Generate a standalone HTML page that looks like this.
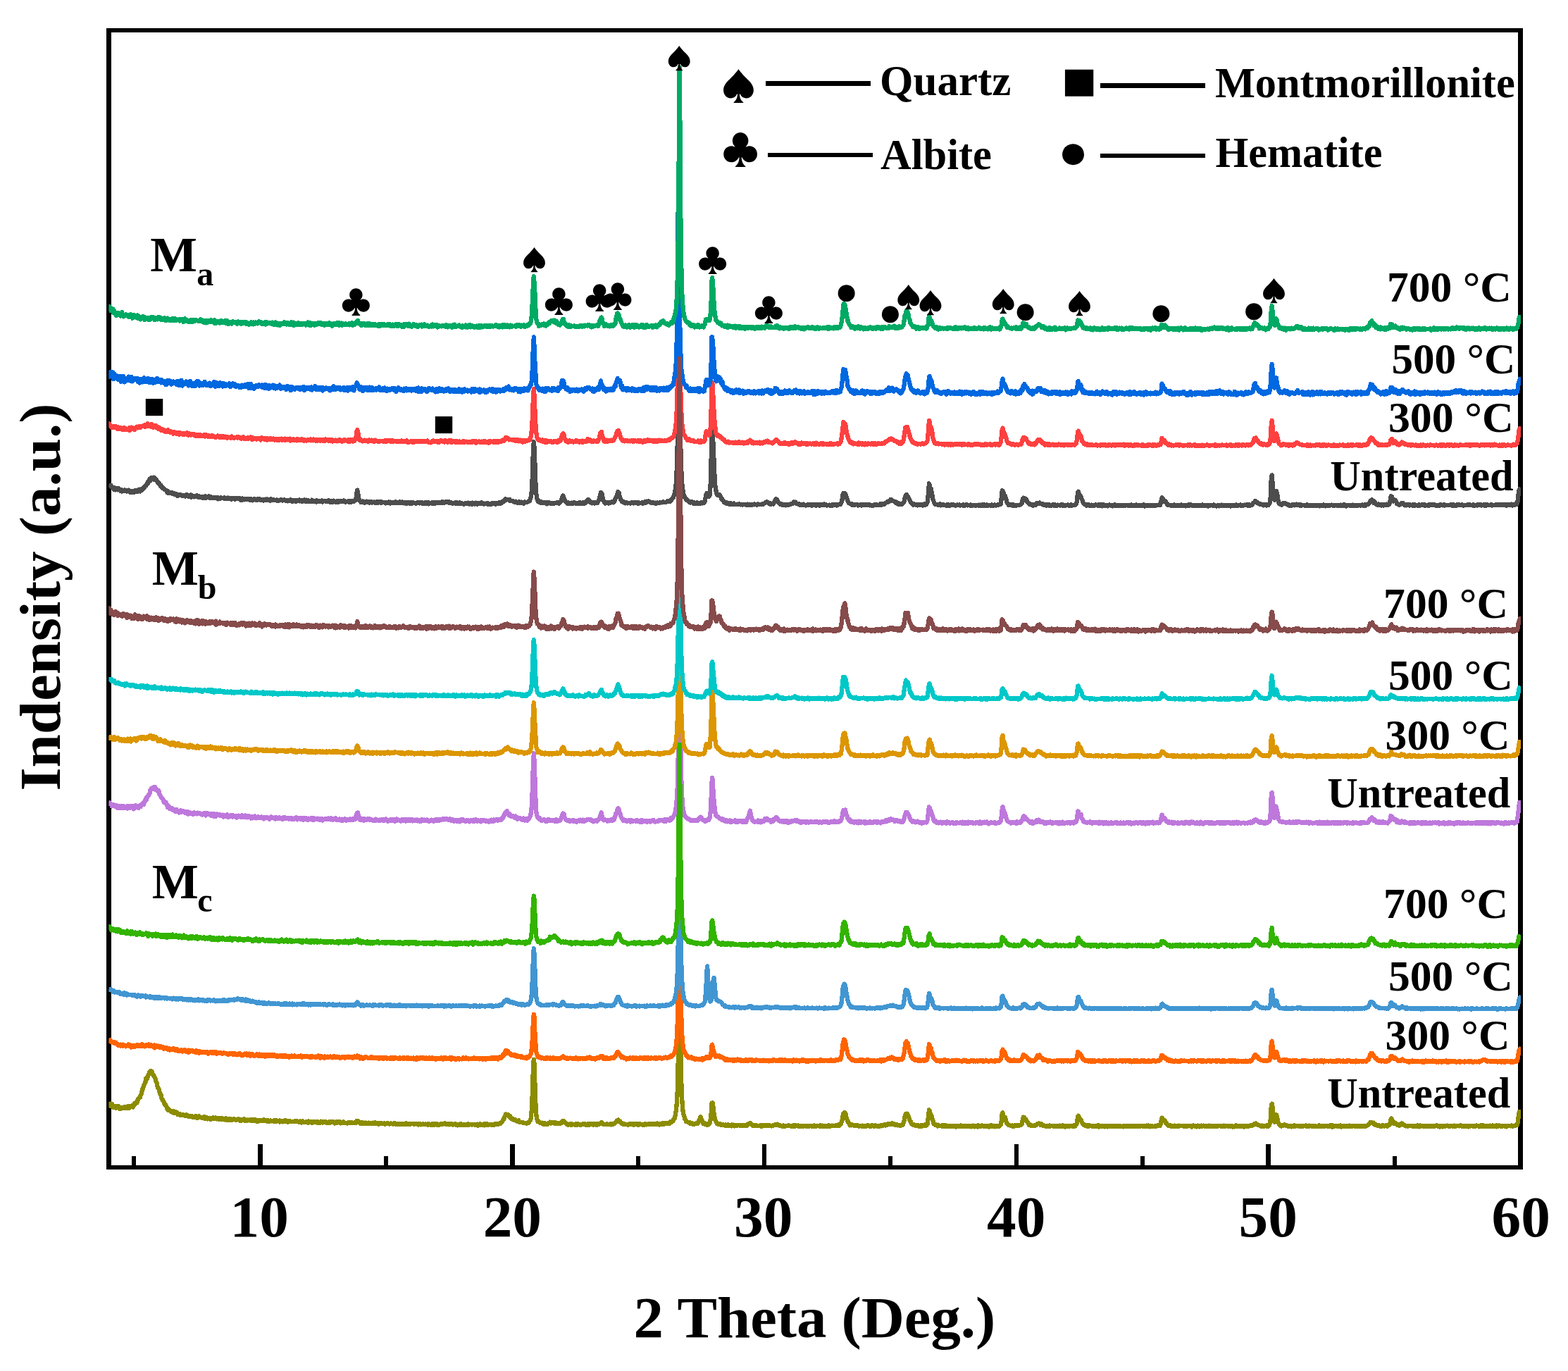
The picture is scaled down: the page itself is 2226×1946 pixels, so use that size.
<!DOCTYPE html>
<html lang="en"><head><meta charset="utf-8"><title>XRD patterns</title>
<style>html,body{margin:0;padding:0;background:#fff}body{width:2226px;height:1946px;overflow:hidden}svg{display:block}text{font-family:"Liberation Serif","Times New Roman",serif;font-weight:bold;fill:#000}.sym{font-family:"Noto Sans CJK SC","DejaVu Sans",sans-serif;font-weight:normal}.c path{fill:none;stroke-width:6.3;stroke-linejoin:round;stroke-linecap:butt}</style></head><body>
<svg width="2226" height="1946" viewBox="0 0 2226 1946">
<rect width="2226" height="1946" fill="#fff"/>
<g id="frame" fill="#000" shape-rendering="crispEdges">
<rect x="151.2" y="40" width="6.8" height="1620.3"/>
<rect x="2155.1" y="40" width="6.8" height="1620.3"/>
<rect x="151.2" y="40" width="2010.7" height="6"/>
<rect x="151.2" y="1654" width="2010.7" height="6.3"/>
<rect x="366.0" y="1624" width="6.7" height="31"/>
<rect x="723.9" y="1624" width="6.7" height="31"/>
<rect x="1081.7" y="1624" width="6.7" height="31"/>
<rect x="1439.6" y="1624" width="6.7" height="31"/>
<rect x="1797.4" y="1624" width="6.7" height="31"/>
<rect x="187.4" y="1641" width="6" height="14"/>
<rect x="545.2" y="1641" width="6" height="14"/>
<rect x="903.1" y="1641" width="6" height="14"/>
<rect x="1261.0" y="1641" width="6" height="14"/>
<rect x="1618.8" y="1641" width="6" height="14"/>
<rect x="1976.7" y="1641" width="6" height="14"/>
</g>
<clipPath id="pc"><rect x="154.4" y="0" width="2004.6" height="1660"/></clipPath>
<g class="c" shape-rendering="crispEdges" clip-path="url(#pc)">
<path id="cv_a0" stroke="#4d4d4d" d="M154.5 686.6l.7 1.9l.7 1l.7 .2l.8-1l.7 2.5l.7 .2l.7 .4l.7 .6l.7 .8l.8 1.4l.7-2.2l.7 1l.7 1.9l.7-2.6l.7 1.8l.8-.7l.7 .8l.7 .7l.7-2.1l.7 1.1l.7-.2l.7 1.2l.8-.2l.7 2.1l.7-1.8l.7 2.3l.7-1.8l.7 .7l.8-.1l.7 .1l.7-1l.7 1.4l.7 .2l.7-.1l.8 .4l.7-1.2l.7 .5l.7-.3l.7-.8l.7 1.8l.7-.8l.8 .5l.7 2.1l.7-1.7l.7-.1l.7 .8l.7 .2l.8 .5l.7-2.1l.7 2.1l.7-1.7l.7-1l.7 .2l.7 1.7l.8-.4l.7 .4l.7-2.1l.7 .4l.7-.9l.7-.9l.8 1.5l.7 1.2l.7-.8l.7-2.1l.7 1.4l.7-2l.8 .3l.7-.1l.7-1.8l.7-1.2l.7 .8l.7-1.6l.7-1.2l.8 .3l.7-1.8l.7-.3l.7-2.4l.7 .8l.7-2.8l.8-.3l.7-2.5l.7 2.5l.7-1.9l.7-.2l.7-2.8l.8 1.7l.7-.7l.7 1.7l.7-2.8l.7 2.4l.7 1.1l.7-1.9l.8 1.9l.7-.6l.7 1.9l.7 1.1l.7 1.8l.7-.4l.8 0l.7 2.2l.7 .2l.7 2l.7-.9l.7 2.8l.7-.4l.8 .9l.7 1.5l.7-.7l.7 .7l.7 1.6l.7 .1l.8 .7l.7 .1l.7 .7l.7 1.5l.7 1.4l.7-2.5l.8 2.9l.7-.3l.7 .7l.7-.5l.7-.5l.7 .7l.7-.4l.8-.4l.7 1.6l.7 .4l.7-.2l.7 .5l.7-1.2l.8 2.2l.7-.8l.7 .3l.7 .6l.7-.9l.7 2.4l.8-.7l.7 .1l.7-.8l.7-.6l.7 1.1l.7-.9l.7 .8l.8 .1l.7 .9l.7-.6l.7-.2l.7 1.1l.7-1.1l.8-.3l.7 .1l.7 1.6l.7-1l.7-.4l.7-1.1l.8 .8l.7 1.1l.7 .3l.7 .9l.7-1.7l.7 .9l.7 .7l.8-2.6l.7 3.4l.7-2.5l.7 .1l.7 1.6l.7-.3l.8 .7l.7-.4l.7-.2l.7-.3l.7-.4l.7 1.1l.8-1.9l.7 1.4l.7 .8l.7-1.4l.7 1.5l.7 .2l.7-.6l.8-.2l.7 .6l.7 .1l.7-.6l.7 1.8l.7-.3l.8-.4l.7 .4l.7-.1l.7-1.9l.7 2.7l.7-2.6l.7 1.2l.8-.9l.7 1.3l.7 0l.7-.1l.7-1.8l.7 2.3l.8-.4l.7-1.6l.7 2.6l.7-1.2l.7-.3l.7 .9l.8-.7l.7 .7l.7-.5l.7-.3l.7-.1l.7 1.4l.7-.5l.8-.5l.7 .1l.7-.1l.7 2.2l.7-1.2l.7-.1l.8 1l.7-1.6l.7-.2l.7 .4l.7 .6l.7-.3l.8 0l.7 .4l.7-.4l.7-.5l.7 1.4l.7-.7l.7 0l.8 .6l.7 0l.7-1.1l.7 .4l.7-.5l.7 .2l.8 1.1l.7-.5l.7-.3l.7-.3l.7 1.9l.7-1.2l.7 .5l.8-.2l.7-.5l.7 1l.7-.2l.7 .8l.7-.4l.8-1.3l.7 .8l.7 .1l.7 0l.7-.8l.7-.2l.8 1.1l.7 .3l.7-1l.7 2.1l.7-.8l.7-.7l.7 1.7l.8-2.4l.7 .4l.7 0l.7 1.5l.7-1.3l.7 1.1l.8-.3l.7-.6l.7 .5l.7-.8l.7 1.4l.7-1.2l.8 .1l.7 1l.7-.7l.7 1.6l.7-.3l.7-2l.7 1.2l.8-.2l.7 1.6l.7-1.8l.7 0l.7 .3l.7 0l.8-.4l.7 .8l.7-.6l.7-.1l.7 1.6l.7-.9l.8-.8l.7-.2l.7 .7l.7-.6l.7 0l.7 1.6l.7-.8l.8-.2l.7 .5l.7-.5l.7 .4l.7 1.2l.7-1.2l.8-.3l.7-.4l.7 1.2l.7-.5l.7 .4l.7-1.3l.8 .8l.7 .4l.7 .3l.7-.2l.7-.3l.7 1l.7-.8l.8-1.4l.7 .6l.7 .8l.7 .2l.7-1l.7 .1l.8 1.1l.7-.1l.7 .1l.7 .2l.7-.4l.7-.5l.7 1.4l.8-.2l.7 .5l.7-.8l.7-.2l.7 .1l.7 .1l.8-1.4l.7 1.1l.7-.1l.7 .5l.7 0l.7-.4l.8-.1l.7-.5l.7 1l.7-.4l.7 .1l.7 .9l.7 0l.8-.9l.7 1.3l.7-.6l.7-.4l.7-.6l.7 0l.8 1.2l.7-1.8l.7 2.3l.7-.6l.7-.7l.7 1.3l.8-.9l.7-.9l.7 .4l.7-.3l.7 0l.7 2l.7-1.2l.8-.1l.7 .6l.7-.1l.7-.8l.7-.2l.7-.6l.8 1.9l.7-.8l.7 .8l.7-.6l.7-.8l.7 .5l.7 1.3l.8-1.3l.7 .7l.7-1.6l.7 .8l.7 1.2l.7-1.8l.8 1.9l.7-1l.7-.1l.7 1.4l.7-1.3l.7 1.1l.8-.9l.7 .5l.7 .4l.7 .1l.7-.9l.7-1.2l.7 2.5l.8-1.4l.7 1.2l.7-1.3l.7 .2l.7 .4l.7-.1l.8 1.3l.7-2.3l.7 .7l.7 .6l.7 .1l.7-.2l.8 .1l.7 .5l.7-1l.7 0l.7 .3l.7 .5l.7-1.3l.8 2.1l.7-1.4l.7-.1l.7 .2l.7-.5l.7 .1l.8 .4l.7 .5l.7 .2l.7-.7l.7 .1l.7 .5l.8-1.5l.7 1.1l.7 .8l.7 .4l.7-1.2l.7-.7l.7 .5l.8 1.2l.7 .5l.7-1.4l.7-.8l.7 1l.7 .4l.8 .1l.7-.3l.7 1.1l.7-1.3l.7 1.3l.7-1.9l.8 1.5l.7-.2l.7-.1l.7-1l.7 .4l.7-.6l.7 .7l.8 .2l.7 .2l.7-1.1l.7 .3l.7-.8l.7 1.3l.8-.6l.7 1.2l.7-.9l.7 .6l.7-.5l.7 .2l.7-.1l.8-.6l.7 1.3l.7-1.1l.7 1.3l.7-2.1l.7 1l.8 .8l.7 0l.7-1.7l.7 1.2l.7 0l.7-.1l.8-.5l.7-.6l.7-.3l.7-1.8l.7-3.7l.7-6l.7-3.4l.8 4.2l.7 3.5l.7 4.6l.7 2.2l.7 1.3l.7 .4l.8 1.3l.7-.7l.7 .3l.7-.7l.7-.4l.7 .5l.8-.1l.7 1.6l.7-.3l.7-.3l.7-.6l.7-.7l.7 .6l.8-.1l.7-.1l.7 .7l.7 .8l.7 .2l.7-1.3l.8 .2l.7 .2l.7-.6l.7 1.2l.7-.5l.7-.2l.7 .3l.8-.6l.7 .2l.7 .9l.7-.2l.7-.5l.7-.9l.8 2.1l.7-.9l.7 .3l.7-1.1l.7 .9l.7 0l.8-.1l.7 .5l.7-1.7l.7 1.7l.7-.9l.7 0l.7 .3l.8 .2l.7-.1l.7-.3l.7 .6l.7 .9l.7-.8l.8-.6l.7 .9l.7-.2l.7-.9l.7 1.2l.7-1.5l.8 1l.7 .9l.7-1.8l.7 .4l.7-.2l.7 1.3l.7-1.2l.8 .4l.7 .3l.7 .3l.7-.1l.7-1l.7-.6l.8 1.7l.7-.5l.7 .4l.7-.7l.7 .3l.7 .8l.8-1.6l.7 .7l.7-.7l.7 1.6l.7-.6l.7-.6l.7-.4l.8 1l.7 0l.7-.1l.7 .8l.7-1.3l.7 1l.8 .5l.7-1.2l.7 .8l.7 .4l.7-1.6l.7 .4l.8-.3l.7 1l.7 .8l.7-1.9l.7 .9l.7 1.2l.7-1.6l.8 .7l.7 0l.7-.6l.7 .8l.7-.3l.7-.2l.8-.1l.7 .9l.7-.6l.7-.5l.7 .1l.7 .5l.7 .1l.8-1.1l.7 1.3l.7-1.1l.7-.3l.7 .8l.7 .4l.8 .3l.7-1.1l.7 .4l.7 .8l.7-.6l.7 .7l.8-.3l.7-1.2l.7 .4l.7 1l.7-1.7l.7 1.7l.7-.6l.8-.4l.7 1.7l.7-1.7l.7 .2l.7 .2l.7 0l.8 .4l.7 0l.7-1.5l.7 1.9l.7-.1l.7-.1l.8-.3l.7-1.1l.7 1.2l.7-.7l.7-.4l.7 .6l.7 .3l.8-1l.7-.1l.7 .9l.7 .1l.7-.9l.7 .3l.8-.2l.7 .7l.7-.8l.7-1.3l.7 .5l.7 1.1l.7 0l.8-.1l.7-.9l.7-.5l.7 1l.7-.5l.7-.1l.8-.2l.7 .6l.7-.6l.7 .4l.7 1.4l.7-1.1l.8 .9l.7-.5l.7 .3l.7 0l.7 1.2l.7-.9l.7 0l.8 .1l.7-.3l.7 1l.7-1l.7-.3l.7 1l.8 .2l.7-.9l.7 .9l.7-.2l.7-.8l.7-.2l.8 1.3l.7-.1l.7 .4l.7-1.1l.7 1.4l.7-.6l.7 .2l.8 .8l.7-1l.7-.1l.7-.1l.7-.6l.7 .8l.8-.8l.7 .2l.7-.4l.7 1.4l.7-.4l.7 .7l.8-1l.7 .1l.7-.1l.7-.2l.7 1.5l.7-2.1l.7 1.8l.8 0l.7-.9l.7 .3l.7 .8l.7-.8l.7-1.1l.8 .7l.7 1.1l.7-1.2l.7 1.1l.7-.8l.7 .6l.8-.7l.7-.1l.7 .2l.7-1l.7 1.5l.7-1.5l.7 1.1l.8-.5l.7 .8l.7 .5l.7-.7l.7-.2l.7 .3l.8 .1l.7 .2l.7-.7l.7 .9l.7-1.2l.7 .5l.7 1.2l.8-1.1l.7 .3l.7-.2l.7 0l.7 .9l.7-1.1l.8-.8l.7 .7l.7 .2l.7-.4l.7-.1l.7 1l.8-.4l.7 .6l.7-.8l.7-.8l.7 .5l.7-.1l.7-.1l.8 .6l.7-1.5l.7 .8l.7 .8l.7-1.7l.7 .7l.8-.8l.7-1.4l.7-.2l.7 .8l.7-2l.7-.2l.8-.7l.7-1.2l.7 1.3l.7-.1l.7-.3l.7-.2l.7-.2l.8 .2l.7 1.5l.7-1.6l.7 2.2l.7-.1l.7 .3l.8 0l.7-.5l.7 .3l.7 .5l.7 .5l.7 .6l.8-.5l.7 .3l.7-.7l.7 1.1l.7-.2l.7 .9l.7-.4l.8-.4l.7-.6l.7 1.7l.7-1.4l.7 .8l.7 .5l.8 0l.7-1.1l.7 .1l.7 1.3l.7-.2l.7 .8l.7-1.7l.8-.5l.7 .2l.7 .1l.7 .1l.7 .3l.7-.2l.8-.6l.7-.7l.7 .2l.7-1.1l.7 .1l.7-2.3l.8-2.7l.7-3.5l.7-8.9l.7-14.4l.7-23.3l.7-19.1l.7-9.5l.8 8.7l.7 19.9l.7 21.5l.7 15.7l.7 8.6l.7 4.8l.8 3.1l.7 2l.7 .7l.7-.9l.7 0l.7 2.3l.8 .2l.7-.7l.7-.7l.7 1.9l.7-1l.7 0l.7 .4l.8 .3l.7-.9l.7 .2l.7 .8l.7 0l.7-.8l.8 2.1l.7-.6l.7-.3l.7 .1l.7-1.5l.7 1.2l.8 .3l.7-.2l.7 .1l.7 .1l.7 .6l.7-.3l.7-.9l.8 .9l.7-.8l.7 .3l.7 .1l.7-.2l.7-.1l.8 .2l.7 0l.7-1.4l.7 1.1l.7-.5l.7 1.2l.7-1l.8-.9l.7-.1l.7-1.4l.7-1.6l.7-4l.7-.8l.8-1.3l.7 2.7l.7 1.4l.7 1.5l.7 1.9l.7 1.3l.8 .5l.7 .1l.7 .1l.7 1.5l.7-1.2l.7 .9l.7 .3l.8-.2l.7-.3l.7 .4l.7-.6l.7-.3l.7 1.1l.8-.1l.7 .2l.7-.6l.7-1.1l.7 .9l.7-.2l.8 1l.7-1l.7 .9l.7-.4l.7 .1l.7 0l.7 .1l.8-.9l.7 1.2l.7-1.5l.7 .5l.7-.1l.7 .8l.8-.9l.7 1.4l.7-1.5l.7 1.7l.7-.9l.7-.1l.7-.5l.8-.1l.7-1.7l.7-1.3l.7 .4l.7-1l.7-.9l.8 .3l.7 .9l.7 1.2l.7 1.3l.7-.1l.7 .8l.8 .8l.7-.7l.7 .5l.7-.6l.7 .3l.7-.2l.7 .8l.8-.9l.7-.5l.7 .7l.7-.6l.7 .8l.7-1l.8-1.4l.7-1.9l.7-1.7l.7-3.3l.7-3.3l.7-2.1l.8 1.8l.7-.2l.7 4.1l.7 3.6l.7 2.5l.7 .7l.7 1.1l.8 .1l.7 1.6l.7-1.4l.7 .6l.7-.6l.7 .9l.8-.8l.7 1.3l.7-1.2l.7 .2l.7 0l.7 .2l.8-.6l.7-.8l.7-.2l.7 .8l.7 .5l.7-.5l.7-1l.8-.6l.7-2l.7-1.8l.7-1.6l.7-1.5l.7-2l.8-2.4l.7-2.1l.7 1.3l.7 .2l.7 4.7l.7 1.4l.8 3l.7 1.7l.7 .3l.7 1.5l.7 .3l.7-.4l.7 1.4l.8 .1l.7 .1l.7 .9l.7-1.4l.7-.2l.7 1.4l.8 .2l.7-.3l.7-.3l.7 .2l.7-.1l.7 0l.7-.2l.8 .8l.7-.9l.7-.5l.7 .8l.7-.4l.7-.1l.8 .8l.7-1l.7 .1l.7 .2l.7-.1l.7 .2l.8 .1l.7-.5l.7-.1l.7 1.9l.7-1l.7-.4l.7 .5l.8-.2l.7 0l.7-.3l.7 0l.7-.1l.7 1.2l.8-1.2l.7 .4l.7-.1l.7-1.4l.7 1.5l.7-.8l.8-1.4l.7 1.6l.7-.6l.7-.6l.7-.6l.7-.1l.7 .6l.8 .1l.7 1.2l.7 0l.7 .5l.7-.4l.7 0l.8 0l.7 0l.7 .1l.7 .3l.7 0l.7-.2l.7 1.3l.8-1.2l.7 .1l.7-.3l.7 .6l.7 0l.7-.5l.8 .5l.7-.3l.7-1.1l.7 0l.7 .1l.7 .6l.8-.5l.7-.6l.7 .5l.7 .3l.7-.1l.7 0l.7-.3l.8 .1l.7-.3l.7-.5l.7-.5l.7 .5l.7 .2l.8-1l.7-.2l.7 .5l.7 .2l.7-.7l.7-1.9l.8-.8l.7-.6l.7-.8l.7-1.3l.7-3.5l.7 0l.7-3.6l.8-6l.7-6l.7-12.2l.7-17.4l.7-29.9l.7-60l.8-90.5l.7-62.4l.7 62.7l.7 92l.7 56.7l.7 33.5l.8 15.1l.7 12.7l.7 6l.7 5.4l.7 3l.7 2.3l.7 1.7l.8 1.7l.7 .6l.7 1.2l.7-.3l.7 1.8l.7 .2l.8 .8l.7 0l.7 1.5l.7-.5l.7 .2l.7 1.1l.8-1.2l.7 .9l.7-.7l.7 .4l.7 .1l.7 1.6l.7-1.3l.8 .9l.7-.1l.7 .6l.7-.9l.7-.5l.7 .1l.8 1.5l.7-.4l.7 .5l.7 0l.7-.6l.7-.2l.7 .3l.8-1.1l.7 .5l.7 .1l.7 .4l.7-1.6l.7-.3l.8 1l.7-1.8l.7-3.4l.7-3.7l.7-2.8l.7-1.9l.8 .9l.7 2.3l.7 .8l.7 1l.7-1.1l.7-1.2l.7-8.3l.8-16.5l.7-33.8l.7-38.6l.7-6.2l.7 15.4l.7 19.1l.8 17.1l.7 16.3l.7 15.3l.7 9l.7 3.1l.7 4.5l.8 2.7l.7-.2l.7 1.5l.7-.9l.7 .7l.7 .2l.7-.5l.8 2.2l.7 .7l.7 2.5l.7-.7l.7 1.8l.7 1l.8 1.2l.7 .4l.7 1.8l.7-.4l.7 .3l.7 .4l.7 .7l.8-1.1l.7 .6l.7 .6l.7-.3l.7 .6l.7-.9l.8 2.1l.7-.8l.7 0l.7-.6l.7 1.1l.7 .1l.8-.7l.7 .3l.7-.7l.7 .9l.7 0l.7 .5l.7-.2l.8 .4l.7-.7l.7 .2l.7-.1l.7 .1l.7-.3l.8 .3l.7-.2l.7 .8l.7-.3l.7-.1l.7-.2l.8 .7l.7-.4l.7 .2l.7-.5l.7 .4l.7-.5l.7 .1l.8 0l.7 1.1l.7-.7l.7 .7l.7-1.2l.7 .6l.8-.4l.7 .4l.7 .7l.7-.1l.7-1.1l.7 .8l.8 .1l.7-.5l.7-.1l.7-.3l.7 .5l.7-.7l.7 .5l.8 .2l.7-.4l.7-.2l.7 .9l.7-.5l.7-.6l.8 .6l.7 .2l.7-.4l.7 .4l.7-.1l.7 0l.8-.5l.7-.2l.7 .5l.7-.6l.7-.3l.7-.4l.7-.6l.8-.5l.7-.5l.7-.5l.7-.6l.7 1l.7 0l.8 .1l.7 1.2l.7 1l.7-1.1l.7 .9l.7 .8l.7-1.2l.8 .7l.7-.2l.7-.5l.7 .7l.7-1.2l.7-1.5l.8-2.1l.7-.5l.7-1.7l.7 .4l.7-.1l.7 1.6l.8 2.1l.7 .9l.7 .5l.7 .9l.7 .2l.7 1.1l.7-.6l.8 .4l.7-.4l.7 .8l.7 1l.7-1.1l.7 0l.8 0l.7 .3l.7 .2l.7 .8l.7-.4l.7-.5l.8-.6l.7 1.1l.7-.5l.7-.6l.7 .4l.7-.3l.7 .3l.8-.6l.7-1l.7 .2l.7 .2l.7-1.2l.7-.9l.8-.5l.7 1.5l.7-.4l.7-.9l.7 1.3l.7 .9l.7 .3l.8-.3l.7 .6l.7-.6l.7 1l.7 .2l.7 .6l.8-.4l.7-.1l.7 1.1l.7-.3l.7-.7l.7-.7l.8 .2l.7 .8l.7 0l.7 0l.7 .5l.7 .4l.7-.4l.8-.3l.7 0l.7-.8l.7 1.2l.7-.6l.7 .6l.8-1l.7 .4l.7-.6l.7 .6l.7 1l.7-1.2l.8 .1l.7 0l.7 .4l.7-.6l.7 .2l.7-.4l.7 1.7l.8-1.3l.7 .2l.7-.5l.7 .6l.7-.2l.7-.8l.8 2.1l.7-1.3l.7 0l.7 .6l.7-1.4l.7 .9l.8-.5l.7 .2l.7 .2l.7-.9l.7 .8l.7 .4l.7-.6l.8 .6l.7-.3l.7 .8l.7-.7l.7 .2l.7-.1l.8-.2l.7 1l.7-.6l.7-.1l.7 .2l.7 .7l.8-1.4l.7 1l.7-1.1l.7 .4l.7 .4l.7 .2l.7-1l.8 .9l.7-.3l.7 .7l.7-1.7l.7 .8l.7-.5l.8-.1l.7 0l.7-.5l.7 .2l.7-.9l.7-2.1l.7-.6l.8-5.2l.7-5.7l.7-1.2l.7-.1l.7-.2l.7 .3l.8 2.3l.7 .6l.7 2.4l.7 2.2l.7 2l.7 1.5l.8 1.7l.7 1.6l.7 .1l.7 .6l.7 0l.7 .3l.7-.3l.8 1.8l.7-.9l.7-.3l.7 .6l.7-.1l.7 .8l.8-.4l.7-.7l.7 .4l.7-.2l.7 .4l.7-.7l.8 1.6l.7-.6l.7-.1l.7 .1l.7 .2l.7-.7l.7 .5l.8 .7l.7-.1l.7-1.2l.7 .3l.7 .1l.7-.7l.8 .6l.7 .3l.7 .2l.7-.3l.7-.6l.7 .6l.7-.3l.8 .8l.7 0l.7-.6l.7 .8l.7-.8l.7 .3l.8 .6l.7-.4l.7-.4l.7 .2l.7 .9l.7-1.1l.8 .3l.7-.7l.7 .7l.7-.5l.7 .6l.7-.8l.7 .7l.8-.3l.7 .1l.7 0l.7 .1l.7-.8l.7-.6l.8 .8l.7 .3l.7-1l.7 .9l.7-1.2l.7 .4l.8-.3l.7-.3l.7 .4l.7-1.7l.7-.2l.7-.2l.7 0l.8-1.1l.7 .8l.7-1.2l.7-.4l.7-.7l.7 .6l.8 0l.7-2.5l.7 1.7l.7-.9l.7 1.1l.7 .1l.8 .4l.7 .1l.7 .2l.7 1.2l.7-.6l.7 1.8l.7 0l.8-.8l.7 .2l.7 2.1l.7-.7l.7-.2l.7 1.2l.8-.3l.7 .3l.7-.2l.7 .1l.7 .1l.7-.1l.8-1.9l.7 0l.7-1.2l.7-2.3l.7-3.8l.7-2.3l.7-1.3l.8-.8l.7 .9l.7 1.2l.7 .4l.7 2.4l.7 .4l.8 2.3l.7 1l.7 1.6l.7 .4l.7 1.1l.7 .7l.7 .7l.8 1.2l.7-1.4l.7 1.3l.7-.6l.7 .5l.7-.1l.8 .2l.7 .8l.7-.8l.7 1l.7-1.3l.7 .6l.8-.2l.7-.4l.7 .8l.7-.5l.7 .7l.7-.8l.7 .5l.8 0l.7 .7l.7-.7l.7-.6l.7-.6l.7 .7l.8 .4l.7-.5l.7-1.2l.7-.4l.7-2.3l.7-6.9l.8-11.1l.7-7.9l.7 2.1l.7 5.1l.7-.1l.7 .3l.7 5l.8 2.7l.7 5.1l.7 3.5l.7 1.2l.7 1.9l.7 1.8l.8 .7l.7 0l.7 .5l.7-.3l.7 .5l.7-.3l.7 .7l.8-.6l.7 .4l.7 .2l.7-1.2l.7 1.9l.7-1.5l.8 .7l.7 0l.7 .1l.7-.9l.7 1.3l.7-.1l.8 0l.7 .1l.7 .4l.7-.7l.7-.2l.7 .8l.7-1l.8 .4l.7-.3l.7 1l.7-.5l.7 .5l.7-.2l.8-.8l.7 .5l.7-.4l.7-.4l.7 .9l.7-.5l.8 .4l.7 0l.7 .8l.7-.9l.7-.1l.7 .2l.7-.4l.8 .5l.7 .2l.7-.5l.7-.3l.7 .2l.7 .8l.8-.8l.7 .4l.7-.4l.7 0l.7 .7l.7-1.1l.8 1.5l.7-.6l.7 .3l.7-.7l.7-.2l.7-.5l.7 .7l.8 .6l.7-.2l.7 .1l.7-.6l.7 .1l.7 .8l.8-1.1l.7 .1l.7 1.3l.7-.5l.7 .2l.7-.6l.7-.3l.8 .4l.7 .2l.7 .4l.7 .3l.7-1l.7 .4l.8-.6l.7 .1l.7 .1l.7-.4l.7 0l.7 1.6l.8-1.5l.7 1.3l.7-1.1l.7 .5l.7-.9l.7 1.6l.7-.7l.8-.9l.7 .7l.7 .3l.7-1l.7 1.3l.7-.8l.8 .2l.7-.7l.7 .5l.7 .7l.7-.5l.7-.3l.8-.2l.7 .1l.7 .8l.7-.6l.7-.4l.7 1.1l.7-.6l.8 .8l.7 0l.7-.7l.7-.6l.7 .2l.7 .7l.8-.1l.7-.5l.7 .4l.7-.4l.7-.9l.7 .9l.8-.5l.7-.2l.7-.7l.7 .1l.7-3.9l.7-7.6l.7-7.7l.8 .5l.7 .8l.7 3l.7 2.5l.7-.1l.7 1.4l.8 1.9l.7 2.9l.7 2.2l.7 2.3l.7 .7l.7 1.1l.7 1.3l.8-.7l.7 .2l.7 .1l.7-.5l.7 1.1l.7-.7l.8 1.2l.7-1.1l.7 1.1l.7-1l.7 .7l.7-.5l.8 .8l.7 .2l.7-.9l.7 0l.7-.1l.7 0l.7 .1l.8 .1l.7 0l.7-.6l.7 .1l.7-.6l.7-.9l.8-.6l.7-3.5l.7-2.7l.7-1.6l.7 .1l.7 .3l.8 .9l.7 1.8l.7-1.4l.7 1.1l.7 2.3l.7-.2l.7 2.2l.8 .2l.7 .6l.7 .2l.7 1.5l.7-.7l.7 .9l.8-.1l.7 .6l.7-.5l.7 1.1l.7-.4l.7 .3l.8-1.4l.7 .7l.7 .2l.7-.6l.7-1.5l.7-.7l.7-.1l.8-.1l.7 .9l.7-.2l.7-1l.7 1.2l.7 .2l.8 .4l.7-.2l.7 0l.7 .2l.7 .9l.7-.7l.8 .5l.7 1.1l.7 .1l.7-.1l.7-.6l.7 1l.7-1.5l.8 .4l.7 .4l.7 .4l.7-.9l.7 1.1l.7-.5l.8 0l.7-.2l.7 .9l.7-1l.7-.3l.7 .9l.7 .2l.8-.2l.7-1.2l.7 1.3l.7-.4l.7-.3l.7 .8l.8 .3l.7-1.1l.7 .5l.7-.4l.7 .5l.7-.2l.8 .4l.7-.5l.7-.5l.7 .9l.7-.1l.7 .5l.7-1.2l.8 .6l.7 .9l.7-1l.7 .5l.7-.2l.7 .1l.8-.6l.7-.2l.7-.2l.7 .3l.7 .6l.7 .4l.8-.9l.7 .4l.7 .2l.7-1.2l.7 .6l.7 .7l.7-.4l.8-.3l.7 .1l.7-.3l.7 .4l.7-.6l.7-.8l.8-.6l.7-2.9l.7-6.4l.7-6.3l.7-1.8l.7 2.1l.7 3.5l.8 2l.7-1.6l.7 1.4l.7 1.5l.7 2l.7 1.8l.8 1.7l.7 1.5l.7 1.5l.7 .7l.7 .6l.7-.4l.8-.1l.7 .5l.7 1.3l.7-1.1l.7-.3l.7-.2l.7 .9l.8 .6l.7-.8l.7 1l.7-1.1l.7-.1l.7 .3l.8 .8l.7-.7l.7-.1l.7 .2l.7 .7l.7-.4l.8 0l.7-1l.7 .7l.7 .3l.7 .2l.7 0l.7-1l.8 1.2l.7-.9l.7 1l.7-1.6l.7 1.3l.7-.2l.8 .9l.7-1l.7-1.1l.7 1.4l.7-.5l.7-.1l.8 1l.7-.3l.7-.2l.7-.1l.7 .2l.7 .7l.7 .1l.8-1.2l.7-.4l.7-.3l.7 .4l.7 .5l.7-.6l.8 .5l.7-.1l.7 1.1l.7-.9l.7 .2l.7 .2l.8-1.4l.7 1.5l.7-.4l.7 .2l.7-.4l.7 .7l.7-.7l.8 .2l.7 .7l.7-.1l.7-1.3l.7 .3l.7 .3l.8-.1l.7 .1l.7 .4l.7-.1l.7 0l.7 .2l.7-1.1l.8 .4l.7 .8l.7-1.1l.7-.1l.7 .4l.7-.4l.8 .4l.7 .8l.7-.6l.7 0l.7-.5l.7-.2l.8 1.3l.7-1.6l.7 .5l.7 1.3l.7-.8l.7-.6l.7 1.2l.8-.8l.7 .2l.7 .5l.7-.8l.7-.6l.7 .9l.8 .7l.7-.5l.7 0l.7-.6l.7 .5l.7 .7l.8-.2l.7-.6l.7 .6l.7-.7l.7 .8l.7-1.3l.7 .7l.8-1.2l.7 1l.7 1.2l.7-1.2l.7 .9l.7-.5l.8 .5l.7-1l.7 0l.7 .2l.7 0l.7 0l.7 .2l.8-.6l.7 .7l.7 .3l.7-1l.7-.1l.7 .9l.8-.3l.7 .3l.7-1l.7 .3l.7 .4l.7-.5l.8 .4l.7-.1l.7-.5l.7 .2l.7-.4l.7-.2l.7 0l.8 .7l.7-1.9l.7-2.2l.7-4.3l.7-2.3l.7 1l.8 .3l.7 1.8l.7 1.1l.7 1.3l.7-.4l.7-.3l.8 1.5l.7 1.8l.7 .4l.7 1.7l.7-.2l.7 0l.7 .5l.8 .4l.7-.2l.7-.3l.7 .8l.7 .1l.7-.4l.8 .4l.7 .1l.7-.2l.7-1l.7-.1l.7 .9l.8 .3l.7-.4l.7-.4l.7 .6l.7-.6l.7 .1l.7 .4l.8 .3l.7 0l.7-.4l.7 .1l.7 .7l.7-1.6l.8 1l.7 .2l.7 .2l.7-.4l.7-.3l.7 .9l.8-.8l.7 .1l.7 .9l.7-.7l.7-.3l.7-.1l.7 .6l.8-1.4l.7 .8l.7 .2l.7 .1l.7-1.1l.7 .8l.8 .4l.7-.7l.7 .1l.7-.3l.7 1.3l.7 .1l.7 0l.8-1l.7 .4l.7 .2l.7 .4l.7-1.1l.7 .9l.8-.2l.7 .2l.7 0l.7-.7l.7 .5l.7-.5l.8-.4l.7 .8l.7-1l.7 1.6l.7-.4l.7-.5l.7 .5l.8-.5l.7 .3l.7-.6l.7 1l.7-1.1l.7 .2l.8 1.4l.7-.7l.7-.7l.7 .8l.7-1l.7 .5l.8-.4l.7 .2l.7 .3l.7 .2l.7 .3l.7-.6l.7-.8l.8 1l.7-.1l.7 .6l.7-.4l.7 .7l.7-.4l.8-.6l.7 .3l.7-.2l.7 .9l.7-1.4l.7 .4l.7 .4l.8-.8l.7 .9l.7-1.2l.7 1.4l.7-.4l.7-.3l.8 .1l.7-.6l.7 1l.7 0l.7-1l.7 .8l.8-.3l.7 .1l.7-.6l.7 1.4l.7-.3l.7-.8l.7 .3l.8 .9l.7-.9l.7-.1l.7 .3l.7 .1l.7-.4l.8 .1l.7 .5l.7-.8l.7 0l.7 .3l.7-1l.8 .4l.7 .7l.7-.6l.7 .6l.7-.3l.7 .1l.7-.7l.8-.1l.7 0l.7 1.4l.7-.8l.7 .3l.7 .3l.8 0l.7-.7l.7-.5l.7 .4l.7 .2l.7-.1l.8 .1l.7-.8l.7 .6l.7-.3l.7 1l.7-1l.7-.4l.8 1l.7 .4l.7-.3l.7-.2l.7-.4l.7-.7l.8-.7l.7-1.3l.7-.3l.7-.4l.7-.8l.7-1.4l.8 1.7l.7-.5l.7 .8l.7 .7l.7-.4l.7 .9l.7 .9l.8-.5l.7 .6l.7 .7l.7-.8l.7 .3l.7 .7l.8-.3l.7 .4l.7 1l.7-.4l.7 .3l.7-1l.7 .9l.8-.5l.7 .7l.7-1l.7 .3l.7 0l.7 .4l.8-1l.7-1.4l.7-1l.7-3.6l.7-14.5l.7-19.3l.8-1.8l.7 9l.7 7.4l.7 9.3l.7 8.3l.7 1.2l.7-.6l.8-4.5l.7-6.4l.7-1.2l.7 3.2l.7 3l.7 5.6l.8 2.9l.7 3.2l.7-.3l.7 .8l.7 .2l.7 .4l.8 .5l.7 .1l.7-1.1l.7-.4l.7-1l.7 .6l.7-.9l.8 .4l.7 .8l.7 .5l.7-.3l.7 .7l.7 .4l.8 .6l.7-.5l.7 .2l.7 1.2l.7-.3l.7 .5l.7-.1l.8-.5l.7 .2l.7-1.3l.7 .2l.7 .4l.7 .5l.8-.4l.7-.5l.7-.5l.7 1.1l.7-1.4l.7 .6l.8 0l.7-.1l.7 .4l.7 .1l.7 .8l.7-1.1l.7 .4l.8-.3l.7 1.2l.7-.2l.7-.2l.7 0l.7-.2l.8 .3l.7 .3l.7-.1l.7-.3l.7 .4l.7-.4l.8-1l.7 1.6l.7-.8l.7 0l.7 .5l.7-.3l.7-.1l.8 .1l.7 .4l.7-.3l.7-.1l.7-.5l.7 1l.8-1l.7 .2l.7 .6l.7-.4l.7 .3l.7-.7l.8 .5l.7 .4l.7 .2l.7-.7l.7 .3l.7 .1l.7 .8l.8-1.5l.7 1.2l.7-1.2l.7 .6l.7 .4l.7-1.1l.8 .8l.7-1l.7 1.1l.7-.3l.7 .9l.7-.8l.8 .1l.7-.3l.7 .6l.7-.8l.7-.2l.7 .5l.7 .3l.8-.1l.7-.3l.7-.1l.7-.6l.7 .1l.7 .6l.8 .4l.7 .4l.7-.2l.7-.2l.7-.5l.7-.5l.7 .6l.8-.2l.7 0l.7 .6l.7-.6l.7 .1l.7 .2l.8 .1l.7 0l.7 .4l.7-1.2l.7 1.5l.7-1l.8-.3l.7 1l.7-1.6l.7 1.1l.7-1.1l.7 1.6l.7-.9l.8 1.4l.7-1.6l.7 1.3l.7-.9l.7 .1l.7-.3l.8 0l.7 .1l.7 .9l.7-.3l.7-.1l.7-.8l.8 .6l.7 .2l.7-.9l.7 1l.7 .2l.7-.5l.7-.1l.8 .2l.7-.6l.7 .9l.7 .4l.7-1l.7 .2l.8-.4l.7 0l.7 0l.7-.2l.7 .9l.7-.7l.7 .1l.8 .1l.7-.6l.7 1l.7-.1l.7 .2l.7-1.4l.8 .8l.7 .4l.7-1.5l.7 .4l.7-.5l.7 .3l.8-.4l.7-.8l.7-1.2l.7-.6l.7-2l.7 .4l.7-1.1l.8-1.1l.7 1.4l.7 .8l.7-1.1l.7 3.3l.7-1.1l.8-.2l.7 2.3l.7 .7l.7 .1l.7 0l.7 0l.8 1.3l.7-.4l.7-1l.7 1.5l.7 .1l.7-1.3l.7 .1l.8 1.5l.7-.7l.7-.2l.7 .1l.7 .8l.7-.7l.8-.4l.7 .8l.7-.4l.7 .1l.7 0l.7-1.1l.8 .9l.7-.1l.7 0l.7-.4l.7-.8l.7-2.3l.7-3.6l.8-5l.7 .5l.7 0l.7 2.4l.7 3.7l.7 .5l.8-.2l.7-1.8l.7 .8l.7-.4l.7 1.7l.7 1.5l.8 1.9l.7 .6l.7 .2l.7 .5l.7-.2l.7 .5l.7-.4l.8 0l.7-.4l.7-1.9l.7 0l.7-.2l.7 .3l.8 1.2l.7 .5l.7 .9l.7 .8l.7-1.2l.7 1l.7 .2l.8-.3l.7-1.2l.7 .4l.7 .1l.7 .7l.7 .5l.8-1.3l.7 .3l.7 .3l.7 .3l.7-.6l.7 .9l.8-.3l.7 .4l.7-1.1l.7 .9l.7-1l.7 1l.7-.1l.8 .1l.7 0l.7-.1l.7-.5l.7 1.1l.7-1.7l.8 1.5l.7-.6l.7-.2l.7-.4l.7 .3l.7 0l.8-.8l.7 1.2l.7-1l.7 .4l.7-.4l.7 1.8l.7-1l.8 .3l.7-.2l.7 0l.7-.1l.7-.4l.7 1.2l.8-.5l.7-.9l.7 .8l.7-.5l.7-.3l.7-.2l.7 .6l.8-.6l.7 .4l.7 .3l.7-.6l.7 .5l.7-.3l.8 1.3l.7-.9l.7 .8l.7-.2l.7-.1l.7-.7l.8 .1l.7 .8l.7-.2l.7-.9l.7-.6l.7 1.1l.7-.4l.8 .5l.7 .3l.7-.1l.7-.5l.7-.9l.7 1.6l.8-.3l.7-.5l.7 .3l.7 0l.7-.1l.7 0l.8 .2l.7-.4l.7 .2l.7 .1l.7-.5l.7 .1l.7-.4l.8 1.4l.7-.9l.7 1.1l.7-1.6l.7 1.2l.7 .1l.8-.3l.7 .1l.7 .4l.7 .1l.7-1.4l.7-.4l.8 0l.7 .7l.7-.1l.7 .1l.7-.1l.7 .3l.7 0l.8 .2l.7-.8l.7 .5l.7 .3l.7 .7l.7-.6l.8-.5l.7 .4l.7 .2l.7-.3l.7-.2l.7-.2l.8-.4l.7 .9l.7-.8l.7 .7l.7-.6l.7 .1l.7 .5l.8 .2l.7-.3l.7-.1l.7 .1l.7 .6l.7-1.2l.8 1.5l.7-.4l.7-.6l.7 .6l.7-.5l.7 0l.7 .6l.8-.2l.7-1.2l.7 .7l.7 .4l.7-1.3l.7 .8l.8-.9l.7 1.7l.7-.6l.7 .2l.7 0l.7 .1l.8-1l.7 1.1l.7-.9l.7 .3l.7 1.1l.7-1.4l.7 .6l.8 .3l.7-.9l.7 .4l.7 0l.7 .2l.7 .3l.8-.2l.7 0l.7-1.2l.7 .8l.7 .7l.7-.7l.8 0l.7 .4l.7-.4l.7 0l.7 .2l.7-.8l.7 .8l.8-1l.7 .6l.7-.6l.7 .3l.7 .1l.7 .9l.8 0l.7-.6l.7-.1l.7 .5l.7-1l.7 .9l.7-.5l.8 .8l.7-.2l.7-.5l.7 .3l.7-.4l.7-.6l.8 1.8l.7-.6l.7-.1l.7-.5l.7 0l.7-.2l.8 1l.7-1.1l.7 .3l.7-.1l.7-.7l.7 .3l.7 1.6l.8-.7l.7-.9l.7 .1l.7 1.1l.7-.9l.7-.9l.8-.2l.7 1l.7-1.2l.7-1.1l.7-4.6l.7-6.8l.8-5.8l.7-2.3l.7 .6l.7 .3"/>
<path id="cv_a3" stroke="#ff4040" d="M154.5 602.5l.7-1.1l.7 3.1l.7 .4l.8-.8l.7 1l.7 1.7l.7-.4l.7-.1l.7 .2l.8-1.3l.7 2.1l.7-2.4l.7 1.6l.7 .1l.7-1.2l.8 1.8l.7 2l.7-1.9l.7-.7l.7 1.3l.7 1.1l.7-.6l.8 0l.7-1.3l.7 2l.7 0l.7 1l.7 .2l.8-.8l.7-2.2l.7 .2l.7 .4l.7 1.3l.7-1l.8 2l.7-1l.7 .1l.7 .3l.7-.4l.7-1.8l.7 3.5l.8-.8l.7 0l.7-2.3l.7-1.2l.7 .3l.7 .3l.8 1.8l.7-.1l.7 .5l.7 .5l.7-1.8l.7-.3l.7-.9l.8-.1l.7-1l.7 1.5l.7-.4l.7-.9l.7-.6l.8 1.1l.7 .7l.7-1.5l.7 0l.7-1l.7 .1l.8-.3l.7-.1l.7-.5l.7 .9l.7 .8l.7-2.5l.7 2.4l.8-2l.7-.1l.7-1.9l.7-.1l.7 3.1l.7-1.9l.8 2l.7-.7l.7 .3l.7 1.2l.7-1.4l.7-2l.8 .6l.7 3l.7 1.3l.7-2l.7-.3l.7-.5l.7 2.3l.8-2.2l.7 .9l.7 1.7l.7 .2l.7-.1l.7 1.7l.8-2.1l.7 .4l.7 1.1l.7 .7l.7-.1l.7 2.6l.7-2.3l.8 1.5l.7-.9l.7 1.1l.7-.5l.7 .3l.7 2.2l.8-1.6l.7 2.1l.7-2l.7 .4l.7 1.7l.7-2.9l.8 .7l.7 1.7l.7 .6l.7 .3l.7-.7l.7-.8l.7 2.2l.8-.2l.7-1.3l.7 1.2l.7 1.7l.7-1.4l.7-1l.8 .8l.7 .1l.7 .8l.7 .6l.7-1.6l.7 .4l.8 1.6l.7-.2l.7 .6l.7-2.4l.7 .5l.7 1.8l.7-1.6l.8 1.2l.7-.3l.7-.5l.7 2l.7-1.2l.7-.4l.8 .4l.7 .4l.7-1.5l.7 .7l.7-.3l.7-.7l.8 2.8l.7 .4l.7-.1l.7-2.5l.7 1.9l.7 .3l.7-1l.8 1.3l.7-1.6l.7 .1l.7 .2l.7 .2l.7-.2l.8 1.7l.7-1.6l.7 .5l.7 0l.7 2.4l.7-2.5l.8 1.2l.7 1.2l.7-2.5l.7 .4l.7 .4l.7-.7l.7 2.2l.8-1.4l.7 1.3l.7-.3l.7-.4l.7 .8l.7-1l.8 1.2l.7-1.9l.7 .5l.7 1.7l.7-2.7l.7 2.2l.7-.7l.8 0l.7-.1l.7 1.7l.7-2.2l.7 1.9l.7-.2l.8-.7l.7 .3l.7 .7l.7-1l.7-.6l.7 1.5l.8-.9l.7 .4l.7 .4l.7 .6l.7 .9l.7-1.1l.7-.1l.8 .6l.7-.4l.7-1.5l.7 .9l.7-.4l.7 1.5l.8 .5l.7-.6l.7-1.1l.7 1.5l.7-1.3l.7 1l.8-1.1l.7-.1l.7 0l.7 1.2l.7-.5l.7 .9l.7-1.3l.8 1.4l.7-.8l.7 1.5l.7-.2l.7-.9l.7 .3l.8 .2l.7 .2l.7-.6l.7 1.1l.7-1.2l.7-1l.7 1.7l.8-.2l.7 .7l.7-.1l.7-.4l.7 .1l.7 0l.8-.5l.7-.4l.7 .3l.7 .6l.7-1.6l.7 1.4l.8-.4l.7 .7l.7-.5l.7 .7l.7-.2l.7 1.2l.7-1.2l.8 .1l.7 .2l.7-1.3l.7 .6l.7 1.9l.7-.7l.8-.3l.7 .8l.7-.9l.7 0l.7-.1l.7-1l.8 2l.7-.8l.7 .1l.7-.1l.7-.2l.7-1.2l.7 1.8l.8 1.5l.7-.8l.7-.9l.7-.5l.7 .8l.7 .2l.8-.3l.7 .7l.7-1.3l.7 1.6l.7-.7l.7-.5l.8 .2l.7 .5l.7 .4l.7-.5l.7 .4l.7 1.2l.7-2.8l.8-.2l.7 1.5l.7-.7l.7 .8l.7-1.2l.7 1.2l.8 .9l.7-.1l.7-1.6l.7 .6l.7 .9l.7 .7l.8-2l.7 .1l.7 1.5l.7-1.1l.7-.4l.7 1.5l.7-2l.8 .8l.7 1.2l.7-1.1l.7 1l.7-1.4l.7 1.4l.8-.2l.7 .9l.7-1.3l.7-.1l.7 .2l.7 .9l.7-1.3l.8 .4l.7 1.6l.7-.9l.7 0l.7-.8l.7 1l.8-1.5l.7-.2l.7 .4l.7 1.7l.7-.8l.7-.8l.8 .4l.7 .6l.7 .6l.7-2l.7 2.1l.7-.3l.7-1.1l.8 .2l.7 .7l.7-.6l.7 .4l.7-.9l.7-.5l.8 2.9l.7-1.5l.7 .1l.7 .2l.7 .6l.7-.3l.8-1.3l.7 .6l.7 .2l.7 .5l.7-.9l.7 .7l.7-.1l.8 .8l.7-2.5l.7 1.6l.7 .2l.7 .3l.7-.5l.8-.6l.7 1.1l.7-.2l.7-.8l.7-.4l.7 1.4l.7-1l.8 1.1l.7 .6l.7-.9l.7 0l.7 0l.7 .8l.8 .1l.7-.9l.7 .4l.7-.4l.7-.4l.7 .9l.8-.6l.7-.5l.7-.4l.7 1.7l.7-1.3l.7-.1l.7 .6l.8 .7l.7-1.7l.7 1.6l.7-.1l.7-1.1l.7 .1l.8 .6l.7 1.5l.7-1.5l.7 .9l.7-.1l.7-1.7l.8 1.1l.7 .7l.7-1l.7 1.2l.7-1.6l.7-.2l.7 .7l.8 .8l.7-.7l.7 .9l.7-1.7l.7 .7l.7 1.3l.8-2.4l.7 1.7l.7-.8l.7 .1l.7 .3l.7-.8l.8 1.7l.7-.3l.7 .5l.7-.7l.7-.8l.7 1.1l.7-1.3l.8 .3l.7 2l.7-.6l.7-.5l.7 .8l.7-1.2l.8 .6l.7-1l.7 .4l.7 .3l.7 .9l.7-1.4l.8 1.1l.7-.7l.7-1.1l.7-.1l.7 .8l.7 1.2l.7-.5l.8 1l.7-1.1l.7 .9l.7-.8l.7-.8l.7 1.1l.8-1l.7-.4l.7 .4l.7 .3l.7 .4l.7 .4l.7-.1l.8 1l.7-2.8l.7 1.2l.7 1.6l.7-1.7l.7-.6l.8 .3l.7-.2l.7 .3l.7 1.5l.7-2.2l.7 .4l.8 1.3l.7-1.2l.7-.8l.7-2.7l.7-3.1l.7-7l.7-1l.8 2l.7 5.1l.7 3.9l.7 3.3l.7 .5l.7-.2l.8 .6l.7-.7l.7 1.7l.7 .1l.7-.1l.7-.5l.8 .1l.7-1.2l.7 .7l.7 .1l.7 .1l.7 .5l.7-.7l.8-.1l.7 1.3l.7-1l.7-.2l.7-.9l.7 .4l.8 .8l.7 .3l.7-1.3l.7 1.2l.7 .2l.7-.5l.7 .3l.8 .9l.7-1.4l.7-.6l.7 .9l.7-.3l.7 .5l.8 .5l.7 .2l.7-.4l.7 .7l.7-.6l.7 .4l.8-.4l.7-.1l.7-.5l.7 .4l.7-.4l.7 .2l.7 .2l.8 .8l.7-.9l.7 .5l.7-1.2l.7 .7l.7 1l.8-.6l.7-1.4l.7 1.2l.7-.2l.7-.6l.7-.3l.8 .5l.7-.1l.7 1.2l.7-.1l.7 .1l.7 .3l.7-2.1l.8 1.2l.7 .4l.7-.6l.7 0l.7-.1l.7 .7l.8-.2l.7 .9l.7-.6l.7-.1l.7-.1l.7-.5l.8 .6l.7 .5l.7-.3l.7-1l.7-.2l.7 1.4l.7-.3l.8 .1l.7-.8l.7 1.1l.7 0l.7-.6l.7 .5l.8-1l.7 .6l.7-1.2l.7 1.1l.7 1.6l.7-1l.8 .7l.7-.7l.7-.2l.7 0l.7-.4l.7 .7l.7-.9l.8 .5l.7 1.4l.7-1.1l.7-.6l.7 1l.7-.4l.8-.4l.7-.6l.7 .6l.7-.1l.7 .3l.7 .2l.7 0l.8-.8l.7 .9l.7 0l.7-1.2l.7 1.1l.7-.2l.8 .3l.7-1l.7 .5l.7 .1l.7-.7l.7 1.2l.8-.5l.7 .4l.7-.9l.7-.2l.7 .1l.7-.6l.7 .9l.8 .7l.7 .7l.7-.2l.7 .1l.7 0l.7 .6l.8-1.3l.7 .5l.7-.2l.7-1.8l.7 1.5l.7 0l.8 .2l.7-.6l.7-.2l.7 .1l.7 .8l.7-.2l.7 .7l.8-1.9l.7 1.6l.7 .4l.7-1.8l.7 .6l.7-1.2l.8-.4l.7 .5l.7 .8l.7 .1l.7-.4l.7 .6l.7-.2l.8 1l.7-2.3l.7 .4l.7 .1l.7 0l.7 .1l.8 1.8l.7-1.6l.7 .7l.7-1.4l.7 .6l.7 1.1l.8 .1l.7-1.7l.7 2.6l.7-1.1l.7-.7l.7 .8l.7-.6l.8-.5l.7 1.1l.7 .5l.7 .2l.7-1.8l.7 .5l.8 .5l.7 .9l.7 .2l.7-1.1l.7-.5l.7 1.1l.8-.6l.7 .6l.7 .4l.7-.3l.7-1l.7-.2l.7-.1l.8 1.4l.7 .3l.7-1.4l.7 .3l.7-.3l.7 .6l.8-.5l.7 0l.7 1.4l.7-.2l.7-.6l.7 .7l.8-1.1l.7 .7l.7-.9l.7 .1l.7 1.1l.7-1.4l.7 .5l.8-.5l.7-.1l.7 .9l.7 0l.7-1l.7 2.4l.8-.4l.7-1.6l.7 .8l.7-.2l.7-.5l.7-.4l.8 .9l.7-.2l.7 .9l.7-.7l.7-.7l.7 .2l.7 .4l.8 .7l.7-1.4l.7 .9l.7 .7l.7-1.8l.7 1.9l.8-1.3l.7 .3l.7-.3l.7 .6l.7 .1l.7 0l.7 1.1l.8-2.8l.7 1l.7-.6l.7 .8l.7-.4l.7 .3l.8 .2l.7-.4l.7 1l.7-1.6l.7 .6l.7 .4l.8 .8l.7-1.8l.7 .1l.7 1.1l.7-.3l.7-1l.7 1.7l.8-.7l.7-.4l.7-.1l.7 .2l.7-.5l.7 .2l.8-.2l.7-1.4l.7-.7l.7 1.7l.7-2l.7 1.1l.8-1.6l.7-2l.7 1.6l.7-.9l.7-.9l.7 1.7l.7-.6l.8 .9l.7 1.2l.7-.1l.7-.3l.7 .2l.7 .2l.8-.3l.7-.2l.7 .6l.7 .5l.7-.6l.7 .4l.8 .3l.7-.6l.7 1.4l.7 .3l.7-.7l.7-.7l.7-.6l.8 0l.7 2.2l.7-.5l.7-.5l.7-.6l.7 1l.8 .8l.7-.4l.7-.9l.7 2.3l.7-1.2l.7-1.2l.7 1.1l.8 0l.7 .2l.7-.4l.7-1.2l.7 1l.7-1l.8 .5l.7-.5l.7 .2l.7-.9l.7-1.1l.7 .8l.8-4.1l.7-4.1l.7-6.8l.7-12.3l.7-16.6l.7-20.4l.7-7.2l.8 10.1l.7 16.7l.7 17.1l.7 10.7l.7 7.8l.7 4.6l.8 3l.7 1.5l.7 .8l.7-1.4l.7 1.7l.7 .4l.8-.1l.7 .2l.7-.3l.7 .6l.7-1.1l.7 2.4l.7-.7l.8 .9l.7-1.4l.7-.6l.7 2.4l.7-2.5l.7 .5l.8 1.4l.7 .4l.7-1.3l.7 .3l.7 0l.7 .5l.8-.9l.7 1l.7 .2l.7-.7l.7 .1l.7 1.4l.7-1.2l.8-.5l.7 1l.7 0l.7-1.2l.7-.2l.7 1.5l.8-.1l.7 0l.7 .2l.7-1.9l.7-.5l.7 1.6l.7-.3l.8-1l.7-.5l.7-2.6l.7-2.4l.7-1.9l.7-1.9l.8-.8l.7 .3l.7 3l.7 3.1l.7 1.5l.7 .8l.8 2.4l.7-1.4l.7 1.2l.7 1.3l.7 .2l.7-.3l.7-1.3l.8-.8l.7 .9l.7 .3l.7 .1l.7-.7l.7 .3l.8 .5l.7-.1l.7 .8l.7-.4l.7 0l.7-.8l.8 .4l.7-1.3l.7 1l.7-.7l.7 1.1l.7 .2l.7-.2l.8 .9l.7-1.5l.7 .4l.7-.3l.7 .1l.7 1.1l.8-1.8l.7 2l.7-.2l.7-.6l.7-.6l.7 .3l.7-.5l.8 1l.7-2l.7-.2l.7 .2l.7-1.9l.7 2.4l.8-1.1l.7 1.1l.7 0l.7-1l.7 1.5l.7 .4l.8-1l.7 .2l.7 0l.7 1.2l.7-1.4l.7 .2l.7 .5l.8 .1l.7-.5l.7 1.3l.7-.1l.7-2.1l.7 1.6l.8-1.6l.7-1.2l.7-1.9l.7-4.5l.7-2.9l.7-.5l.8-1.1l.7 4.7l.7 .5l.7 3.8l.7 .6l.7 3.6l.7 .5l.8-1.9l.7 1.4l.7 0l.7 1l.7-2.4l.7 1.2l.8 .8l.7-.8l.7-.2l.7-.6l.7 1.2l.7-.5l.8-.9l.7 1l.7-.7l.7 .4l.7 .1l.7-.3l.7-1.2l.8-2l.7-.8l.7-2l.7-.9l.7-3.8l.7-.2l.8-3l.7 0l.7-.4l.7 3.2l.7 .5l.7 4.2l.8 1.1l.7 2.1l.7 1.2l.7 0l.7 2.3l.7-1.6l.7 1.4l.8 .7l.7 .3l.7-1l.7 .2l.7 .2l.7-.5l.8 .6l.7-.4l.7 .9l.7-.4l.7-.4l.7 .1l.7 .6l.8-.7l.7-.3l.7 .2l.7 .9l.7-1.4l.7 1.3l.8 .5l.7-1l.7 .2l.7-.7l.7 .3l.7 .2l.8 .6l.7-.4l.7-.5l.7 .4l.7-.5l.7 1.9l.7-1.5l.8 1.4l.7-2l.7 .4l.7 1.5l.7-1.1l.7 1.6l.8-.9l.7 .3l.7-2l.7 1.1l.7-.4l.7 1.2l.8-1.5l.7 .1l.7-.7l.7-.7l.7 1.5l.7-.6l.7 .6l.8-.8l.7 .8l.7-.4l.7 .3l.7 .5l.7-.4l.8 .8l.7-1.1l.7 .5l.7 1.1l.7-1.3l.7-.7l.7 2l.8-1l.7-.6l.7-.1l.7 1.2l.7-1.2l.7-.4l.8 1.5l.7-.3l.7 .3l.7-.8l.7 .6l.7-1l.8 .4l.7 .3l.7 0l.7 .5l.7-.3l.7-1.2l.7 .2l.8 .8l.7 .2l.7-.6l.7-.8l.7 .3l.7 .5l.8-.1l.7-1.6l.7-.6l.7 .4l.7-.9l.7-.1l.8-1.3l.7 .1l.7-.8l.7-.5l.7-1.8l.7-3.1l.7-4l.8-2.6l.7-7.9l.7-10.8l.7-14.9l.7-29.5l.7-47.8l.8-83.1l.7-55.9l.7 54.2l.7 82.5l.7 51.8l.7 27.7l.8 16.7l.7 10.3l.7 5.2l.7 4.9l.7 4.3l.7 1.2l.7 .1l.8 2l.7 1.2l.7 1l.7 1.2l.7-.2l.7 2.2l.8-.9l.7 .8l.7-.6l.7-.6l.7 1.9l.7 .4l.8 .3l.7-.5l.7 .3l.7-.6l.7-.4l.7 1.2l.7 .4l.8 0l.7 .4l.7 .1l.7-.1l.7 .1l.7-.3l.8-.5l.7-.9l.7 1.4l.7 .8l.7-.5l.7 .9l.7-.8l.8-1.7l.7 1.9l.7-1.3l.7 .5l.7-.4l.7 0l.8 .3l.7-1.9l.7-4.9l.7-2.8l.7-4.5l.7 1.2l.8 .8l.7-.7l.7 2.5l.7 1.2l.7 .3l.7-.5l.7-5l.8-11.2l.7-24.7l.7-28.9l.7-4.3l.7 7.2l.7 16.3l.8 15.9l.7 9.6l.7 10.2l.7 4.6l.7 6.8l.7 2.1l.8 1.9l.7 1.1l.7-1.6l.7 .3l.7 1.5l.7-.3l.7 1.5l.8-1.1l.7 1.9l.7 .1l.7 .5l.7 1.9l.7-.2l.8 1l.7 .6l.7-.7l.7 2.3l.7 .1l.7 .2l.7-.1l.8 1.3l.7-.5l.7-.7l.7 1l.7 .6l.7-.7l.8 .1l.7 .4l.7 .2l.7-.1l.7-.5l.7 .7l.8-.5l.7 0l.7 1l.7-.9l.7-.3l.7 .9l.7-.9l.8 1.3l.7-.6l.7 .6l.7-.6l.7-.6l.7-.7l.8 .8l.7 1.2l.7-.9l.7 .8l.7 .2l.7-1.7l.8 .8l.7 .2l.7 .9l.7 .1l.7-1.4l.7 .8l.7-.2l.8-.9l.7 1.2l.7 .1l.7-2l.7 .5l.7-1.7l.8 .3l.7-.6l.7-1l.7 .8l.7 2.1l.7-.4l.8 1.4l.7-1.3l.7 .4l.7 1.7l.7-.4l.7-.3l.7-.5l.8 .8l.7-.8l.7 .7l.7 .4l.7-.5l.7-.7l.8-.1l.7 .7l.7-1l.7 1.7l.7-.9l.7 0l.8 .1l.7-.4l.7 1.1l.7-1.4l.7-.6l.7 1l.7-1.4l.8 1l.7-.9l.7-1l.7 .3l.7-.7l.7 .2l.8 1.8l.7-.5l.7 .5l.7 .1l.7 .6l.7 0l.7 .3l.8 0l.7 .7l.7-1.2l.7 0l.7-.4l.7-1.3l.8 .1l.7-1.2l.7-1l.7-.4l.7 .7l.7 1l.8 1l.7 1l.7 0l.7 1.5l.7-.3l.7 .8l.7-.7l.8 .9l.7-.5l.7-.4l.7 .2l.7 .4l.7-1l.8 1.1l.7-1.3l.7 1.3l.7-.6l.7-.2l.7 .4l.8 1l.7 .2l.7-1.1l.7 1l.7-.7l.7 .8l.7-1l.8 .2l.7-1.1l.7 1.2l.7-.4l.7 0l.7 .1l.8-1.3l.7 .4l.7-1.3l.7 .7l.7 0l.7 1.4l.7 .1l.8 .1l.7 0l.7 1.2l.7-.6l.7-.7l.7 1.3l.8 0l.7-.4l.7-1.8l.7 .8l.7 .8l.7-.4l.8-.8l.7 1l.7-.4l.7 .5l.7 0l.7 .7l.7-1.3l.8 1.1l.7-1.1l.7 1.1l.7-.3l.7 0l.7-.2l.8-.4l.7 .6l.7 .1l.7 .3l.7-.4l.7 0l.8-.8l.7-.4l.7 1.1l.7 1.1l.7-1.3l.7-.4l.7-.8l.8 1.6l.7-.9l.7 .2l.7 .5l.7 .2l.7 .7l.8-.3l.7-.3l.7-.4l.7-.7l.7 .5l.7 .7l.8-1.7l.7 1.2l.7 .9l.7-.4l.7-.7l.7 0l.7 .6l.8-.5l.7 .4l.7 .7l.7-1.2l.7-.1l.7 .9l.8-.4l.7-.7l.7-.6l.7 2.1l.7 0l.7-1.1l.8 .3l.7-.1l.7 .1l.7 .7l.7-.7l.7-.4l.7 .2l.8-.1l.7 .2l.7-.6l.7-.3l.7 1.4l.7-.8l.8-.2l.7 .5l.7-1.6l.7-.8l.7-.9l.7-3.5l.7-4.5l.8-7l.7-5.9l.7-6.7l.7 1.2l.7-.1l.7 2.4l.8-.2l.7 5l.7 3.9l.7 3.7l.7 4l.7 .3l.8 3.9l.7 1.2l.7 1.3l.7 2l.7-.6l.7 .5l.7 1.5l.8-1.7l.7 2.2l.7-1.3l.7 1.9l.7-1.4l.7 .8l.8 0l.7-.1l.7 .4l.7-.3l.7 .7l.7-.2l.8-1.3l.7-.3l.7 2.5l.7-2.4l.7 1.3l.7-.3l.7 0l.8-.2l.7 1.7l.7-.6l.7-1.1l.7 1l.7-.3l.8 1.1l.7-1.1l.7-1l.7 1.9l.7 .1l.7 .1l.7-.7l.8-1.5l.7 .5l.7 .4l.7 .3l.7-.4l.7 .6l.8-1l.7 .3l.7-.1l.7 .3l.7-.8l.7 2l.8-1.7l.7 .2l.7 .6l.7-.7l.7 1l.7 0l.7 0l.8-1l.7-.1l.7 .2l.7-.1l.7 .2l.7 .1l.8-.2l.7-.4l.7 .8l.7-.1l.7-.4l.7-.3l.8-.3l.7 .4l.7-1.6l.7-.8l.7 .2l.7-.3l.7-.6l.8-.4l.7-.5l.7-.1l.7-1.1l.7-.7l.7 .4l.8 .1l.7-.6l.7-.9l.7 1l.7-.2l.7 1l.8-.4l.7 .7l.7 1.1l.7-.1l.7 .3l.7 .4l.7 0l.8 1.3l.7-.9l.7 .8l.7 0l.7 1.2l.7 1.2l.8-2l.7 1.2l.7-.4l.7 1.2l.7-2.8l.7 .2l.8 0l.7-2.2l.7-2.8l.7-6.5l.7-4.2l.7-4.8l.7 1.5l.8-2.1l.7 .2l.7-.2l.7 3.5l.7 1.4l.7 3.2l.8 1.7l.7 4.3l.7 2.2l.7 .3l.7 1.7l.7 2l.7 .5l.8 .2l.7 1.2l.7 .7l.7-.2l.7 0l.7 .7l.8-.3l.7 .1l.7 .5l.7 .7l.7 0l.7-.6l.8-.2l.7 .2l.7 .2l.7 .3l.7-.5l.7 .1l.7 .2l.8-.8l.7 .6l.7 .1l.7 .2l.7-.3l.7-.7l.8-.5l.7-.1l.7-.8l.7-.9l.7-2.6l.7-7l.8-11.3l.7-9.4l.7 2.2l.7 5l.7 2.1l.7-.1l.7 3l.8 4l.7 6.5l.7 3.6l.7 1.5l.7 2.2l.7 1.9l.8 .7l.7 .2l.7 .1l.7 .5l.7-1.1l.7-.4l.7 .8l.8 .8l.7-.6l.7 .3l.7 .3l.7 0l.7-.5l.8 .5l.7 .7l.7-.1l.7-.3l.7-.1l.7 .9l.8 .1l.7-1.4l.7 .2l.7 .1l.7 .6l.7-.3l.7-.1l.8 1l.7-.6l.7-.7l.7 .5l.7 0l.7 .8l.8-1.8l.7 1l.7 .2l.7 .5l.7-.6l.7 .4l.8 0l.7-1.3l.7 .6l.7 0l.7 .4l.7-.8l.7 .9l.8-.4l.7 .3l.7-1.2l.7 1.3l.7 0l.7-.9l.8 .6l.7 .4l.7 .8l.7-1.4l.7 .4l.7-.5l.8 .7l.7-1l.7 .4l.7 .4l.7 0l.7-.2l.7 0l.8-.2l.7 .9l.7-.5l.7-.7l.7 .9l.7 .1l.8 .4l.7 .2l.7-.9l.7 .8l.7-.6l.7 .2l.7-.6l.8 .3l.7-.2l.7-.9l.7 .9l.7-.6l.7 .9l.8-1.2l.7 1.2l.7-1l.7 .4l.7 .4l.7 .3l.8-.7l.7 .4l.7 .6l.7-.6l.7 .4l.7-.3l.7 .6l.8-.2l.7 .3l.7-.7l.7-.1l.7-1l.7 .5l.8 .1l.7 1l.7-.7l.7-.3l.7 .4l.7-.3l.8-.2l.7-.1l.7 1.2l.7 .3l.7-.9l.7 .2l.7 .3l.8-.7l.7 .4l.7-.8l.7-.4l.7 .6l.7 .9l.8-.6l.7-.7l.7 .9l.7 .3l.7-1.2l.7 .7l.8 .7l.7-1.7l.7-.2l.7-1.7l.7-3.9l.7-7.4l.7-7.1l.8-1.9l.7 2.4l.7 5.7l.7-.3l.7 .1l.7 2.1l.8 1.6l.7 2.7l.7 2.9l.7 1.5l.7 2.1l.7 .8l.7 0l.8-.5l.7 1.1l.7-.3l.7 .6l.7 .5l.7 .7l.8 0l.7-1.4l.7 .9l.7-.4l.7 .5l.7 .8l.8-.5l.7-.2l.7-.4l.7-.1l.7 .2l.7 .4l.7 .5l.8-.6l.7-.4l.7-.1l.7 .3l.7 .1l.7-.6l.8-3.3l.7-2.9l.7-1.3l.7-1.6l.7 .3l.7 1l.8-.9l.7 1.1l.7-.9l.7 2.9l.7 .3l.7 1.2l.7 .5l.8 2.4l.7 .4l.7 .4l.7-.8l.7 .6l.7 1.2l.8-.6l.7 .3l.7 .1l.7-.4l.7 .8l.7-1.7l.8 1.8l.7-.3l.7-1.1l.7-.7l.7-1.7l.7-.1l.7-2.7l.8-.5l.7 1l.7-.6l.7 .2l.7 1.6l.7-1.9l.8 2.5l.7-.5l.7 1.5l.7 .8l.7 .5l.7-.7l.8 1.3l.7 .6l.7 1l.7-.7l.7-.7l.7 .3l.7 0l.8 1.3l.7-.2l.7-1.3l.7 .6l.7 1.1l.7-1.2l.8 .8l.7-.4l.7 .3l.7-.4l.7-.4l.7 .2l.7 .7l.8 .6l.7-.9l.7 .4l.7 0l.7-.8l.7 .1l.8 .8l.7-.1l.7-.6l.7-.6l.7 .7l.7 0l.8 .5l.7-.4l.7 .2l.7 .5l.7-.2l.7-.5l.7 .8l.8-.3l.7 .6l.7-1.2l.7 .4l.7-.3l.7-.3l.8 0l.7 .6l.7 .3l.7-.6l.7 .1l.7 .8l.8-.8l.7-.1l.7 .7l.7-.8l.7 .5l.7-.5l.7 .2l.8-.2l.7-.3l.7 .3l.7 .7l.7-.8l.7-.9l.8-.5l.7-5l.7-4.3l.7-7.2l.7-1.4l.7 2.6l.7 3.1l.8 .9l.7 1.1l.7-1.1l.7 3.6l.7 2.1l.7 3l.8 .7l.7 .6l.7 .8l.7 1.1l.7 .4l.7-.7l.8 0l.7 1.4l.7-.1l.7-.7l.7 1.4l.7-.6l.7-.2l.8 .1l.7 .4l.7-.3l.7 0l.7 .6l.7-1l.8 .7l.7 0l.7 .5l.7-.4l.7 .3l.7 .1l.8 .1l.7-1l.7 .3l.7 .1l.7 1l.7-.4l.7-.3l.8 .1l.7-.3l.7 .7l.7-.8l.7 .5l.7-.2l.8-.6l.7 1l.7-.3l.7-.2l.7-.5l.7 .8l.8-.7l.7-.2l.7 1.2l.7-.7l.7 .2l.7 .2l.7 .4l.8-1.3l.7-.3l.7 1.4l.7-.7l.7 .3l.7 .3l.8 .3l.7-1.1l.7 .1l.7-.7l.7 1.1l.7-.1l.8 0l.7 .9l.7-1.5l.7-.2l.7 .3l.7 .8l.7-1.1l.8 .3l.7 .7l.7-.8l.7 .2l.7-.2l.7 .9l.8-.7l.7 .8l.7-.7l.7 .4l.7-.5l.7 .8l.7-1.5l.8 2.2l.7-.9l.7-.8l.7 .2l.7 .4l.7 .1l.8-.4l.7 .9l.7-.6l.7-.3l.7 .4l.7 .4l.8-1.2l.7 .3l.7 1l.7-.4l.7-.1l.7 1l.7-.2l.8-1.4l.7-.1l.7 .9l.7 .3l.7-.6l.7 .3l.8-.6l.7 .8l.7-1l.7 .7l.7 .2l.7-.4l.8 .1l.7 0l.7 .5l.7-.9l.7 1l.7-1.4l.7 1.5l.8-.5l.7 .3l.7 .1l.7-.4l.7 .5l.7-.3l.8-.3l.7 .4l.7 .2l.7-1.6l.7 1l.7-1.1l.7 1.1l.8 0l.7-.1l.7 .6l.7 0l.7-.1l.7-1.6l.8 1.9l.7-1.1l.7-.8l.7 1.2l.7-.2l.7-.1l.8 .9l.7-.9l.7-.4l.7 .9l.7-1l.7 .9l.7-1.2l.8 .5l.7-.2l.7-2.5l.7-4.2l.7-2.7l.7 1.4l.8 .6l.7 3.3l.7 .4l.7-2.2l.7 1.1l.7 1.4l.8 1.2l.7-.4l.7 1.5l.7-.1l.7 .8l.7 .9l.7-1.3l.8 1.2l.7 .5l.7-1.3l.7 .5l.7 1.3l.7-.8l.8 .5l.7-.1l.7 .4l.7-.2l.7-.5l.7-.3l.8 .7l.7-.8l.7 .1l.7 .1l.7 .1l.7-.4l.7 .5l.8 .5l.7-1.3l.7-.2l.7 .8l.7 .3l.7 .2l.8 0l.7-.2l.7 1l.7-.6l.7-.3l.7 .3l.8-.2l.7-.2l.7 .2l.7-.3l.7-.1l.7 .9l.7-1.5l.8 .6l.7-.1l.7 .7l.7-.9l.7 .7l.7 0l.8 .2l.7 .1l.7-.4l.7-.3l.7 .3l.7-.8l.7 1.3l.8-1l.7 .3l.7 0l.7 1.2l.7-1.3l.7 .2l.8 .7l.7-.4l.7-.5l.7 .8l.7-.6l.7 .5l.8 .2l.7-1l.7-.1l.7 .2l.7 .6l.7 .7l.7-.7l.8 .1l.7-.6l.7 .2l.7 .2l.7-1.1l.7 .7l.8 0l.7 .3l.7 .4l.7-.4l.7 .4l.7-.2l.8 0l.7-.5l.7 .2l.7 .1l.7-.2l.7 .3l.7-.6l.8 .9l.7-.5l.7-.6l.7 1.2l.7 .1l.7-.1l.8-.9l.7-.1l.7 .3l.7-.2l.7 .7l.7-.7l.7 .2l.8 .4l.7-.3l.7-.5l.7 .7l.7-.4l.7 .4l.8 0l.7-.1l.7-.5l.7 .1l.7 .5l.7-.8l.8 1.3l.7-.6l.7 0l.7-.5l.7 .2l.7 0l.7-.6l.8 .3l.7 1.1l.7-1.1l.7 .6l.7 .4l.7-.7l.8 .4l.7-.3l.7-.1l.7 .7l.7-.7l.7-.8l.8 .4l.7 .5l.7 .4l.7-.7l.7 1l.7-1.5l.7 .6l.8 .2l.7-.1l.7-.2l.7 .7l.7-1l.7 .3l.8 .2l.7-.7l.7 .7l.7 .1l.7 .1l.7 .4l.8-.9l.7 .7l.7-.3l.7-.4l.7-.3l.7 .9l.7-1.4l.8 1.1l.7-.4l.7 .3l.7-1.3l.7-.9l.7 .2l.8-1l.7-1.4l.7-2.2l.7-2l.7-1.2l.7 .4l.8-.8l.7 1.4l.7 1l.7 1.9l.7-.3l.7 .5l.7 2.4l.8 0l.7 1l.7-.4l.7 .1l.7 1l.7 .7l.8 .3l.7 .3l.7-.8l.7 .5l.7-.8l.7 .3l.7 .4l.8 .2l.7 .6l.7-.4l.7 .3l.7-1.6l.7 .8l.8-1l.7 .5l.7-1.9l.7-3.4l.7-9.6l.7-15.2l.8-3.5l.7 6.4l.7 7.7l.7 7.2l.7 4.9l.7 3.2l.7-2.3l.8-1l.7-7.2l.7-.2l.7 1.8l.7 3.6l.7 3.3l.8 2.4l.7 2.9l.7 .3l.7 .7l.7 .1l.7 1.6l.8-1.4l.7 .6l.7 .2l.7-1.3l.7-.1l.7-.2l.7 .8l.8 .2l.7 .4l.7-.8l.7 .7l.7-.1l.7 .5l.8-1.2l.7 2l.7-1.2l.7 .8l.7-.9l.7 .6l.7-.4l.8 0l.7 1l.7 .1l.7-1.4l.7 .2l.7-.8l.8 1l.7-.7l.7-.8l.7-1.7l.7 .3l.7-.4l.8 .1l.7 .6l.7 .7l.7 .6l.7 0l.7 .7l.7-.2l.8 .1l.7 .5l.7 .1l.7 .1l.7 .8l.7-.2l.8-.3l.7-.1l.7 .4l.7 .1l.7-.5l.7-.3l.8-.4l.7 1.8l.7-.8l.7-.1l.7 .5l.7 .4l.7-1.3l.8 1.2l.7-.1l.7-.1l.7-.7l.7 .1l.7 .4l.8-.2l.7-.1l.7 .4l.7-.1l.7-.6l.7-.4l.8 .7l.7 0l.7-.5l.7 0l.7-.2l.7 .6l.7-.7l.8 1.2l.7-.5l.7 .2l.7 .9l.7-.9l.7-.8l.8 1.2l.7-.5l.7-.7l.7 0l.7 .6l.7-.1l.8 .9l.7-1.1l.7 .6l.7 0l.7-.7l.7 .7l.7-.3l.8 0l.7 .1l.7 .5l.7-.3l.7 .8l.7-1.1l.8-.3l.7 .7l.7-1.2l.7 1.8l.7 .2l.7-.3l.7-.5l.8-.3l.7 .4l.7-.7l.7 .6l.7-.2l.7 .3l.8-.9l.7 .7l.7-.3l.7-.3l.7 .1l.7 .4l.8 .1l.7-1.3l.7 .8l.7 1l.7 .2l.7-.7l.7-.3l.8-.2l.7 1.2l.7-.9l.7 .4l.7-1.1l.7 .3l.8 1.1l.7-.3l.7-.3l.7-.9l.7 1l.7 0l.8 .3l.7-1.2l.7 .1l.7 .6l.7-.1l.7-.1l.7-.1l.8-.3l.7 .5l.7-.6l.7 .4l.7 .5l.7-.7l.8 .2l.7 1.2l.7-1.7l.7 .4l.7 .3l.7 .5l.7-.2l.8 .2l.7-.3l.7-.7l.7 0l.7 .2l.7 .1l.8 .4l.7-.9l.7 .2l.7 .1l.7-1.6l.7 .5l.8-.8l.7-1.3l.7-1.5l.7-2.7l.7-1.3l.7-.4l.7-1l.8 1.4l.7-1l.7 .8l.7 2l.7 .2l.7 1.4l.8-.1l.7 .6l.7 2.1l.7 .3l.7-.5l.7 .6l.8 2.1l.7-.8l.7 1.3l.7-.9l.7 .1l.7 .3l.7 .6l.8-.6l.7-.1l.7 .1l.7-.1l.7 .4l.7 .6l.8-.4l.7-.6l.7 .2l.7-.3l.7 .4l.7-.7l.8 1l.7-.4l.7-.4l.7 0l.7-.5l.7-1.3l.7-2.7l.8-2.3l.7-.5l.7-.9l.7 3.1l.7 2.6l.7-.8l.8 .7l.7-1.2l.7-1l.7 2.3l.7 .4l.7-.8l.8 1.7l.7 .9l.7 .4l.7-.9l.7 1.2l.7-.3l.7-1.1l.8 .1l.7-.5l.7-.8l.7-1.3l.7 1.2l.7-.4l.8 .8l.7 .9l.7-.5l.7 1l.7-.2l.7 0l.7 .6l.8 .1l.7 .4l.7 .4l.7-.3l.7-.2l.7 .5l.8-.6l.7 .5l.7 .6l.7-.6l.7-1l.7-.1l.8 1.6l.7-.1l.7-.4l.7 .6l.7-.3l.7 .1l.7-.7l.8 1l.7 .3l.7-.1l.7-.7l.7 .1l.7 .4l.8-.7l.7 .6l.7-.8l.7 1l.7 0l.7 .1l.8-.5l.7-.8l.7 .7l.7 0l.7-.2l.7 0l.7 1.1l.8-.8l.7 .3l.7-.2l.7-.6l.7 .5l.7-.4l.8 .6l.7-.8l.7-.2l.7 .6l.7 .1l.7-.4l.7 0l.8 .3l.7-.1l.7-.1l.7 .6l.7-.4l.7 .4l.8-.2l.7-.6l.7 .3l.7 .5l.7-.3l.7 .7l.8-.8l.7-.2l.7-.4l.7-.4l.7 .5l.7 1.2l.7-1.6l.8 1.6l.7-.4l.7-1.4l.7 .7l.7 .9l.7 0l.8-.2l.7-.2l.7 .4l.7-.3l.7-1.2l.7 .6l.8-.5l.7 .7l.7 .9l.7-1.3l.7-.4l.7 1.1l.7-1.3l.8 1l.7 .2l.7 .7l.7-.6l.7 .8l.7-1.3l.8 .6l.7-.8l.7 .8l.7 .2l.7-.8l.7 .3l.8 0l.7 .8l.7-.8l.7-.1l.7 0l.7-1l.7 .9l.8 .4l.7-.4l.7 0l.7 .3l.7 .3l.7-.3l.8 0l.7 0l.7-.6l.7-.1l.7 0l.7 .7l.8-.7l.7 .9l.7-.8l.7 .4l.7 .6l.7 .6l.7-1l.8-1.2l.7 .9l.7 .4l.7 .1l.7-.8l.7-.6l.8 1l.7-.3l.7-.1l.7-.4l.7 .8l.7-1l.7 .7l.8 .1l.7 0l.7 .2l.7 .7l.7 .1l.7-.9l.8-.3l.7-.2l.7 0l.7 .1l.7 .8l.7-.1l.8-.8l.7 .2l.7 1l.7-1.5l.7 1.1l.7 .3l.7-.8l.8 .6l.7-.1l.7-.2l.7-.6l.7 .5l.7-.6l.8 .1l.7 1.2l.7-.9l.7-.6l.7 1.2l.7 .2l.8 .1l.7-.3l.7-.2l.7-1.2l.7 1.4l.7-.7l.7 .3l.8 .4l.7-.1l.7-.2l.7 .6l.7 .2l.7-1.1l.8-.1l.7 1.5l.7-.6l.7-.5l.7-.4l.7 .7l.7 .7l.8-1.3l.7 .7l.7-.9l.7 1l.7-.4l.7 .8l.8-.6l.7-.2l.7-.4l.7-.1l.7 .2l.7 .5l.8-.3l.7 .1l.7 0l.7 .3l.7 .4l.7-.8l.7 .3l.8-1.2l.7-.3l.7 .4l.7 .7l.7-.9l.7-.2l.8 .8l.7-.8l.7-.8l.7-2l.7-2.6l.7-6l.8-6.6l.7-4.2l.7-.1l.7 3.1"/>
<path id="cv_a5" stroke="#0068e0" d="M154.5 531l.7 3.9l.7-2.4l.7-4.3l.8 1.5l.7 3.7l.7-1.7l.7 3.2l.7-6.6l.7 9.4l.8-.2l.7-7l.7 2.9l.7-.3l.7 .8l.7 3.2l.8-2.9l.7-.5l.7 3.7l.7 1.7l.7-3.6l.7 1.9l.7-3.4l.8 5.4l.7 2.5l.7-2.9l.7-1.2l.7-4l.7 3.8l.8-3.5l.7 6l.7 2.2l.7-.8l.7-2.4l.7 .7l.8-2.3l.7 1.9l.7 .1l.7-.4l.7-4.5l.7 5.2l.7 .4l.8-2.4l.7 2.5l.7 .8l.7-6.1l.7 6.4l.7-2.9l.8-1.3l.7 2.7l.7-1.9l.7 .7l.7-1.1l.7 .7l.7-1l.8 1.3l.7-1l.7-.5l.7 5l.7-2l.7 .8l.8 2.7l.7-2.1l.7-1.3l.7-2.2l.7 3.9l.7-.6l.8 1.1l.7-2.3l.7-.4l.7-3.5l.7 5.4l.7-4.2l.7 2.1l.8 2l.7-.8l.7-.3l.7 1.1l.7-4.4l.7 3.7l.8 2.4l.7-.1l.7-5.3l.7 4.9l.7-1l.7-2.8l.8-.7l.7 2.5l.7 3.1l.7-1.8l.7-2.8l.7 2.1l.7 1.9l.8-2.2l.7-.7l.7 1.9l.7-5l.7 5l.7-3.5l.8 2.6l.7 .9l.7-1l.7-1.1l.7 .8l.7 2.4l.7-4.3l.8 1l.7 2.4l.7 1l.7-1.5l.7-1l.7 2.5l.8-2.1l.7 4.8l.7-1.4l.7 1.2l.7-5.5l.7 1l.8 .4l.7-1.8l.7 1.4l.7 2.9l.7-3.7l.7 1.4l.7 3.5l.8-2.2l.7 .4l.7-.9l.7-1.1l.7 .5l.7 1.3l.8-1.6l.7 1.2l.7-.9l.7 .8l.7 3.2l.7-1.8l.8-3.6l.7 2.2l.7 3.9l.7 0l.7-5.6l.7 3.1l.7-.8l.8-3.9l.7 4.6l.7 3.2l.7-5.1l.7 .9l.7 2.4l.8-2.6l.7 0l.7 1.4l.7-3.1l.7 3.6l.7-3.3l.8 2.6l.7 1.5l.7 1.6l.7-4.5l.7 1.9l.7 .1l.7-3.8l.8 3.2l.7 .7l.7 .6l.7 2.7l.7-3.4l.7-.3l.8 0l.7 .2l.7 .9l.7 2l.7-4.7l.7 2l.8-3.9l.7 .9l.7 3.3l.7-4l.7 4.4l.7 1.8l.7-3.9l.8 .3l.7 1.3l.7-.9l.7 .9l.7-1.2l.7 2.9l.8-1l.7-.6l.7-3.6l.7 2.5l.7 1.3l.7 1.3l.7-2.4l.8 2.2l.7 .5l.7-2.6l.7 2.4l.7-1.6l.7-1.6l.8 1.9l.7 2.5l.7-1.6l.7-.7l.7 1.5l.7-.2l.8-.9l.7-3.5l.7-.5l.7 .9l.7 5.7l.7-1.6l.7-4l.8 4.1l.7-3.8l.7 2.8l.7 1.3l.7-1.8l.7 1.6l.8 .2l.7-4.5l.7 2.8l.7 1l.7-1.7l.7-1.4l.8 4.9l.7-2.1l.7-1.4l.7-.6l.7 1.5l.7 2.1l.7-2.8l.8 1.7l.7-.3l.7-.8l.7 .4l.7 .1l.7-1.7l.8-.8l.7 3.7l.7 1.3l.7-1.5l.7-2.4l.7 1.6l.7-1l.8-1.4l.7 .7l.7 .7l.7 1.9l.7-2.7l.7 3.8l.8-1.8l.7 1.9l.7-.3l.7-1.3l.7-.1l.7 .4l.8 0l.7 .7l.7 1.9l.7-1.9l.7 1.6l.7-1l.7-2.2l.8 1.5l.7 .2l.7 .4l.7-2l.7 2.4l.7-2.7l.8 .7l.7 1.4l.7-.8l.7-1.7l.7-.6l.7 1.3l.8-.3l.7 4.7l.7-5.2l.7-.6l.7 6l.7-6.3l.7 1.8l.8 1.8l.7-.8l.7 .5l.7 2.1l.7 1.2l.7-3.3l.8 .3l.7-1.1l.7-.3l.7 .1l.7 1.1l.7-1.1l.8 1.3l.7-1.2l.7-1l.7 1.3l.7 .1l.7-.4l.7 .2l.8 1.6l.7-2.9l.7 3.6l.7-2.4l.7 .8l.7 2.2l.8-.5l.7-4.3l.7 3.5l.7 1.6l.7-3.6l.7 .8l.8 2.9l.7-4.1l.7 4.9l.7-4.9l.7 1l.7 .3l.7 .3l.8 1.9l.7-.5l.7-.4l.7 .1l.7-2.8l.7 1.6l.8 2.7l.7-3.5l.7 4.1l.7-2.4l.7-1.3l.7 2.8l.7 0l.8-2.2l.7 .2l.7-.4l.7 .4l.7-2.1l.7 2.1l.8 3.1l.7-2.7l.7 1.4l.7 .7l.7-1l.7-1l.8 0l.7 0l.7 1.4l.7-1.1l.7 1.8l.7 1.6l.7-1.9l.8-2.9l.7 2.7l.7-.8l.7-.3l.7-.4l.7 .7l.8 3.9l.7 0l.7-.8l.7-4l.7 1.7l.7 1.4l.8-2.1l.7 1.4l.7 .8l.7 .7l.7-1.7l.7-.1l.7-.9l.8-.1l.7 .7l.7-.4l.7 1.4l.7-.7l.7-.8l.8 2.6l.7-2.7l.7 1.4l.7-.2l.7-1.6l.7 .9l.7 .4l.8-1.2l.7-1.1l.7 5.4l.7-4.4l.7 .5l.7 .1l.8 .4l.7 1.3l.7-.1l.7-2l.7 1.4l.7 .5l.8-1.3l.7 1.9l.7-1.2l.7 1l.7-2.9l.7 4.2l.7-2.8l.8-1.2l.7 .1l.7 .2l.7 1.7l.7-3.7l.7 1.8l.8 3.1l.7 .2l.7-3.4l.7 1.8l.7 .2l.7-.7l.8-.4l.7 2l.7-1.5l.7 .7l.7 .8l.7-2.5l.7 .1l.8 4.4l.7-4.5l.7 3.1l.7 .1l.7-1.6l.7-.6l.8 .4l.7-1l.7 1.1l.7-.3l.7-.5l.7 .3l.8 1.7l.7-1.1l.7-.4l.7 3.1l.7-2.8l.7 1l.7-2.2l.8-.2l.7 2.2l.7 .7l.7-4.7l.7 4.3l.7 .1l.8-1.1l.7 .9l.7-2.4l.7 2.1l.7-2.2l.7 1.3l.8-.2l.7 .7l.7-2.1l.7 2.3l.7 .1l.7 1.2l.7-2.5l.8 1.5l.7-1.6l.7 1.7l.7-1.7l.7-.6l.7 .7l.8 3.1l.7-.2l.7-1.9l.7 0l.7 .4l.7-2.6l.7 4.9l.8-4.1l.7-.4l.7 1.5l.7-1.2l.7 1.9l.7 .4l.8-1.4l.7 .7l.7-1.1l.7-1.6l.7 .6l.7 4.6l.8-3.1l.7-2.8l.7 .4l.7-1.1l.7-.1l.7-4.6l.7 .6l.8 2.7l.7 1.1l.7 2.6l.7 2.4l.7-1.8l.7 .5l.8-1.9l.7 3.6l.7-2.3l.7 1.7l.7 2.8l.7-5l.8 1.2l.7-.7l.7-.2l.7 2.6l.7-3.2l.7 2.7l.7-.3l.8 1.4l.7-4l.7 .7l.7 3.2l.7-4l.7 2.9l.8 1.3l.7-3.7l.7 .7l.7 2.7l.7-3l.7 3l.7 .5l.8-1.6l.7-.2l.7 .1l.7-.9l.7 2.1l.7-.1l.8-1l.7 .4l.7-2.3l.7 .6l.7-1.6l.7 2.1l.8 2.1l.7-.9l.7-1l.7 .1l.7 0l.7 2.1l.7-3.1l.8 3.3l.7-.9l.7-2.8l.7 2.9l.7 .2l.7-1.5l.8 3.1l.7-3.6l.7 .6l.7 .8l.7 .4l.7-.9l.8 1.5l.7-2.1l.7 1.6l.7-.9l.7 .2l.7-1.3l.7 1.2l.8-2l.7 .1l.7 1.8l.7 1.4l.7-2.5l.7 2l.8 2.5l.7-2.3l.7 .1l.7-1.1l.7-2.4l.7 2.1l.8 .7l.7-1.6l.7 1.8l.7-1.3l.7 2.2l.7-1l.7 .2l.8 .2l.7-.7l.7 2.4l.7-3.7l.7 .4l.7 1.1l.8 .3l.7-2l.7 3.1l.7-1.5l.7 1.1l.7-1.6l.8 .1l.7 1.1l.7-1l.7-.3l.7 1.3l.7 .7l.7-1.4l.8 .9l.7-1.6l.7 1.6l.7-1.6l.7 1.6l.7-1.9l.8 1.8l.7 .9l.7-1.1l.7-2.3l.7 4.1l.7-2.8l.7-2l.8 5.4l.7-3.3l.7 1.7l.7-.5l.7 2.2l.7-.4l.8-4.5l.7 3l.7-2l.7 1.3l.7-.2l.7 .1l.8-1.4l.7 2.5l.7 .2l.7 0l.7 1.5l.7-2.8l.7-.9l.8 1.3l.7-2.9l.7 2.5l.7-1.3l.7 .1l.7-.2l.8 .1l.7 2l.7-2.6l.7 .9l.7 1.4l.7-.5l.8 2.1l.7-1.6l.7 2.6l.7-1.5l.7-2.5l.7 1.2l.7 2.2l.8-3.8l.7 .5l.7-1.1l.7 2.3l.7 1.4l.7 .2l.8-1.7l.7-1.5l.7 2.1l.7-.5l.7 1.3l.7-.8l.7 1.3l.8-2.3l.7 .8l.7-.2l.7-.4l.7 1.2l.7-2.8l.8 .3l.7-.8l.7 2.8l.7 1l.7-.5l.7 1.6l.8-1.9l.7-1.3l.7 1.6l.7-.2l.7 0l.7 1.2l.7-2.5l.8 .1l.7 1l.7 1.6l.7-2.5l.7 2.7l.7 .1l.8-2.3l.7-.3l.7 .7l.7-1.9l.7 4l.7-1.7l.8 1.2l.7-2.3l.7 1.1l.7-.4l.7 2.3l.7-3.5l.7 3l.8-1.5l.7-.1l.7-2.2l.7 2l.7-.3l.7 1.3l.8-1.4l.7-.2l.7 2l.7-.9l.7-.8l.7 .8l.8 .4l.7-.9l.7 .1l.7 2.1l.7-2l.7-2.7l.7 3.8l.8 .6l.7-.3l.7-.1l.7-3.8l.7 1.4l.7 1.3l.8 0l.7-.2l.7-1.6l.7 .7l.7 .4l.7 1.7l.8 1.5l.7-4.7l.7 2.1l.7-1.3l.7 2.4l.7-.9l.7 .3l.8-.5l.7-1l.7 0l.7 .5l.7 1.6l.7 1.3l.8-1.2l.7-1.6l.7 2.3l.7-1.6l.7-.3l.7 0l.7-1.3l.8-.7l.7 1l.7 .6l.7 .5l.7-1.8l.7 1.3l.8-2l.7 3.9l.7-2.4l.7-.6l.7 2.2l.7-.8l.8-1.4l.7 3.5l.7-3.3l.7 1.7l.7-1.3l.7 1.7l.7-.1l.8-1.9l.7-.1l.7 2.4l.7-1.2l.7 .7l.7-.8l.8 .8l.7-.9l.7-1.7l.7 2.4l.7-2.5l.7-.1l.8-.1l.7 1.1l.7-2.9l.7 1.1l.7-.2l.7-.1l.7-1l.8-1.6l.7 2.3l.7 2.6l.7-1.4l.7-.3l.7 .4l.8 1.6l.7-1.3l.7-.2l.7 1.2l.7 .8l.7-.9l.8-.2l.7-2.5l.7 .1l.7 2.3l.7-.8l.7 0l.7 1.1l.8 .7l.7 2.2l.7-4.3l.7 1.6l.7 2.8l.7-4.1l.8 1.9l.7-2.2l.7 3l.7-2.6l.7 1.8l.7 .3l.7-1.7l.8-1.4l.7 .7l.7 1.3l.7 .4l.7 .2l.7-2.5l.8 2.9l.7-1.5l.7-1.1l.7-1.4l.7-1.3l.7-3.1l.8 .4l.7-3.3l.7-4.1l.7-13.7l.7-21.5l.7-13l.7-12.3l.8 15.8l.7 17.8l.7 12.4l.7 10.3l.7 11.1l.7 2.2l.8 2.2l.7 .7l.7-.6l.7 2.4l.7 1.2l.7-1.1l.8-.5l.7 .1l.7 1.6l.7 .5l.7-1.6l.7-1.2l.7 2.2l.8-.9l.7 .8l.7 2.3l.7-.7l.7-4.4l.7 1.4l.8 1.3l.7-2.2l.7-.4l.7 2l.7-.1l.7 .2l.8 .8l.7-1.3l.7 .6l.7 .1l.7 1.5l.7-4l.7 3.2l.8-3.1l.7 .5l.7 2.4l.7 0l.7-.1l.7-.5l.8 .1l.7-1.1l.7 1.2l.7 1.5l.7-4.7l.7 2.2l.7-.9l.8-1.8l.7 .7l.7-1.4l.7-5.7l.7-3.2l.7 1l.8-1.5l.7 4.2l.7-.7l.7 5.7l.7-.2l.7 .7l.8 3l.7-.2l.7 .6l.7-2.6l.7 3.5l.7-.6l.7 .6l.8 .3l.7 1.7l.7-2.3l.7-.1l.7 1.5l.7 .2l.8-1l.7-.9l.7-.2l.7-.2l.7-.1l.7 2.1l.8-1.8l.7 1.4l.7-1.8l.7 2.3l.7-1.4l.7 1.9l.7-1l.8-.3l.7-1.3l.7 .1l.7 .2l.7 .2l.7-.7l.8 1.7l.7 .1l.7-1.2l.7 2.5l.7-2.3l.7-2l.7 1.5l.8 .1l.7-1l.7 .3l.7-2.3l.7 .6l.7-.2l.8 .8l.7-.7l.7 .4l.7 1.4l.7 .8l.7-.5l.8 .3l.7-1.3l.7 3.6l.7-3.4l.7 4.5l.7-3.3l.7 2l.8-2.4l.7 1.2l.7-.5l.7-.7l.7-1.5l.7 .8l.8-1.9l.7 3.1l.7-5.1l.7 2.3l.7-5.4l.7-4.3l.8 6.6l.7 0l.7-.4l.7 1.7l.7 1.5l.7 3.4l.7-2.9l.8 1.5l.7 2.3l.7 1.3l.7-3.5l.7 .2l.7-.3l.8 2.3l.7-2.4l.7 .7l.7 1l.7 .2l.7 .1l.8-2.2l.7 1.2l.7 .1l.7 .5l.7 .6l.7-1.2l.7-3.2l.8 .4l.7-3.5l.7 2.3l.7-4.9l.7-2.3l.7-1.3l.8-3.4l.7 1.9l.7 .7l.7 .6l.7 1.8l.7-1.7l.8 5.5l.7 3.3l.7 1.1l.7-2.7l.7 4.9l.7 .9l.7-2l.8-.2l.7 1.6l.7-1.5l.7 0l.7-.3l.7 3.6l.8-1.6l.7-1l.7-.6l.7 2.4l.7-1.4l.7 .1l.7 .3l.8-.3l.7 1.1l.7 .9l.7-3.2l.7 .4l.7 1.9l.8-1.7l.7 1.1l.7 2.1l.7-1.3l.7 .8l.7 .1l.8 0l.7-1.1l.7 1.7l.7-2.9l.7 0l.7 1.6l.7-1.9l.8 1.2l.7-.8l.7 2.1l.7-.7l.7 .7l.7-2.2l.8-1.8l.7 4l.7 .5l.7-3.6l.7-.6l.7-1.4l.8 3.9l.7-3.9l.7 1.8l.7-.3l.7-1.4l.7 .7l.7-.1l.8 2.2l.7 1.3l.7 .2l.7-3.7l.7 .5l.7 1.3l.8 1.3l.7 .5l.7-3.8l.7 3.1l.7 1l.7-1.1l.7-.2l.8-2.4l.7 4.5l.7-1.3l.7-1.2l.7-.2l.7 1.8l.8 .6l.7-2.1l.7-1.6l.7 2.6l.7-1.8l.7 .8l.8-.3l.7-1.2l.7 3.3l.7-3.6l.7 3.6l.7-3.2l.7 .7l.8 .2l.7 .5l.7-2.2l.7 3.9l.7-3l.7 2.4l.8-1.4l.7-1.6l.7-1.5l.7 1.4l.7-.6l.7-2.6l.8 .1l.7 .3l.7-.6l.7-3.9l.7-2.6l.7-4.7l.7-5.8l.8-2l.7-12.6l.7-19l.7-27.7l.7-57.5l.7-97l.8-63.4l.7 67.7l.7 89.1l.7 60.4l.7 26.1l.7 22.4l.8 10.7l.7 3.1l.7 11.6l.7-2.4l.7 4.1l.7 .9l.7 1.5l.8 .3l.7 1.3l.7 2.5l.7-2.6l.7 2.8l.7 .7l.8 .5l.7 .2l.7 3l.7-2.5l.7 0l.7-.6l.8 3l.7 .1l.7-3l.7 .1l.7 .1l.7 2.8l.7-.9l.8 .7l.7-2.2l.7 1.3l.7 .1l.7 1.5l.7-2.5l.8-1.7l.7 2.5l.7 1.9l.7 .9l.7-5.1l.7 3.5l.7 .3l.8-.8l.7-.9l.7 1.2l.7-.8l.7 2l.7-3.2l.8 2.6l.7-4.4l.7-4.2l.7-1.6l.7-5.7l.7 1.1l.8 0l.7-.7l.7 1.8l.7 5.4l.7-4.9l.7 2.3l.7-1.9l.8-11.5l.7-20.6l.7-31.8l.7 .2l.7 9.4l.7 6.1l.8 18.2l.7 8.6l.7 7.6l.7 8.3l.7 1.7l.7 2.9l.8-2l.7-5.4l.7 1.5l.7 1.3l.7 .9l.7-2.1l.7 3.3l.8-1.1l.7 5.2l.7-.3l.7 1.9l.7-3l.7 5.5l.8 1.6l.7-.3l.7 1.4l.7 2.8l.7-1.2l.7 1.8l.7-2.6l.8 4l.7-3.1l.7 .3l.7 2.7l.7-.8l.7-.5l.8 2.2l.7-.8l.7 2.2l.7-1.5l.7 1.4l.7-2.5l.8 1.5l.7 2.5l.7-2.1l.7-1.5l.7 .5l.7 .2l.7 1.1l.8-3.1l.7 3.5l.7-.5l.7-.8l.7 1.4l.7-3.6l.8 4.8l.7-1.9l.7 1l.7-2.2l.7 1.6l.7-.4l.8 1.2l.7-2.7l.7 4.2l.7-2.2l.7 1.6l.7-1.7l.7-.1l.8 0l.7 1.1l.7-.3l.7-1.9l.7 .4l.7 1.3l.8-1.9l.7 1.9l.7-1.3l.7 1.9l.7-.5l.7 0l.8-.9l.7 1.6l.7-1.6l.7 2.1l.7-3.1l.7 1.7l.7-.8l.8 2.2l.7-.8l.7 0l.7-1.6l.7 .7l.7-1.2l.8 .3l.7 2.5l.7-2.9l.7 1.7l.7 .7l.7-.4l.8 1.1l.7-4l.7 3.1l.7 .7l.7-3.4l.7 .9l.7-.5l.8-.9l.7 1.6l.7-2.1l.7 1.3l.7 .3l.7-2.5l.8 1.2l.7 1l.7 2.2l.7-1.5l.7 .5l.7-2.2l.7 4.7l.8-2.4l.7 .6l.7 .6l.7-1.3l.7-1.9l.7-1l.8 2.4l.7-5l.7 2.9l.7 1l.7-3.1l.7 .8l.8 2.4l.7 .7l.7 .2l.7 2.7l.7-2.6l.7 2.3l.7 .9l.8-1.9l.7-1.1l.7 3.2l.7-2.7l.7 1.9l.7-3.1l.8 2l.7-2.9l.7 .7l.7 .2l.7 1.4l.7 1l.8 .5l.7-1.9l.7-1.6l.7-.5l.7 2.8l.7-.8l.7-.4l.8 1.7l.7-.3l.7 .8l.7-.4l.7-.1l.7-2.1l.8-1.2l.7-.3l.7 .9l.7 .9l.7-2.3l.7 2.1l.7 1l.8 1.6l.7-2l.7 .1l.7 0l.7 2.1l.7-3.6l.8 3l.7-2.3l.7 1.2l.7 1.6l.7-1.6l.7 .4l.8-1.1l.7-.7l.7 3.5l.7-1.9l.7 .6l.7-.8l.7 .4l.8 .2l.7 .4l.7-1.6l.7 .6l.7 .9l.7-.6l.8 .3l.7-.6l.7 .9l.7-.7l.7-2l.7 1.3l.8 1.7l.7 1.8l.7-3.2l.7-1.4l.7 3l.7 1.6l.7-3.2l.8 .6l.7 0l.7 1.8l.7-3.8l.7 3.2l.7-.9l.8-.1l.7-.1l.7 1l.7 .4l.7-2.8l.7 1.2l.8 1.3l.7-2.5l.7 2.7l.7-.1l.7-1.1l.7-1.7l.7 .6l.8 .6l.7 1l.7-.5l.7 0l.7 .9l.7-1l.8-.2l.7 .3l.7 .2l.7-.8l.7-.5l.7 .6l.8 .5l.7-2.1l.7 1.4l.7-.3l.7-.9l.7 2.8l.7-1.8l.8-2.1l.7 3.9l.7-1l.7-3.1l.7 3.1l.7-.3l.8-.8l.7 .8l.7-2.2l.7 1.4l.7-3.6l.7-1.5l.7-5.4l.8-6.3l.7-8.5l.7-6.6l.7 2.5l.7-1.3l.7 2.1l.8-2.2l.7 9l.7-.4l.7 4.2l.7 5l.7 6l.8 .6l.7 1.5l.7 2l.7-.4l.7 1.6l.7 1.3l.7-.5l.8-1.3l.7 3.9l.7-1.7l.7-1.9l.7 1l.7 3.8l.8-2.2l.7-1.5l.7-.8l.7 .5l.7 1.7l.7 1.2l.8-.2l.7-.6l.7 .3l.7-.2l.7-.2l.7 1l.7-1.3l.8 1.1l.7-3.3l.7 .5l.7 2.7l.7-.8l.7-1.6l.8 3.8l.7 .4l.7-2.4l.7 .2l.7-1.2l.7-1.1l.7 1.8l.8-.7l.7 .8l.7-.2l.7-.2l.7 .5l.7 1.7l.8-2.9l.7 1.3l.7 1.4l.7-.9l.7-.4l.7-.4l.8-.8l.7 .2l.7 1.9l.7-1.5l.7 2.2l.7-.4l.7-.7l.8 .7l.7-1.4l.7 2.3l.7-2.7l.7 1.3l.7-.7l.8-.1l.7-1l.7 1l.7-1.3l.7 2.1l.7-1.3l.8 .5l.7-1.4l.7 .1l.7-.2l.7-1.1l.7 .4l.7-1.9l.8 .3l.7 1.4l.7-3.2l.7-1.2l.7 2.8l.7 1.7l.8-3.1l.7 .3l.7 0l.7 1.6l.7-2.9l.7 1.8l.8 .2l.7 2.8l.7-1.9l.7-.5l.7-.4l.7 .2l.7-.8l.8 1l.7 1.2l.7 .9l.7-.9l.7 2l.7-.8l.8 .4l.7 2.5l.7-3.3l.7 .9l.7 .7l.7-3l.8-.7l.7-1l.7-3.3l.7-4.2l.7-5.5l.7-3.4l.7-3.9l.8-1.3l.7 2.3l.7 1.9l.7-1.8l.7 5.5l.7 2.4l.8 2.4l.7 2.7l.7 3.5l.7 1.6l.7 1.7l.7-.1l.7 1.7l.8 .8l.7 .2l.7-1l.7 2.9l.7 .1l.7-1.2l.8 1.7l.7-2.5l.7 1.3l.7-1.2l.7-.9l.7 2.2l.8-.5l.7 .5l.7 1.3l.7 .4l.7-1.2l.7 .2l.7 .5l.8-.7l.7-1.1l.7 1.4l.7-.4l.7 2.4l.7-3.4l.8 1.9l.7-.2l.7-1.9l.7 1.8l.7-2l.7-4.1l.8-7.8l.7-8l.7-1.8l.7 8l.7 1l.7-3.9l.7 1.6l.8 4.1l.7 3.6l.7 2l.7 1.5l.7 1.6l.7 2.2l.8 .9l.7-1.2l.7 1.7l.7-1.8l.7-.9l.7 2.6l.7-.6l.8-.2l.7 .6l.7 1.3l.7 .4l.7-1.3l.7 0l.8 1.5l.7-1l.7-.8l.7-.3l.7 .2l.7 .1l.8 .2l.7-.9l.7 2.7l.7 1l.7-2.5l.7-.9l.7 1.6l.8-2.9l.7 1l.7 .9l.7 1.2l.7 .4l.7-1l.8 .8l.7-1.7l.7 .1l.7 .4l.7 1.2l.7-.9l.8 1.3l.7-2.3l.7 1.5l.7 .6l.7-1.7l.7 2l.7-1.3l.8-.7l.7 1.5l.7-1.2l.7 1.3l.7-3l.7 2.2l.8 .9l.7-2.7l.7 3.7l.7-2.3l.7 2l.7-2l.8 1.4l.7-.2l.7-.3l.7-2.2l.7 2.4l.7-2.5l.7 2.1l.8-.1l.7-.5l.7 .3l.7-1l.7 2.3l.7-1.4l.8 1.4l.7 1l.7-1.2l.7 .4l.7-2.4l.7-.3l.7 2l.8-2l.7 2.6l.7-1.6l.7 2.4l.7-1.8l.7 0l.8 2l.7-1.1l.7-.3l.7 .3l.7-1.9l.7-.8l.8 3.5l.7-2.7l.7 .6l.7-1.3l.7 2.2l.7-2.8l.7 1.9l.8 .9l.7 .3l.7 0l.7-1.5l.7 .9l.7-1.4l.8 1.7l.7 .7l.7-1.6l.7 1.4l.7-.9l.7-.7l.8 .7l.7-.5l.7-.1l.7 0l.7 2.5l.7-2.9l.7 .6l.8 1.3l.7-2.1l.7 .5l.7 1l.7-1.3l.7 .4l.8-.6l.7 0l.7-.3l.7-1.2l.7 2.7l.7-1.1l.8-.5l.7-1l.7 .2l.7-.7l.7-4.9l.7-1.3l.7-8.6l.8-2.7l.7 3.6l.7 3.1l.7 2.5l.7-1.5l.7 3.3l.8-.5l.7 4.2l.7 .2l.7 1.7l.7 2.2l.7 .2l.7-.3l.8 1.1l.7-.9l.7-.5l.7 2.3l.7-1.1l.7-2.2l.8 2.5l.7-.5l.7 1.3l.7-.9l.7 1.4l.7-.5l.8-3l.7 4.3l.7-1.6l.7 0l.7 1.2l.7-2.4l.7 .6l.8-1.2l.7 2.5l.7-.5l.7 0l.7-3.7l.7-1.4l.8 1.5l.7-.1l.7-4.9l.7-2.8l.7 .2l.7-1.8l.8 4.8l.7-2l.7 .2l.7 1.8l.7 .5l.7 .3l.7 2.3l.8 2l.7-.4l.7 .7l.7 2.4l.7 .1l.7-1.1l.8 .4l.7 2.4l.7-5l.7 5l.7-1.6l.7-1.4l.8-.4l.7-.7l.7-.3l.7-.2l.7 1l.7-1.9l.7-2.1l.8 1.9l.7-3.2l.7 2.3l.7-1.3l.7 2.1l.7-2.9l.8 1.4l.7 3.7l.7-1.7l.7 1.8l.7 0l.7 .9l.8-2.7l.7 .7l.7-.6l.7 2.6l.7-2.2l.7 3.3l.7-2.2l.8 .2l.7 1.8l.7 1.5l.7-1.5l.7-.9l.7 2.2l.8-2l.7-.2l.7-.5l.7 .5l.7 1.5l.7-2l.7 1.4l.8-1.5l.7 1.8l.7-2.4l.7 2.1l.7 .7l.7-2.8l.8 1.3l.7-.3l.7 .8l.7 1.1l.7-1.6l.7-.9l.8 4.1l.7-2.8l.7 .2l.7 .4l.7 .9l.7-2.1l.7 1.2l.8-.2l.7 .8l.7-1.7l.7 .1l.7-.5l.7 2.1l.8-1l.7 1.8l.7-2.8l.7 3.3l.7-3.3l.7 1.2l.8 1.2l.7-2l.7 1.5l.7 .8l.7-4l.7 .8l.7 1.4l.8-.3l.7 .6l.7 .3l.7-3l.7 2.8l.7-.8l.8-2.5l.7-.8l.7-4.1l.7-7.6l.7-1.1l.7 3.5l.7 2.1l.8 3.8l.7-4.4l.7 .1l.7 2.4l.7 4.8l.7 .7l.8 2.9l.7-3.2l.7 1.4l.7 1.3l.7 1.7l.7-2.3l.8 1.5l.7 0l.7-.1l.7 .1l.7 .9l.7 .3l.7-1.6l.8 1.8l.7-.2l.7-.4l.7-1.4l.7 1.9l.7-1.7l.8 .4l.7 1.9l.7-.2l.7-.4l.7-.3l.7 .9l.8-.9l.7 .5l.7-2.4l.7-.8l.7 2.2l.7-.2l.7-.8l.8 1.9l.7-1.6l.7 1.7l.7 1.1l.7-2.5l.7 .4l.8-.4l.7-1.9l.7 2l.7-.4l.7 .2l.7-.2l.8 .1l.7 1.7l.7-1.3l.7-1.9l.7 3.2l.7-.1l.7 .5l.8-1.2l.7-.2l.7 .9l.7 0l.7-.9l.7 .7l.8 .4l.7 1.4l.7-2l.7 .3l.7-2.5l.7 1.3l.8-.4l.7-.4l.7-.9l.7 3.7l.7 .1l.7-1.3l.7-.9l.8 .3l.7 1.2l.7-.9l.7-1.4l.7 1.1l.7-.7l.8 1l.7-.1l.7 .9l.7-.1l.7-1.3l.7 .8l.7-.5l.8 2l.7-.8l.7-.5l.7-.3l.7-1l.7 .3l.8-.7l.7 2.9l.7 .1l.7-.4l.7-1.7l.7-1.8l.8 3.8l.7-1.1l.7-.7l.7-.2l.7 1.6l.7-1.2l.7 .8l.8-3.1l.7 2.7l.7-1.1l.7 1.2l.7 .5l.7 .8l.8-2.1l.7 .6l.7 .8l.7-1.6l.7 1l.7-1l.8-.6l.7 2.6l.7-1.9l.7 .2l.7 .8l.7-.6l.7-.7l.8 3.2l.7-1.1l.7-1.7l.7 1l.7-2.5l.7 .3l.8 2.8l.7-.2l.7-.6l.7-.4l.7 .5l.7-.8l.7 1.2l.8 .3l.7-1.8l.7 1.5l.7-.9l.7-.2l.7-.3l.8 1.2l.7-1l.7 .5l.7-.2l.7-1.5l.7-.1l.8 2.8l.7-1.8l.7 1.2l.7-1.1l.7 1l.7-1l.7 .3l.8-.4l.7-.4l.7-2.2l.7-2.8l.7-7.6l.7 4.6l.8-2.1l.7 3.1l.7 .8l.7 1.6l.7 .8l.7-.8l.8 2.7l.7-.3l.7 1.6l.7-.8l.7 1.5l.7-.2l.7-1.8l.8 3.2l.7 .4l.7-3.4l.7 2.7l.7 .4l.7 1.1l.8-2.1l.7 2l.7-.8l.7 1.3l.7-2.1l.7-1l.8 1.6l.7-.3l.7-1.4l.7 .4l.7 1.5l.7-.4l.7 .5l.8 .7l.7-1.8l.7-.8l.7-.2l.7 1.7l.7 .5l.8-1l.7 .3l.7-1.1l.7-1.4l.7 1.2l.7 2.1l.8 0l.7-1.3l.7 1.4l.7 1.4l.7-1l.7-.5l.7 1.6l.8-2.9l.7 .7l.7 .9l.7-3.4l.7 .9l.7 1.6l.8 2.1l.7-1.4l.7-.8l.7 .6l.7-1.1l.7-.1l.7-.2l.8 2.6l.7-1.9l.7 .5l.7-2l.7 .9l.7-.3l.8 1.3l.7 .2l.7-1.2l.7 .8l.7-.1l.7-1.5l.8 .7l.7 1l.7 1.3l.7-2.2l.7-.4l.7 2l.7-1l.8 1.6l.7-2.1l.7 2.1l.7-.7l.7-1.8l.7 1.6l.8-.6l.7 0l.7 1.3l.7-3.9l.7 .9l.7 1.3l.8-1.3l.7 1.1l.7-1.1l.7 2.1l.7-2.7l.7 1.9l.7 .2l.8-.8l.7 1.3l.7-2.6l.7-.2l.7 .7l.7-1.7l.8 4.2l.7-3.3l.7 .4l.7-1.1l.7-.7l.7 3.1l.7-1.3l.8-.4l.7 3.1l.7-1.6l.7 .8l.7-2.3l.7 3.7l.8-2.4l.7 .7l.7 .4l.7-1.4l.7 .9l.7 .9l.8-1.4l.7 1.8l.7 .7l.7-3.2l.7 2.1l.7-1.9l.7 1.8l.8-.2l.7 1.7l.7-1.1l.7 .4l.7 .6l.7-1.1l.8-.7l.7 1.8l.7-4.1l.7 1.5l.7 .8l.7 2.6l.8 0l.7-2.5l.7 0l.7-.5l.7 1.7l.7-1.5l.7 .7l.8-.6l.7 .2l.7-1.4l.7 2.4l.7-1.6l.7 2.3l.8-.7l.7 1.2l.7-1.2l.7-1.2l.7-.7l.7-.9l.8 1.2l.7 1.1l.7 .4l.7-.6l.7 .1l.7-2.3l.7 .4l.8 .8l.7 .1l.7 .2l.7-.2l.7-.6l.7-1.2l.8 .4l.7-2.1l.7-4.8l.7-3.8l.7 3.6l.7-5l.8 4.9l.7 2.1l.7-.6l.7-.5l.7 1.8l.7 2l.7-.9l.8 2.8l.7-1.1l.7-.1l.7-.1l.7 1.3l.7 2.7l.8-1.8l.7 1.4l.7 1.4l.7-3.7l.7 1l.7 .5l.7 .8l.8 .4l.7-2.5l.7 2l.7-1.7l.7 1.4l.7-2.5l.8 .4l.7 1.6l.7-2.7l.7-4.1l.7-13.7l.7-11.7l.8-8l.7 5.9l.7 12.5l.7 11l.7 1.2l.7 3.2l.7-2.5l.8-3l.7-3.6l.7-5.4l.7 10.2l.7 1.8l.7 .1l.8 4.1l.7 3.2l.7 .5l.7 1.4l.7-.7l.7-1.2l.8 1.8l.7 .3l.7-1l.7-.5l.7 .8l.7-1.6l.7-1l.8 2.4l.7 .7l.7-.1l.7-2.7l.7 .5l.7 3.1l.8-1.9l.7 2.4l.7-1.5l.7 2.7l.7-2.5l.7 .1l.7-.4l.8 .4l.7-.2l.7 .8l.7 0l.7-.4l.7 .7l.8-.2l.7 .2l.7-.5l.7-.4l.7-2.1l.7 .6l.8-1.9l.7 2.1l.7 .2l.7 1.6l.7-1.3l.7 0l.7 .5l.8-.2l.7-.1l.7-1.1l.7 1.6l.7 2.3l.7-1.1l.8-1.9l.7 3.5l.7-2.5l.7 0l.7 .5l.7 1.2l.8-2.2l.7 3l.7-.6l.7-3.5l.7 2l.7 1l.7 1.4l.8-1.5l.7-1.7l.7-1l.7-.2l.7 4.2l.7-3.9l.8 2.1l.7-.1l.7 .8l.7-1.5l.7 .5l.7-1l.8-.8l.7 1l.7-.7l.7 2.6l.7-.5l.7-2.5l.7 1.5l.8 1.4l.7-1.8l.7-1.5l.7 2l.7 .1l.7-.3l.8 1l.7-.7l.7 0l.7-.8l.7 1.3l.7 .7l.8-.4l.7 .6l.7-1.3l.7-.2l.7-1l.7 2.2l.7-1.4l.8 1.3l.7-1.5l.7 1.3l.7-1.4l.7 .5l.7-.3l.8-.4l.7 .4l.7-.1l.7 1.9l.7-1.7l.7 0l.7 .2l.8 .7l.7-1.8l.7 1.8l.7-.8l.7 2.3l.7-2.3l.8-.1l.7-1.3l.7 2.4l.7-1.6l.7-.4l.7-.7l.8 .7l.7 1.4l.7-1l.7 2l.7 .2l.7-2.2l.7 .1l.8 1.7l.7 1.5l.7-1.5l.7 .3l.7-3.6l.7 .8l.8 1.3l.7-.5l.7 .3l.7 1l.7-1.1l.7 1.1l.8 .8l.7-1.2l.7-.9l.7-.6l.7 .8l.7 .9l.7-.6l.8 1.8l.7-4l.7 1.3l.7 2.4l.7-2.6l.7-.3l.8 1l.7 .6l.7-.3l.7-.2l.7-1.6l.7 3.8l.7-.2l.8-3l.7 1.9l.7-.8l.7-.5l.7 1.5l.7-2l.8 .5l.7 1.5l.7-.6l.7-1.7l.7 1.2l.7 1.2l.8-4l.7-1l.7-.1l.7-3l.7-1l.7-4.5l.7 2.3l.8-1.3l.7-.4l.7 4l.7-1.8l.7 4.7l.7-1.3l.8-.8l.7 1.6l.7 .6l.7 1.3l.7 1.5l.7 .2l.8 1.2l.7-1.7l.7 2.1l.7-.3l.7 1.2l.7-.4l.7 1.5l.8-2.5l.7 2.2l.7-1.9l.7 1.6l.7-.5l.7-2.3l.8 3.7l.7-.9l.7-2.1l.7-.1l.7-1.4l.7 4.2l.8-2.4l.7 .8l.7-2l.7 2l.7 .3l.7-1l.7-3.4l.8-3.7l.7 .6l.7-.4l.7 0l.7 1.1l.7 3.7l.8 1.6l.7-2.1l.7 .1l.7 0l.7-1.1l.7 3.9l.8-2.1l.7 3.3l.7-2.3l.7-1.1l.7 2.5l.7-1.6l.7 2.9l.8-2.7l.7-1.6l.7 .4l.7 .4l.7-2.7l.7 2.4l.8-.9l.7 1.6l.7-.3l.7 .1l.7 1.2l.7 .7l.7-1.1l.8 .7l.7-.5l.7-.1l.7-1.3l.7 1l.7 2.8l.8-.6l.7 1.4l.7-3l.7 1.5l.7-.8l.7 .9l.8-1.2l.7 2l.7 0l.7-3.9l.7 4.6l.7-.1l.7-3.6l.8 1.9l.7-1.5l.7 1l.7 1l.7-.6l.7-.6l.8 .5l.7 1.9l.7-3.2l.7 0l.7 1.9l.7-.1l.8-.4l.7 1.1l.7-1.4l.7-1.3l.7-.2l.7 2.2l.7-.5l.8-1.1l.7 .9l.7 .6l.7 .1l.7-2l.7 .2l.8 1.2l.7 .1l.7 1.2l.7-1.4l.7-.5l.7 .6l.7-.4l.8 1.5l.7-1.6l.7 1.3l.7 .2l.7-2.3l.7 2.2l.8-.8l.7-.3l.7 2.2l.7-2.4l.7 .5l.7-1.8l.8 2.6l.7-1.2l.7-.4l.7 1.5l.7 1.1l.7-1.9l.7 2.3l.8-1.7l.7-1l.7 1.6l.7-1.7l.7 2l.7-1.1l.8-1l.7 .2l.7 .2l.7 1l.7-1.6l.7 1.5l.8-.5l.7-.5l.7 1.4l.7-1.5l.7 .9l.7-1.1l.7 .6l.8-1.7l.7 .8l.7 .4l.7-.3l.7-1.7l.7 .7l.8 .7l.7-.9l.7 1l.7-2.8l.7 1.8l.7 1.2l.8-.9l.7 .8l.7-2.6l.7 .9l.7-.2l.7 .6l.7-1.5l.8 1.8l.7 1.2l.7 .7l.7 .6l.7-3.6l.7 .9l.8-.4l.7 .2l.7 1.5l.7 1.8l.7-1.5l.7 .2l.8 .3l.7-.2l.7-.3l.7-.6l.7 .5l.7-.9l.7 .5l.8 1.6l.7-1.8l.7-.5l.7 2.1l.7-1.4l.7 1l.8-.7l.7 .5l.7-.9l.7-.2l.7 .7l.7 1.9l.7-.9l.8-1.3l.7 .9l.7-.1l.7-1.1l.7 .9l.7 1l.8-1.8l.7 0l.7-.6l.7-.6l.7 1l.7 0l.8 .1l.7-.2l.7 2.3l.7-1.3l.7-.2l.7 .1l.7 1.3l.8-.4l.7-1.7l.7 2.1l.7-2l.7 1.6l.7-.2l.8-2.4l.7 .6l.7 2.8l.7-1.2l.7-.3l.7 1.2l.8 0l.7-1.5l.7 1.7l.7-1l.7-2l.7 2.8l.7-2.5l.8 .4l.7 1.9l.7-2.6l.7 1.7l.7 .7l.7-1.2l.8 1l.7-1.2l.7 1.3l.7 .4l.7-.3l.7-.7l.7-1.3l.8 .7l.7-.9l.7 .2l.7 .3l.7 1.3l.7 0l.8-2.9l.7 3.1l.7-.8l.7-.1l.7-.2l.7 .9l.8-1.8l.7 2.1l.7 .5l.7-2.3l.7 .7l.7-.6l.7 .3l.8-1.4l.7 2.6l.7 .6l.7-2.7l.7 2.5l.7-3.2l.8-.5l.7 3.1l.7-.9l.7-3.7l.7-1.3l.7-7.2l.8-2.9l.7 .1l.7-4.2l.7 1"/>
<path id="cv_a7" stroke="#00aa64" d="M154.5 438.7l.7-3.5l.7 3.9l.7-2.5l.8 4.4l.7-3.7l.7 2.1l.7 .8l.7-1.8l.7 5.4l.8-3.3l.7 1l.7 1.6l.7 2.5l.7-2.1l.7 4.6l.8-2.9l.7-.3l.7 1.3l.7-.7l.7-1.3l.7 .9l.7 1.3l.8 2.2l.7-1.9l.7 .5l.7-4l.7 3l.7 .5l.8 2.8l.7-.1l.7-2.1l.7 .7l.7-.7l.7-.9l.8 1.3l.7-.5l.7 1.2l.7 .7l.7-1.2l.7 2l.7-3.1l.8 1.8l.7 .4l.7-2.8l.7 3.7l.7 .2l.7 1.6l.8-2.4l.7 1l.7 .2l.7-3.2l.7 2.9l.7-2.4l.7 2.5l.8 .7l.7-.5l.7-3.2l.7 5l.7-1.6l.7 1.1l.8-2.3l.7 .4l.7 3.6l.7-3.2l.7-.2l.7 .1l.8 2l.7-3.5l.7 1.8l.7-.8l.7 4.4l.7-1.5l.7-1.3l.8 .2l.7-.6l.7-.2l.7 .4l.7 2.7l.7-2.8l.8 .1l.7 .9l.7 1.6l.7-1.3l.7-2.1l.7 1.6l.8 0l.7-1.8l.7 .8l.7 1.6l.7-1l.7 2.9l.7-1.8l.8-1l.7 .5l.7-1.1l.7 .4l.7 2l.7-1.1l.8-2.4l.7 .8l.7 2.6l.7-2.3l.7 1.2l.7 1.9l.7-1.7l.8 0l.7-.2l.7 2l.7-2.3l.7-.6l.7 1.8l.8 2.1l.7-1.7l.7 1.6l.7-.3l.7-3.1l.7 1.6l.8-.1l.7 .2l.7 1.6l.7 .3l.7-.8l.7 .6l.7-2.3l.8 1.9l.7-2.4l.7 1l.7-1.1l.7 3.2l.7-2.1l.8 1.6l.7-2.6l.7 2l.7 .8l.7-.9l.7 .2l.8 0l.7-.2l.7-.4l.7-.5l.7 2.4l.7-1.2l.7 .1l.8 .3l.7-1.9l.7-.1l.7 0l.7 4.1l.7-2.6l.8 1.3l.7-3.2l.7 1.9l.7 .6l.7-.8l.7 2.2l.8-1.8l.7 .4l.7 1.5l.7 .7l.7-1.6l.7-.9l.7 .2l.8 1.9l.7-2.8l.7 .1l.7 .1l.7 2.5l.7-.7l.8-1.6l.7 .2l.7 .9l.7-.6l.7-.6l.7 .3l.8 .8l.7-.4l.7 .7l.7-.4l.7-.4l.7 1.5l.7 0l.8-2.9l.7 2.8l.7-.9l.7-.7l.7 2.2l.7-.5l.8 .4l.7-1.4l.7 3l.7-1.6l.7-1.3l.7 3.1l.7-3.4l.8 3l.7-2.2l.7-.4l.7-.1l.7-.3l.7 .1l.8 1.6l.7-.5l.7-1.9l.7 2.3l.7-2l.7 2.4l.8-1.1l.7 .3l.7 1.8l.7-3.9l.7 5.1l.7 .1l.7-1.3l.8-.6l.7-1.5l.7 2.2l.7-1.6l.7-.1l.7-.5l.8 2.6l.7-.6l.7-2.7l.7 1.6l.7-1.4l.7 2.7l.8-2.2l.7 1.1l.7 .8l.7-.9l.7-1.3l.7 1l.7-1l.8 3.3l.7-.5l.7-3.2l.7 .7l.7 4l.7-1.8l.8-1.1l.7 1.5l.7-.7l.7 .6l.7-1.4l.7 2.4l.7-1.6l.8-1.6l.7 1.3l.7-.3l.7 .9l.7-.1l.7-.2l.8-1.1l.7 1.3l.7-.9l.7 2.6l.7-3.3l.7 1.1l.8-.3l.7-.5l.7 1.7l.7-.1l.7-.1l.7 1.5l.7-2.4l.8 1.2l.7-.4l.7 .3l.7-1.8l.7 .1l.7 2.4l.8-2.4l.7 2.7l.7 .5l.7-2.4l.7 1.1l.7-.2l.8 1.6l.7 .7l.7-1.5l.7 .1l.7 .5l.7-2.6l.7 1.1l.8 1.1l.7-1.6l.7 2.5l.7-2.9l.7 .8l.7 .4l.8 .7l.7-1.9l.7 .7l.7 .8l.7-.3l.7 .6l.8-1.6l.7-.3l.7-1.2l.7 .9l.7 1l.7-1.2l.7 1.3l.8 1.4l.7-1.5l.7 1.6l.7-.2l.7-.8l.7 .9l.8 .2l.7-2.6l.7 3.4l.7-3.8l.7 2.3l.7-.9l.8 0l.7 .9l.7-.6l.7 .2l.7 .2l.7-.9l.7 1.3l.8-1.5l.7 1.9l.7-2l.7 1.7l.7-.8l.7 2.2l.8-2.7l.7 2.5l.7-1.8l.7-1.3l.7 3.4l.7-.4l.7 .8l.8-2.4l.7 1.5l.7 .8l.7-1.5l.7 2.1l.7-2.5l.8 1.4l.7-2l.7 .2l.7 .4l.7 .3l.7 .4l.8 .3l.7-2.9l.7 2.5l.7-.7l.7-1.4l.7 1.2l.7 1.5l.8-.2l.7-2.2l.7 1l.7 .1l.7 2l.7-1.8l.8-.6l.7 .8l.7-2.4l.7 2.6l.7 .9l.7-.6l.8-2.5l.7 4.5l.7-1.8l.7-.8l.7 .1l.7 1l.7-1.1l.8 .1l.7 .8l.7-1.9l.7 2.1l.7-1.9l.7 1.5l.8 .7l.7-.6l.7 .4l.7-1.3l.7-.4l.7 1.9l.7-1.2l.8-.8l.7 .4l.7-.2l.7 1.5l.7-.1l.7 1l.8-2.8l.7 1.2l.7-.1l.7-2.2l.7 2.2l.7 .8l.8-1.6l.7-.4l.7 3.7l.7-3.8l.7 3.1l.7-1.3l.7 .1l.8-1l.7-.5l.7 2.7l.7 .4l.7-2.9l.7 2.2l.8-1.3l.7 .9l.7-1.1l.7-.5l.7-.9l.7-.2l.8 1.7l.7-.1l.7-1l.7-.5l.7 .9l.7 1.3l.7 .5l.8 .1l.7-1l.7 .8l.7-2.2l.7 3.1l.7-1.6l.8-1l.7-.1l.7-.2l.7 .8l.7 1.3l.7-1.7l.8 1.8l.7-.9l.7-1.9l.7 .6l.7 .2l.7 .5l.7 2.5l.8 .5l.7-2.2l.7 0l.7-1.1l.7 2l.7-2.1l.8 .4l.7 .6l.7 .9l.7-.6l.7-2.6l.7 2.7l.8-.8l.7 .8l.7 1.1l.7-3.2l.7 2l.7 .7l.7-2.6l.8 3.1l.7-.7l.7-.4l.7-1.1l.7 1.3l.7 .3l.8-1.6l.7 .2l.7-.3l.7 1.2l.7 .1l.7 .6l.7-.6l.8-.8l.7 .5l.7-1l.7 2l.7-2l.7 .1l.8 1l.7-2.1l.7 2.5l.7 .9l.7-.8l.7 .1l.8-.3l.7-.6l.7-.4l.7-2.1l.7 0l.7-1.4l.7 .2l.8-1.7l.7 3l.7 1.8l.7-.1l.7 .3l.7 .2l.8 .2l.7 2l.7-3.4l.7 .6l.7-.2l.7 1.8l.8 .3l.7-1.6l.7 2l.7-2l.7 2.6l.7-1.4l.7 .9l.8-2.4l.7 2.4l.7-.8l.7-.8l.7-1l.7 2.5l.8-.1l.7-1.1l.7 1.4l.7 0l.7 .2l.7-2.2l.7 1.8l.8-.5l.7-.9l.7 .9l.7-.7l.7 1.7l.7-1.3l.8 .6l.7 .5l.7 1.1l.7-1.2l.7-2l.7 2.8l.8-1.3l.7 1l.7-1l.7-.5l.7-1.1l.7 1.6l.7 .7l.8-1.4l.7 0l.7-.2l.7 .6l.7 .3l.7 .8l.8-1.2l.7 .5l.7-1.2l.7 2l.7-.9l.7-1.5l.8 .5l.7 .8l.7 1.4l.7-1.1l.7 1.6l.7-1.2l.7-1.3l.8 .1l.7 2.5l.7-2.5l.7 0l.7-.1l.7-.4l.8 2.1l.7 .2l.7-2l.7 2.8l.7-.7l.7-1.3l.8-1.1l.7 1l.7 0l.7 1.2l.7-1.1l.7 1.3l.7 1.3l.8-3l.7 .2l.7 1.9l.7 .6l.7-3.8l.7 1.4l.8-1.1l.7 2.1l.7-.3l.7-.9l.7 1.1l.7 1l.8-3.5l.7 .6l.7 .9l.7 .7l.7 .5l.7-.2l.7 1.7l.8-1.8l.7-.8l.7 0l.7-1.3l.7 1.9l.7 .8l.8-1.7l.7 2l.7-2.2l.7 2l.7-.8l.7 1.9l.7-1.4l.8 0l.7-.6l.7-.8l.7 .5l.7-.3l.7-.5l.8 2.8l.7-.2l.7-.5l.7 0l.7-1.9l.7-.9l.8 2.8l.7 0l.7 .1l.7 .3l.7-.1l.7-1.4l.7 1.4l.8-.1l.7 1l.7-.9l.7-.4l.7 0l.7-1l.8 .4l.7 1.3l.7-2.8l.7 1l.7 1.7l.7-1.4l.8-1l.7 2.1l.7 .2l.7-.2l.7-.1l.7-1.7l.7 3.5l.8-2.9l.7 .1l.7 1.4l.7 0l.7-.5l.7 .2l.8 .4l.7-.2l.7-1.2l.7 .9l.7 .3l.7 0l.7-.4l.8-1l.7 1.5l.7 .3l.7-.4l.7-1.9l.7 1.9l.8 1.2l.7-1l.7-1l.7 .8l.7-.4l.7-.2l.8 .9l.7-.3l.7-1l.7 2.5l.7-.7l.7-2.7l.7 1.5l.8 .1l.7-2.2l.7 1.1l.7 2.3l.7-1.1l.7 .5l.8-.3l.7-.1l.7-.5l.7-.8l.7-.4l.7 .9l.8 1.6l.7 .1l.7 .4l.7-1.4l.7-.7l.7 2.2l.7-.4l.8-.5l.7 0l.7-.9l.7 1.6l.7-2.9l.7 1.4l.8 1l.7-.6l.7 1.5l.7-1.1l.7-1.1l.7-.1l.8-1.3l.7 3.3l.7-1l.7 .5l.7-1.8l.7 .1l.7 1.6l.8-1.1l.7 .5l.7 1.5l.7-1l.7 0l.7-.2l.8-.7l.7 1.2l.7-.5l.7 1.7l.7-1.2l.7-2.2l.8 1.3l.7-.6l.7 2.3l.7-1.5l.7-1.1l.7 .8l.7 1.4l.8-.2l.7-.7l.7 0l.7-1.4l.7 .9l.7 .2l.8-.7l.7 1l.7-1.3l.7 2l.7-1.6l.7-.3l.7-.2l.8 .8l.7 .7l.7-.1l.7-1l.7 .8l.7-1.2l.8 .9l.7 .6l.7-.3l.7-.7l.7-.3l.7 1l.8-.3l.7-1.7l.7 .8l.7 .7l.7 .4l.7-.3l.7 1.4l.8-2.4l.7 2.5l.7-1.8l.7 .7l.7-.6l.7 .5l.8-1.6l.7 2.8l.7-1.8l.7 .3l.7-2l.7 2.1l.8-.6l.7 1.3l.7-.3l.7-.9l.7-.9l.7 2.7l.7-1.7l.8 1.3l.7 0l.7 .4l.7-2.7l.7 .1l.7 .7l.8-.4l.7 1.4l.7-.4l.7 .3l.7-.4l.7 .2l.8 0l.7-.3l.7-.7l.7 1.8l.7-1.6l.7-1.2l.7-.3l.8 2.4l.7-.8l.7-.1l.7-.9l.7 1.5l.7 .8l.8-.7l.7-1.3l.7 .8l.7 .3l.7-1.1l.7-.3l.7 0l.8 2.9l.7-.5l.7-1.6l.7 .1l.7 .8l.7-.2l.8-.6l.7-1.9l.7-.5l.7 .4l.7 .2l.7-1.2l.8-2.9l.7-4.8l.7-3.9l.7-16.1l.7-14.9l.7-17l.7-7.6l.8 9.7l.7 11.2l.7 15.9l.7 17l.7 7.9l.7 3.7l.8 1.7l.7 .3l.7 .5l.7 2.7l.7-2.4l.7 2.1l.8-1.2l.7 .4l.7-.9l.7 .7l.7-.4l.7-1l.7 .5l.8-1l.7 2.7l.7-2.1l.7 .3l.7 2l.7-1.3l.8-1.5l.7 1.1l.7-1l.7-.1l.7-2.1l.7 1.5l.8-1.2l.7-1.2l.7-1l.7 .4l.7-1l.7 .9l.7-.1l.8-1.1l.7 2.7l.7-.3l.7-2.4l.7 3.8l.7-2.1l.8-.5l.7 2.3l.7 1.7l.7 .8l.7-1.9l.7 1.3l.7 .1l.8 1.2l.7-.8l.7-1.3l.7-1.6l.7-1.9l.7-1.7l.8-1.3l.7 .4l.7 4.4l.7 .6l.7 1.8l.7 .7l.8 1.5l.7-.6l.7 1.2l.7-.4l.7 1.5l.7-3l.7 3.2l.8-1l.7-1.2l.7 1.6l.7-.9l.7 .7l.7-.5l.8 .3l.7-.1l.7-.3l.7-.2l.7 1.2l.7 .1l.8 0l.7-1l.7 .4l.7 .2l.7 0l.7-.3l.7 .5l.8-.9l.7 1l.7-1.6l.7 .8l.7-.2l.7 0l.8 1.3l.7-2.2l.7 1l.7 .1l.7 .5l.7-1.5l.7-.3l.8 .2l.7 .1l.7-.1l.7 .7l.7-.4l.7-1.1l.8-.3l.7 1.1l.7 .2l.7-.1l.7 .2l.7 2.3l.8-1.1l.7-1.1l.7 1.8l.7-1.8l.7 .4l.7 .5l.7-.3l.8-.2l.7-.3l.7-.2l.7-.6l.7 1.2l.7 .4l.8-2.7l.7 .2l.7-1.7l.7-4.9l.7-.1l.7-2.1l.8-1.2l.7 1.2l.7 4.4l.7 2.3l.7 .8l.7-.5l.7 4.4l.8-3.2l.7 2.4l.7-2.1l.7 1.9l.7-.1l.7 .6l.8 .3l.7 .2l.7-1.5l.7 1.7l.7-.2l.7-1.5l.8 1.1l.7-1.2l.7 .8l.7-1.6l.7 1.1l.7 .6l.7-2.6l.8-.4l.7 .4l.7-1.4l.7-6.4l.7-1.6l.7-5l.8-.9l.7 4.3l.7-2.5l.7 1.7l.7 2.4l.7 4.4l.8-.6l.7 2.6l.7 2.1l.7 .7l.7 1.8l.7 1.8l.7-1.8l.8 1l.7 1.4l.7-1.2l.7-1.1l.7 1.8l.7 .1l.8 .9l.7-1.6l.7 1.1l.7 .2l.7-3.1l.7 1.8l.7 2l.8-2.6l.7 2l.7-1.4l.7-1.2l.7-.7l.7 1.4l.8-.6l.7 3l.7-3.8l.7 3l.7-1.2l.7 1.2l.8-2.3l.7 1.6l.7-1.1l.7 1.6l.7 .7l.7-.9l.7-.5l.8 .8l.7-.2l.7-1.3l.7-1.4l.7 1.6l.7-1.6l.8 1.2l.7 3l.7-.7l.7-2l.7 .9l.7 1.2l.8-1.6l.7-1.7l.7 .1l.7 2.9l.7 .1l.7-.2l.7-.7l.8-.2l.7 0l.7-.7l.7 .7l.7 .1l.7-1.5l.8 3l.7-1.4l.7 .3l.7-1.7l.7 .7l.7-.5l.7-.8l.8 .4l.7 2.7l.7-1.9l.7 .2l.7-.8l.7-.4l.8-1.4l.7 .7l.7-2.1l.7 .5l.7-2.8l.7-.2l.8-.1l.7 .8l.7-1.8l.7 2l.7 .9l.7 1.1l.7-.1l.8 .6l.7 .1l.7-1l.7 1.9l.7-.9l.7 .6l.8 1.4l.7-1.1l.7-.9l.7-.9l.7-.8l.7-1.4l.8 .9l.7 .8l.7-2.3l.7-3l.7 .8l.7-4.9l.7-2.9l.8-1.3l.7-6.2l.7-6.8l.7-18.1l.7-19.4l.7-38.5l.8-70l.7-111l.7-79.2l.7 79.3l.7 109.4l.7 71.4l.8 36.4l.7 25l.7 12.4l.7 7.9l.7 6.1l.7 3l.7 5.5l.8 1.4l.7 1.2l.7 1.2l.7 1.1l.7 1.1l.7 .1l.8-.4l.7-.2l.7 1.1l.7 2.8l.7-1.4l.7 1.7l.8 1.1l.7-1l.7-.3l.7 .3l.7 1.2l.7-1.5l.7 1.5l.8 1.5l.7-1.2l.7 0l.7-.1l.7-.5l.7-1.1l.8 2.1l.7 .1l.7-2.2l.7 1.6l.7 1.2l.7-.4l.7-.1l.8-1.4l.7-.2l.7 .9l.7 1l.7-1.8l.7 2.1l.8-3.4l.7-.8l.7-.5l.7-6.4l.7-.1l.7-.6l.8 .4l.7 .1l.7 .8l.7-.5l.7 1.6l.7-1l.7-4.7l.8-9.5l.7-16.3l.7-25.7l.7-3.9l.7 8.9l.7 8.5l.8 16l.7 10.6l.7 9.1l.7 2.1l.7 5l.7 .3l.8 1l.7 .9l.7 1.4l.7-.4l.7 1.1l.7-.6l.7 .2l.8 2.4l.7-1.8l.7 1.5l.7 2.1l.7-.7l.7 .5l.8-.4l.7 0l.7 1.9l.7-.8l.7 .4l.7 .7l.7-1.3l.8 1l.7-1.9l.7 3.3l.7-.3l.7-2.2l.7 1.6l.8-.1l.7-1.3l.7 .9l.7-.3l.7 0l.7 .4l.8 .8l.7-1.1l.7 .2l.7-.1l.7-.7l.7 1.5l.7 1.5l.8-.6l.7-2l.7 1.4l.7-1l.7 1.7l.7-2.5l.8 2.8l.7-2.5l.7 1.9l.7 .7l.7-1l.7 1.2l.8-1.4l.7 1.6l.7-1.9l.7 .5l.7 .5l.7 1.5l.7-2.5l.8-.1l.7 1.8l.7-.9l.7-.8l.7 .5l.7 1l.8-1.5l.7-.1l.7 1.2l.7 .2l.7-1l.7 .3l.8 1.2l.7-2.1l.7 .2l.7 2.1l.7-.4l.7 .8l.7-1.2l.8-.1l.7 .3l.7-1.8l.7 .4l.7 1.4l.7 .1l.8 .1l.7-.1l.7-.5l.7-1.1l.7 1.4l.7-.2l.8-1.7l.7 2l.7-.6l.7 .2l.7-1.5l.7 .1l.7 2.1l.8-2.6l.7-.1l.7 1l.7-3l.7 2.3l.7 .6l.8 .4l.7 .1l.7-1.7l.7 1.8l.7 .4l.7-2.4l.7 2.6l.8-.8l.7 .6l.7-.1l.7-.3l.7 .4l.7-.4l.8 .3l.7-.9l.7-1.4l.7 2.2l.7-1.2l.7-1.4l.8 2.3l.7 .2l.7 .7l.7 .7l.7-.9l.7-.8l.7 1.6l.8-1.2l.7 .3l.7 .6l.7-.9l.7 0l.7 1.7l.8-1.1l.7 .3l.7-.6l.7 .1l.7-.4l.7 .6l.8-.2l.7 0l.7-.4l.7 2.3l.7-1l.7-1.5l.7-.7l.8 1.9l.7-.8l.7-.7l.7 .9l.7-1.2l.7 2l.8-1.6l.7-1l.7-.4l.7 3l.7-1.8l.7 .3l.7 .6l.8-.8l.7-.3l.7 .5l.7 1l.7-.2l.7-.7l.8 .4l.7 1.6l.7-.3l.7-1.2l.7 .5l.7-.3l.8 .5l.7 1.4l.7-2.2l.7 .9l.7-.3l.7 .1l.7-.3l.8-.7l.7 .2l.7-1.2l.7 .8l.7 .6l.7 1.1l.8 0l.7-.7l.7-.5l.7-.5l.7-.4l.7 1.5l.8 .4l.7-.6l.7-.8l.7 0l.7 2.2l.7-1l.7-.6l.8 1.1l.7-.7l.7-1.4l.7 1.5l.7 .1l.7 .8l.8-1.7l.7 1.3l.7-.1l.7-.3l.7-.2l.7 0l.8-.2l.7 .3l.7 .4l.7-.7l.7-.4l.7 .2l.7 0l.8 .1l.7 .2l.7-1.3l.7 1.6l.7 1.3l.7-.9l.8-1.2l.7-.8l.7 1.1l.7-.1l.7 .2l.7-.8l.8 0l.7 1.3l.7-.8l.7 1.1l.7-1.8l.7-.6l.7 1.8l.8-1.3l.7 .1l.7 1.2l.7-1l.7 .9l.7-1.4l.8 .4l.7 .1l.7 0l.7-.9l.7-2.4l.7-2.7l.7-3.3l.8-6.8l.7-8l.7-8.7l.7-.9l.7 3.1l.7-1.4l.8 3l.7 4.8l.7 3.7l.7 4.8l.7 5.6l.7-.4l.8 3.9l.7 .9l.7 1.8l.7 .2l.7 2.2l.7-.2l.7 2.2l.8-.3l.7-2l.7 2l.7-.6l.7 .1l.7 1.4l.8 1l.7-2.9l.7 .3l.7 .2l.7 1.2l.7-.9l.8 1.3l.7-2.6l.7 1.1l.7 1.6l.7 .3l.7-2l.7-.2l.8 .9l.7 0l.7 0l.7-.2l.7 2.5l.7-1l.8-1.5l.7 .1l.7 .6l.7 .4l.7 1l.7-.3l.7-.8l.8-.6l.7 1.3l.7-.2l.7-1.5l.7-.6l.7 1.2l.8 .4l.7-.4l.7-.3l.7-.3l.7 2.1l.7-1.4l.8-.8l.7 0l.7 1.2l.7-1.2l.7 2.1l.7-2.5l.7 .5l.8-.7l.7 1.9l.7-1.8l.7 0l.7 1.7l.7 .4l.8-1.4l.7 1.7l.7-.5l.7-2.4l.7 2.2l.7 .7l.8-1.3l.7-1l.7 .5l.7-.6l.7 .9l.7 .6l.7-.8l.8-.1l.7 1.4l.7-1.8l.7 1l.7-2.4l.7 .4l.8 1.2l.7 .5l.7-.3l.7-.1l.7-.6l.7 .6l.8 .3l.7-1l.7-1.5l.7 1l.7 2.7l.7-1.7l.7-.1l.8-.4l.7 1l.7-.7l.7 1.4l.7-.4l.7-2.1l.8 1l.7 .5l.7-.6l.7 .2l.7 .2l.7-1.2l.8-1.7l.7-.5l.7-3.6l.7-4.8l.7-5.1l.7-.5l.7-3.9l.8-1.8l.7 .9l.7-.1l.7 1.8l.7 2.7l.7 4.4l.8 1.7l.7 1.7l.7 4.3l.7 .7l.7 1.2l.7 1.2l.7 .5l.8 1.4l.7-.8l.7 .3l.7 1.2l.7-1.2l.7 .4l.8 1.3l.7 1.6l.7-1.7l.7 .5l.7-1.3l.7 .6l.8 2.3l.7-1.6l.7 .1l.7-.8l.7 1.4l.7-.3l.7 .3l.8 0l.7-1l.7-.3l.7 .5l.7 .1l.7 .4l.8-.7l.7-1.4l.7 2.7l.7-1.3l.7-3l.7-.1l.8-9l.7-4.7l.7 1.7l.7 5.5l.7-.1l.7-.7l.7 1.4l.8 3.4l.7 .1l.7 2.7l.7 .9l.7 .8l.7 1.2l.8-.3l.7 .6l.7-.3l.7-1l.7 .7l.7 .9l.7 1.6l.8-2.1l.7 1.2l.7-1.4l.7 1.1l.7 .5l.7-.8l.8 .1l.7-.5l.7 .6l.7 .1l.7 .4l.7-.7l.8-.3l.7 .1l.7 .2l.7 .5l.7 .4l.7-1.6l.7 1.6l.8-.6l.7-.9l.7 .3l.7-.6l.7-.1l.7 .8l.8 .5l.7-.4l.7 .7l.7-.1l.7 0l.7 0l.8-.1l.7-1.8l.7 1.7l.7-1.7l.7 2.4l.7-1.5l.7 .2l.8-.3l.7 1.2l.7-1.2l.7 .5l.7-.5l.7 .8l.8-.9l.7 1.1l.7-.4l.7-.6l.7 .6l.7-.4l.8-.4l.7 .5l.7-1.4l.7 1.6l.7 .5l.7-1l.7 .8l.8 .5l.7-1.5l.7 2.1l.7-1.8l.7 1l.7-.3l.8 .7l.7-1.1l.7 .3l.7 .7l.7 .4l.7-.8l.7 .4l.8-1.8l.7 .4l.7 .6l.7 .4l.7 .1l.7 .7l.8-1l.7 .4l.7 0l.7-1l.7-.9l.7 1.3l.8 0l.7 1.1l.7-.6l.7 .3l.7-.9l.7-.1l.7 .8l.8 .7l.7-2.1l.7 .8l.7-.9l.7 .3l.7 1.3l.8-.2l.7-.7l.7 .4l.7 1l.7-1.7l.7 1.4l.8-.7l.7-1.8l.7 2.4l.7 .8l.7-1.8l.7 .1l.7-.3l.8 .7l.7 0l.7 .8l.7-.5l.7-.4l.7-.3l.8 1.1l.7-1.1l.7 0l.7 .7l.7 .1l.7-1.2l.8 0l.7 2.1l.7-3.4l.7 .9l.7-2.4l.7-1.7l.7-7.4l.8-.9l.7 2.3l.7 1.2l.7 3l.7-.4l.7 .4l.8 1.7l.7 .2l.7 1.6l.7 2.1l.7-.4l.7 .5l.7-.4l.8 .8l.7 .2l.7 .4l.7 .1l.7-.5l.7 1l.8-.4l.7 .3l.7-.3l.7-.5l.7 .7l.7-.4l.8-.1l.7-.2l.7-1.3l.7 3l.7-.8l.7 .7l.7-1.2l.8 .6l.7-.9l.7-1.1l.7 2.2l.7-.7l.7 .3l.8-1.7l.7-.6l.7-5.5l.7 3l.7-1.9l.7 1.3l.8-1.4l.7 .2l.7 3.1l.7-2.8l.7 3.1l.7 .6l.7 .7l.8-.7l.7 1.5l.7-.7l.7 .3l.7 .4l.7 1.4l.8-.9l.7 .1l.7 .5l.7 .2l.7-1.3l.7 1.9l.8-1.2l.7-.5l.7-1.9l.7 .5l.7-.5l.7-.6l.7-1.2l.8-.8l.7 .2l.7-.9l.7 .3l.7 1.8l.7-.6l.8 1.3l.7 .6l.7 1.4l.7-1.6l.7 1.1l.7-1.3l.8 1.4l.7 .5l.7 1.8l.7-1l.7-.7l.7 2l.7 .6l.8-1l.7-.5l.7 1.2l.7-2.3l.7 1.2l.7-1.2l.8 2.3l.7-.6l.7 .2l.7 .3l.7-1.3l.7-.6l.7 .1l.8 1.5l.7-.1l.7-2.5l.7 3.5l.7-.7l.7 0l.8-.4l.7-.2l.7-.1l.7-.2l.7-.2l.7-.8l.8 1.1l.7 .4l.7-.9l.7 .5l.7 .1l.7-.3l.7-.4l.8 .5l.7-.3l.7-1l.7 2.2l.7 .9l.7-1.7l.8 .5l.7-1.6l.7 .8l.7 .1l.7 .7l.7-1.1l.8 .8l.7-.7l.7 1l.7-1.1l.7-.2l.7 .1l.7-.2l.8 .3l.7-.5l.7 .5l.7-.3l.7-.1l.7-.6l.8-.5l.7-.8l.7-4l.7-5.1l.7 .8l.7 .5l.7-.5l.8 1.8l.7-.5l.7 .3l.7 4.1l.7-.4l.7 1.2l.8 3l.7-1.4l.7 1.1l.7 1.4l.7-.1l.7 .4l.8 .5l.7-1.8l.7 .3l.7 1.7l.7-.5l.7-.2l.7 0l.8 .4l.7 .4l.7-1.6l.7 1.2l.7 1.5l.7-2l.8 .8l.7 1.3l.7-2.1l.7 .2l.7-1.2l.7 1l.8-.2l.7 1.1l.7 .6l.7-1l.7 .2l.7-1l.7 2.4l.8-1.1l.7 .1l.7 1.1l.7-1.8l.7 0l.7-.2l.8-1.1l.7 2.5l.7-1.3l.7-.7l.7 .1l.7 1.2l.8 .7l.7-.9l.7-1l.7 0l.7 1.3l.7 .6l.7-1l.8-1.8l.7 2.3l.7-1.5l.7 1.2l.7 .1l.7 .1l.8-1.2l.7 .1l.7 .8l.7 .4l.7-.7l.7-.4l.8-.5l.7-.7l.7 1.7l.7-.7l.7-1l.7 2.7l.7-.2l.8 .2l.7-1.4l.7 .7l.7-1.4l.7 1.1l.7 0l.8 .6l.7-1.6l.7 1.6l.7 .4l.7-.2l.7-.2l.7 .4l.8-.5l.7-.9l.7-.7l.7-.1l.7 1l.7-.6l.8 .6l.7 .1l.7-.7l.7 1.5l.7-2l.7 .4l.8 1.1l.7-.4l.7-1.1l.7 1.5l.7-1.3l.7 1.6l.7-1.3l.8-.2l.7 .5l.7 .7l.7 .2l.7-1.1l.7 .2l.8 .4l.7 .3l.7-.8l.7 1l.7-.4l.7-.7l.8 1l.7-.5l.7 1.8l.7-.6l.7-.2l.7-.5l.7 .3l.8 .1l.7-1.5l.7 1.6l.7-1.6l.7 .1l.7 .2l.8 .7l.7 .4l.7 .3l.7-1.8l.7 .7l.7-.3l.7 .9l.8-.5l.7 2.1l.7-.8l.7-.8l.7-1.7l.7 1.5l.8-.6l.7 .8l.7-.6l.7 .1l.7-1.5l.7 1.2l.8 1.4l.7-1l.7 .4l.7-.3l.7-.6l.7 1.5l.7-2.2l.8 1.7l.7-1.6l.7-1.4l.7-3.1l.7 1.2l.7-1.5l.8 1.1l.7 1.3l.7 1.8l.7-2l.7-1.5l.7 .6l.8 1.2l.7 1.5l.7 0l.7 .3l.7 1.9l.7 1.1l.7-.9l.8-.2l.7-.9l.7 .8l.7 .3l.7-.5l.7 .2l.8-.7l.7 1.3l.7-1.5l.7 2.2l.7-1.2l.7-.7l.8 1.2l.7-.9l.7-.2l.7 1.2l.7 .2l.7-2.2l.7 1.1l.8 1.9l.7-2.1l.7-.1l.7-.2l.7-1l.7 2l.8-.5l.7 .5l.7 1l.7-.5l.7-.1l.7-2.1l.8-.3l.7 2.4l.7-.4l.7 .3l.7-.1l.7 .3l.7 .3l.8 0l.7-1.3l.7 1.1l.7-1.7l.7 .9l.7-1l.8 1.7l.7-.6l.7-.5l.7-.1l.7 .6l.7 1.1l.7 .1l.8-2.8l.7 1.6l.7 .8l.7-.1l.7-.1l.7-1.7l.8 .8l.7 1.4l.7-1.3l.7-.4l.7-.4l.7 1.7l.8 .7l.7-.7l.7-1l.7 1.5l.7-1.5l.7 .1l.7 1.2l.8-.1l.7-.1l.7-.1l.7-.9l.7 .4l.7-.1l.8-.6l.7 .1l.7 1.1l.7-.7l.7-.9l.7 .2l.8-.4l.7-.3l.7 1.4l.7-.1l.7-.5l.7-1.3l.7 .8l.8-1.3l.7 1.5l.7-.4l.7 .2l.7-1.2l.7 2.4l.8-.8l.7 .5l.7-1.8l.7 .2l.7 1.6l.7-.4l.7-1.1l.8 .1l.7-.4l.7 1.1l.7-1.1l.7 1.9l.7-.6l.8 .2l.7-.6l.7 1.5l.7 0l.7-1.2l.7-.6l.8 2.4l.7-2.6l.7 1.9l.7-2.1l.7 3.4l.7-1.2l.7-1.3l.8 .6l.7 .6l.7-2.1l.7 .1l.7 1.9l.7-.5l.8 .5l.7-.2l.7-.3l.7 .9l.7 .2l.7-1.4l.8 1.3l.7-1l.7-.3l.7 .8l.7-1l.7 .9l.7-1.3l.8 1.6l.7-.3l.7 .4l.7-.6l.7-.9l.7 1l.8 .7l.7-.5l.7 .7l.7-2l.7 .6l.7 .6l.8-.4l.7 .9l.7-1.4l.7 .4l.7-.8l.7 1.1l.7-.3l.8-1.2l.7 1l.7 .9l.7-.9l.7-.5l.7 1.2l.8-3.8l.7-.2l.7-2.9l.7 .2l.7-2.5l.7 1.7l.8 1.6l.7-.7l.7 1.1l.7-1.3l.7 .9l.7 1.5l.7 .6l.8 2.9l.7-2l.7 .4l.7 .3l.7 .3l.7 .9l.8-.5l.7-.1l.7 .7l.7 .8l.7-1.5l.7 .8l.7 .7l.8 1.2l.7-2.2l.7 .7l.7 .3l.7-.2l.7 .2l.8-1.8l.7-1.6l.7 .7l.7-3.2l.7-11l.7-11.7l.8-4.5l.7 6.6l.7 6l.7 7.2l.7 6l.7 1.5l.7 .5l.8-3.3l.7-3.6l.7-2.3l.7 2.6l.7 4.2l.7 2.4l.8 .4l.7 .6l.7 2.9l.7 .4l.7 .2l.7-1.5l.8 1.5l.7 .8l.7-.6l.7-.4l.7 .9l.7-1.3l.7 2.5l.8-1.2l.7-1.3l.7 2.9l.7-1.5l.7-1.1l.7 1l.8-.4l.7 .3l.7 0l.7-.5l.7 .9l.7-.7l.7 .2l.8-1.1l.7 1.4l.7-.8l.7 .4l.7 .4l.7-1l.8 0l.7-.7l.7-.7l.7-1.2l.7 1.1l.7-1.6l.8 .1l.7 .2l.7 .9l.7 1.6l.7-.3l.7 .7l.7-1.4l.8-.7l.7 2.5l.7-.6l.7 1.1l.7 .8l.7-.6l.8-1.1l.7 .8l.7-.6l.7 1.7l.7-.6l.7-.8l.8 .2l.7-.2l.7 1.6l.7-2.6l.7 1.4l.7-.7l.7 1.2l.8 .3l.7-1.4l.7-.4l.7 .3l.7 1.2l.7-1.9l.8 1.5l.7 .7l.7-1.1l.7 .3l.7-.7l.7 .4l.8-.6l.7 .7l.7-.6l.7 .5l.7 1.8l.7-1.5l.7 .2l.8-.2l.7-.3l.7-.4l.7 .6l.7-.5l.7 1.1l.8-.6l.7-1l.7 1.2l.7-.5l.7-.3l.7 .7l.8 0l.7-.5l.7 1l.7 1l.7-.7l.7-.6l.7-.7l.8 0l.7-.6l.7 .6l.7 0l.7 .2l.7 .4l.8-.2l.7 1.3l.7-1l.7 1.5l.7-2.2l.7-.4l.7 .7l.8 .9l.7-.6l.7-.6l.7 0l.7 .6l.7 .9l.8-.8l.7 0l.7-.3l.7-.1l.7 .5l.7-.1l.8 .3l.7-.5l.7 .4l.7-.5l.7-.2l.7 1.8l.7-.9l.8-.2l.7 .2l.7-.6l.7 1l.7 .4l.7-1.5l.8 1.3l.7 .2l.7-1.1l.7-1.3l.7 1.3l.7-1.1l.8 1.6l.7-1.3l.7 .8l.7 .1l.7-.6l.7-.8l.7 1.9l.8-1.4l.7-.2l.7 .8l.7-.2l.7-.9l.7 .6l.8 .4l.7-.2l.7 .5l.7-.8l.7 .8l.7 .8l.7-.2l.8-1.4l.7 .8l.7-.2l.7-1.4l.7 .4l.7 .5l.8 .6l.7-1.1l.7 .1l.7-1.7l.7 1.3l.7-1.1l.8-.2l.7-1l.7-2.1l.7 1.3l.7-4.7l.7 2l.7-2.6l.8-2.2l.7 2.3l.7 .4l.7 .8l.7 .2l.7 3.4l.8-2.3l.7 1.1l.7 1.3l.7 2.8l.7-.6l.7-.6l.8 0l.7 2.8l.7-.6l.7-.9l.7 1l.7 .8l.7-2.7l.8 1.3l.7 .2l.7 .8l.7-1l.7 1.1l.7-.9l.8 .9l.7-1.7l.7 3.1l.7-2.4l.7-.5l.7-.5l.8 1.8l.7 0l.7-.4l.7-1.5l.7 .9l.7 .4l.7-5.7l.8-.7l.7 0l.7 2.8l.7-1.7l.7 3.4l.7 .9l.8-1.3l.7-.3l.7 1l.7-2l.7 1.5l.7 1.3l.8-.9l.7 1.7l.7-.3l.7 .8l.7-.4l.7 0l.7 1.5l.8-2.1l.7-.5l.7 .7l.7-1.2l.7 0l.7 2.2l.8-1.2l.7-.2l.7 0l.7 .3l.7 .5l.7 .7l.7 1l.8-1l.7-.5l.7-.4l.7 .9l.7-.2l.7 .9l.8-.6l.7 .4l.7-.1l.7 .1l.7-.2l.7 1.2l.8-2l.7 1l.7-.4l.7-.5l.7 .2l.7 1.1l.7-1.6l.8 0l.7 .4l.7 .1l.7-.7l.7 1.6l.7-.8l.8-.8l.7 .8l.7 1.2l.7-.3l.7-.5l.7 0l.8 .7l.7-2.1l.7 2.4l.7-2l.7 .9l.7-.4l.7 1l.8-.8l.7 .1l.7 .3l.7-.5l.7 .1l.7-.2l.8 .6l.7 0l.7-1l.7 .8l.7 1.5l.7-1.1l.7-.7l.8-.2l.7 .4l.7 .6l.7-2.3l.7 1.7l.7-.2l.8 1.2l.7-1l.7 .8l.7-2l.7 .5l.7 1.3l.8-1.1l.7 .8l.7-.1l.7-.9l.7 .4l.7 .8l.7-.4l.8-1l.7 .3l.7 .1l.7 .2l.7 .8l.7-1.8l.8 .7l.7 1l.7-.8l.7 0l.7-.5l.7-.2l.8 1.7l.7-.4l.7-.4l.7-.2l.7-.2l.7 .8l.7-.8l.8 0l.7-1.4l.7 1.6l.7-1l.7 .9l.7-.8l.8 .3l.7 1l.7-2l.7 .6l.7-1.1l.7 1l.8 0l.7-.8l.7 0l.7 2.1l.7-1.8l.7 .8l.7 .1l.8 .2l.7-.8l.7-.5l.7 1.8l.7 .4l.7-1.6l.8 1.6l.7-.9l.7 1.5l.7-.2l.7-1.8l.7 1.7l.8-.8l.7-1.1l.7 1.6l.7-.7l.7-.6l.7 1.7l.7-.2l.8-.9l.7 .7l.7-1.2l.7 1.3l.7-1.4l.7 .5l.8 .2l.7 .9l.7 .6l.7-2l.7 1.6l.7-.4l.7 .8l.8-.7l.7-1.1l.7 .6l.7-1.2l.7 1.9l.7 .1l.8 .1l.7-.6l.7 0l.7-1l.7 1l.7-.9l.8 1.1l.7-.3l.7 .1l.7-1.8l.7 1.7l.7-1.2l.7 1.8l.8-.7l.7-.5l.7 .6l.7 0l.7-.2l.7-.9l.8 .6l.7-.7l.7 .4l.7-.4l.7 1.8l.7 .2l.8-.3l.7-.8l.7-.2l.7 .5l.7 .6l.7-.8l.7-.6l.8-.7l.7 1.9l.7 .1l.7-.7l.7-.7l.7 2l.8-.4l.7 .1l.7 0l.7-.7l.7-1l.7 .4l.7 .4l.8 .7l.7-1.1l.7 1.1l.7-1.2l.7 .9l.7-.2l.8 .4l.7-2l.7 1l.7-.2l.7-.2l.7 2.2l.8-1.4l.7 .6l.7-1.7l.7 .5l.7 .2l.7 .4l.7 .1l.8 .8l.7-1.5l.7 1.1l.7-.7l.7 .1l.7-.2l.8-.8l.7 1.2l.7-2.3l.7-.1l.7-3.6l.7-1.7l.8-5.9l.7-3.6l.7 2.2l.7-1.8"/>
<path id="cv_b0" stroke="#be78dc" d="M154.5 1140.4l.7 .3l.7-1.1l.7 1.1l.8 .3l.7 .4l.7 3l.7-2.7l.7 .3l.7 .1l.8 2.1l.7-1.4l.7 .6l.7 1.4l.7 .1l.7-2l.8 3.5l.7-1.7l.7 .9l.7-.6l.7 1.8l.7-2.4l.7-.2l.8 1.3l.7 1.3l.7-1.6l.7 1.2l.7 .8l.7-3.4l.8 3.3l.7-.2l.7-1.8l.7 .5l.7-.4l.7 1.5l.8-1.6l.7 1.5l.7 .9l.7-3.6l.7 2.5l.7-.5l.7-.5l.8 1.1l.7-.7l.7-1.6l.7 1.1l.7 .6l.7-.8l.8-.8l.7 4.1l.7-.9l.7-.2l.7-1.5l.7-2.6l.7 2l.8 .8l.7-1.3l.7-.3l.7 .9l.7 1.9l.7-2.5l.8-.5l.7-1.4l.7 2.4l.7-2l.7-.9l.7-1l.8-1l.7 .3l.7 1.5l.7-3.4l.7-.3l.7-2.8l.7 .3l.8-3.5l.7 2.6l.7-4l.7 .1l.7-1.9l.7 .4l.8-2.5l.7-1.2l.7-4.3l.7-.6l.7-1.1l.7-.9l.8-.6l.7 1.7l.7-1.7l.7-.1l.7-1.2l.7 .2l.7-.2l.8 3.8l.7-.6l.7 1.6l.7 .2l.7-.5l.7 2.2l.8-1.7l.7 5.1l.7 .3l.7 1.5l.7 1.1l.7 1.9l.7 .1l.8 1.6l.7 .2l.7 1.7l.7 1.9l.7 1.8l.7-.6l.8-.4l.7 .4l.7 2.9l.7 .2l.7 2.4l.7 2l.8-2.3l.7 3.1l.7 .5l.7-2l.7 1l.7 1.8l.7-1.3l.8 .1l.7 2.4l.7-1.2l.7 .2l.7 1.7l.7-.3l.8 .4l.7 1.5l.7 0l.7-3l.7 3l.7-.8l.8 .5l.7 .7l.7 1.2l.7-1l.7-.8l.7 .7l.7-1.9l.8 2.3l.7-.3l.7-1.3l.7-.2l.7 .2l.7 .7l.8 1.5l.7-.7l.7-.4l.7 .5l.7 1.7l.7-1.5l.8-.4l.7 3.1l.7-3l.7 1.5l.7 .5l.7-.7l.7-.3l.8 1.6l.7-1.1l.7 .6l.7-.6l.7 1.8l.7-2.4l.8-.3l.7 .4l.7 .8l.7 0l.7 .4l.7-.7l.8 1.2l.7-1.7l.7 .2l.7 1l.7-.4l.7 0l.7 .2l.8 0l.7 1l.7 .5l.7 .5l.7-1l.7-.7l.8-.3l.7 0l.7-.4l.7 2.1l.7 1.1l.7-1.6l.7 .4l.8-2.3l.7 2.1l.7-.5l.7 .7l.7-.8l.7 .1l.8 0l.7 .2l.7 2.6l.7-1.2l.7-2l.7 1.2l.8 0l.7 2.3l.7-3.6l.7 2.3l.7 .3l.7 1.2l.7-.3l.8-1.7l.7-1.3l.7 .6l.7 .4l.7 .4l.7-.3l.8-.6l.7 1.8l.7-.4l.7-.4l.7 0l.7-.1l.8-.3l.7 2.9l.7-2.2l.7-.2l.7 2l.7-1.7l.7 .7l.8-1.2l.7 .6l.7-1.2l.7 2.1l.7 1.5l.7-1.6l.8 .1l.7 .8l.7 0l.7-1.8l.7 .2l.7 .4l.7 1.5l.8-2.2l.7 .6l.7 .4l.7 .2l.7 .3l.7-.5l.8 1.4l.7-1.7l.7 2.6l.7-1.7l.7 .5l.7-1.7l.8 1.5l.7-1.4l.7-.1l.7 2l.7-.7l.7-1l.7-.7l.8 2.5l.7-.6l.7 .7l.7 .2l.7 .2l.7-2.9l.8 0l.7 2.6l.7-2.2l.7 2.6l.7-.6l.7-.3l.8 0l.7-1.3l.7 1.3l.7 0l.7 .5l.7 1.4l.7-2.1l.8 1.1l.7 1l.7-2.2l.7-.1l.7 .1l.7-.3l.8-.4l.7 2l.7 .8l.7-.7l.7-1l.7 0l.8 .8l.7-.8l.7 .5l.7-.3l.7 1.3l.7-.2l.7-.4l.8-1l.7 .5l.7 1.1l.7 .9l.7-1.9l.7 2.3l.8-2.1l.7 0l.7 .7l.7-.9l.7 .6l.7 .2l.8-.5l.7 .2l.7 .7l.7 .6l.7 .8l.7-1.6l.7-1.4l.8 .9l.7-.9l.7 1.4l.7-.6l.7 .8l.7-.4l.8 .2l.7-.3l.7 1.7l.7-2.8l.7 2.4l.7 .1l.7-.4l.8-.3l.7 .2l.7-.7l.7-.5l.7 1.6l.7-.1l.8 .2l.7-.8l.7 1l.7-.4l.7 1.1l.7-1.5l.8-1.8l.7 .9l.7 1.2l.7-1.4l.7 1.7l.7-1.1l.7 .7l.8 .1l.7-.9l.7 1l.7 .7l.7-1.4l.7 .2l.8-.2l.7 1l.7 .3l.7-1.3l.7 .2l.7 1l.8-.6l.7 1.4l.7-1.5l.7-.4l.7-.5l.7 .5l.7-.9l.8 1.7l.7 1.1l.7-2.6l.7 .1l.7 .3l.7 .8l.8-.6l.7 1.4l.7 .2l.7-1.4l.7 .4l.7-.4l.7 1.2l.8 .9l.7-2.3l.7 .5l.7-.5l.7 1.3l.7 0l.8-1l.7 .5l.7 1.9l.7 0l.7-2.4l.7 .7l.8-.3l.7 .7l.7-1.2l.7 1.4l.7 .3l.7 .2l.7-2.1l.8 2.7l.7-2.2l.7-.4l.7 2.1l.7-.2l.7-.8l.8 .8l.7-.1l.7-.3l.7-1.1l.7 .6l.7 .3l.8 .9l.7 .3l.7-1.3l.7-.4l.7-.1l.7 1.4l.7-1.3l.8 2.2l.7-1.5l.7 0l.7 .4l.7-.5l.7-.7l.8 .8l.7 .3l.7-.7l.7 .2l.7 .2l.7-1.4l.8 .8l.7 .5l.7-.7l.7 1.3l.7 0l.7-2.1l.7 1.3l.8 .8l.7-.6l.7 .6l.7 .1l.7-1.6l.7 1.4l.8-.9l.7-1.1l.7 2.2l.7-1l.7 .5l.7 .7l.8 .2l.7-.9l.7-.5l.7 .2l.7 1.3l.7-1l.7 1.6l.8-.2l.7-1.7l.7 2l.7-1.9l.7 .4l.7 .1l.8-.8l.7 .9l.7 .4l.7 1.1l.7-.5l.7-1.5l.7 .7l.8 .6l.7-.9l.7-.6l.7 .6l.7-.8l.7 .9l.8-.5l.7 1.3l.7-1.1l.7-.8l.7 1.5l.7-.9l.8-.6l.7 .7l.7-1.5l.7-2.3l.7-2.5l.7-1.6l.7-1.5l.8 0l.7 4.5l.7 1.1l.7 3.7l.7-.2l.7 .8l.8-.5l.7 .3l.7-1.2l.7 1.6l.7-.7l.7 .7l.8 1l.7-2.8l.7 2.4l.7-.5l.7 0l.7 .4l.7-.9l.8-1.1l.7 .9l.7 .2l.7-1.2l.7 1.9l.7 0l.8-1.3l.7 1l.7 0l.7 0l.7-.1l.7 .9l.7-.7l.8 1.4l.7-1.3l.7 .8l.7 .1l.7-2.2l.7 1.4l.8 .1l.7 .1l.7 0l.7 .6l.7-.3l.7-.8l.8 1.1l.7-1.1l.7 .5l.7-.7l.7-.6l.7 .2l.7 2l.8-.6l.7-1l.7 1l.7-1.2l.7 .1l.7-.7l.8 1l.7 .7l.7 1.3l.7-1.9l.7 .4l.7 .1l.8 .4l.7-1.2l.7-.3l.7 1.5l.7-1.6l.7 1.4l.7-.8l.8 .4l.7 .4l.7-1.7l.7 3l.7-2.7l.7 .2l.8 1.3l.7-2l.7 .9l.7 .9l.7-.5l.7 .2l.8-.2l.7 .1l.7-.1l.7 1.7l.7-.9l.7-1.3l.7 .6l.8 .9l.7 .3l.7-2l.7 .9l.7-1.3l.7 .9l.8 1.8l.7-.8l.7-.7l.7-.6l.7 .8l.7 .1l.8 .1l.7 .4l.7-.5l.7-1.4l.7 .8l.7 .2l.7-.5l.8 1.9l.7-1.9l.7 1.2l.7-.1l.7-.1l.7-.1l.8-.6l.7 .7l.7 .6l.7-1.4l.7 1.8l.7-1.5l.7 1.2l.8-.9l.7 1.5l.7-.1l.7 .1l.7 .3l.7-1.7l.8-1.3l.7 .3l.7 .2l.7 1.6l.7 .1l.7-1.5l.8 1.2l.7-.8l.7-.1l.7 .6l.7-1.2l.7 1.6l.7-.1l.8 .9l.7-.6l.7-.4l.7 .6l.7-1l.7 .2l.8-1l.7 .4l.7 .5l.7 .8l.7 .4l.7 0l.8-1.6l.7 .3l.7-.7l.7-.6l.7 1.9l.7-1.8l.7 1.5l.8-1l.7 .2l.7 .9l.7-1.6l.7 1.1l.7-1.3l.8 .6l.7-.2l.7 .1l.7-1.2l.7 .7l.7 .4l.7-1l.8 1l.7-.1l.7-.6l.7-.3l.7 .5l.7-.7l.8 1l.7-.3l.7 1.1l.7-1.1l.7-.6l.7 1.2l.8-.5l.7 1.6l.7-1.8l.7 .3l.7 .5l.7 .1l.7 .4l.8 1.7l.7-1.8l.7 1.3l.7-1.4l.7 .1l.7 .4l.8 1.3l.7-.9l.7 .1l.7-.7l.7 .4l.7 1.8l.8-2.6l.7-.5l.7 1.3l.7-.6l.7-.3l.7-.4l.7 1.8l.8-.3l.7-.2l.7 .8l.7 .2l.7-.7l.7 .6l.8-1.7l.7 1.3l.7-1l.7 .7l.7 1.1l.7-1.1l.8 1.5l.7-.5l.7-.3l.7-1.5l.7 .9l.7 .3l.7 .4l.8-.7l.7-1.1l.7 1.8l.7-1.9l.7 .6l.7-.8l.8 1.4l.7 .6l.7 .1l.7-1.5l.7 1.2l.7-.2l.8 .2l.7 .3l.7-.4l.7 1l.7-2.1l.7 1.2l.7-.1l.8-1.2l.7 1.1l.7-.3l.7-.6l.7 1.2l.7-.6l.8 .9l.7-1l.7 1.3l.7-.7l.7-.1l.7 .5l.7 .8l.8-1.6l.7 .2l.7-.2l.7 .3l.7-1.6l.7 2.5l.8 .1l.7-.2l.7-1.1l.7-1.3l.7 .4l.7 .9l.8-.5l.7-.8l.7 .6l.7-.8l.7 .1l.7 1.1l.7-.8l.8-.5l.7 .1l.7-.1l.7 .6l.7-.1l.7-.6l.8-1.8l.7-.9l.7 .9l.7-2.8l.7-2l.7 0l.8-3.2l.7 1.8l.7-.2l.7-1l.7-2.9l.7 2.9l.7 .9l.8 .2l.7 2.4l.7-2.2l.7 .8l.7 2.1l.7-.5l.8 1.5l.7-.6l.7-.3l.7-.1l.7 1l.7 0l.8 1.4l.7-.2l.7-1.8l.7 2.7l.7-1l.7-.5l.7 3l.8-1.6l.7 .4l.7 .6l.7-1.2l.7 1.3l.7 .3l.8-.5l.7 .9l.7 .5l.7-.2l.7-1.8l.7 1.5l.7 .6l.8 1l.7-.7l.7-.3l.7-1.3l.7 1.3l.7 1l.8-1.9l.7-.7l.7-.1l.7-.2l.7-1.8l.7-1l.8-3.9l.7-4.5l.7-9.5l.7-16.8l.7-22.9l.7-19.1l.7-12.9l.8 11.6l.7 19.8l.7 24l.7 16l.7 12.5l.7 3.8l.8 1.8l.7 2.2l.7 .5l.7 1l.7-1.2l.7 0l.8 2l.7 .3l.7 .2l.7 1.3l.7-1.2l.7 .4l.7-.3l.8-.9l.7 .5l.7 .4l.7 .5l.7 1.3l.7-.8l.8-.4l.7-1.2l.7 1.9l.7-.8l.7-1.2l.7 1.8l.8 0l.7 .1l.7-.1l.7-.7l.7 .4l.7-.5l.7 .5l.8 .4l.7 .1l.7-.9l.7 1.7l.7-1.3l.7-1.4l.8 2.5l.7-.3l.7 .3l.7-1.1l.7-.3l.7-.4l.7 .8l.8-.3l.7-.8l.7-1.3l.7-3.2l.7-1.5l.7-1.7l.8-1.6l.7 2.8l.7-1.7l.7 4.7l.7 1.3l.7 1.6l.8 .8l.7 .3l.7 .5l.7 0l.7-.9l.7 1.6l.7 0l.8-1.3l.7 1.3l.7-.4l.7 .3l.7-.2l.7-.6l.8 .9l.7-1.6l.7 2.4l.7-1.7l.7 .1l.7 1l.8-.5l.7 .6l.7 .8l.7-.8l.7-.7l.7-.6l.7 .7l.8-.7l.7 .9l.7-1.7l.7 1l.7 .1l.7-.3l.8 1.2l.7 .1l.7-2.1l.7 2.4l.7-1.3l.7 .4l.7 0l.8-.9l.7 0l.7 0l.7-1.5l.7 .1l.7 .4l.8-.6l.7 .4l.7 .3l.7 .4l.7 .6l.7-.6l.8 1.1l.7-.4l.7 .8l.7 1l.7-.6l.7-1l.7 .7l.8-.4l.7-.6l.7 .9l.7 .4l.7-.6l.7-.7l.8-1.4l.7-.5l.7-.8l.7-2.4l.7-1.7l.7-2.8l.8-1.7l.7 4.6l.7 2l.7 2.7l.7 1.5l.7 .5l.7-.5l.8-.4l.7 .7l.7-.1l.7-.3l.7 .7l.7 1.1l.8-1.2l.7 .5l.7 .4l.7-1.1l.7 .3l.7-.3l.8-.7l.7 1.4l.7 .1l.7-.2l.7-1l.7-1.2l.7 .9l.8-3.8l.7 .2l.7-2.5l.7-3.4l.7-.3l.7-1.8l.8-4l.7-.8l.7 1.4l.7 1.4l.7 4.9l.7-.6l.8 2.7l.7 3.2l.7 .7l.7 1.2l.7 .9l.7 .8l.7 1.3l.8-1.4l.7 1.6l.7-1.2l.7 0l.7 1.5l.7-.2l.8 .3l.7 .1l.7-1l.7-.3l.7 .9l.7-.8l.7 .6l.8 1.3l.7-2.2l.7 .2l.7 1.4l.7 .1l.7-.8l.8 .3l.7-.4l.7-.1l.7 .5l.7 .4l.7-1.5l.8-.2l.7 1.4l.7-.6l.7 .9l.7-.4l.7-.3l.7 .2l.8 1.6l.7-1.6l.7-.5l.7-.6l.7 1.6l.7 .6l.8-.9l.7-.1l.7-.1l.7 .2l.7-.3l.7 .4l.8 0l.7-.2l.7 1.2l.7-1.6l.7 .1l.7-.4l.7 .5l.8 .2l.7 1.1l.7-1.4l.7 0l.7 .2l.7-.7l.8 .6l.7-1.4l.7 1.9l.7 0l.7 0l.7 .7l.7-.7l.8 .4l.7-.4l.7-.4l.7 .1l.7 .2l.7 0l.8-1.5l.7 .1l.7 .3l.7-.5l.7 .4l.7-.2l.8-.2l.7 .7l.7 .8l.7 .1l.7 .1l.7-.2l.7-2.7l.8 2.8l.7-1.2l.7-1.4l.7 .3l.7 .1l.7-.4l.8 1.3l.7-1.2l.7 1.4l.7-.5l.7-3.1l.7 .6l.8 .6l.7-1l.7-1.1l.7-1l.7-1.6l.7-1.8l.7-.9l.8-3.5l.7-5.1l.7-7.6l.7-6.7l.7-16.2l.7-30l.8-46.4l.7-81l.7-52.3l.7 53.7l.7 80.9l.7 46.4l.8 31.1l.7 13.6l.7 12l.7 4l.7 3.7l.7 2l.7 4.8l.8 1.1l.7 .2l.7 .5l.7 .7l.7 .7l.7 .9l.8-.4l.7 .6l.7 1l.7-.3l.7 .1l.7 1.4l.8 .5l.7-.6l.7 0l.7 .1l.7-.2l.7 .2l.7 .3l.8-.9l.7-.3l.7 .5l.7 0l.7 .9l.7 .1l.8-.8l.7-1.2l.7-.7l.7-1.2l.7 .3l.7-.4l.7-1.6l.8 .7l.7 1.4l.7 1l.7 1.3l.7-.1l.7 .4l.8 .2l.7 1.2l.7-.9l.7 .7l.7-1l.7 .7l.8-.8l.7-1.1l.7-.8l.7 1.4l.7-2.4l.7-1l.7-5.1l.8-7.6l.7-19.4l.7-18.2l.7-6.4l.7 8.6l.7 12.2l.8 9.6l.7 7.9l.7 4.6l.7 7.5l.7 3.3l.7-.1l.8 1.4l.7 .1l.7 .1l.7 1l.7 .7l.7 .3l.7 1.1l.8-.1l.7 .2l.7 1.3l.7-1.4l.7 1.1l.7 .7l.8 .7l.7-1.2l.7 2l.7-1.7l.7 .7l.7 1.6l.7-2.3l.8 1.4l.7 1.3l.7-.3l.7-.5l.7-.2l.7 .5l.8-1.4l.7 2.2l.7-1.3l.7-.1l.7 1.2l.7-.2l.8-.3l.7 .1l.7-.2l.7-1l.7-.4l.7 2l.7-.1l.8-.5l.7 1.1l.7-1.4l.7-.1l.7 1l.7-1.2l.8 0l.7 .6l.7-.5l.7 .7l.7 .5l.7-1.2l.8 .6l.7 .4l.7-.8l.7 .3l.7 .6l.7-1.5l.7 .9l.8 .7l.7-2l.7-1.8l.7-.8l.7-1.7l.7-1.2l.8-3.5l.7-3l.7-1.9l.7 4.1l.7 5.1l.7-.4l.8 3.5l.7 1.5l.7 1l.7 .3l.7 .5l.7 .4l.7-.5l.8 .1l.7-.5l.7 0l.7-.4l.7 1.3l.7-2.3l.8 2.2l.7-1.8l.7 1.4l.7-.6l.7 1.8l.7-1.3l.8-.6l.7 1.1l.7-.6l.7-1.4l.7 .3l.7 .7l.7-3.2l.8 .2l.7 .5l.7 1.1l.7-2.5l.7 .9l.7 .2l.8 1.6l.7-.1l.7 .1l.7-.3l.7-.3l.7 2l.7 .9l.8-1.4l.7-.5l.7 1.3l.7-2.4l.7-1l.7 1.4l.8-1.1l.7-.4l.7-2.4l.7 .2l.7 .1l.7 1.6l.8 .6l.7 1.1l.7 .9l.7 .4l.7-.2l.7 1.4l.7 0l.8 .1l.7-.8l.7 .5l.7 .2l.7-1.5l.7 1.9l.8-.9l.7-.6l.7 1.9l.7-1.5l.7 .7l.7-.2l.8-.9l.7 .6l.7 2l.7-.4l.7-1.7l.7 1l.7-.8l.8 .8l.7-1.9l.7 0l.7 .6l.7-.5l.7 .5l.8-.1l.7-.4l.7-.5l.7 .6l.7-.2l.7-.6l.7 2.1l.8-1.6l.7 .5l.7 1.2l.7 .5l.7-.3l.7-.7l.8 2l.7-2.1l.7 1.8l.7-1.8l.7 .9l.7 .2l.8-.1l.7-.4l.7 .5l.7-.1l.7-.9l.7 1.7l.7-.9l.8 .1l.7-.8l.7 1l.7 .5l.7-.5l.7-.2l.8 .3l.7-.7l.7 .6l.7-.8l.7 1.2l.7-.1l.8-.2l.7 0l.7-.1l.7-.8l.7 .1l.7 .7l.7-.7l.8 0l.7-.1l.7 .9l.7-.2l.7 .3l.7 .6l.8-.8l.7-.5l.7 .5l.7 .3l.7 .3l.7-.8l.8 .5l.7-1l.7 .1l.7-.3l.7 1l.7-1l.7 .6l.8 .2l.7-.8l.7-.2l.7 1.6l.7-.3l.7 .3l.8-.5l.7 .7l.7-.5l.7-1.1l.7 1.1l.7-.2l.8-.9l.7 .3l.7 .6l.7-1.5l.7 1.3l.7-1.1l.7 1.4l.8 .1l.7-1.4l.7 .1l.7 .3l.7 .1l.7-.5l.8 1l.7-.7l.7-1.1l.7 .7l.7-1.4l.7-.9l.7-1.7l.8-5.6l.7-3.3l.7-3l.7 .1l.7 1.6l.7 .3l.8-2.4l.7 5.7l.7 1.9l.7 .4l.7 3.4l.7 .5l.8 2l.7-.8l.7 2.9l.7-1.5l.7 .4l.7 1.6l.7 .8l.8-.6l.7 .7l.7 .4l.7-.5l.7 .9l.7-.2l.8-1.1l.7-.3l.7 .4l.7 .3l.7 1.2l.7 .2l.8-2.2l.7 2.4l.7-2.8l.7 .4l.7 .3l.7 1.7l.7-1.6l.8 1.1l.7-.2l.7-.4l.7 .5l.7-.7l.7 .7l.8-.4l.7 1.6l.7-2.3l.7 1.3l.7-.7l.7 1.5l.7-.3l.8-.7l.7 .6l.7-1.4l.7 .4l.7 1.1l.7-1.6l.8 1.4l.7 0l.7-.1l.7-.3l.7-.1l.7-1l.8 1l.7-1.5l.7 .4l.7 1l.7 .4l.7-1.3l.7 1.4l.8-.8l.7-.7l.7 1l.7 .1l.7-.5l.7 .1l.8 1.4l.7-1.9l.7-.5l.7 .5l.7 .4l.7-.4l.8 .5l.7-.6l.7-.1l.7-1.1l.7 1.3l.7-2.2l.7 1.8l.8-2.3l.7-.1l.7 .2l.7 1.3l.7-2.1l.7 1.2l.8-1l.7-.9l.7 1.4l.7-.8l.7-.1l.7 1.3l.8-.2l.7 .2l.7 .1l.7 1.8l.7-2.3l.7 1l.7 0l.8 .3l.7-.5l.7 1.1l.7 .5l.7 0l.7-.4l.8-.3l.7 1l.7-.5l.7 .6l.7-.3l.7 .8l.8-1.8l.7-.1l.7-2.5l.7-1.8l.7-3l.7-2.2l.7-2.7l.8 .9l.7-.9l.7 1.9l.7 0l.7 1.8l.7 .5l.8 2.8l.7 2l.7 .8l.7 1.4l.7 1.3l.7 .1l.7 .9l.8-1.5l.7 .7l.7-.1l.7 1.2l.7 .7l.7 0l.8-.3l.7-.8l.7 .4l.7-1l.7 .7l.7 .7l.8-.3l.7 .3l.7 .8l.7-.9l.7 .1l.7-.2l.7 1.8l.8-1.3l.7 0l.7 .8l.7-.4l.7-.7l.7-.4l.8 .7l.7 0l.7 0l.7-1.2l.7-2.8l.7-5.6l.8-7.8l.7-4.5l.7 1.1l.7 2.5l.7 1.9l.7 .7l.7 2.4l.8 2.4l.7 1.3l.7 3.3l.7 3.2l.7-.1l.7 1.8l.8-.5l.7-.3l.7 2.2l.7-.8l.7 .9l.7-.8l.7 .5l.8 1.1l.7-.5l.7-.4l.7 .2l.7-.9l.7 1.3l.8 .5l.7 .4l.7-1.8l.7 .2l.7 .1l.7 0l.8-.5l.7 .5l.7 .7l.7-.9l.7 1.6l.7-2.5l.7 .8l.8 .6l.7-.1l.7-.4l.7 1.5l.7 0l.7-.4l.8-.4l.7-.7l.7-.3l.7 1.4l.7 .3l.7-.2l.8-.3l.7-.1l.7 0l.7 .9l.7-1.9l.7 .5l.7 .4l.8 .2l.7-.3l.7 .6l.7-.3l.7-.3l.7-.4l.8-.4l.7 1l.7 .9l.7-.1l.7-2.1l.7 1.2l.8-.5l.7 .5l.7-.9l.7 2.3l.7-2.2l.7 .3l.7 1.3l.8 .2l.7-1.3l.7-.9l.7 1.7l.7-.4l.7-.3l.8 0l.7-.6l.7 .8l.7-.5l.7 .9l.7-.7l.7 1.1l.8-.6l.7 .1l.7-.5l.7 .8l.7-.5l.7-.5l.8-.7l.7 1.1l.7-.2l.7 1l.7-.3l.7-.7l.8-1.1l.7 1.7l.7 .8l.7-1l.7-.5l.7 .5l.7-.8l.8 .9l.7-1.2l.7-.4l.7 .6l.7 1l.7-.9l.8-.7l.7 1.4l.7-.4l.7 .7l.7 1l.7-.7l.8 .1l.7-.5l.7-.9l.7 .2l.7-.1l.7 .9l.7-.4l.8-.1l.7 .3l.7-.6l.7 .8l.7-1.2l.7 2.1l.8-.7l.7-.3l.7 0l.7 0l.7 0l.7-1.2l.8 .3l.7 .2l.7-1l.7-.9l.7-3.3l.7-5.1l.7-8.9l.8-2.9l.7 1.7l.7 5.3l.7 3.1l.7-2.7l.7 2.6l.8 2.5l.7 3.5l.7 1.7l.7 1.8l.7 .6l.7 .4l.7 .8l.8 .3l.7 0l.7 .5l.7-.6l.7 1.6l.7-1l.8-.4l.7 .8l.7-.8l.7 .1l.7 .3l.7 .1l.8 .1l.7-.5l.7 1.7l.7-2.5l.7 1l.7 .9l.7-.8l.8-.3l.7-.5l.7 1.4l.7-1.4l.7 .2l.7-.5l.8-2.4l.7-.9l.7-2.3l.7-.9l.7-1.7l.7 1.7l.8-.1l.7 .1l.7 3l.7-.4l.7 .6l.7 .5l.7 .4l.8 1.5l.7-.2l.7 1.1l.7 1.1l.7-.4l.7 1l.8-1.5l.7 .7l.7 1.3l.7-2.1l.7 .6l.7 1.2l.8-1.4l.7-.2l.7 .1l.7-1.1l.7 .5l.7-2.2l.7 2.6l.8-1.5l.7-1.4l.7 1.4l.7-.2l.7 .3l.7 1.6l.8-1.1l.7 .1l.7 .7l.7-.6l.7 .4l.7 1.1l.8 1.1l.7-1.1l.7 .9l.7 .7l.7-1.3l.7-.3l.7 1l.8-1.2l.7 .3l.7-.1l.7 .2l.7 .6l.7-1.7l.8 .4l.7 1.2l.7-.2l.7 .8l.7-1.6l.7 1.4l.7-.2l.8-.4l.7 .4l.7-.8l.7 .1l.7 .2l.7-.9l.8 1l.7-.9l.7 2.1l.7-.8l.7 1l.7-.9l.8-1.4l.7 1.6l.7-1l.7 1.1l.7 .5l.7-2.5l.7 1.6l.8-.7l.7 .4l.7 1l.7-.4l.7-.2l.7-.9l.8 .1l.7 .2l.7 .6l.7-.3l.7-1.2l.7 .2l.8 .9l.7 .8l.7-.9l.7-.6l.7 .7l.7-.6l.7 .5l.8 .6l.7-1.8l.7 .7l.7 .2l.7-.2l.7-.5l.8-.9l.7-2.9l.7-4.1l.7-7.5l.7 0l.7 2.3l.7 2.7l.8 1.7l.7 .1l.7-2.5l.7 3.6l.7 2.5l.7 .5l.8 1l.7 2.7l.7-1l.7 1.2l.7 .7l.7-.1l.8-.1l.7 0l.7 1.4l.7-.8l.7-.2l.7-.4l.7-.1l.8 .8l.7 .3l.7-1.4l.7 .4l.7 .8l.7 .5l.8 .6l.7-.6l.7-.6l.7 .2l.7-.6l.7 .7l.8 .1l.7-1l.7 .8l.7 .2l.7 .1l.7 .3l.7 .3l.8-1.9l.7 1l.7 1l.7-.6l.7-.5l.7-.1l.8 0l.7 .6l.7 .9l.7 .3l.7-2.3l.7 1l.8-.3l.7-.2l.7 1.3l.7-1.2l.7 .6l.7-.1l.7-.4l.8 1.7l.7-1.2l.7 .8l.7-1.2l.7-.2l.7 .8l.8-.8l.7 1.3l.7-.5l.7 .1l.7-.7l.7 .6l.8-.4l.7 .3l.7-.8l.7 .9l.7-1.3l.7 1.6l.7 .2l.8-.7l.7 .4l.7 .3l.7-.4l.7-.3l.7-.7l.8 1.7l.7-1.4l.7-.1l.7 1.2l.7-.5l.7-.9l.7 .5l.8 .6l.7 .4l.7-.8l.7-.2l.7 .2l.7-1l.8 1l.7-.5l.7 1l.7-1.8l.7 .7l.7-.3l.8 .7l.7 1.4l.7-1.7l.7 0l.7 .4l.7 .4l.7-.9l.8 1.4l.7-1l.7-.5l.7-.2l.7 0l.7 .3l.8 .9l.7-.4l.7 .4l.7-.5l.7-.3l.7-.5l.8 .4l.7 .8l.7 .5l.7-1.5l.7 .7l.7 .2l.7-1.5l.8 2l.7 0l.7 .1l.7 .5l.7-1.9l.7-.1l.8 .1l.7 1.1l.7-.5l.7 .5l.7-1.4l.7 .1l.7 1.1l.8 0l.7-1l.7 .4l.7-.6l.7 .3l.7-.7l.8 2.1l.7-.7l.7 0l.7-.2l.7 .4l.7-.2l.8-1.5l.7 0l.7 .8l.7-.1l.7 .8l.7-.7l.7 .4l.8-1l.7-1.2l.7-3.4l.7-3.4l.7-2.3l.7 1.8l.8 1.3l.7 .8l.7 2.1l.7-.1l.7-1.3l.7 1.8l.8 1.8l.7 1.3l.7-.7l.7 1.5l.7 .6l.7-1.7l.7 .8l.8 1.4l.7-.1l.7-.3l.7-.1l.7 0l.7-.8l.8 .8l.7 1.4l.7-.9l.7 .7l.7-1.4l.7 .7l.8 .2l.7 .1l.7-.3l.7-.1l.7 .8l.7-1.2l.7 1.8l.8-.8l.7-.5l.7 .4l.7-.3l.7 .2l.7-1l.8 1l.7-.1l.7 .6l.7-.8l.7-.7l.7 1.1l.8 .2l.7-1.9l.7 1.2l.7 .3l.7-1.2l.7 1.2l.7-.4l.8 1.1l.7-1.6l.7 1.1l.7 .3l.7-1.2l.7-.8l.8 .8l.7 .2l.7 .1l.7-1.1l.7 .8l.7 .1l.7 .7l.8 .8l.7-1.3l.7 .2l.7 0l.7-.8l.7 2l.8-1.4l.7 .6l.7 1l.7-1.9l.7 .9l.7-1.7l.8 1.6l.7 .3l.7-.5l.7-.3l.7 1.6l.7-.9l.7-.5l.8-.6l.7-.1l.7 .1l.7 .2l.7 .1l.7 .2l.8-.6l.7 .9l.7 .2l.7 .7l.7-2l.7-.2l.8 .9l.7 .3l.7 .6l.7-1.2l.7 1.6l.7-1l.7 0l.8-.2l.7 1l.7-.6l.7 .1l.7-.3l.7-.8l.8 .9l.7-.3l.7-.4l.7 .9l.7-.7l.7 1l.7-.3l.8 .5l.7-1.6l.7 .8l.7-1.3l.7 2.3l.7-1.3l.8 .8l.7-.1l.7 .3l.7-1.4l.7 .2l.7-.6l.8 .8l.7 0l.7 .1l.7 .1l.7-1l.7 1.4l.7-.1l.8 .8l.7-1.3l.7 .3l.7 .3l.7 .4l.7-2l.8 1.6l.7-1.4l.7 1.7l.7-.7l.7 .2l.7-.6l.8-.8l.7 1.5l.7 1l.7-.3l.7-2.1l.7 1.2l.7-.3l.8 .4l.7-.4l.7 .9l.7-.6l.7 .1l.7-.1l.8-.2l.7-.3l.7 .3l.7 .6l.7 .2l.7-.9l.8 .5l.7-.5l.7 .1l.7 .6l.7-.5l.7-.7l.7 .7l.8-.3l.7-1.2l.7 1.9l.7-.7l.7-.8l.7-.1l.8 .6l.7-1.3l.7-1.6l.7-.3l.7 1.4l.7-1.1l.8-1.2l.7 .7l.7 .2l.7 .9l.7-.1l.7 1.3l.7 .5l.8-.7l.7 1.4l.7-1.2l.7 1.2l.7 .1l.7 .5l.8-1.4l.7 .6l.7 .3l.7-.5l.7 1.7l.7-1.9l.7-.3l.8 1.8l.7-1.3l.7 0l.7 .6l.7-1.3l.7 0l.8-.2l.7 .1l.7-1.6l.7-6.3l.7-12.7l.7-19.6l.8-1.1l.7 5.3l.7 12.5l.7 8.6l.7 6.9l.7 2.7l.7-1.2l.8-6.5l.7-8.9l.7 2.8l.7 2.8l.7 3.2l.7 4.3l.8 4.5l.7 2l.7 1l.7 .9l.7-.2l.7 .6l.8 .6l.7-.6l.7-.2l.7-.1l.7 .4l.7 .2l.7 .3l.8-.2l.7 .4l.7 1.1l.7-.1l.7-.7l.7-.7l.8 .3l.7 .2l.7-.4l.7-.4l.7 1.7l.7-.6l.7 0l.8-.1l.7 .4l.7-.3l.7 .7l.7-1.7l.7 .4l.8 1.2l.7-.6l.7 .3l.7-1.6l.7 1.5l.7-.9l.8 .8l.7-.9l.7 .4l.7-1.1l.7 .8l.7 .4l.7-.3l.8 .5l.7 .3l.7 .3l.7-.9l.7 .9l.7-.2l.8-.1l.7 .1l.7-.7l.7 1l.7-1.4l.7 .4l.8 .9l.7 0l.7-1.3l.7 1.6l.7-.7l.7 1l.7-1.3l.8 .3l.7 0l.7 0l.7 1l.7-.1l.7-.8l.8 .2l.7 .5l.7-.4l.7 0l.7 .2l.7-.1l.8-1.4l.7 .2l.7 2l.7-.5l.7-.3l.7 .5l.7-1.9l.8 1.2l.7 .7l.7-.5l.7 .4l.7-1.2l.7 .2l.8 1l.7-.9l.7 1.3l.7 .1l.7-1.9l.7 .7l.8 .5l.7 .2l.7-1.8l.7 1.1l.7 1l.7-.5l.7-.9l.8 1.7l.7-.6l.7-.4l.7-.5l.7 .7l.7-.7l.8 .7l.7-1l.7 .6l.7 .9l.7-1.2l.7 .9l.7-.5l.8-.7l.7 1.1l.7-1.4l.7 .7l.7-.6l.7 1.5l.8-.4l.7-.4l.7 1.2l.7-1.6l.7 .9l.7-.4l.8 .4l.7-.3l.7 .5l.7-1.2l.7 .8l.7-.2l.7-.4l.8 .7l.7 .2l.7-.9l.7 1l.7-1.2l.7 .8l.8 .2l.7 .3l.7-.6l.7-.1l.7-.2l.7 .1l.8 .2l.7 1l.7-1.9l.7 1.8l.7-.6l.7-.1l.7-.3l.8 .4l.7-.7l.7 .7l.7 .1l.7-.4l.7 .3l.8 .1l.7-.4l.7 1.1l.7-.7l.7-1l.7 1.4l.7-1.2l.8-.5l.7 .4l.7 .5l.7 .3l.7-.1l.7-.7l.8 .9l.7-.2l.7-.2l.7-.1l.7-.2l.7 0l.8-.4l.7-1.3l.7-1l.7-2l.7-.1l.7-.7l.7-.4l.8-1.4l.7 2.3l.7-1.3l.7 .8l.7 2.6l.7-2.1l.8 1.9l.7 .5l.7 1.5l.7 .7l.7-1.7l.7 .7l.8 .6l.7-.3l.7 1.5l.7-.1l.7-1.7l.7 .6l.7 1.2l.8-.5l.7-.3l.7-.9l.7 1.1l.7-1l.7 .7l.8 .6l.7 .4l.7-.9l.7 .3l.7 .5l.7-.2l.8 .6l.7-1.2l.7 .1l.7-1l.7-.4l.7-1.6l.7-2.8l.8-3.6l.7 .8l.7 .1l.7 2.3l.7 1.5l.7 0l.8-.8l.7 1.6l.7-.6l.7 .1l.7 1l.7-.1l.8 3.5l.7-2.4l.7 2.3l.7-.4l.7-.1l.7 .9l.7-.2l.8 .1l.7-.1l.7-1.7l.7-.3l.7 1.3l.7-.8l.8 .7l.7 1l.7-.1l.7-1.3l.7 1.8l.7 0l.7-.3l.8-.2l.7 .1l.7 .6l.7-.3l.7-.4l.7 .2l.8 1.6l.7-2l.7 .8l.7 .5l.7 .1l.7-.8l.8-1l.7 1.1l.7 .7l.7-2l.7 1.2l.7 0l.7 .6l.8-.7l.7-.4l.7 .8l.7-1.1l.7 .5l.7-.2l.8 1l.7 0l.7 .1l.7-1.4l.7 .7l.7 1.5l.8-2.1l.7 1.5l.7-.3l.7-.1l.7-1.6l.7 1.9l.7-.3l.8 .5l.7-1.4l.7 .6l.7 .5l.7 0l.7 .3l.8-.3l.7-.9l.7-.2l.7 1l.7-.3l.7 .4l.7-.5l.8-.5l.7 .5l.7-.1l.7 0l.7-.6l.7-.1l.8 1l.7-.1l.7 .2l.7-.2l.7-.1l.7-1.1l.8 2.1l.7 .4l.7-1.4l.7-.3l.7 .6l.7-.3l.7 1.1l.8-1.4l.7 .9l.7-1l.7-.4l.7 .7l.7 1.5l.8-.8l.7-.5l.7-.3l.7-.1l.7 .2l.7 1.4l.8-.8l.7-1.6l.7 1l.7 .4l.7-.9l.7 .4l.7 1l.8-1.1l.7 .4l.7 .2l.7 .6l.7-.3l.7 .8l.8-1.7l.7 .7l.7 0l.7 .4l.7-1.9l.7 1l.8 .4l.7-.4l.7-1.1l.7 .5l.7 1.1l.7 .4l.7-1.2l.8 .8l.7-.8l.7 .3l.7-.5l.7 .1l.7 1.5l.8-.9l.7-.4l.7 .9l.7-.8l.7 .7l.7-.4l.8 .3l.7-.9l.7 .8l.7 0l.7 .4l.7 .1l.7-1l.8 .9l.7-1l.7 .3l.7 .6l.7-.7l.7 .3l.8 0l.7 .1l.7-.6l.7 1l.7-1.4l.7-.1l.7 1.6l.8-.8l.7-.3l.7-.9l.7 2l.7-1.7l.7 .4l.8 1.3l.7 .3l.7-1.7l.7 .7l.7 .6l.7-1.5l.8 1.7l.7-2l.7 1.2l.7 0l.7 .2l.7 .6l.7-1.6l.8-.1l.7 1.3l.7 .7l.7-1.7l.7-.6l.7 1l.8 1.4l.7-2.2l.7 1.2l.7 .4l.7-1.3l.7 .8l.8-.5l.7-.7l.7 .6l.7 1.2l.7-.7l.7 .5l.7-.4l.8-.9l.7 .6l.7-.5l.7 0l.7 0l.7 .6l.8-.2l.7-.1l.7 1.2l.7-1.3l.7 .9l.7-.1l.7 0l.8-.2l.7 1.1l.7-1.7l.7-.2l.7 .6l.7-1l.8 1.8l.7-.9l.7 .6l.7-.3l.7 .8l.7-1.7l.8 .2l.7 .8l.7-.4l.7-.2l.7-.6l.7 .2l.7 .8l.8-1.1l.7 .1l.7 .1l.7 1.4l.7-1.2l.7 .3l.8-.7l.7 .3l.7-.4l.7-3.7l.7-5.1l.7-6.5l.8-6.9l.7-5.8l.7 2.2l.7-.7"/>
<path id="cv_b3" stroke="#dc9600" d="M154.5 1045.3l.7 1.7l.7 1.2l.7-2.1l.8 .1l.7 1.8l.7-.9l.7 1.2l.7 1.1l.7-.9l.8 .9l.7-3.4l.7 3.8l.7-1.1l.7-.7l.7 1.1l.8-1l.7 .1l.7-.8l.7 1.7l.7-.7l.7 .7l.7 1.9l.8-.8l.7-1.3l.7 1.9l.7 .7l.7-1l.7 0l.8-.1l.7-.9l.7 2.2l.7-.6l.7-.6l.7 .1l.8-.1l.7 1.7l.7-1.9l.7-1.6l.7 2l.7 .8l.7-.3l.8-1.2l.7-1.4l.7 3.9l.7-3.4l.7 1.2l.7-.5l.8-.6l.7 .1l.7-.8l.7 .1l.7 .3l.7 .2l.7 2.5l.8-3.7l.7 2.2l.7-1.4l.7-.6l.7-1.3l.7 1.3l.8-1.3l.7 1.3l.7-.1l.7-1.9l.7 2.5l.7-1.6l.8 .1l.7 .1l.7-.9l.7 1.5l.7 .6l.7-1.7l.7 .7l.8 1.1l.7-1.4l.7-1.1l.7 1.6l.7-1.2l.7-.4l.8-1.4l.7 1.9l.7-1.1l.7 1.4l.7-2.6l.7 1.2l.8 3.2l.7 .5l.7-1.4l.7 .1l.7-2.6l.7 3.2l.7-1.1l.8-1.3l.7 1.4l.7 .2l.7 2.2l.7-.2l.7 2.5l.8-.6l.7-1.2l.7 .8l.7-1.7l.7 2.6l.7-1l.7 .8l.8 .4l.7 0l.7-.3l.7 1.5l.7 .3l.7-2.9l.8 1.9l.7 .7l.7-.2l.7 .9l.7 .9l.7-.5l.8-.1l.7 1.4l.7-.5l.7 .1l.7 1.9l.7-.8l.7-1.9l.8 2.4l.7-1.9l.7 1.1l.7-1.9l.7 2.9l.7-2.6l.8 2.3l.7 1.7l.7-1.4l.7-.4l.7-1l.7 .8l.8 1.3l.7-2.8l.7 1l.7 2.4l.7-1.6l.7 1.6l.7-.3l.8-1.4l.7 .8l.7 1.6l.7-1.6l.7 .4l.7 .6l.8-.9l.7 .3l.7 .9l.7-.6l.7 .3l.7 .7l.8 1.2l.7-1.7l.7-.4l.7 2.7l.7-1l.7-2.6l.7 1.4l.8-1l.7 2.3l.7-1.7l.7 .7l.7 2.1l.7-2.1l.8 .7l.7 .4l.7 .6l.7 .1l.7 .5l.7-1.9l.8 1.1l.7-2l.7 1.6l.7-.1l.7 1.8l.7-1.2l.7-.6l.8 0l.7-.4l.7 .4l.7-.1l.7 .6l.7-.4l.8 .5l.7 1l.7-1.9l.7 .4l.7-.4l.7 3l.7-.3l.8-1l.7-.4l.7-.8l.7 1.8l.7-.8l.7 .3l.8-.2l.7-1.9l.7 .4l.7 1.1l.7 .9l.7-1.3l.8 1.1l.7-.4l.7-.6l.7 1.5l.7-1.5l.7 0l.7 2.6l.8-.2l.7-1l.7 .9l.7-1.6l.7 .4l.7 .6l.8 .1l.7 .2l.7-1.6l.7 2l.7-1.7l.7 .9l.8 1.9l.7-.9l.7-1.3l.7 .8l.7-.9l.7 .1l.7-.1l.8 .5l.7 .3l.7 .6l.7 1.2l.7-1.3l.7-.1l.8-1.2l.7 2.1l.7-.9l.7 1.2l.7-1.2l.7 1.4l.7-1.9l.8 .2l.7 .2l.7 0l.7 .5l.7-.1l.7-1.8l.8 .7l.7 .3l.7 1.2l.7-.7l.7 .8l.7 0l.8-.3l.7-1.8l.7 3.3l.7-1.1l.7-.8l.7 .8l.7-.6l.8 .5l.7-.7l.7 2.3l.7-1.8l.7 .6l.7-.8l.8 1.2l.7 .6l.7-1l.7-.8l.7 .9l.7-.3l.8 .9l.7-.5l.7 .1l.7-.4l.7 0l.7 .2l.7 1.1l.8-1.1l.7 .5l.7-.8l.7 .1l.7-.7l.7 .8l.8-.3l.7-1.3l.7 1.1l.7-.5l.7 1l.7-.1l.8 1.3l.7-.8l.7-.6l.7 .2l.7 0l.7 0l.7 .7l.8-.7l.7 .6l.7 .6l.7-1.1l.7 .4l.7 1.3l.8-.8l.7-.7l.7 .8l.7-.6l.7-.5l.7 1.4l.8-1.4l.7 .2l.7 .4l.7 .8l.7-.1l.7-1l.7 .5l.8-.2l.7 .9l.7-.4l.7-.7l.7 1.1l.7-1.6l.8 .8l.7-1.2l.7 2.2l.7-.8l.7 .6l.7 1.3l.7-1.5l.8 0l.7-.6l.7 .6l.7-.5l.7 .8l.7 0l.8-.2l.7-.3l.7 0l.7 .1l.7-.1l.7 .6l.8-.9l.7 .3l.7 .5l.7 1l.7-1l.7-.4l.7 0l.8 1.3l.7-1.6l.7 .1l.7 .3l.7-.4l.7 .3l.8 .6l.7-.5l.7-1.2l.7 1.8l.7 .3l.7-1l.8 1.8l.7-1.2l.7 .1l.7-1.2l.7 2.7l.7-.1l.7-.6l.8 .4l.7-1.8l.7 .1l.7 .7l.7-.2l.7-.8l.8 .9l.7 .5l.7-.7l.7 1.2l.7-.8l.7-.5l.7-.3l.8-.2l.7 1.5l.7-1.7l.7 1.5l.7 0l.7-1.3l.8 1.4l.7-.4l.7 1.3l.7-.9l.7-.5l.7 .6l.8 .5l.7-1.5l.7 .1l.7 1.2l.7 .8l.7-2.4l.7 2.1l.8-.7l.7 .2l.7-.1l.7-.7l.7-.1l.7 1.9l.8-2.4l.7 1l.7 1l.7-1.1l.7 .6l.7-.5l.8-.5l.7 .9l.7-.4l.7-.4l.7 1l.7-.8l.7 .5l.8-.6l.7 1.5l.7-.4l.7-.5l.7-.3l.7 0l.8 0l.7-.5l.7 1.8l.7-1.7l.7 1.3l.7 0l.8-.8l.7 .1l.7-.9l.7 .8l.7-.2l.7 1l.7-1.1l.8 .1l.7 .9l.7-1.7l.7 .8l.7 1.3l.7-.9l.8 .7l.7-2.2l.7 1.1l.7 .4l.7-.9l.7 1.6l.8-1.6l.7 .6l.7 .7l.7-.2l.7-.2l.7-.5l.7 .8l.8-.7l.7 1.6l.7-1.2l.7-.5l.7 1.5l.7 .5l.8-1l.7-.6l.7-.7l.7 .6l.7 1.1l.7-.2l.7-1.6l.8 1.4l.7-1.4l.7 1.7l.7 .7l.7-1.3l.7 .9l.8-1.1l.7 .2l.7 .7l.7 .1l.7-1l.7 1.1l.8-1l.7-1.7l.7 1.4l.7-1.3l.7-4.6l.7-1.7l.7-.9l.8 1.3l.7 2.4l.7 2.5l.7 2l.7 .4l.7 .9l.8-.1l.7 .9l.7-1.3l.7 .7l.7 .1l.7-.3l.8 .5l.7-1.6l.7 .9l.7 1.6l.7-.9l.7-.4l.7 .8l.8-.9l.7-.6l.7 .9l.7 .5l.7-.8l.7 1.3l.8-.9l.7-.2l.7-.4l.7 1.9l.7 .1l.7-2.3l.7 .8l.8-.5l.7 1.3l.7-.8l.7 .7l.7-.7l.7-.6l.8 1.8l.7-1l.7-.2l.7-.5l.7 .9l.7 .6l.8-1l.7 1.7l.7-.4l.7-1l.7 .4l.7-.7l.7 .7l.8-1.2l.7 .1l.7 2.1l.7-1.2l.7 .4l.7-1.1l.8 .9l.7-.4l.7-1.4l.7 1.3l.7 .2l.7-.1l.8 .8l.7-.3l.7-1.4l.7 .5l.7 .4l.7 .2l.7-.1l.8-.9l.7 1.1l.7-.4l.7-1.2l.7 0l.7 .4l.8 .5l.7-.4l.7 .3l.7-.3l.7 .6l.7 .7l.8 0l.7-1.4l.7 1.7l.7 .4l.7-1.4l.7 1.7l.7-1.2l.8-.8l.7 1.8l.7-1.1l.7-.2l.7 1.6l.7-.3l.8-1.1l.7-.3l.7 .5l.7 .1l.7 .5l.7-2l.8 1.7l.7-.1l.7-.4l.7 .4l.7 .3l.7-1.5l.7 .2l.8 .8l.7-.1l.7 .1l.7 .3l.7 1.2l.7-1.7l.8 .5l.7 .4l.7-.8l.7-.1l.7 .5l.7 .1l.7-.8l.8 .9l.7-.1l.7 0l.7 .4l.7-1.6l.7 1.5l.8-.9l.7 .3l.7-.1l.7-.5l.7 1l.7 1l.8-1.1l.7 .7l.7-1.4l.7 .1l.7 .4l.7-.3l.7-.1l.8 .9l.7-.1l.7 .2l.7-.4l.7-.2l.7-.2l.8 1l.7-.7l.7 .8l.7-.1l.7 .8l.7-1.7l.8 1.2l.7-1.7l.7 1.6l.7-.4l.7 .4l.7-2.1l.7 2.2l.8-1.2l.7-.1l.7-.9l.7 .5l.7 1.3l.7 .3l.8-.9l.7-.8l.7 .8l.7-1.5l.7 .8l.7-.3l.7 1.1l.8-1.8l.7 .7l.7 .6l.7 .1l.7-1.3l.7 .5l.8-1l.7 2l.7-.8l.7 0l.7 0l.7 1.4l.8-1l.7-.5l.7 1.4l.7-.2l.7-.4l.7-.5l.7 .6l.8 .4l.7-.4l.7 .1l.7 .7l.7-1.1l.7 1.1l.8-.7l.7-.6l.7 1.4l.7 0l.7-1l.7 0l.8 1.3l.7-.6l.7-1.3l.7 .7l.7 .7l.7-.5l.7 .9l.8-.8l.7 .6l.7-.3l.7 .2l.7-.1l.7-.1l.8-.8l.7 1.5l.7-1l.7-.4l.7 1.7l.7-1.4l.8 1.3l.7-2.2l.7 1.5l.7-.2l.7-.5l.7 1.2l.7-1.3l.8 .7l.7-.4l.7 .9l.7-1.3l.7 .8l.7 0l.8-1.4l.7 2.7l.7-1.2l.7 .1l.7 .2l.7-.7l.8-.1l.7-1.1l.7 1.1l.7 .3l.7 .4l.7-.3l.7 .1l.8-.1l.7 .1l.7 0l.7-.1l.7 .5l.7-1.6l.8 .7l.7 .7l.7-.5l.7-.5l.7 .4l.7 .1l.7 .1l.8 1.2l.7-.3l.7-1.2l.7 .4l.7 1.1l.7-1.6l.8 .8l.7-.7l.7-.4l.7 .4l.7 .2l.7 .8l.8-1.4l.7 1.4l.7-1.1l.7 0l.7-.5l.7-.8l.7 1.3l.8-.6l.7 .4l.7-.4l.7-1.4l.7 .7l.7-.1l.8-.4l.7-.6l.7-.8l.7-1.5l.7-.4l.7-1.3l.8-.4l.7-.6l.7-.3l.7 1.6l.7-2.4l.7-.4l.7 2.2l.8-.5l.7 1.1l.7 0l.7 .8l.7-.2l.7 .2l.8 2.2l.7-.3l.7-1.5l.7 .7l.7 1.3l.7-.6l.8-.8l.7 1.2l.7 .5l.7-.7l.7 .6l.7-.5l.7 1.5l.8 .7l.7-1.2l.7-.3l.7 1.1l.7-.2l.7 .1l.8-.6l.7 .3l.7-.1l.7 .3l.7 .4l.7-.2l.7 1.7l.8-1.3l.7-.2l.7 .3l.7 .6l.7 0l.7-1.7l.8-.1l.7-.3l.7 .2l.7-.3l.7 .5l.7-1.2l.8-3.8l.7-5.2l.7-6.8l.7-11.4l.7-15.6l.7-16.1l.7-10.1l.8 10.5l.7 16.9l.7 12.7l.7 13.3l.7 10.2l.7 2.1l.8 2.2l.7 2.8l.7-.7l.7 .2l.7-1l.7 1.7l.8 .6l.7-.7l.7 1.8l.7-1.5l.7 1.6l.7-.6l.7-.5l.8 .8l.7 .7l.7-.5l.7-1.3l.7 1.4l.7-.7l.8 .8l.7 .1l.7-.7l.7 .8l.7-1.1l.7 1.2l.8-1l.7 .8l.7-.3l.7-.6l.7 1.3l.7-1.8l.7 1.5l.8-.8l.7 .2l.7 .1l.7-.5l.7 .7l.7-1l.8-.7l.7 1.3l.7-.9l.7 1.6l.7-.9l.7 0l.7-1l.8 .9l.7-1.9l.7-1.5l.7-2.1l.7-1.7l.7-.4l.8-1.2l.7 .3l.7 1.5l.7 2.5l.7 3l.7 .5l.8 .6l.7 1.3l.7-.9l.7 .3l.7-1l.7 .7l.7 .1l.8 .3l.7 .3l.7-.6l.7 .6l.7 .4l.7-.9l.8 .4l.7 .2l.7-1.1l.7 1.6l.7-1l.7 .3l.8-1.1l.7 1.4l.7 0l.7-.4l.7-.4l.7 .8l.7-1.2l.8 1.4l.7 0l.7 0l.7 .3l.7-.9l.7 .3l.8 .3l.7-.2l.7-.9l.7 .5l.7-.3l.7 .4l.7-.1l.8 .4l.7-.4l.7-.1l.7-1.5l.7 .9l.7-.5l.8 1l.7-.7l.7-1.5l.7 3l.7-1.6l.7 .9l.8-.1l.7 .1l.7 1.2l.7-.5l.7-.2l.7-.6l.7 .1l.8 .3l.7 .1l.7-.4l.7-1.1l.7 1.3l.7-.4l.8-.9l.7 .4l.7-.7l.7-1.8l.7 .6l.7-3.2l.8 .6l.7 1.1l.7 1.1l.7 1.8l.7-.4l.7 .4l.7 2.1l.8-1.1l.7 .5l.7 .1l.7 .3l.7-.3l.7-1l.8 .4l.7 .2l.7 .4l.7 .5l.7-1.6l.7 .8l.8-.2l.7 0l.7-1.7l.7 .4l.7 .3l.7-.8l.7-.4l.8-.8l.7-.7l.7-3.1l.7-1.9l.7-1.9l.7-.3l.8-3.2l.7 1.5l.7 .2l.7 .9l.7 .8l.7 3.1l.8 1.8l.7 1.4l.7 .6l.7 1.4l.7 .5l.7 .6l.7 .9l.8-.4l.7-.1l.7 1.8l.7-.6l.7 1l.7-.7l.8-.9l.7 .7l.7-.1l.7 .1l.7 .1l.7-.3l.7 .6l.8 0l.7-1.8l.7 1.5l.7 0l.7-.5l.7 1.2l.8-.7l.7 .6l.7 .2l.7-.2l.7-1.1l.7 .3l.8-.1l.7-.6l.7 .5l.7 .6l.7-1.4l.7 1.3l.7-1.1l.8-.1l.7 1l.7-.9l.7 1.3l.7-.1l.7-.3l.8-.6l.7 .3l.7 .7l.7 .2l.7-1.7l.7-1l.8 .9l.7 0l.7-.1l.7 .2l.7-1.3l.7 .1l.7 .1l.8 1.3l.7-.3l.7 .8l.7 .1l.7 .2l.7-.4l.8 .4l.7-.5l.7 .6l.7-.1l.7 0l.7 .1l.7 0l.8-.3l.7-.1l.7-.1l.7-.8l.7 1.5l.7 .4l.8-1.9l.7 2.2l.7-.4l.7-.6l.7-.3l.7 0l.8-.5l.7 0l.7 .2l.7 .4l.7-1.5l.7 .7l.7-.3l.8 .1l.7-.5l.7 .4l.7 .2l.7-.8l.7 1l.8-.4l.7-.7l.7 .7l.7-1.6l.7 0l.7-1.1l.8-.8l.7 1.9l.7-2.4l.7-1.5l.7-.4l.7-1.3l.7-3.4l.8-2.1l.7-2.4l.7-6.7l.7-10.6l.7-17l.7-23.9l.8-49.7l.7-81.1l.7-54l.7 55.4l.7 79.6l.7 49.6l.8 26.2l.7 15l.7 9.8l.7 5.7l.7 4.9l.7 3.8l.7 .5l.8 1.2l.7 1.9l.7 1.7l.7-.6l.7 1.4l.7 0l.8 .2l.7 2.1l.7-.6l.7-.1l.7 .6l.7 .1l.8 .5l.7 .6l.7-.9l.7 1.1l.7-.7l.7 .5l.7-.8l.8 .1l.7 .9l.7-.1l.7-.1l.7 .3l.7-.7l.8 1.3l.7 .4l.7-1l.7 .4l.7-.5l.7 .6l.7-.5l.8-.2l.7 .2l.7-.5l.7 .2l.7 .3l.7-1.2l.8 .3l.7-2.2l.7-2.3l.7-5.2l.7-3.5l.7 .9l.8-.4l.7 1.7l.7 2.2l.7 .2l.7-.9l.7 .7l.7-7.2l.8-15.1l.7-22.7l.7-36.4l.7-3.1l.7 8.9l.7 18l.8 15.7l.7 16.5l.7 7.7l.7 9.5l.7 3.8l.7 3.5l.8 1.2l.7 .9l.7-.6l.7 2.2l.7-1.3l.7 2l.7 1.2l.8 0l.7 1.2l.7 1l.7 .4l.7-.1l.7 .5l.8 1.1l.7-.1l.7 .1l.7 0l.7 .7l.7 .2l.7-.2l.8 .8l.7 .1l.7-.9l.7 .2l.7 1.2l.7 .2l.8 .2l.7-.4l.7-.1l.7-.4l.7 .7l.7-1l.8-.3l.7 1.2l.7 0l.7 .9l.7-1.3l.7 .1l.7 0l.8 0l.7 1l.7-.2l.7 .3l.7-.8l.7 .4l.8 .6l.7-.9l.7-.4l.7-.6l.7 1.4l.7-.3l.8-.9l.7 1.1l.7 .6l.7 .3l.7-1.4l.7 .8l.7-.3l.8 .2l.7-.6l.7-1.5l.7 1.4l.7-1.3l.7-1.8l.8-1.2l.7-.9l.7 .4l.7 1l.7-.4l.7 2.3l.8 .8l.7 1.1l.7-.2l.7 .4l.7-.8l.7 .7l.7 0l.8 1l.7-.1l.7 .3l.7-1.2l.7 .5l.7 .2l.8 .6l.7-.4l.7 .2l.7-.3l.7 .7l.7-.8l.8-.3l.7 .1l.7 .1l.7-.3l.7-1.6l.7 .1l.7-.9l.8-.3l.7-1.1l.7 1.9l.7-1.5l.7-.4l.7 .4l.8 1.1l.7-.3l.7 .9l.7 .9l.7 .4l.7-.1l.7-.2l.8 1.7l.7-1.7l.7 .1l.7-.6l.7 1l.7-2.4l.8-.3l.7-2.4l.7 .3l.7 .8l.7-.7l.7 .3l.8 1.2l.7 1.8l.7 1l.7 0l.7-.2l.7 .9l.7 0l.8 .2l.7 .7l.7-.7l.7-.5l.7 2l.7-2.1l.8 .8l.7 .2l.7-.8l.7 1.9l.7-.4l.7-1l.8-.2l.7 .8l.7 .9l.7-.4l.7-.9l.7 .6l.7-.3l.8-.1l.7 .4l.7-.5l.7-.1l.7 .7l.7-.6l.8 .2l.7 0l.7-.4l.7 .9l.7-.6l.7-.7l.7 .7l.8-1l.7 1.4l.7-1.4l.7 1l.7-.4l.7 .6l.8-.1l.7 0l.7 .7l.7-1.4l.7 .6l.7-.8l.8 1.4l.7 0l.7 .2l.7-.3l.7-.2l.7-.7l.7-.2l.8 1.3l.7-.4l.7-1l.7 1.3l.7-.9l.7 .2l.8 .4l.7-.8l.7 1.1l.7 0l.7-.9l.7-.3l.8 .8l.7 .2l.7 .8l.7-1.6l.7 .9l.7-.5l.7 .1l.8-.7l.7 .6l.7 .9l.7-.9l.7-.9l.7 1l.8-.7l.7 .4l.7 .3l.7-.7l.7 .4l.7 1.2l.8-.4l.7-1l.7-.9l.7 1.1l.7-.1l.7-.1l.7 .2l.8-.4l.7 1.2l.7-.9l.7 .3l.7 .9l.7-1.1l.8-.5l.7-.2l.7 1l.7-.3l.7 .9l.7-1.6l.8 .4l.7 .1l.7 .4l.7-.7l.7-.5l.7 1.7l.7-1.9l.8 .5l.7-.8l.7 1.8l.7-1.8l.7 1.4l.7 0l.8-1.8l.7 1.6l.7-1.1l.7-1.6l.7 .7l.7-3.7l.7-4.5l.8-7.1l.7-8.7l.7-4.1l.7-.7l.7-.8l.7 0l.8 4l.7 2.8l.7 3.5l.7 4.8l.7 3.4l.7 4.7l.8 1.5l.7 .4l.7 2.5l.7 .7l.7 .6l.7 1.3l.7-.3l.8-.3l.7 1.1l.7-.5l.7 .8l.7-.5l.7 1.7l.8-.1l.7-.9l.7 1.1l.7-1.1l.7 .2l.7 1.1l.8-1.2l.7 .8l.7-.4l.7 .8l.7-.8l.7-.6l.7 1l.8-.3l.7 .1l.7 .2l.7 .3l.7-.9l.7-.3l.8 .3l.7-.3l.7 .2l.7 1.5l.7-1.3l.7 .1l.7 .3l.8-.3l.7-.4l.7 .7l.7-.3l.7 1.3l.7-.4l.8-1l.7 .7l.7-.8l.7 .8l.7-1.6l.7 .7l.8 .7l.7 0l.7 0l.7 0l.7 .5l.7 .4l.7-1.4l.8 1l.7-.4l.7-.6l.7 .2l.7 .9l.7-.9l.8-.3l.7 0l.7-.2l.7-1l.7 .1l.7 .7l.8 0l.7 .9l.7-1.2l.7 .3l.7-1l.7-.1l.7 .8l.8-1.8l.7 .3l.7 1l.7-2.1l.7-.8l.7 .6l.8 .5l.7-.2l.7 0l.7 1l.7-1.3l.7 .7l.8-.8l.7 .3l.7 .9l.7 0l.7 .3l.7-.5l.7 1.2l.8 .4l.7-.5l.7 1l.7 .3l.7-2l.7 1.6l.8 .4l.7 0l.7-1.1l.7-.6l.7 0l.7 .1l.8-.4l.7-2.8l.7-2.6l.7-4.5l.7-7l.7-3l.7-1.6l.8-.6l.7 .4l.7-.5l.7 3.2l.7 1.2l.7 4.8l.8 2.3l.7 2.1l.7 1.9l.7 2.7l.7 .6l.7 1.3l.7 .4l.8 1.4l.7 1.2l.7-.4l.7 .5l.7-.4l.7 .6l.8 .1l.7 1.1l.7-.3l.7-.6l.7 .9l.7 .1l.8-1.1l.7 .9l.7 .1l.7-.2l.7-.6l.7 .9l.7-.7l.8 .4l.7 .1l.7-.2l.7 .2l.7-.1l.7 .4l.8-1l.7 0l.7-.2l.7 .6l.7-2l.7-7.7l.8-7.3l.7-4.3l.7-.8l.7 4.7l.7 1.6l.7-1.9l.7 3l.8 2.8l.7 4.1l.7 3.6l.7-.4l.7 1.8l.7 1.4l.8 .4l.7 .9l.7 .1l.7-.5l.7 .1l.7 1l.7 .3l.8-.8l.7 .7l.7-.2l.7-.1l.7-.4l.7 .1l.8 .7l.7 .2l.7-.2l.7-.4l.7-.7l.7 .8l.8-.6l.7 .4l.7 1.1l.7-1.9l.7 .5l.7 .8l.7-.7l.8 .4l.7 .7l.7-.3l.7 .4l.7-.3l.7-.8l.8 1l.7-.8l.7 .2l.7 .8l.7-.7l.7-.8l.8 1l.7-1l.7-.4l.7 1.1l.7-.2l.7 .7l.7-.4l.8 .6l.7 .2l.7-1.7l.7 1.4l.7-.5l.7 .5l.8-.7l.7 0l.7-.8l.7 1l.7-.9l.7 .5l.8 1.3l.7-.3l.7-.5l.7 1.2l.7-.8l.7-.4l.7-.6l.8 1.3l.7 0l.7 .5l.7-1l.7-.7l.7 .7l.8-1l.7 .6l.7 .5l.7-.4l.7-.1l.7 .1l.7 .7l.8-.9l.7-.1l.7 .1l.7 0l.7 .5l.7-1.4l.8 1l.7-.1l.7 .4l.7 .3l.7-.2l.7-.3l.8-.4l.7 .7l.7-.1l.7-.4l.7 .1l.7 .2l.7-.4l.8-.3l.7 1.3l.7-.9l.7 0l.7 1l.7-.3l.8-.4l.7-.5l.7-.2l.7 .5l.7-1l.7 1l.8 .2l.7-.4l.7-.4l.7 1.7l.7-1.5l.7 .1l.7 .6l.8 .4l.7-.4l.7-.6l.7 .5l.7 .6l.7-.9l.8 .2l.7 .3l.7-.9l.7 .3l.7-.7l.7 .3l.8-.8l.7 .1l.7-.1l.7-1.6l.7-3.6l.7-8.8l.7-11.6l.8-1.8l.7 5.6l.7 4.2l.7 1.2l.7-.1l.7 3.8l.8 2.7l.7 2l.7 2.2l.7 3.3l.7 1l.7 .6l.7 .4l.8 1.5l.7-.1l.7 .1l.7-.2l.7 .4l.7 0l.8-1.5l.7 1.7l.7 .1l.7-.6l.7 .6l.7-.8l.8 .1l.7-.8l.7 2.5l.7-.9l.7-.2l.7-.7l.7 0l.8 .4l.7 .3l.7-.2l.7-.7l.7 .8l.7-.6l.8-2l.7-.4l.7-3.1l.7-2.7l.7 .5l.7-.3l.8 1.7l.7-.7l.7 2.3l.7 .5l.7 1l.7 .9l.7-.6l.8 .3l.7 1.5l.7 1l.7-.1l.7 .6l.7-.6l.8 .3l.7-1l.7 1.2l.7-.4l.7 1.4l.7-.9l.8 .4l.7-1.9l.7-.4l.7-.7l.7-.5l.7-1.1l.7-1.5l.8 .6l.7-1.1l.7 .9l.7 .5l.7-.3l.7 0l.8 1.7l.7-.1l.7 .8l.7 .7l.7 .3l.7 .7l.8-.8l.7 1.3l.7-.7l.7 .7l.7 1.6l.7-.7l.7-.1l.8 .3l.7-.7l.7 .1l.7 0l.7 .8l.7-1.6l.8 1.5l.7-.9l.7 .6l.7-.2l.7-.4l.7 .1l.7-.4l.8 1.4l.7-.3l.7-.2l.7-.1l.7 .9l.7-1.2l.8-.1l.7 .5l.7 0l.7 .1l.7 .2l.7-1.1l.8 .9l.7 .6l.7 .5l.7-.6l.7-1.1l.7 .7l.7-.3l.8 1.4l.7-2l.7 .8l.7 1l.7-1.9l.7 .8l.8-.7l.7 .9l.7 .1l.7-.4l.7-.2l.7 1l.8-1.5l.7 1.2l.7-.8l.7 .7l.7-.1l.7-.9l.7 .7l.8-.9l.7 1.7l.7-1.3l.7 .3l.7-.1l.7 .1l.8-3l.7-1.7l.7-6.4l.7-5.6l.7-.4l.7 2.3l.7 1.3l.8 1.6l.7-.5l.7 3l.7-.5l.7 4.4l.7 0l.8 2.4l.7 .2l.7 1.2l.7 .8l.7 .3l.7 0l.8 .1l.7 .3l.7 0l.7 .7l.7-.1l.7-1l.7 .7l.8 .1l.7 .2l.7-.8l.7 .9l.7-.3l.7 .1l.8 0l.7 0l.7 .6l.7-.6l.7 .2l.7 .1l.8 .3l.7-1.4l.7 .2l.7 .8l.7 .3l.7-1l.7 1l.8-.7l.7 .5l.7-.4l.7 .2l.7 .4l.7 .6l.8-1.1l.7-.7l.7 1.1l.7 .1l.7-.4l.7 .4l.8-.6l.7 .1l.7 .6l.7-.5l.7 .9l.7-.3l.7-1.1l.8 .1l.7 .7l.7 .1l.7-.9l.7 .1l.7 .7l.8-.3l.7 .1l.7 .7l.7-.1l.7-.3l.7-.2l.8-.2l.7 .4l.7-1.5l.7 1l.7 .3l.7-.5l.7 .8l.8-1.5l.7 1.6l.7-.8l.7-.1l.7 .9l.7-.9l.8 .9l.7-.3l.7 .3l.7 .2l.7-.3l.7-.4l.7 .6l.8-.2l.7-.4l.7 1.2l.7-1.1l.7-.1l.7 .9l.8 .4l.7-.6l.7-.3l.7-.5l.7 .9l.7-1.9l.8 1.5l.7 .1l.7 .3l.7-1.3l.7 1l.7-1.3l.7 2.1l.8-1.4l.7 0l.7-.9l.7 1.4l.7-.5l.7 .5l.8-.7l.7 .8l.7-.9l.7 .6l.7-.5l.7 1.7l.8-.9l.7-1l.7 .7l.7-.7l.7 .2l.7 .7l.7 .4l.8-.4l.7-.3l.7 .4l.7-.2l.7 .2l.7 .3l.8-.1l.7-1.1l.7-.1l.7 1l.7-.6l.7 0l.7-.3l.8-.6l.7 1.4l.7-.4l.7 .7l.7-.8l.7 .3l.8 .6l.7-.8l.7 .1l.7-.2l.7 .7l.7-.8l.8 .9l.7-1.5l.7 .5l.7 1l.7-.1l.7-.4l.7-1.5l.8 .9l.7-1.4l.7-1.3l.7-1.4l.7-1.8l.7 .3l.8-.1l.7 1.2l.7 .9l.7 .2l.7 .4l.7 1.5l.8-.3l.7 .1l.7 1.7l.7-.4l.7 .2l.7-.1l.7 .5l.8 .3l.7 .1l.7 0l.7 .1l.7-1.4l.7 1.5l.8-.8l.7 .7l.7-.6l.7 .7l.7-1l.7 1l.8-.5l.7 .5l.7 0l.7-.7l.7-.4l.7 .5l.7 1l.8-1l.7 .3l.7 .3l.7-.7l.7 .3l.7 .8l.8-1.5l.7 1.2l.7 .1l.7-1.4l.7 1.5l.7-1.2l.8 1l.7 0l.7-.2l.7 .5l.7 .1l.7-.7l.7 0l.8-1l.7 1.1l.7 .5l.7-.7l.7 .1l.7 1.2l.8-1.3l.7-.5l.7 .9l.7 .2l.7-.7l.7-.9l.7 .7l.8 .9l.7-.7l.7 1.4l.7-1.8l.7 .6l.7-.3l.8 .9l.7-.1l.7-.7l.7 .7l.7 0l.7 .3l.8-.3l.7-.1l.7-1l.7 1l.7-1.1l.7 1.6l.7-.9l.8-.3l.7 .3l.7 .2l.7 .2l.7-.3l.7 .7l.8-1.4l.7 .6l.7-1.1l.7 1.3l.7 0l.7 0l.8 .4l.7-.4l.7 .6l.7-1.9l.7 .9l.7 .6l.7-.9l.8-.1l.7 1.6l.7-.2l.7 .2l.7-1l.7 .4l.8-.1l.7-.4l.7 .8l.7-.5l.7 0l.7-.1l.7-.4l.8-.4l.7 1.5l.7-1.2l.7 .8l.7 0l.7 .7l.8-1l.7 .7l.7 .1l.7 .4l.7-.2l.7-.1l.8-.9l.7 .4l.7-1.4l.7-.2l.7 .6l.7 .7l.7-.4l.8 .5l.7 .7l.7-1.4l.7-.2l.7 1l.7-.5l.8-.3l.7 1.2l.7-1.2l.7 .1l.7 .3l.7 .3l.8 .1l.7-.5l.7-.6l.7 .5l.7 1.3l.7-.1l.7-.4l.8-.1l.7-.5l.7-.6l.7 .6l.7 .7l.7-.8l.8 1l.7-1.4l.7 .6l.7-.1l.7 .7l.7-.2l.8-1.1l.7-.7l.7 .5l.7 1.4l.7-.3l.7 .7l.7-1.3l.8 .7l.7-.8l.7-.1l.7-.6l.7 .6l.7-1.5l.8-.8l.7-1.6l.7-1.3l.7-1.7l.7-1.3l.7 .5l.8-1.2l.7 1.2l.7 .1l.7 1.4l.7 .4l.7 .7l.7 .7l.8 1.4l.7 .9l.7-.9l.7 1.3l.7 1l.7-.3l.8 1l.7-.6l.7 .3l.7 .7l.7-1l.7 .2l.7 1l.8-.3l.7-.9l.7 .1l.7 1l.7-.7l.7 0l.8 .7l.7-1.8l.7-.5l.7-2.5l.7-9.3l.7-13.4l.8-1.2l.7 5.1l.7 5.9l.7 7.6l.7 2.3l.7 2.8l.7-1.3l.8-1.5l.7-4.1l.7-.7l.7 2.7l.7 2.6l.7 2.2l.8 .3l.7 3.3l.7-.3l.7 .2l.7 1.1l.7 .5l.8 .3l.7-.9l.7-.7l.7 .6l.7-.4l.7-.7l.7-.3l.8 1.3l.7-.3l.7-.8l.7 1.8l.7-.9l.7 1l.8-1.3l.7 .7l.7-.8l.7 1.9l.7-.5l.7-.3l.7 .4l.8 .1l.7-.2l.7-.8l.7 1.1l.7-.7l.7 .4l.8-.5l.7 .1l.7-.1l.7-.1l.7 .2l.7 .2l.8-.5l.7 .5l.7-.7l.7 .5l.7-.7l.7 .6l.7 .4l.8-1.1l.7 .4l.7-.2l.7 .9l.7 .4l.7 .4l.8-.4l.7-.2l.7-.2l.7-.3l.7 .2l.7 1.4l.8-1.5l.7 .5l.7 .7l.7-.6l.7-.4l.7 .4l.7-.2l.8-.2l.7 .6l.7-.7l.7 .6l.7-.5l.7-.2l.8-.8l.7 .4l.7 1.2l.7 .1l.7 0l.7 .7l.8-1.5l.7 .5l.7 0l.7-.1l.7-.9l.7-.3l.7 2l.8-1.2l.7-.2l.7 1l.7-1l.7 0l.7 .7l.8-.5l.7 .5l.7 .4l.7-1.2l.7 .4l.7 .2l.8-1.2l.7 1.8l.7-1.4l.7 1.2l.7-1.2l.7 1.3l.7-.7l.8-.3l.7 1.1l.7-.7l.7 .3l.7-.6l.7 .7l.8 .2l.7-.2l.7 0l.7-.6l.7 .8l.7 .3l.7-1.2l.8 .1l.7-.3l.7-.3l.7 .9l.7-1l.7 1l.8 .1l.7 0l.7-.1l.7 .2l.7-.9l.7-.1l.8 1l.7 .2l.7-.7l.7-.4l.7 .8l.7 .1l.7-.4l.8 .3l.7 .7l.7-2l.7 .9l.7 0l.7 1.5l.8-1l.7-.3l.7 .6l.7-.5l.7-.2l.7-.7l.8 1.3l.7-.6l.7 0l.7-.5l.7 .8l.7-.3l.7 .5l.8-1l.7 .7l.7-1.1l.7 1.3l.7 .4l.7-1.2l.8 .7l.7-.1l.7-.4l.7 1.2l.7-.4l.7-1.1l.7 .3l.8 .3l.7-.3l.7 .3l.7-.7l.7 .5l.7-.8l.8 .8l.7-.7l.7 .3l.7-.9l.7 .8l.7-1.3l.8-.7l.7 .2l.7-2.5l.7-2.4l.7-1.2l.7-1.2l.7 .2l.8-.1l.7 .8l.7-1.2l.7 2.2l.7 1.4l.7-.8l.8 2.2l.7 .5l.7 .3l.7 2l.7-1.3l.7 1.4l.8 .9l.7 .8l.7-.1l.7-1.1l.7-.1l.7-.1l.7 1.6l.8-1.2l.7 .5l.7 1.6l.7-1.6l.7 .4l.7-.1l.8-.6l.7 .5l.7 .4l.7 .8l.7-.6l.7-.6l.8 .3l.7-.3l.7 .4l.7-.1l.7 .5l.7-2.3l.7-.8l.8-1.2l.7-2.4l.7 3.6l.7-.7l.7 .9l.7 1l.8-.1l.7 .1l.7-.3l.7 0l.7 .6l.7 .3l.8 .1l.7-.2l.7 .5l.7-.1l.7 .2l.7 .9l.7-.1l.8-1.1l.7-.2l.7-1.7l.7 1.2l.7 .1l.7-.5l.8 .7l.7-.7l.7 .7l.7 .9l.7 1.2l.7-.8l.7 .1l.8 0l.7 .7l.7-.2l.7-.6l.7-.9l.7 .8l.8-1.1l.7 2l.7-.9l.7 .4l.7 .4l.7-.1l.8-1.2l.7-.1l.7 .6l.7-.5l.7 1.1l.7-.3l.7-.1l.8-.2l.7 .8l.7-.5l.7 .5l.7-1.2l.7 0l.8 1l.7 .1l.7-.6l.7-.1l.7-.1l.7 1.3l.8-.5l.7-.4l.7 .5l.7-.5l.7 0l.7 0l.7-.3l.8-.6l.7 1.1l.7-.2l.7-.3l.7 .1l.7-.5l.8 .7l.7 0l.7-.5l.7-.1l.7 .5l.7-.2l.7 0l.8-.1l.7 0l.7-.9l.7 .9l.7 .4l.7-1.2l.8 1.4l.7-.9l.7 1.3l.7-.4l.7-1l.7 1l.8-.6l.7 1l.7-1l.7 .8l.7-.5l.7-.1l.7 .4l.8-.8l.7 1l.7 .2l.7-.5l.7 0l.7 .3l.8 .1l.7-.4l.7 .9l.7-1.8l.7 .4l.7 .1l.8 1.3l.7-.3l.7-1.1l.7-.6l.7 .1l.7 1.1l.7-1.6l.8 1.2l.7 0l.7 .1l.7 .9l.7-.7l.7-.3l.8-.4l.7 .5l.7 .1l.7 .6l.7-1.5l.7 .3l.8 0l.7 .2l.7-.8l.7 .7l.7 .6l.7-.3l.7-.2l.8 .4l.7-1.4l.7 1.7l.7-.7l.7 1l.7-.3l.8-.9l.7 0l.7 .4l.7 .3l.7-.8l.7 .3l.8 1l.7-.4l.7-.5l.7 .4l.7 .3l.7-1.2l.7 .1l.8 .6l.7-.1l.7 .4l.7-.8l.7 .1l.7-.4l.8-.2l.7-.2l.7 1.7l.7-1l.7 .6l.7-.8l.7 1.6l.8-.9l.7-.2l.7 .5l.7-.5l.7-.4l.7 1.1l.8-.8l.7-.1l.7 .1l.7 1.1l.7-.7l.7 .3l.8-.9l.7 1l.7-.5l.7-.4l.7-.8l.7 .9l.7-.2l.8 1.3l.7-1.3l.7-.2l.7 .6l.7 .1l.7-.5l.8-.1l.7 1l.7 .3l.7-1.1l.7 .4l.7 0l.8-.5l.7 .2l.7 .6l.7-.2l.7 .3l.7 .1l.7-.1l.8-1.4l.7 1.4l.7-.1l.7-1.6l.7 .6l.7 .5l.8 .2l.7 1l.7-1.4l.7 1.4l.7-1.6l.7 .9l.7-1.7l.8 .7l.7-.6l.7 .9l.7 .2l.7-.2l.7-.2l.8 1.3l.7-.5l.7-1.2l.7 .6l.7-.1l.7 .3l.8-.2l.7 .2l.7 .5l.7-.4l.7-.3l.7 .1l.7 0l.8-.5l.7-.9l.7 .9l.7-.4l.7 .9l.7-1.4l.8 .7l.7-.2l.7-1.3l.7-.4l.7-3.7l.7-4.6l.8-5.2l.7-3.5l.7 1l.7 1.4"/>
<path id="cv_b5" stroke="#00c8c8" d="M154.5 963.9l.7-.2l.7 .6l.7-.2l.8 1.6l.7-2l.7 3l.7-.9l.7 .6l.7-.4l.8-.2l.7 1.5l.7 1.5l.7-.1l.7 .8l.7-.7l.8 .6l.7-.1l.7-.6l.7 1.1l.7-.2l.7 1.3l.7-.7l.8 .3l.7 .7l.7 .5l.7-.8l.7 .1l.7 .4l.8 .9l.7-1.6l.7-.1l.7 3l.7-1.9l.7 .3l.8-1.8l.7 1.5l.7 .4l.7-.3l.7 .2l.7 .3l.7 .6l.8 .6l.7-1.8l.7 .1l.7 1.6l.7-.2l.7-.8l.8-.4l.7 .6l.7 .8l.7 .5l.7 .5l.7-.2l.7-1.4l.8 2.4l.7-.8l.7-.6l.7 0l.7 1l.7-1l.8 .1l.7 .4l.7 1.2l.7-2.3l.7 2.1l.7-2.5l.8 1l.7 1l.7 .7l.7-1.8l.7 1.9l.7 .2l.7-1.2l.8 .2l.7 .1l.7-1.3l.7 3.4l.7-1.3l.7-1.4l.8 1.5l.7 0l.7-.4l.7 .3l.7 .7l.7-1.1l.8-.3l.7 2.2l.7-1l.7-.6l.7 1.6l.7-2.9l.7 .9l.8 1.4l.7-.3l.7 .1l.7-.6l.7 0l.7 .1l.8 .2l.7 .9l.7 .3l.7-.3l.7 .7l.7-2.3l.7 1.2l.8-.6l.7 2.2l.7-1.5l.7 .7l.7-.2l.7-.7l.8-.1l.7 1.2l.7 .2l.7-.9l.7 1.8l.7-1.3l.8 .7l.7-.4l.7 .6l.7-1.9l.7 2.4l.7-.5l.7 0l.8 .4l.7-.4l.7-1.6l.7 .8l.7-.4l.7 .5l.8 .9l.7 .7l.7-2.2l.7 .3l.7 .9l.7 .4l.8-.2l.7-.5l.7 .7l.7 0l.7-.7l.7 1.5l.7-2l.8 1.2l.7 0l.7 .3l.7 .5l.7-1l.7 .3l.8 .6l.7 .8l.7-1.7l.7 1.1l.7-.3l.7-.8l.8 1.1l.7-1.1l.7 .8l.7 .1l.7 1.6l.7-2.3l.7 1.3l.8-.3l.7-.3l.7-.1l.7 1.3l.7-1.4l.7 1.1l.8-.7l.7 .6l.7 .2l.7-1.7l.7 .5l.7 .6l.8 .2l.7-1.1l.7 1.4l.7 .4l.7-.7l.7 .2l.7-1l.8 1.8l.7 .5l.7 .3l.7-1.4l.7 1.3l.7-1.8l.8 .8l.7-.2l.7-1.2l.7 .7l.7 .5l.7 0l.7-.3l.8 .4l.7 .6l.7 .2l.7-2.3l.7 1.2l.7 .5l.8-1.6l.7 1.9l.7 .7l.7-1.9l.7-.5l.7 1.2l.8 1.3l.7 .7l.7-1.3l.7-.2l.7-.6l.7 1.2l.7-1l.8 .6l.7 .7l.7-.6l.7-.8l.7 1l.7 .6l.8 .1l.7-2l.7 1.5l.7 .1l.7-.5l.7-.6l.8 .3l.7 0l.7 2.1l.7-1.3l.7-.3l.7 .5l.7 .7l.8-.9l.7 .6l.7-.1l.7-.7l.7 1.4l.7-.8l.8 .6l.7 .2l.7-1.2l.7-.3l.7 .2l.7 1.9l.7-1.4l.8-.2l.7 1.3l.7-1.5l.7 1.8l.7-1.7l.7 .7l.8-.1l.7 .2l.7 .4l.7-.1l.7-1.3l.7 .1l.8 .7l.7 .6l.7-.7l.7-.2l.7-.8l.7 1.6l.7-.1l.8-.8l.7 .4l.7 1.3l.7-1.4l.7 0l.7 .9l.8-1.6l.7 1l.7 .1l.7-.4l.7 .3l.7 .1l.8 .3l.7-.2l.7 .6l.7 .1l.7-.5l.7-.1l.7-1.3l.8 2.2l.7-.5l.7 0l.7 .6l.7-1.1l.7 0l.8 .9l.7-1.9l.7 2l.7-.3l.7-1.1l.7 .4l.8 1.3l.7-1.2l.7 1l.7-.2l.7-.2l.7-.1l.7 0l.8-.1l.7 .4l.7 .5l.7-1.9l.7 2.3l.7 .5l.8-2.4l.7 1.8l.7-.7l.7 .5l.7-.5l.7-.7l.8 1.2l.7-.3l.7 .2l.7-.9l.7 .5l.7 .8l.7-1.6l.8 1.3l.7-1.3l.7 1.7l.7 .8l.7-2.3l.7 .9l.8 .4l.7-.9l.7 1.2l.7-.4l.7-.3l.7 .9l.7-.6l.8 1.3l.7-.6l.7-.5l.7 0l.7-.9l.7 .2l.8-.1l.7 .9l.7-.1l.7-1l.7 .9l.7-.2l.8-.4l.7 .8l.7-.5l.7-.3l.7 .1l.7 .5l.7-1l.8 .5l.7 .6l.7 .3l.7-.4l.7-.2l.7-.8l.8 1.6l.7-1.1l.7-.2l.7 1.3l.7-1.1l.7-.1l.8 .8l.7 .3l.7-.2l.7-1.3l.7 1.3l.7-.5l.7 0l.8 .7l.7 .1l.7-1.4l.7 1.6l.7-.7l.7 0l.8-.4l.7 .6l.7 .5l.7-.9l.7-.5l.7 2.4l.7-.8l.8-.2l.7 .5l.7-1.4l.7 .2l.7-.3l.7 .7l.8 1.4l.7-.3l.7-1.5l.7 1.4l.7-.3l.7 .3l.8-1.3l.7 .5l.7-.7l.7 .7l.7 .5l.7-.7l.7 .1l.8 .7l.7-.9l.7-.4l.7 1.1l.7-1.6l.7 2l.8-1.4l.7 .3l.7-.5l.7 1.7l.7 0l.7-.6l.8 .1l.7 .6l.7-.8l.7-.9l.7 .3l.7 .2l.7-1l.8 1.1l.7 0l.7 .5l.7-.3l.7 .9l.7-1.2l.8 .5l.7 .4l.7-.6l.7 .2l.7-1.1l.7 1.1l.8-.2l.7 .8l.7-.7l.7 .2l.7 .9l.7-1.7l.7 .8l.8-.8l.7 .5l.7 .2l.7-.4l.7 1l.7-.9l.8 .3l.7 .2l.7-.1l.7 .3l.7-.6l.7 1.1l.8-.4l.7 .1l.7-.1l.7-.3l.7 .1l.7 .3l.7 .4l.8-.3l.7-.6l.7 .5l.7-.9l.7 .8l.7-.3l.8 .1l.7 0l.7-.5l.7 .3l.7 .1l.7 .3l.7 .1l.8-.4l.7-.2l.7 1.1l.7-1.4l.7 2l.7-.5l.8-.6l.7-.4l.7 .1l.7-.3l.7 1.1l.7-.3l.8-.8l.7 .2l.7-.4l.7-1l.7-1l.7-2.3l.7-.2l.8 .6l.7 1.1l.7 2.3l.7 1.5l.7-.4l.7-.2l.8-.4l.7 .4l.7 .7l.7-.2l.7-1l.7 1.2l.8-1.1l.7 .9l.7-.1l.7 .1l.7-.1l.7-.3l.7 0l.8 .6l.7-.2l.7 .7l.7-.7l.7 .6l.7-.5l.8-.3l.7 1.2l.7-1.6l.7 .3l.7 .8l.7 .2l.7-.5l.8-.3l.7 .1l.7 .8l.7-1.7l.7-.1l.7 .7l.8-.3l.7 .4l.7 .1l.7-.2l.7 .4l.7-.1l.8-.2l.7 .2l.7 0l.7-.2l.7 1.1l.7-.4l.7-.9l.8 1.5l.7-.6l.7-.6l.7 .3l.7-.7l.7 .3l.8 0l.7 .8l.7 .9l.7-.8l.7-.2l.7-.2l.8 .5l.7-.1l.7-.9l.7 0l.7 .3l.7 .7l.7-.5l.8-1.2l.7 1.5l.7 .7l.7-.7l.7-.5l.7 .6l.8 .2l.7-.3l.7-.3l.7-.7l.7 1.6l.7-1.2l.8 1l.7-1l.7-.2l.7 2l.7-2.3l.7 1.2l.7-.5l.8 1.1l.7-.8l.7 .1l.7 1.1l.7-1.4l.7 .2l.8 .4l.7-.9l.7 .8l.7-.6l.7 1l.7-.5l.8-1.1l.7 .6l.7-.3l.7 1.4l.7-1.2l.7 1.1l.7-1l.8 .4l.7 0l.7 1.1l.7-1.6l.7 .4l.7-.5l.8 2l.7-1.4l.7 .4l.7-.6l.7 .6l.7 0l.7-.6l.8 .6l.7-.5l.7-.4l.7 1.4l.7-.3l.7-.5l.8-1l.7 2.1l.7-1.3l.7-.2l.7 .3l.7 .4l.8-.7l.7-.4l.7 .9l.7 .2l.7-.7l.7 .4l.7 .6l.8-.4l.7-.5l.7 .7l.7-.9l.7 .6l.7 .1l.8 0l.7 .3l.7-.8l.7 .6l.7-1.2l.7 1l.8-1.2l.7 .9l.7 .7l.7-1.6l.7 1l.7 .6l.7-.5l.8-.3l.7 .9l.7-.5l.7 0l.7-.3l.7 .7l.8 0l.7-.5l.7 .6l.7-.4l.7 .5l.7-1.7l.7 .4l.8 .5l.7 .9l.7 .1l.7-.7l.7-.2l.7 1l.8-.9l.7-.6l.7 .5l.7 .6l.7-.2l.7 .8l.8-1l.7 1l.7-1.4l.7 .6l.7-.2l.7 .7l.7-1.7l.8 1.5l.7-.5l.7 .4l.7 1l.7-2.1l.7 1.6l.8-.8l.7-.5l.7 .7l.7-.7l.7 .1l.7 1.2l.8-.4l.7-.2l.7 .5l.7-1.6l.7 .9l.7-.5l.7 .9l.8 0l.7-1l.7 1.4l.7 .5l.7-1.6l.7 .8l.8-.2l.7-.8l.7 .7l.7-.2l.7-.4l.7 .9l.8 .3l.7-1.7l.7 .1l.7 .9l.7-.9l.7 1.8l.7-1.1l.8 1l.7-1.1l.7 .2l.7 .3l.7 .8l.7-.4l.8-1.4l.7 .8l.7 .1l.7 .2l.7 1.1l.7-.7l.8-1l.7 .2l.7 .2l.7-.6l.7 .4l.7-.2l.7 .8l.8-.8l.7 1.7l.7-1.4l.7-.8l.7 .9l.7-.2l.8-.4l.7 1.1l.7-.7l.7 .4l.7-.1l.7 0l.7-.6l.8 0l.7-.8l.7 1.7l.7 .1l.7-.6l.7 .3l.8-.6l.7 .6l.7-.5l.7-.4l.7 .3l.7 .3l.8 0l.7 1.3l.7-2.5l.7 1.6l.7-.1l.7-1.3l.7 .9l.8 1.3l.7-1.8l.7-.1l.7-.2l.7 .7l.7-.4l.8 .3l.7 0l.7-1.8l.7 .1l.7-.8l.7 .4l.8-1.8l.7 .8l.7 .4l.7-.2l.7-1.1l.7 .1l.7 .6l.8-.2l.7 .3l.7-.1l.7-.5l.7 1.8l.7 .7l.8-.9l.7-.4l.7 1.3l.7-.4l.7-.4l.7 .1l.8-.9l.7 1.8l.7 .2l.7-.6l.7 .2l.7-.7l.7 .7l.8 .3l.7-.5l.7 .4l.7 .2l.7-.9l.7 .5l.8 1.6l.7-.6l.7-1.1l.7 1.7l.7-1l.7 .1l.7 .5l.8 .8l.7-.3l.7-1.8l.7 1.2l.7 .5l.7-.9l.8-1.4l.7 .4l.7-.4l.7-.9l.7-1.3l.7-.4l.8-2.6l.7-3.8l.7-7.7l.7-15l.7-18.3l.7-20.1l.7-7l.8 9.3l.7 17.8l.7 19l.7 11.2l.7 9.5l.7 5.4l.8 2l.7 1.6l.7 .3l.7 1.9l.7-.6l.7-.3l.8 1.6l.7-.4l.7 .2l.7-.2l.7 .5l.7 .5l.7-1.1l.8 1.6l.7-.8l.7-.5l.7-1.2l.7 .5l.7-.1l.8 .1l.7-.4l.7-.1l.7-.6l.7 1l.7-1.7l.8 0l.7-.5l.7-.3l.7 1l.7-.9l.7 1.2l.7-1.4l.8 .2l.7 .5l.7-1.9l.7 2.1l.7-.8l.7 .3l.8 .9l.7-.5l.7 .9l.7 .3l.7 .4l.7 .4l.7 .5l.8-.5l.7-1.9l.7-1l.7-.9l.7-1.2l.7-1.9l.8-1.5l.7 2.2l.7 1.2l.7 1.4l.7 2.8l.7 .3l.8 1.7l.7-1l.7 .8l.7 .8l.7 .4l.7-.8l.7 .9l.8-.5l.7 .4l.7-.4l.7-.8l.7 .6l.7-.6l.8-.1l.7-.4l.7 1.6l.7-.4l.7 .1l.7 .9l.8-.8l.7 .3l.7-.8l.7 .8l.7-.3l.7 .6l.7-.8l.8-1l.7 1.6l.7-.5l.7 .4l.7-.4l.7 .6l.8-.4l.7 .3l.7-.3l.7 .7l.7 .3l.7-.8l.7 .2l.8-2.5l.7 1.7l.7-1.8l.7-.2l.7-.4l.7 0l.8-1l.7 .7l.7 1.7l.7 .3l.7 1.1l.7 0l.8-.1l.7-.3l.7 1l.7-.4l.7 0l.7-1.7l.7 .6l.8 1.2l.7-1.1l.7 .5l.7 0l.7-.1l.7 0l.8-1.2l.7-1.1l.7-1.2l.7-.7l.7-1.4l.7-1.7l.8-1.3l.7 1.7l.7 2.6l.7 .2l.7 2.5l.7 1.1l.7 .2l.8-.3l.7 1.5l.7-.5l.7-.4l.7-1.1l.7 1.7l.8 .7l.7-.5l.7-1.1l.7 .5l.7-1.1l.7 .4l.8 1l.7-1l.7 .2l.7 .2l.7-.9l.7-1.2l.7 0l.8-.7l.7-.9l.7-2.5l.7-1.7l.7-1.5l.7-.9l.8-3.7l.7-2l.7 2.9l.7 .2l.7 2.4l.7 3.8l.8 1.5l.7 2.1l.7 1.7l.7 0l.7 .3l.7-.1l.7 2l.8-.8l.7 .3l.7 .2l.7 .2l.7-.4l.7-.4l.8-.3l.7 .1l.7 .8l.7 .4l.7-.1l.7-.1l.7 .2l.8-.4l.7-.9l.7 1.7l.7 .4l.7 .1l.7-1.4l.8-.8l.7 1.5l.7-.7l.7 1.1l.7-1.8l.7 .1l.8-.2l.7 .8l.7 .5l.7-.2l.7 1.1l.7-1.8l.7 1l.8 .5l.7-1.3l.7 .3l.7-.8l.7 1.8l.7-1.7l.8 1.1l.7-.4l.7-.7l.7 .8l.7-.7l.7 .9l.8-.7l.7 .1l.7 .8l.7-.7l.7 0l.7 .8l.7-.7l.8 1.3l.7-1.3l.7 .4l.7-.6l.7 .2l.7 .1l.8-.4l.7 .1l.7 1.3l.7-1.7l.7 .4l.7-.3l.7 .7l.8-.2l.7 .2l.7-.6l.7-.1l.7 .2l.7-.2l.8 .2l.7-1.8l.7-.1l.7-.3l.7 .8l.7-.5l.8-.4l.7 .3l.7-.9l.7 .1l.7 .7l.7 .1l.7 .8l.8-.3l.7 1.1l.7-1.4l.7 1.3l.7-.2l.7-.8l.8 .5l.7-.6l.7-.4l.7 .8l.7-1.5l.7 .9l.8-1.8l.7 .3l.7 .4l.7-1.1l.7-2.1l.7-1.3l.7-3.9l.8-1.9l.7-3.3l.7-5.9l.7-9.5l.7-16.9l.7-27.2l.8-48.3l.7-79l.7-54.4l.7 51.3l.7 80.8l.7 49.6l.8 27.8l.7 14.9l.7 10l.7 5l.7 6.7l.7 1.5l.7 2.1l.8 1.3l.7 .3l.7 2.8l.7-.7l.7 2.8l.7 0l.8 0l.7 .5l.7-.3l.7-.1l.7 1.8l.7-1.3l.8 .5l.7 1l.7-.8l.7 .2l.7 .8l.7-1.2l.7 1.9l.8-.5l.7-.1l.7 .2l.7-.4l.7 1.1l.7-1.5l.8 1.8l.7-.7l.7-.4l.7 .2l.7 .5l.7 .5l.7-1.1l.8 .8l.7 .3l.7-1.1l.7 0l.7 .4l.7 .1l.8-.1l.7-1.8l.7-2.3l.7-1.4l.7-.9l.7-1.9l.8 1.9l.7 .2l.7 1.4l.7-.6l.7 .9l.7-1.7l.7-3.6l.8-4.9l.7-13.6l.7-19l.7-2.4l.7 5.2l.7 10.1l.8 6.7l.7 7.5l.7 5.8l.7 4.2l.7 1.6l.7 1l.8 1.8l.7-.1l.7 .5l.7-1.1l.7-.2l.7 1.2l.7 1.7l.8-.4l.7-.5l.7 .9l.7 2.1l.7-.8l.7-.6l.8 2.1l.7-.7l.7 1.6l.7-.5l.7 1.2l.7-.8l.7 .1l.8 1.9l.7-1.2l.7 .2l.7-.5l.7 .4l.7 1.3l.8-.2l.7-.7l.7 .2l.7-.5l.7 .7l.7-.8l.8-.4l.7 1.9l.7-1.5l.7 .9l.7 .2l.7-.6l.7 .3l.8 .1l.7-.1l.7 .1l.7 .2l.7-.1l.7-1.1l.8 1.3l.7-.9l.7 .4l.7 .9l.7 0l.7-.3l.8-.1l.7 .6l.7-.6l.7-.6l.7 0l.7 .6l.7 .4l.8 .1l.7-.8l.7 0l.7 .6l.7-.8l.7 .8l.8 .5l.7-.9l.7-.6l.7 .6l.7 1.1l.7-.6l.8-.2l.7-.4l.7 .8l.7-1l.7 1.4l.7-.7l.7-.3l.8 1.3l.7-1.7l.7 1l.7-.6l.7 .3l.7 .3l.8-.2l.7-1.2l.7 1.6l.7 .1l.7-1.5l.7 .3l.8 .8l.7-.8l.7-.2l.7 .1l.7-.2l.7-.6l.7 0l.8-.6l.7-.3l.7-.4l.7 1.3l.7 .1l.7-1.9l.8 1.1l.7 1l.7 .3l.7-.5l.7 .1l.7 .9l.7-.1l.8-.4l.7 1l.7-.3l.7-.2l.7-1l.7-.1l.8-.8l.7-1l.7 .1l.7-.7l.7-.2l.7 1l.8 .8l.7 .6l.7 1.1l.7-1l.7 1.4l.7-.8l.7 .4l.8-.6l.7 .6l.7 1.6l.7-2.1l.7 1.1l.7-.1l.8 .4l.7 .6l.7-.5l.7 0l.7-.9l.7 .2l.8-.2l.7 .4l.7-.2l.7-.3l.7 .2l.7 .3l.7 0l.8 0l.7-.1l.7-.5l.7-.2l.7-.1l.7-.1l.8-.6l.7-.2l.7-1.2l.7 .7l.7 .6l.7 1.5l.7-1.3l.8 1.3l.7 .9l.7-1.3l.7 .8l.7 .4l.7-.5l.8 0l.7 0l.7 .4l.7-.9l.7 1.1l.7-.7l.8-.1l.7 .7l.7 .7l.7-1.4l.7 .9l.7-.6l.7 .1l.8 0l.7-.1l.7-.9l.7 1.7l.7-.2l.7 .6l.8-.8l.7-1l.7 .2l.7-.2l.7 .9l.7-.4l.8 .8l.7-.1l.7-.7l.7 .6l.7-.9l.7 .5l.7-.2l.8 .7l.7-.2l.7 .6l.7-.6l.7-1l.7 .8l.8 .4l.7-.3l.7-.5l.7 .7l.7-.3l.7 .2l.8 .4l.7-.8l.7 .4l.7-.5l.7-.2l.7 1.5l.7-1l.8 .8l.7-1.8l.7 .1l.7 .6l.7 1.3l.7-1.7l.8 .6l.7-.3l.7-.1l.7 1.3l.7-.9l.7 1l.8-1l.7 .8l.7-1.1l.7 1.2l.7-2l.7 .2l.7 .5l.8 1.2l.7-.8l.7 .7l.7-1.6l.7 1.3l.7-1.6l.8-.9l.7 .8l.7-.5l.7 .1l.7-2.3l.7-2.3l.7-6.1l.8-7.3l.7-6.6l.7-4.3l.7 0l.7-.1l.7 .7l.8 2.5l.7 1.4l.7 4.8l.7 5.4l.7 3.5l.7 2.2l.8 2.6l.7 2.6l.7 .8l.7 1.6l.7-.3l.7 .2l.7 .7l.8 .1l.7 .6l.7-.2l.7 1l.7-.6l.7-.4l.8 1l.7-.2l.7-1l.7 .6l.7 .4l.7 .5l.8 .7l.7-.7l.7 .3l.7 .7l.7-.5l.7-.7l.7 0l.8-.2l.7 0l.7 0l.7 .4l.7-.8l.7 .2l.8 .4l.7 .4l.7-.6l.7 .2l.7 .1l.7 0l.7 1.4l.8-.8l.7-.5l.7 .3l.7-.2l.7 .3l.7-.1l.8-.6l.7 .9l.7-.4l.7 .3l.7-.2l.7 .1l.8 .8l.7-1.6l.7 .5l.7-.2l.7 .7l.7-.6l.7 .5l.8-.1l.7 .2l.7-.5l.7-.7l.7-.2l.7 1.3l.8-.2l.7-.3l.7 .8l.7 .1l.7-.4l.7 0l.8-.3l.7-.8l.7 .1l.7 .5l.7 0l.7-1l.7 .8l.8 .3l.7-.4l.7-.5l.7-.5l.7 .4l.7-.2l.8 .1l.7 0l.7-.2l.7 .8l.7-.5l.7 .4l.8-1.7l.7 1.6l.7 .7l.7-1.1l.7-.3l.7 .5l.7 .7l.8 .1l.7 .4l.7-.7l.7 .2l.7-.4l.7 .3l.8-.7l.7-.4l.7 1.1l.7-1.1l.7 .6l.7-1.6l.8-.1l.7-1.4l.7-4.9l.7-4.8l.7-4l.7-4.9l.7-3.4l.8 1.9l.7-.3l.7 1.2l.7 .8l.7 2.3l.7 3.4l.8 2.9l.7 4.4l.7 1.8l.7-.6l.7 2.5l.7 1.5l.7 .2l.8 2.2l.7-.1l.7 .5l.7 0l.7 .8l.7-.3l.8 .4l.7-.1l.7 .5l.7-.8l.7-.7l.7 1.4l.8 0l.7-.1l.7 .6l.7-.2l.7 0l.7-.2l.7-.8l.8 1.1l.7-.8l.7 .8l.7-.5l.7 .3l.7-.6l.8-.7l.7 .4l.7-1.3l.7 1.1l.7-2.4l.7-4.9l.8-7.5l.7-4.7l.7-.5l.7 3.3l.7 2.5l.7 .2l.7 2l.8 2.4l.7 2.2l.7 3.4l.7 1.9l.7 .7l.7 1.3l.8-.5l.7 .4l.7-.5l.7 .6l.7 .9l.7 .3l.7 .1l.8-.9l.7 .6l.7 .1l.7 .4l.7 0l.7-1.1l.8 1.2l.7 .2l.7-.5l.7 .2l.7 .3l.7-.7l.8 .3l.7-.3l.7 1.1l.7-.6l.7-.5l.7 .6l.7-.2l.8-.5l.7 .1l.7 1.1l.7-1l.7 .5l.7-.8l.8 .1l.7 .6l.7-.1l.7-.1l.7-.3l.7 .5l.8-.8l.7 1.7l.7-1.5l.7-.1l.7 .3l.7 1.3l.7-1.6l.8 .3l.7-.2l.7 .7l.7-.1l.7 .1l.7-.6l.8 .5l.7 .1l.7-.4l.7 0l.7-.2l.7 .1l.8 .3l.7 .8l.7-1.1l.7 .8l.7-.6l.7-.1l.7 .5l.8-.8l.7 .7l.7-.4l.7 .4l.7-.1l.7-.6l.8 .1l.7 .3l.7 .2l.7 .3l.7-.2l.7 .3l.7-.3l.8-.6l.7-.1l.7 1l.7-.2l.7-.3l.7-.3l.8 .5l.7-.1l.7-.1l.7 0l.7 .2l.7-.1l.8-.6l.7-.1l.7 1.7l.7-.1l.7-.7l.7 .3l.7 .1l.8-.5l.7-.8l.7 .4l.7 1l.7-.1l.7-1l.8 .4l.7 .8l.7-.6l.7 0l.7-1.2l.7 .3l.8 .8l.7 0l.7 .3l.7-.2l.7 .2l.7-1l.7 .4l.8 .3l.7-.4l.7 .6l.7-.8l.7 .7l.7-.3l.8 .2l.7-.1l.7 0l.7-.8l.7 .3l.7 .5l.8-.2l.7-1.1l.7-.1l.7 .1l.7-2.7l.7-3.5l.7-6l.8-.9l.7 1.1l.7 2.6l.7 1.5l.7-1.3l.7 .7l.8 3.5l.7 .4l.7 1.8l.7 1.8l.7 1.6l.7 .1l.7-.2l.8 .4l.7 .4l.7-.3l.7 .6l.7-.8l.7 .1l.8-.1l.7 0l.7 .4l.7-.2l.7-.5l.7 1l.8-1l.7 .7l.7 .2l.7-.8l.7 .4l.7 .6l.7 .5l.8-1.9l.7 0l.7 .3l.7 0l.7 .4l.7-1.7l.8-1.1l.7-2.2l.7-1.9l.7-.6l.7-.4l.7 .4l.8 1.4l.7 0l.7 .8l.7-.6l.7 1.6l.7 1.6l.7 .6l.8 .5l.7 1.2l.7-.7l.7 .8l.7-.9l.7 1.1l.8-.4l.7 .1l.7 .4l.7-1.1l.7 .4l.7 .6l.8-.3l.7-.4l.7 .2l.7-1.1l.7-1.3l.7-1.3l.7-1.1l.8 .6l.7 .1l.7-1.5l.7 .2l.7 2.1l.7-.8l.8 1.2l.7 0l.7-.5l.7 .6l.7 1.5l.7 .6l.8 .1l.7 .8l.7 .1l.7-.3l.7 1.1l.7 .2l.7-.7l.8-.6l.7-.3l.7 1.5l.7-.8l.7 .2l.7 1.3l.8-.8l.7-.7l.7 .7l.7-.5l.7 .1l.7 .6l.7 0l.8-.1l.7-.3l.7-.2l.7-.6l.7 .9l.7-.4l.8-.3l.7 .5l.7 .8l.7-1l.7 .6l.7-.3l.8-.4l.7 .2l.7 .2l.7 .5l.7 .2l.7-.5l.7-.5l.8 1.3l.7-.3l.7 .3l.7-.3l.7-.6l.7-1l.8 1.2l.7 .3l.7-.6l.7 .6l.7-.3l.7-.8l.8 .3l.7 0l.7-.2l.7 .9l.7-1l.7 .8l.7 .5l.8-1.5l.7 .8l.7 .5l.7-1.7l.7-.4l.7 .7l.8-1.7l.7-2.6l.7-5.3l.7-7.5l.7-.4l.7 3.2l.7 .7l.8 1.9l.7 .4l.7 2.2l.7-.3l.7 1.9l.7 3.2l.8 1.8l.7 .7l.7 .6l.7 .7l.7 .6l.7 .3l.8-.7l.7 .5l.7-.3l.7 .4l.7 .1l.7-.2l.7 .5l.8-.2l.7 1.1l.7-1.1l.7 0l.7 0l.7 .7l.8-.7l.7 .2l.7 .4l.7 .2l.7-.5l.7 1.1l.8-.4l.7 .1l.7 .2l.7-.5l.7 0l.7-.3l.7-.1l.8 .4l.7-.4l.7 .3l.7-.5l.7 .5l.7-.8l.8 .6l.7-.3l.7 .1l.7-.5l.7 1.2l.7-1.2l.8 1.4l.7-.7l.7-.6l.7 .5l.7 1.2l.7-1.8l.7 .6l.8-.6l.7 1.4l.7-.1l.7-.6l.7 .2l.7-.4l.8 .5l.7 .6l.7-1.5l.7 .7l.7 .1l.7-.4l.8 .3l.7 .2l.7-.8l.7-.1l.7 .5l.7-.5l.7 1l.8 0l.7 .4l.7-.3l.7-.8l.7 .3l.7-.3l.8 .7l.7-.2l.7 .3l.7-.6l.7-.5l.7 .5l.7 .2l.8-.6l.7 .9l.7-.5l.7-.1l.7 .5l.7 .2l.8 0l.7 .1l.7-.9l.7 .8l.7-.9l.7 .5l.8-.3l.7 .1l.7 .5l.7-.5l.7 .4l.7 .8l.7-.5l.8-.3l.7-.5l.7 .5l.7 .2l.7-.5l.7-.5l.8 .3l.7 1.2l.7-.8l.7-.2l.7 1l.7-.9l.8-.5l.7 .2l.7 .7l.7-.6l.7-.1l.7 .5l.7 0l.8-.3l.7-.4l.7 .8l.7-.3l.7-.2l.7-.1l.8 .2l.7-.1l.7 .1l.7-.7l.7 .7l.7 .4l.7-.5l.8-.1l.7 .5l.7-.2l.7 .6l.7-1.1l.7 .7l.8-.2l.7 .2l.7-.5l.7 .5l.7-1.3l.7 .5l.8 .9l.7 .2l.7-.4l.7-.9l.7 0l.7 .8l.7 .1l.8-.3l.7-1.2l.7-1.6l.7-2.3l.7-2.4l.7 1.6l.8 .5l.7 2l.7-1.6l.7 .4l.7 .8l.7 .1l.8 .8l.7 .8l.7 1.3l.7-.3l.7 .5l.7 .7l.7 0l.8 0l.7-.3l.7 .2l.7-.3l.7 .4l.7 .2l.8 .1l.7 .1l.7-.7l.7 .7l.7-.2l.7 .4l.8-1.2l.7 .4l.7 .6l.7 .1l.7-.5l.7 .1l.7-.7l.8 1.2l.7-.3l.7-.2l.7-.4l.7 .8l.7-.4l.8 .3l.7 .2l.7 .3l.7-1.2l.7 1.4l.7-1.1l.8 .3l.7-.5l.7 .4l.7-.5l.7 .2l.7 0l.7 .3l.8 0l.7-.5l.7-.1l.7-.4l.7 1.4l.7-.9l.8 .7l.7-.8l.7-.1l.7 .9l.7 .3l.7-.4l.7 .4l.8-.1l.7-1.3l.7 .2l.7 1l.7-.2l.7 0l.8-.8l.7-.3l.7 1l.7 .2l.7-.2l.7-.8l.8 .5l.7 .4l.7 .7l.7-1.1l.7 .6l.7-.5l.7 .7l.8-.7l.7-.2l.7 .8l.7-.5l.7 .3l.7-.3l.8 .2l.7-.1l.7-.6l.7 .1l.7 .5l.7-.4l.8 .1l.7 .5l.7-.5l.7 .1l.7-.2l.7 .7l.7-.8l.8 .6l.7-.4l.7 .3l.7-.1l.7-.3l.7 .7l.8-.4l.7 .1l.7 .9l.7-1l.7 1.1l.7-1.4l.7-.3l.8 .5l.7 .7l.7 .2l.7-.7l.7-.4l.7-.2l.8 .9l.7-.5l.7-.3l.7 1.5l.7-.8l.7-.6l.8 1.4l.7-2l.7 1.3l.7-.4l.7-.1l.7 1.1l.7-1.5l.8 .8l.7-.4l.7 .2l.7-.4l.7-.7l.7 .7l.8-.1l.7 .6l.7-.9l.7 1.1l.7 .3l.7-1.2l.8 0l.7 .1l.7 1.1l.7-.3l.7-1l.7 0l.7 1.2l.8-1l.7 .2l.7-.2l.7-.3l.7 .5l.7 .5l.8 .4l.7-.8l.7 .3l.7 .1l.7-.4l.7-.7l.8 .6l.7-.1l.7-.9l.7 1.4l.7-.1l.7-.7l.7 .5l.8-.4l.7 .1l.7-.1l.7-.2l.7-1.1l.7-1.2l.8-1.1l.7-1l.7-1.3l.7-1.8l.7-1.7l.7-.1l.8 .9l.7 0l.7 1.8l.7 .4l.7 .2l.7 1.9l.7-.5l.8 2.3l.7 1.1l.7-.5l.7 .9l.7-.3l.7-.4l.8 .7l.7 .3l.7 .3l.7 0l.7 .8l.7-.5l.7 .3l.8 0l.7-.2l.7-.2l.7-.1l.7 .2l.7-.1l.8-1.3l.7-.6l.7-.3l.7-4.5l.7-9.3l.7-11.4l.8-4.9l.7 6.1l.7 8.9l.7 4.6l.7 5.4l.7 2.4l.7 0l.8-3.8l.7-4l.7 .6l.7 1.4l.7 2.9l.7 2.5l.8 1.9l.7 .8l.7 1.5l.7 .1l.7 .9l.7-.1l.8-.3l.7 .1l.7 .5l.7-.4l.7-.5l.7-.7l.7 .7l.8 .8l.7-.4l.7 .2l.7-.2l.7 .3l.7 .8l.8-.2l.7 .9l.7-1.1l.7 .4l.7 0l.7-.6l.7-.2l.8 1.1l.7-.4l.7-.2l.7-.3l.7 .2l.7 .1l.8 0l.7-.3l.7-.9l.7-.1l.7 .2l.7-.8l.8 .5l.7 .6l.7-.5l.7 .9l.7-.8l.7 .5l.7-.5l.8 1l.7 .4l.7-.8l.7 1l.7-.3l.7-.4l.8 .6l.7-.4l.7-.1l.7 1.1l.7-1.2l.7 .6l.8 0l.7 0l.7-.1l.7 .7l.7-.2l.7-.4l.7 .4l.8-.7l.7 .5l.7-.8l.7 .9l.7-.4l.7-.5l.8-.1l.7 .9l.7-.1l.7 .1l.7-.4l.7-.8l.8 .8l.7 .7l.7-1.5l.7 1.1l.7-.8l.7 .5l.7 .4l.8-.7l.7-.3l.7 .7l.7 .1l.7 .4l.7-.9l.8 0l.7 .4l.7 .7l.7-.2l.7-.2l.7-1.2l.8 1.4l.7-.3l.7 .3l.7-.5l.7 .3l.7 0l.7-.1l.8 .6l.7-1l.7-.5l.7 1.1l.7-.1l.7-.5l.8 0l.7 .7l.7 0l.7-.2l.7 .9l.7-.6l.7-.9l.8-.6l.7 1.1l.7 .4l.7-.3l.7-.1l.7 .1l.8-.6l.7-.3l.7 .6l.7-.7l.7 .9l.7-.2l.8 .4l.7-.7l.7 .6l.7-.8l.7 1.4l.7-.8l.7 .1l.8 .5l.7-.8l.7 .3l.7-.2l.7-.6l.7 .6l.8 1l.7-.4l.7-.9l.7 1l.7-.7l.7 .2l.8-.3l.7 .8l.7 0l.7 0l.7-1.5l.7 .9l.7-.2l.8-.8l.7 1.4l.7-.5l.7-.1l.7 .1l.7-.4l.8 .5l.7-.6l.7 .7l.7 .1l.7-.3l.7-.8l.7 1.3l.8-1.5l.7 1l.7 .1l.7 .2l.7-.4l.7-.3l.8 .1l.7-.4l.7-.1l.7 .6l.7-.1l.7-.4l.8-1.9l.7 .3l.7-2.4l.7-1.6l.7-1.3l.7-2.3l.7 .7l.8 .3l.7-1.2l.7 1.6l.7-.8l.7 2.7l.7 1.5l.8 .6l.7-.1l.7 1.1l.7 .4l.7 .3l.7 1.5l.8-.5l.7 .7l.7 .5l.7-.5l.7 .1l.7 1.4l.7-1.2l.8 0l.7 .1l.7 0l.7-.4l.7 .6l.7 .8l.8 0l.7-.4l.7-.2l.7-.5l.7 1.1l.7-.5l.8 .5l.7 0l.7-.6l.7-.3l.7-.2l.7-1.6l.7-1.9l.8-1.3l.7 .5l.7 1.7l.7-1l.7 2.1l.7 0l.8-1.1l.7 1l.7-.6l.7 1.6l.7-.3l.7 .6l.8 .1l.7-.1l.7 1.3l.7-.6l.7-.1l.7 .2l.7 .1l.8 .2l.7-.5l.7-.6l.7 .6l.7 .4l.7-.4l.8 .1l.7 .2l.7-.4l.7 .9l.7 .3l.7-1.5l.7 .3l.8 .3l.7 .8l.7-.7l.7 .3l.7 .2l.7-.6l.8 .1l.7 .3l.7-1l.7 1.6l.7-.8l.7 0l.8-.8l.7 1.1l.7 .9l.7-1.5l.7 1.5l.7-1.6l.7 .5l.8 0l.7 .6l.7 .3l.7-1.2l.7 1l.7-.4l.8-.2l.7 .6l.7-.5l.7 0l.7-.9l.7 .6l.8 .8l.7 .1l.7-.8l.7 .8l.7-.1l.7-.2l.7-.4l.8-.2l.7 .1l.7 .7l.7-.3l.7 0l.7-.2l.8-.3l.7 0l.7 .3l.7-.4l.7 .5l.7-.1l.7 .1l.8 .1l.7 .4l.7-.7l.7 .3l.7-.3l.7-.2l.8-.4l.7 .1l.7 .4l.7 .3l.7-.3l.7-.2l.8 1.1l.7-1l.7 0l.7 .2l.7 0l.7-.3l.7 .9l.8-.9l.7-.5l.7 1.4l.7-.6l.7 .1l.7-.2l.8-.3l.7 .8l.7-.2l.7 .5l.7-1.5l.7 .5l.8 .8l.7-.4l.7 .3l.7 0l.7-.4l.7-.6l.7 .8l.8 .1l.7-.6l.7 1.1l.7-.2l.7-.1l.7-.6l.8 .1l.7 .4l.7-1.2l.7 1.1l.7 .4l.7-1.6l.8 .6l.7 .6l.7-.2l.7 0l.7-.1l.7 0l.7 .2l.8 .3l.7-.2l.7 .3l.7-.5l.7-.7l.7 .6l.8-.2l.7 .6l.7-.6l.7 .6l.7-.9l.7 1l.8-.2l.7-.1l.7-.2l.7-.3l.7 .9l.7-.8l.7 1.3l.8-1.7l.7 .8l.7-.6l.7-.1l.7 .1l.7 .7l.8-.9l.7 .5l.7-.2l.7 1.3l.7-.6l.7-.1l.7 0l.8 .3l.7-1.2l.7-.3l.7 1.1l.7 .5l.7-1.1l.8 1.3l.7-1.3l.7 1l.7-.5l.7-.5l.7-.1l.8 .3l.7-.5l.7 1.5l.7-.8l.7 .4l.7-.2l.7 .9l.8-.6l.7-.6l.7 .3l.7 .1l.7-.1l.7 .7l.8-1.2l.7-.1l.7-.4l.7 1.2l.7-.5l.7 .2l.8-.5l.7 .9l.7-.8l.7 .3l.7 .1l.7-.4l.7 .3l.8 .6l.7-.2l.7 0l.7-.2l.7-.5l.7 .4l.8 0l.7 .2l.7-.3l.7 .5l.7-.7l.7 .1l.7 .1l.8-.3l.7 1.4l.7-1l.7 .5l.7-.3l.7 .3l.8-.3l.7-1.2l.7 1.2l.7-.6l.7 1l.7-.6l.8-.1l.7 0l.7-.5l.7-.1l.7 .5l.7-.1l.7-.3l.8 .5l.7 .2l.7-.8l.7 .3l.7-.9l.7 1.3l.8 0l.7-1.3l.7 .4l.7-1.6l.7-3l.7-4l.8-4.2l.7-2.5l.7-.7l.7-1.1"/>
<path id="cv_b7" stroke="#874b4b" d="M154.5 867.1l.7-3.5l.7 3.5l.7 3.5l.8-5.2l.7 3.9l.7-1.6l.7 4l.7-3l.7 .1l.8 4.1l.7-.3l.7-2.4l.7-2.3l.7 .7l.7 3.7l.8 .2l.7-2.9l.7 4.4l.7-.9l.7-1.6l.7 .8l.7 .6l.8-1.1l.7 2.2l.7-1.3l.7 .2l.7 1.8l.7-.7l.8-2.9l.7 2.4l.7-1.5l.7 2l.7 .5l.7-2.7l.8 3.7l.7 1.4l.7-2.1l.7-2.2l.7 1.6l.7 .8l.7 .4l.8 .2l.7-1.9l.7 .4l.7 2l.7 2.2l.7-2.7l.8-.3l.7 1l.7 1.7l.7-2.3l.7-3.4l.7 2.6l.7-.2l.8-.4l.7-.4l.7 .7l.7 4.7l.7-2.1l.7-.6l.8-2.2l.7 1.4l.7 1.2l.7-.7l.7 0l.7 2.8l.8-.3l.7-1.2l.7-3l.7 2.5l.7-1.7l.7 .7l.7 .8l.8 .8l.7 1l.7-4.4l.7 4.2l.7-1.9l.7 .9l.8-1.2l.7 3.7l.7-2.2l.7 1.2l.7-2.3l.7 2.7l.8-1.1l.7-1.4l.7 1l.7-.6l.7-.2l.7 3.2l.7-1.5l.8-.9l.7-1.6l.7 3.7l.7-1.5l.7-.3l.7-.6l.8 3.3l.7-.4l.7-2.1l.7-.2l.7 .2l.7 .4l.7 .3l.8-1.9l.7 1.1l.7 1l.7 1.5l.7-.6l.7-.5l.8-1.3l.7 1.7l.7 .7l.7 .2l.7 .6l.7-2.2l.8-.4l.7 2.4l.7-2.1l.7 1.6l.7-.8l.7-2l.7 2.1l.8-.3l.7-.1l.7-.1l.7-1.1l.7 1l.7 .2l.8 2l.7-1.6l.7 .7l.7 2l.7-4.7l.7 4l.8-1.1l.7-.7l.7-1.1l.7 3.1l.7-.9l.7-.8l.7-1l.8 2.9l.7 .8l.7-3.2l.7 1.2l.7 .6l.7 .7l.8-1.6l.7 3.3l.7-2.7l.7-.3l.7-.6l.7-.4l.8 2.5l.7-.8l.7-1.1l.7-.2l.7 2.6l.7 .3l.7-.7l.8-.5l.7-.9l.7 2.1l.7 .4l.7-1.4l.7-.5l.8 2.5l.7-3.1l.7 1.6l.7 2.2l.7-2.5l.7-.3l.8-2.6l.7 1.7l.7 1l.7 2.7l.7-4l.7 4.3l.7-2.6l.8-.3l.7 .9l.7-2.1l.7 2.3l.7 1.4l.7-4.5l.8 1.4l.7-.5l.7 1.9l.7 0l.7 2.2l.7-3.7l.7 2.9l.8-2.1l.7 1.3l.7-.7l.7 1l.7-1.9l.7 2.4l.8-.3l.7-2.9l.7 1.4l.7 .9l.7-1.8l.7 0l.8 .7l.7 1.3l.7 .2l.7-1.7l.7 1.9l.7-3.1l.7 5.2l.8-3.1l.7 2.4l.7-2.3l.7 .1l.7 1.1l.7-.1l.8-2.3l.7 1.3l.7 .5l.7-.3l.7 .1l.7-.2l.8 .2l.7 1.1l.7-.7l.7-.2l.7-.6l.7 2.5l.7-1.8l.8 2.3l.7-2.2l.7-.8l.7 .9l.7-.1l.7 .1l.8 .3l.7 0l.7 1.6l.7-2.5l.7-.1l.7 0l.7 2.7l.8-1.7l.7 .5l.7 1.5l.7-1.5l.7-1.7l.7 2.2l.8 .8l.7 1.3l.7-.8l.7-1.6l.7 .1l.7 0l.8-.6l.7 2.2l.7-1.9l.7-.2l.7-1l.7-.4l.7 1.6l.8 1l.7-1.7l.7 .5l.7-.9l.7 .3l.7 .3l.8 2.1l.7 1.5l.7-1.1l.7-1.1l.7-.9l.7 2l.8-2.4l.7-.5l.7 3l.7-2.8l.7 2.7l.7-1.2l.7 1.1l.8-2.9l.7 2.6l.7-.1l.7 .3l.7-2.3l.7 1.1l.8-1.4l.7 3.5l.7-1.7l.7-.1l.7 1.3l.7-1.6l.8 .7l.7-.5l.7 1.2l.7-3.1l.7 3.7l.7-1.1l.7-1.3l.8 2.5l.7 1.2l.7-3.3l.7 1l.7 0l.7 .7l.8-2.4l.7 1.7l.7-.8l.7 1.2l.7-1.3l.7 .5l.8-.1l.7 0l.7 .7l.7 .1l.7-1.6l.7 .9l.7 .5l.8 1l.7 .8l.7-1.8l.7 .7l.7 1.2l.7-.7l.8-1.1l.7 0l.7-.7l.7 3l.7-1.4l.7-.8l.7 .1l.8 1.8l.7-.4l.7 0l.7 0l.7-1.6l.7-.1l.8 1.1l.7-.9l.7 .8l.7-.6l.7 .2l.7 1.3l.8-1.8l.7 .1l.7 2.4l.7-3.2l.7 1.8l.7-.3l.7-.5l.8 2.3l.7-2.5l.7-1.6l.7 3.6l.7 .9l.7-3.8l.8 2l.7-.2l.7 .1l.7 .7l.7-.5l.7 .1l.8-2.3l.7 .4l.7 2.3l.7-.6l.7 .3l.7 .4l.7-2.6l.8-.1l.7 1l.7 1.5l.7-.5l.7-1.4l.7 1l.8 .3l.7-.4l.7 .3l.7 1.5l.7-1.4l.7 .2l.7-.8l.8 2.5l.7-1.3l.7-.6l.7 .2l.7 .9l.7-1.8l.8 2.1l.7-2.6l.7 0l.7 .5l.7-.8l.7 2.1l.8-.7l.7 .6l.7 1.2l.7-2.5l.7 1.9l.7-1.3l.7 1.4l.8 .2l.7-1.4l.7 1.1l.7-1.1l.7 1.9l.7-2.3l.8 1l.7-1.8l.7 .8l.7 1.3l.7 .1l.7 0l.8 1.8l.7-1.5l.7-2l.7 1.2l.7 .8l.7-1.6l.7-.4l.8 2.7l.7-1.3l.7-2.2l.7 1.9l.7 .6l.7 0l.8 0l.7 0l.7-1l.7 .3l.7 .8l.7-.7l.8 1.5l.7-2.1l.7 1l.7 .4l.7-.1l.7-.1l.7-.6l.8-.2l.7-.9l.7 1l.7 1l.7 1.1l.7-2.7l.8-.4l.7 3.8l.7-3.5l.7 2.8l.7-.5l.7 0l.8-1.4l.7 .6l.7 .2l.7-1.3l.7 2.4l.7-3.6l.7 1.6l.8-.5l.7 .9l.7 .9l.7-1.6l.7 1.4l.7-2.1l.8 3.3l.7-2l.7 1.3l.7-.9l.7-.1l.7 .5l.7-.3l.8 .6l.7 1.2l.7-3.4l.7-.2l.7 2.7l.7-2.8l.8 3.4l.7-.5l.7 .1l.7 0l.7-1.4l.7 .4l.8-.6l.7 1.5l.7 .7l.7-2.3l.7-2.1l.7-.9l.7-3.9l.8 3.5l.7 2.9l.7 .2l.7 .9l.7 .9l.7 0l.8-.3l.7-.5l.7 1.3l.7-2l.7 .6l.7 .9l.8 0l.7 .5l.7-2.4l.7 .3l.7 1.3l.7-1.7l.7 2.2l.8-.3l.7 .3l.7-1.5l.7 .8l.7-.5l.7-1l.8 .7l.7 1.6l.7-1l.7-.4l.7 .4l.7 1.6l.7-1.7l.8 .4l.7 .4l.7-2.4l.7 1.2l.7 .2l.7 1l.8-.7l.7 .1l.7-1.1l.7-.1l.7 2.6l.7-1.1l.8 1.2l.7-2.3l.7 1.1l.7 .7l.7-1.2l.7 .3l.7-1.4l.8-.6l.7 1l.7-.6l.7 .2l.7 1.5l.7-.3l.8 1.2l.7 .3l.7-.4l.7-.4l.7-.6l.7 .9l.8-2l.7 .5l.7 1.9l.7-1.3l.7 1.1l.7-.4l.7-.2l.8 .6l.7-.8l.7-.7l.7 .4l.7 1l.7-1.7l.8 2.5l.7-1.5l.7 .4l.7 .5l.7 .3l.7-2l.8 1l.7-1.1l.7 1.2l.7 .2l.7-.1l.7-.3l.7-.4l.8 .3l.7-1.9l.7 2.1l.7 .1l.7 .5l.7 .2l.8-.9l.7 .3l.7-.1l.7 .6l.7-.8l.7 1.7l.8-.3l.7-2.1l.7 .2l.7-.3l.7 .7l.7-.3l.7 .8l.8 0l.7-.4l.7-.6l.7 .2l.7 1.8l.7-1.4l.8 .6l.7-.7l.7 1.8l.7-1.9l.7-.3l.7 .1l.7 .9l.8-1.3l.7-1l.7 3.2l.7 .6l.7-.1l.7-2.1l.8 1.2l.7 0l.7 .3l.7-1.1l.7-.1l.7 .6l.8-.8l.7-.6l.7 1.6l.7 1.6l.7-2.6l.7 .4l.7-1.6l.8 3l.7-.4l.7-1.8l.7 .7l.7-1.5l.7 2.3l.8-.8l.7 1.2l.7-.6l.7 .2l.7-1.1l.7 .3l.8 1.9l.7-2.8l.7-.3l.7 2.9l.7-1.6l.7 .8l.7-.4l.8 .1l.7-1.6l.7 .6l.7 .3l.7-.2l.7 .7l.8-.2l.7-1.7l.7 2.8l.7-2.7l.7 2.3l.7-.9l.7 .7l.8 .8l.7-2l.7 .6l.7 .1l.7-1.5l.7 0l.8 1.7l.7 .4l.7-.9l.7-1.8l.7 2.3l.7 1l.8-1.4l.7-.1l.7 0l.7 .1l.7-1.6l.7 1.1l.7 0l.8-.2l.7 .5l.7 1.5l.7-.8l.7-.1l.7-1.2l.8 1.4l.7-.3l.7-.4l.7 .8l.7-.5l.7 .6l.8-2.2l.7 1.1l.7 1.2l.7 .9l.7-1.4l.7-.3l.7 0l.8 .4l.7 1.4l.7-1.6l.7-1l.7 .1l.7 .6l.8 1.3l.7-1.6l.7-.8l.7 1.7l.7-.9l.7-.4l.8 2.4l.7-.6l.7 1.5l.7-.5l.7-.9l.7-1.1l.7 .7l.8-1.3l.7 1.4l.7 .1l.7-1.1l.7 .1l.7-.7l.8 1l.7 0l.7 2.1l.7-2.4l.7 2.6l.7-2.8l.8 .2l.7-.1l.7 .7l.7-1.6l.7 2.5l.7-.1l.7-1.4l.8 .4l.7 1.4l.7-1.3l.7 .8l.7-.8l.7 .3l.8-.9l.7 .6l.7 .8l.7-.4l.7-1.7l.7 2.5l.7-1.7l.8-1l.7 1.6l.7 .2l.7 1.4l.7-.9l.7-.9l.8-.3l.7 .5l.7-.1l.7 0l.7 .1l.7-.2l.8 .6l.7-1.3l.7 .1l.7 .7l.7 .8l.7-1.4l.7 .1l.8-.1l.7 .9l.7 0l.7-.2l.7-2.7l.7 1.1l.8 .8l.7-.7l.7-1.3l.7 1.7l.7-3.4l.7 2l.8-2.2l.7 1.9l.7-1.6l.7 .8l.7-2l.7 .3l.7 1.2l.8 1.8l.7-1.8l.7 .9l.7-.2l.7-.3l.7 1.1l.8 1.3l.7-2.1l.7 1.5l.7-1.2l.7-.2l.7 1.1l.8 .4l.7 .5l.7-1.4l.7 1.5l.7 .6l.7-1.5l.7 .3l.8-1.6l.7 1.5l.7 .5l.7 0l.7-1l.7 1.5l.8-.4l.7-1.1l.7 .1l.7 .4l.7 0l.7 1.2l.7-.5l.8 .6l.7-2l.7 2.1l.7-2.7l.7 1.5l.7-.4l.8 .5l.7-1.5l.7-.5l.7 .7l.7-1.7l.7-.2l.8-3.7l.7-3.2l.7-9.5l.7-13.3l.7-13.1l.7-22l.7-9.9l.8 10.1l.7 17l.7 19.9l.7 13.5l.7 5.7l.7 5.4l.8 2.3l.7 .5l.7 .8l.7 .2l.7 2.7l.7-2.1l.8 3.2l.7 .6l.7-1.1l.7 .9l.7-1.7l.7-.8l.7 1.6l.8 .8l.7-2.6l.7 1.7l.7-.6l.7 2.9l.7-2.9l.8 1.5l.7 .1l.7 1.4l.7-1.4l.7-.8l.7 2.1l.8-1.7l.7-.6l.7-1.6l.7 3.8l.7-1l.7-1.5l.7 1.3l.8 .3l.7-.9l.7 2.3l.7-2.2l.7-.2l.7-.7l.8 1.1l.7 .3l.7-1.8l.7 .5l.7-1l.7 2.7l.7-.4l.8-2.5l.7-1l.7 .4l.7-3.5l.7-1.8l.7 .1l.8-3.8l.7 1l.7 1.2l.7 3.8l.7 1.1l.7 3.3l.8-.5l.7 2.2l.7 .5l.7-.4l.7 1.4l.7-3.2l.7 1.3l.8-1.3l.7 1.2l.7-.9l.7 .6l.7-.5l.7 0l.8 2.5l.7-1.7l.7-.2l.7 1.3l.7-.2l.7-.5l.8 .3l.7 1l.7-.6l.7-1l.7 .6l.7-.6l.7 1.1l.8-1.3l.7 .2l.7 1.5l.7-2.4l.7 .9l.7-.6l.8 2.5l.7-1.5l.7-.6l.7-.1l.7-.7l.7 .9l.7-.6l.8 1l.7-.8l.7-.1l.7 1l.7-1.9l.7 2.2l.8-.9l.7-.4l.7 .7l.7-.4l.7-.1l.7 .6l.8 1.1l.7-.8l.7 .8l.7-1.3l.7-.6l.7 .6l.7 1.3l.8-1.8l.7-.1l.7 1.6l.7 .1l.7-1.2l.7-.6l.8 .9l.7-.1l.7-2.1l.7-3.4l.7-2.3l.7-.5l.8 .1l.7 .9l.7 2.7l.7 .3l.7 1.8l.7 .8l.7 1.1l.8-.7l.7-.8l.7 .9l.7 1.9l.7-2l.7 .8l.8 2.3l.7-.6l.7 .5l.7-3.5l.7 2.4l.7-.3l.8-.4l.7-1.6l.7 1.5l.7-2.1l.7 2.6l.7-3.9l.7-.1l.8-.8l.7-1.4l.7-1.1l.7-6.1l.7-1.2l.7-1.3l.8-4.6l.7 .5l.7-.5l.7 4.3l.7 1.7l.7 1.9l.8 3.2l.7 1.9l.7 3.9l.7 .4l.7-.4l.7 .7l.7 1.6l.8 .2l.7 0l.7-.1l.7-.7l.7 2.8l.7-.7l.8-1.7l.7-.5l.7 1.3l.7 .1l.7-.1l.7 .6l.7-.1l.8 .1l.7-1.7l.7-.6l.7 2l.7 .7l.7-1.3l.8 1l.7-1.9l.7 2.1l.7-.7l.7-1l.7-.6l.8 2.6l.7-.3l.7-1.4l.7 1.7l.7-1.9l.7 1.5l.7-2.3l.8 1l.7-.1l.7 1.3l.7-.6l.7-.3l.7 .4l.8 1.2l.7-.8l.7 .8l.7 .7l.7-1.9l.7-1.1l.8-.4l.7 .4l.7-1l.7 .1l.7-.8l.7 1.1l.7 .3l.8 .3l.7 1l.7 0l.7-1l.7 .2l.7 1.1l.8 1.4l.7-.5l.7-1.4l.7-.3l.7 2.1l.7 .6l.7-2l.8-1.7l.7 .2l.7 1.8l.7 0l.7-1.3l.7 .8l.8-.7l.7 .6l.7 .3l.7 1.6l.7-.7l.7-.8l.8 1.4l.7-1.7l.7-.6l.7 1.4l.7-.8l.7 .4l.7-1.7l.8-.1l.7 .3l.7-1.1l.7-.7l.7 2.3l.7-2.8l.8 1.7l.7 0l.7-.8l.7 .3l.7-3.6l.7 1l.8-1.4l.7-.2l.7 .1l.7-2.7l.7-1.9l.7-1.2l.7-2.5l.8-5.9l.7-8l.7-5.8l.7-11.1l.7-24.3l.7-41.2l.8-77l.7-118.7l.7-75.2l.7 80.3l.7 116.1l.7 71.1l.8 44.9l.7 21.7l.7 10.1l.7 10.7l.7 5.5l.7 4.2l.7 2.6l.8 5.7l.7 1.4l.7-.4l.7 3.1l.7-1.6l.7 2.6l.8 .4l.7 1.5l.7 .1l.7-1.3l.7 1.9l.7 .7l.8-.3l.7 .3l.7-1l.7 .9l.7 .7l.7-1.6l.7 1.7l.8 1.8l.7-1.9l.7 .2l.7 0l.7-.7l.7 2.7l.8-.6l.7-2.9l.7 2.1l.7 1.3l.7-2.5l.7 2.5l.7 .2l.8-.9l.7-1.4l.7 2.5l.7-1.2l.7-2.4l.7 .8l.8 .5l.7 .9l.7-4.7l.7-1.6l.7-1.9l.7 2.4l.8-2.8l.7 2.1l.7 .8l.7 2.7l.7-1.7l.7-2.1l.7-.1l.8-5.7l.7-11.3l.7-15.6l.7 0l.7 4l.7 4.8l.8 7.4l.7 6.8l.7-.2l.7 4.4l.7-.2l.7 2.7l.8-1.6l.7-3.1l.7-.3l.7-1.4l.7-.9l.7 3.9l.7-4l.8 4.1l.7 .4l.7 4l.7 1.4l.7-.6l.7 2l.8-.4l.7 2.9l.7 1.2l.7-1.1l.7 2.5l.7 1l.7 .2l.8-.3l.7 .1l.7 1.1l.7-1.9l.7 3.2l.7 .4l.8-1.7l.7-1.2l.7 1.4l.7-.4l.7-.1l.7 .6l.8-.7l.7 .4l.7 1l.7-.4l.7-1.2l.7-.4l.7 1.9l.8 .1l.7-1.4l.7 .1l.7 1l.7 .1l.7-.2l.8 1l.7-2.2l.7 .9l.7 1.1l.7-.1l.7-1.7l.8 0l.7 1.6l.7 .2l.7 .4l.7-.8l.7 0l.7 .2l.8 0l.7-.5l.7 1.6l.7-.6l.7-.8l.7-.9l.8 .7l.7 .3l.7-.8l.7 1.3l.7-.2l.7-1.5l.8 .6l.7-.1l.7 .9l.7 .2l.7-1.2l.7 .8l.7-.9l.8 .7l.7-1.2l.7 .8l.7 .1l.7-.3l.7-.1l.8 1.3l.7-.7l.7 .7l.7-1.2l.7 1l.7-1l.8 0l.7 .7l.7-2.1l.7 2.1l.7-1.6l.7-1.3l.7 1l.8-1.8l.7 .3l.7 .1l.7 .3l.7 .9l.7-1.4l.8 3l.7-2.2l.7 .3l.7 2l.7 0l.7-1.1l.7 2.5l.8-1.4l.7-.6l.7 1.4l.7-1.4l.7-.1l.7-2.2l.8 0l.7-.6l.7-2.5l.7 1.2l.7-.2l.7 2.3l.8-1.4l.7 1.1l.7 2l.7 1l.7-1l.7 2.2l.7-1.9l.8 1.5l.7-.3l.7 .3l.7 .4l.7-1.3l.7-.9l.8 3.4l.7-1.7l.7 1.4l.7-.5l.7-1.1l.7-.5l.8 .2l.7 1.2l.7-.6l.7 .5l.7-.5l.7-.4l.7 .2l.8 .7l.7-1l.7 .3l.7-1l.7 .3l.7 .5l.8 .6l.7-.7l.7-.9l.7 1.2l.7-.6l.7 .3l.7 1.8l.8-.9l.7-.6l.7-1l.7 1.3l.7-1.5l.7 1.1l.8 .4l.7-.2l.7 .6l.7-1l.7 .1l.7 .2l.8 1.8l.7-1.2l.7-.4l.7-.4l.7 .1l.7 1.2l.7-.3l.8-.8l.7-.8l.7 .9l.7 .5l.7-.6l.7 .8l.8-.9l.7-.2l.7 1.2l.7-1.6l.7-.3l.7-.6l.8 3.5l.7-.7l.7-1.8l.7 1l.7-.5l.7-.4l.7 1.6l.8-1.5l.7 .1l.7 .6l.7 .7l.7 .1l.7-.4l.8 0l.7-1.3l.7 .3l.7-.1l.7 1.5l.7-.9l.8 .1l.7 1l.7-2.5l.7 .8l.7 .4l.7 .4l.7 .1l.8-1.7l.7 .4l.7 1.2l.7-1.1l.7 1.7l.7 .1l.8-1.7l.7-.5l.7 1l.7-.1l.7 .5l.7-.8l.8 .4l.7 1.2l.7 .7l.7-1.5l.7 .6l.7 .8l.7-3l.8 2.6l.7-1.8l.7-.4l.7 .6l.7-.3l.7 .9l.8 .2l.7-2.2l.7 1.2l.7-3l.7-.4l.7-4.2l.7-3.7l.8-9.8l.7-7.2l.7-4.1l.7-1.8l.7-1.1l.7-2.1l.8 4.5l.7 6.7l.7 5.1l.7 3.2l.7 5.1l.7-.5l.8 5l.7 1.7l.7 3.1l.7 1l.7-1.3l.7 3.2l.7 .1l.8 0l.7 .7l.7-2.9l.7 2.2l.7 .4l.7-1.1l.8 1.1l.7-1.4l.7 1.7l.7 .4l.7 0l.7-.4l.8-.7l.7-.4l.7 .3l.7-.4l.7 2.1l.7 .1l.7-2.4l.8 1.4l.7-1.3l.7 .5l.7 1l.7 1l.7-.7l.8 1.3l.7-1.2l.7 .1l.7-2.3l.7 2.4l.7-1.1l.7 .9l.8-.3l.7 1.1l.7-1.2l.7 .1l.7 0l.7 .9l.8-.7l.7 1.5l.7-.9l.7-.5l.7-.6l.7-.2l.8 .4l.7 2l.7-1.4l.7-.1l.7-1.3l.7 .6l.7 1.1l.8-1.7l.7 2l.7-.8l.7-.3l.7-1.2l.7 .9l.8-.1l.7 1.1l.7 .8l.7-3.3l.7 1.2l.7-.4l.8 1.7l.7-1.6l.7-.4l.7 1.5l.7-.2l.7-.8l.7 .2l.8-.4l.7-.8l.7 1.8l.7-2.1l.7-.5l.7 .5l.8-.5l.7 .3l.7 1.2l.7-2l.7 .9l.7-.7l.8 1.3l.7 1.6l.7-1l.7 .3l.7 .5l.7-1.9l.7 .3l.8 1.6l.7 .4l.7-.7l.7 .3l.7-2.3l.7 3.3l.8-1.8l.7-.1l.7 2l.7-1.7l.7-2.2l.7 .9l.8-1.5l.7-2.3l.7 0l.7-7.3l.7-3l.7-7.8l.7 .5l.8-.4l.7 2.1l.7-1.9l.7-.7l.7 5.6l.7 3.1l.8 4l.7 .9l.7 2l.7 .9l.7 2.1l.7 1.6l.7 2.3l.8-2.7l.7 1.2l.7 2.6l.7-1.1l.7-.3l.7 1.8l.8 0l.7-.3l.7-.6l.7 1.4l.7-.1l.7 .7l.8-.8l.7 1l.7-2.2l.7 .6l.7 .4l.7-.8l.7 1l.8-.9l.7 1.1l.7-.1l.7-.4l.7-.2l.7-.1l.8-.5l.7 1.2l.7-1.3l.7 0l.7-2l.7-4l.8-5.7l.7-3.8l.7 .1l.7 2.7l.7 2.8l.7-3.4l.7 3.7l.8 .9l.7 2.2l.7 2.2l.7 3.6l.7-.1l.7-.2l.8 1.1l.7-.2l.7 1l.7-1.8l.7 2.6l.7-.6l.7 .6l.8-1.4l.7 1.6l.7-1.4l.7 1.5l.7-1.9l.7 1l.8-.3l.7 1.1l.7-1.2l.7-1.2l.7 .5l.7 1.9l.8 .1l.7-1.7l.7-.4l.7 1l.7-.2l.7 .8l.7 1.1l.8-1l.7-.3l.7-1l.7 1.1l.7-.1l.7-1.3l.8 2.3l.7-1.6l.7 1.1l.7 .4l.7-1.2l.7 1.2l.8-1.2l.7 2.3l.7-2.6l.7 .9l.7-.4l.7-1.2l.7 1l.8-.4l.7 1.8l.7-2.7l.7 2.6l.7 .2l.7-.6l.8-.7l.7-.2l.7 1.1l.7-2.4l.7 1.9l.7 .2l.8-.9l.7 1l.7-.3l.7 .3l.7 1.2l.7-.2l.7-1.4l.8 1l.7-2.2l.7 .2l.7 0l.7 .8l.7-.7l.8 1.1l.7-.8l.7 1l.7-.5l.7-.3l.7-.4l.7-.2l.8 .7l.7 1.6l.7-1.1l.7-.1l.7-.6l.7 1.2l.8-1.6l.7 1.2l.7-.7l.7-.2l.7-.5l.7 1.5l.8-1l.7 .4l.7 .1l.7-.1l.7-.3l.7 .6l.7-.9l.8 1.5l.7-1l.7 0l.7 1.1l.7-1.2l.7-.6l.8 .7l.7-.4l.7 1.4l.7-.2l.7 .2l.7-1.9l.8 .1l.7 1.1l.7 1.2l.7-1l.7 .6l.7-1.2l.7 1.6l.8-2l.7 1.9l.7-1.4l.7 1.2l.7-.5l.7-1.5l.8 2.5l.7-.7l.7-.6l.7-.7l.7 .4l.7-1.6l.8 3l.7-1.9l.7 .4l.7 .7l.7-4.7l.7-4.5l.7-6.2l.8 2.4l.7-.2l.7 2.6l.7 .9l.7 .2l.7 2l.8 1l.7 .5l.7 .2l.7 2l.7 1.7l.7 .2l.7-.1l.8 1.2l.7 .2l.7 .5l.7-.7l.7-.8l.7 1.1l.8 .3l.7 .2l.7-.1l.7-.2l.7 0l.7 0l.8 .8l.7-.4l.7-.4l.7-1.1l.7 .8l.7-.2l.7-.9l.8 1.4l.7 .4l.7-1.5l.7 .5l.7 .1l.7 .6l.8-2.1l.7-.6l.7-2.8l.7-2l.7 3.5l.7-3.4l.8 2.4l.7-2.7l.7 .9l.7 2.7l.7-.7l.7 2.2l.7 .6l.8-.4l.7-.4l.7 2.2l.7-.5l.7-.4l.7 1.2l.8-1.2l.7 1.1l.7 .1l.7-2.3l.7 3.7l.7-3.4l.8 2.1l.7-2.1l.7 0l.7 .4l.7-2.2l.7 .7l.7-2.7l.8-1l.7 .5l.7-.6l.7-.8l.7 2.5l.7-1l.8 3.5l.7-.2l.7-.9l.7 2.9l.7-.6l.7 .6l.8-.1l.7-.6l.7 1l.7-.2l.7 .6l.7 1.1l.7-1.1l.8 .1l.7 .7l.7-2.1l.7-.1l.7 1.7l.7 .1l.8-.6l.7 .7l.7-2.1l.7 1.9l.7-.1l.7-.2l.7 1.6l.8-1.2l.7-1.3l.7 .7l.7 .9l.7-1.2l.7 .3l.8-1.3l.7 .8l.7 1.7l.7-.8l.7 .7l.7-2l.8 1.5l.7 .2l.7-.2l.7 .7l.7-2.3l.7 2.2l.7-1.7l.8 1.8l.7 .3l.7-2.8l.7 1.5l.7 .5l.7-1l.8 .3l.7 .2l.7-.2l.7-.7l.7 .8l.7 .8l.8-.9l.7 1l.7-.6l.7-1.3l.7 2.8l.7-.9l.7-.1l.8-1.4l.7 .2l.7 2.3l.7-2.7l.7 .5l.7 .3l.8-1.5l.7-.9l.7-4.4l.7-4.4l.7 2.8l.7-1.5l.7 1.9l.8 2.1l.7-.3l.7 1.4l.7-1.5l.7 2.2l.7 1.1l.8 2l.7-1.5l.7 2.1l.7-1.4l.7 2l.7-.1l.8-1.8l.7 2.2l.7-1.5l.7 1.8l.7-.6l.7 .6l.7-1.7l.8 1.4l.7-.6l.7 1l.7-.6l.7-.9l.7-.3l.8 1.6l.7-.8l.7 .3l.7 .1l.7-.6l.7-1.1l.8 2.7l.7 .5l.7-1.2l.7 .2l.7-.2l.7 .7l.7-1.5l.8 .3l.7 1.4l.7-1.7l.7 1.9l.7-2.2l.7 .3l.8-1.1l.7 1.5l.7 .9l.7-.6l.7-1.8l.7 1.7l.8 1l.7 0l.7-2l.7 0l.7 1.7l.7-.7l.7-.6l.8 .4l.7-.5l.7 .8l.7-1.4l.7 1.5l.7-.1l.8-.8l.7-.4l.7 1.8l.7 .3l.7-1.5l.7-.4l.8 1.4l.7 1.1l.7-1.3l.7 .6l.7-.3l.7-2.1l.7 1.6l.8-.2l.7 .1l.7 .1l.7 .7l.7-1.1l.7 1.5l.8-.6l.7-1.3l.7 1.9l.7-.6l.7-.6l.7 .3l.7-.3l.8 0l.7 .6l.7 .7l.7-1.8l.7-.5l.7 .7l.8 .8l.7-1.6l.7 1.2l.7-.5l.7 .3l.7 .4l.8 1l.7-2.2l.7 .2l.7 1.6l.7-.8l.7-.3l.7 1.7l.8-3.1l.7 .8l.7 .5l.7 1.9l.7-1.2l.7-1.4l.8 2.6l.7-2.5l.7 2.9l.7-2.3l.7-.1l.7 1.7l.8-.2l.7 .3l.7-.9l.7 .4l.7-.7l.7 0l.7-.9l.8 .6l.7 .8l.7-.5l.7 1.7l.7-2.1l.7 .7l.8 .4l.7-.8l.7 .5l.7-.3l.7 .1l.7-.5l.7 .8l.8 0l.7-.5l.7 .8l.7-1.2l.7-1.3l.7 1.5l.8 .9l.7-1.9l.7 2.4l.7-1.7l.7 0l.7 .3l.8-.1l.7 .9l.7 0l.7-.5l.7 .2l.7-.5l.7-.6l.8 .9l.7-.2l.7-4.8l.7-1.3l.7-1.9l.7 2.9l.8-2.1l.7 3l.7-.7l.7-.4l.7 1.2l.7-.4l.8 1.3l.7 .9l.7 .8l.7 1.3l.7 .2l.7-1.5l.7 2.4l.8-1.3l.7-.1l.7-1.1l.7 1.1l.7 .8l.7-.8l.8 1.7l.7-.9l.7-.3l.7 .5l.7-.9l.7-.6l.8 1l.7-.7l.7 1l.7-.3l.7-.3l.7-.1l.7 .8l.8 .8l.7-.9l.7 1.2l.7-1.1l.7 .2l.7-.7l.8 .8l.7-.6l.7 .2l.7 .4l.7-.9l.7 .1l.8 1l.7-.2l.7-.1l.7-2.1l.7 2.1l.7-.6l.7-1.3l.8 .5l.7 2l.7-2l.7 .8l.7-.8l.7 0l.8 1.8l.7 .1l.7-1.3l.7 .5l.7-.4l.7 .5l.7 1.6l.8-1.1l.7 0l.7 .1l.7-.5l.7-2l.7 1.5l.8-.4l.7-.3l.7 .3l.7 .8l.7 .9l.7-2.6l.8 .5l.7 1.1l.7-.8l.7-.6l.7 .5l.7 1.4l.7-.5l.8-.6l.7 .6l.7-1.3l.7 2l.7-1.7l.7 .6l.8 .5l.7-.2l.7-.4l.7-.4l.7 1.4l.7 .7l.8-.6l.7-.2l.7 .3l.7-.8l.7 .2l.7 0l.7 .3l.8 0l.7-1.4l.7 1.5l.7-1.5l.7 .8l.7-.2l.8-.9l.7 1.5l.7-.4l.7 1.8l.7-.6l.7-1.6l.7 .6l.8 .3l.7 0l.7-1.3l.7 1.8l.7-2.1l.7 .7l.8 .5l.7 .8l.7-.7l.7-.8l.7 1.1l.7 .2l.8 .9l.7-.5l.7-.9l.7-.1l.7 1.2l.7-.8l.7-.2l.8-.4l.7 1.6l.7-1l.7 .5l.7 .3l.7-.9l.8 .1l.7-.3l.7 .4l.7 0l.7 .3l.7-.6l.8-.1l.7 .5l.7 .3l.7-.8l.7 1.6l.7-1.4l.7-.2l.8 .7l.7-.6l.7-.6l.7 .7l.7 1.1l.7 .1l.8 .1l.7-1.7l.7 1.2l.7-1l.7 1.1l.7-1.1l.8-.1l.7-.2l.7 1l.7-.3l.7-.2l.7 .4l.7 .4l.8 .4l.7-1.6l.7 1.4l.7-2l.7 .2l.7 .6l.8-1.4l.7-3.7l.7 1.5l.7-3.9l.7-.3l.7-.5l.8 2.1l.7-.5l.7-.6l.7 .6l.7 1.2l.7 1.4l.7 .7l.8 .5l.7 1.7l.7-.6l.7-.8l.7 .7l.7 .9l.8-.1l.7-.5l.7 2.2l.7-.9l.7-.6l.7 .3l.7 .7l.8-2.4l.7 1.8l.7-.5l.7 1.5l.7-.5l.7-.8l.8-.8l.7-.1l.7-1.6l.7-2.6l.7-7.5l.7-9.1l.8-3.9l.7 3.3l.7 6.7l.7 7.7l.7 .6l.7 5.5l.7-1.9l.8-5l.7-2.8l.7 1.1l.7 .8l.7 2.8l.7 2l.8 1l.7 1.8l.7 1.9l.7 .8l.7-1.2l.7 .9l.8 .5l.7-1.2l.7 .7l.7-.6l.7 0l.7 .3l.7-1.8l.8 1.4l.7 .8l.7-.8l.7-.2l.7 .6l.7 1.8l.8-2.3l.7 2.2l.7-1.5l.7-1l.7 .9l.7 .5l.7-.2l.8 .8l.7 .2l.7-2l.7 1.1l.7-.7l.7-.4l.8 1.7l.7-1.8l.7 .8l.7-.7l.7-1.8l.7 .6l.8 1.2l.7 .1l.7-1.6l.7 1.9l.7 .3l.7-.1l.7 .7l.8-.8l.7 1.1l.7 .2l.7-1.8l.7 .6l.7-.2l.8 1.1l.7-.5l.7-.3l.7 .1l.7 .4l.7 0l.8 1.1l.7-1.1l.7-.9l.7 .6l.7 .6l.7-.2l.7-.3l.8-.8l.7 .8l.7 1.7l.7-1.4l.7 .9l.7-1.2l.8-.4l.7 1.6l.7-.7l.7-.5l.7 1.4l.7-1.2l.8-.7l.7 .3l.7 .3l.7 .6l.7-2.1l.7 3l.7-2.1l.8 .7l.7 .1l.7-.1l.7 .9l.7-.8l.7-.2l.8-.4l.7 .6l.7 1.2l.7 .6l.7-2.8l.7 1.4l.8 .1l.7 .2l.7-.8l.7 1l.7-1.1l.7 1.3l.7-2.1l.8-.3l.7 1.1l.7 .4l.7-.5l.7-.1l.7 1.3l.8-.4l.7-1.9l.7 1.5l.7-.3l.7 1.2l.7-.6l.7-.4l.8-.3l.7-.5l.7 .8l.7 1.5l.7-1.1l.7 .2l.8-.7l.7 1.3l.7-1l.7 .1l.7-.3l.7-.2l.8 .7l.7-1l.7-.2l.7 1.1l.7-.1l.7-.3l.7 .2l.8-.2l.7 1.1l.7-2.3l.7 .3l.7 .8l.7 .1l.8 1.1l.7-2.2l.7 2.4l.7-1.6l.7 .7l.7-.6l.8 .7l.7-.5l.7-.6l.7 .5l.7-.4l.7 .6l.7-.2l.8 .8l.7 .3l.7-.3l.7-.4l.7 .2l.7 .6l.8-.9l.7 .6l.7-2.3l.7 1.4l.7 .5l.7-.6l.7 .1l.8-.6l.7 .7l.7 0l.7 1.1l.7-1.6l.7-1.1l.8 1.7l.7-1.2l.7 1.1l.7 .2l.7-1.3l.7 .1l.8-1.2l.7-1.3l.7-2.8l.7-.7l.7-2.9l.7 1.6l.7-1.6l.8-.4l.7-1.2l.7 3.5l.7-.3l.7 1.3l.7 .9l.8 .1l.7 1l.7 1.3l.7-1.2l.7 2.1l.7 .4l.8 1.2l.7 .5l.7-1.4l.7 1l.7 1.7l.7-1l.7-.8l.8 .7l.7-1.3l.7 .3l.7 2.1l.7-2.6l.7 1.2l.8 .6l.7 1l.7-2.1l.7-.5l.7 2.6l.7-.7l.8-.3l.7-.4l.7 .2l.7-1.2l.7-.5l.7-2.4l.7 .4l.8-2.8l.7-1.6l.7 1.3l.7 2.6l.7-.2l.7 1.6l.8-.5l.7-.4l.7-.3l.7 2.5l.7-2.2l.7-.2l.8 1.8l.7 .1l.7 2.6l.7-.6l.7-.7l.7-1l.7 .1l.8 1.2l.7-1.3l.7-.2l.7-.9l.7 1.2l.7 .7l.8-1.3l.7 1l.7 .5l.7-.6l.7 .6l.7 .5l.7-.3l.8-.1l.7 .8l.7-.7l.7 .5l.7 .6l.7-.8l.8-1.3l.7 1.2l.7 0l.7-1l.7 1.2l.7-1.2l.8 .9l.7 1.6l.7-.6l.7-.1l.7-1.1l.7 1.4l.7-.9l.8 .6l.7-1.6l.7 .8l.7-.4l.7 1.1l.7-.7l.8 1.1l.7 .1l.7-1l.7-.6l.7 .8l.7 0l.8 0l.7-.3l.7 1.2l.7-1.4l.7 .2l.7 .1l.7 1.1l.8-.6l.7-.5l.7-1.1l.7 2.6l.7-.5l.7 0l.8-1.5l.7 1l.7-1.1l.7 .1l.7 .6l.7-.7l.7 1.3l.8 .3l.7-1.1l.7 .6l.7 1.2l.7-2.2l.7 .7l.8 1.2l.7-1.1l.7-.1l.7-.1l.7 1.1l.7-.5l.8-1.8l.7 1.9l.7-1.9l.7 1.8l.7 .1l.7-1.2l.7 1.3l.8-.3l.7 .3l.7-.5l.7 .5l.7 0l.7 .4l.8 0l.7-.7l.7 .4l.7-.3l.7-1l.7 .8l.8 .5l.7-.4l.7-1l.7 1.6l.7-1l.7 .9l.7-.2l.8-.8l.7-.2l.7 .3l.7 .9l.7-.8l.7-.7l.8 .4l.7 0l.7 .2l.7-.1l.7 0l.7 .6l.8 .1l.7-.8l.7-.1l.7 .4l.7 .4l.7-1.3l.7 1.5l.8-.9l.7 .2l.7 1.1l.7-1.1l.7 2l.7-1.1l.8-.6l.7 1l.7-1.2l.7-.2l.7-.7l.7 .7l.8-.1l.7-.3l.7-.4l.7 .1l.7 1.4l.7-.1l.7 1l.8-.4l.7-.4l.7 .5l.7 .4l.7-3.1l.7 0l.8 1.5l.7 1.8l.7-2.2l.7-.1l.7 1.1l.7-1l.7 .2l.8 .2l.7 .5l.7-1l.7 2.4l.7-1.6l.7 .1l.8 .4l.7-1.2l.7 .8l.7-.8l.7 .9l.7 .5l.8-.2l.7-1l.7 .3l.7 1.5l.7-.7l.7-.4l.7 0l.8-2l.7 2.3l.7-.2l.7-.1l.7-.1l.7-.5l.8 .6l.7 1.3l.7-2.8l.7 1.6l.7 .5l.7-1.2l.8 .5l.7-1.6l.7 1.2l.7 1.4l.7-2.3l.7-.4l.7 1.1l.8 .5l.7-.1l.7 1l.7-2.3l.7-.2l.7 2.2l.8-.9l.7 .9l.7-1.2l.7 1.1l.7-1l.7 .3l.7-.3l.8 1.6l.7-1.8l.7 .5l.7 .4l.7-.6l.7-.2l.8 1.1l.7-2.1l.7 .3l.7-.3l.7 .8l.7 .7l.8 .1l.7 .4l.7-.3l.7-.7l.7 .2l.7 .7l.7 1.2l.8-.8l.7-2.8l.7 2.5l.7 1l.7-2.1l.7 .1l.8-.4l.7-.2l.7 1l.7-.7l.7-4.9l.7-4l.8-2.6l.7-1.7l.7-2.4l.7 1.8"/>
<path id="cv_c0" stroke="#8c8c00" d="M154.5 1569.1l.7-1.9l.7 2.3l.7-2.9l.8 2.2l.7 .7l.7-2.6l.7 2l.7 1.2l.7 1.8l.8-2.3l.7 1.5l.7-1.2l.7 1.7l.7 1.4l.7-.5l.8-2.8l.7 .5l.7-.2l.7 1.1l.7-.7l.7 3.5l.7-1.7l.8 1.9l.7-1.9l.7 .2l.7-.3l.7 .5l.7 .2l.8-.1l.7-.9l.7-.6l.7 1.3l.7 .7l.7-.4l.8-1.7l.7 2l.7-1.5l.7-1.4l.7 1.6l.7-1.5l.7 2.5l.8-1.2l.7-1.3l.7 0l.7 .3l.7-.8l.7-.7l.8 2.4l.7-3l.7-.6l.7-2.1l.7 2l.7-.9l.7-.6l.8-2.5l.7 1.5l.7-3.7l.7-1.3l.7-.2l.7-1.5l.8-.5l.7-.2l.7-3.5l.7-.4l.7-2.6l.7-3.3l.8-3.1l.7-.5l.7-3.2l.7-1.6l.7-1l.7-2.7l.7-.6l.8-5l.7-1l.7 1.8l.7-2.9l.7-2l.7-.8l.8-3.1l.7-.6l.7 1.7l.7-3.4l.7 2.9l.7-2.5l.8 4.2l.7 .1l.7 .3l.7 1.9l.7 1.4l.7 .4l.7 1.3l.8 3.1l.7 2.8l.7 .6l.7 3.3l.7 4l.7 .1l.8 2.1l.7 .6l.7 5.4l.7 .2l.7 1.8l.7 1l.7 4.3l.8 .7l.7 2l.7 .9l.7 .5l.7 2.9l.7 1.5l.8 0l.7 1.1l.7 1.7l.7 .7l.7 2.7l.7 1.5l.8-1.7l.7 .3l.7 2.3l.7 0l.7 .2l.7 .4l.7 1.2l.8-.1l.7 .4l.7 .6l.7-2.1l.7 2.3l.7 .2l.8 0l.7-.2l.7-.7l.7-.2l.7 1.7l.7-.9l.8 2.8l.7-.6l.7-.4l.7 1.2l.7-.5l.7-.3l.7 1.6l.8-.8l.7 0l.7 .5l.7 .1l.7 .3l.7-.7l.8 .3l.7 .8l.7-.2l.7 .3l.7-1.2l.7 .9l.8-.2l.7 .7l.7 .6l.7-.7l.7 .5l.7 .1l.7 .5l.8-.2l.7-.2l.7 0l.7 .3l.7 1.3l.7 .2l.8-.8l.7-.8l.7 .7l.7 .5l.7-1.8l.7 1.1l.8 1.7l.7-1.2l.7-.8l.7 .5l.7-1l.7 1.2l.7 0l.8 .1l.7 .1l.7 .1l.7 .9l.7-.5l.7-.4l.8 .4l.7-1.4l.7 1.4l.7 1.7l.7-.4l.7-.5l.7-1l.8 .7l.7 1.6l.7-1.4l.7 0l.7 .9l.7 .5l.8-.6l.7 .6l.7-1.5l.7 1.6l.7-1.2l.7 .7l.8-1.7l.7 1.7l.7-.5l.7 .5l.7-.9l.7-.5l.7 1l.8 .7l.7-.6l.7-.2l.7 .1l.7 1.3l.7-1l.8-.8l.7 2l.7-.9l.7 .3l.7-1.4l.7 1.1l.8 .5l.7 .3l.7-.2l.7 .6l.7-.7l.7-.5l.7-.7l.8 2.1l.7-.5l.7 1l.7 0l.7-1.7l.7 1.1l.8 0l.7 .1l.7-1.4l.7 .5l.7 0l.7 1.2l.7-.8l.8-.6l.7 0l.7 .5l.7-.8l.7 .3l.7 .6l.8 .8l.7-.4l.7-.2l.7-.7l.7 .1l.7-.6l.8 1.6l.7-.2l.7-.4l.7 1.8l.7-1.4l.7 1l.7-.8l.8 .3l.7-1.1l.7 .9l.7 .5l.7-2l.7 2.5l.8-1.6l.7 .5l.7-.1l.7 1l.7-.3l.7-.8l.8 .1l.7 .7l.7-.6l.7-.1l.7 .2l.7 1l.7-1.6l.8 0l.7 1.2l.7-.6l.7-.5l.7 1.4l.7-.9l.8-.2l.7-.1l.7 1.8l.7-1.1l.7 1.3l.7-.6l.8-.9l.7 1.5l.7-1l.7 .6l.7-1.4l.7 0l.7 .6l.8-.2l.7 1.2l.7-.2l.7-1.1l.7 .9l.7-1.6l.8 1.3l.7 .2l.7-.9l.7 0l.7 .9l.7-.4l.8 1.4l.7-1.7l.7 1l.7 .8l.7-.2l.7-.5l.7-.7l.8 .3l.7 .6l.7-.4l.7 .2l.7-.4l.7 0l.8 1.4l.7-.4l.7-2l.7 1.6l.7 .4l.7-1.2l.7-.1l.8 .5l.7 0l.7 .1l.7-.4l.7 2l.7-2.1l.8 1.2l.7 0l.7-.3l.7 .4l.7 .5l.7-1.3l.8 1l.7 .1l.7-1.1l.7-.9l.7 1.4l.7 .2l.7-.6l.8 .3l.7 1l.7-.9l.7 .4l.7-.6l.7 .2l.8-.1l.7 .5l.7-.3l.7 .3l.7-.2l.7 .4l.8 0l.7-.3l.7-.4l.7-.5l.7-.1l.7 1.3l.7-.3l.8-.2l.7-.3l.7 .6l.7-.3l.7 .9l.7-.6l.8-.5l.7 0l.7 .4l.7 1.6l.7-1.5l.7-.7l.7 .7l.8 .6l.7 .1l.7 .1l.7 0l.7-.3l.7 0l.8-.6l.7 .8l.7-.3l.7 1.2l.7-2l.7 1.8l.8-1.4l.7 .8l.7-.7l.7 1.3l.7-.4l.7-.4l.7 .9l.8-.9l.7-.3l.7-.3l.7 .7l.7 0l.7-.6l.8 .4l.7 .5l.7-.8l.7 1.6l.7-1.7l.7 .4l.8 .3l.7 1.3l.7-1.1l.7-.6l.7-.7l.7 .6l.7 0l.8 1.1l.7-.9l.7-.2l.7 .5l.7 .4l.7-1.4l.8 .7l.7 .4l.7 .7l.7 .4l.7-.4l.7-.4l.8-.6l.7 1.1l.7-1.6l.7 .9l.7 .5l.7-.6l.7-.5l.8 .7l.7-.4l.7-.3l.7 .5l.7-.2l.7 1.9l.8-1.8l.7 1.2l.7-1.6l.7 1.7l.7-.5l.7-.6l.8-.4l.7 .3l.7-.8l.7 1.5l.7-1.1l.7 1.9l.7-.2l.8-.2l.7-.2l.7-.1l.7-1.4l.7 1.1l.7 .3l.8 0l.7 .6l.7-.1l.7-.5l.7 .2l.7 .5l.7-.8l.8 0l.7-.4l.7-.3l.7 .3l.7 .5l.7-.8l.8 .5l.7-.3l.7 .6l.7 .5l.7 .1l.7 0l.8-1l.7 .1l.7 .3l.7-1l.7 1.1l.7-2.7l.7 .6l.8-.7l.7 1.2l.7 1l.7 .6l.7-.2l.7 1.4l.8-.6l.7 .6l.7-2l.7 1.5l.7 .7l.7-.3l.8-1.2l.7-.1l.7 0l.7 1l.7-1l.7 .3l.7 .8l.8-.8l.7 .1l.7-.3l.7 1.4l.7-1.1l.7 .6l.8-.3l.7 .4l.7 .1l.7-.4l.7 .2l.7-.8l.7 .8l.8-.1l.7 .2l.7-1.3l.7 1.3l.7-.3l.7-.5l.8 .3l.7 .6l.7 .2l.7 .5l.7-1.3l.7 0l.8 .2l.7 .9l.7-.3l.7-.7l.7 .7l.7-.2l.7 .2l.8-.1l.7-.5l.7 .2l.7 1.2l.7-1l.7 .4l.8-.8l.7-.1l.7-.1l.7 1.1l.7-.1l.7 .1l.8 .2l.7-.6l.7-.3l.7 0l.7 .4l.7 .3l.7 .1l.8 .1l.7-.8l.7 .4l.7-1.1l.7 1l.7 .8l.8-.9l.7 .9l.7 .5l.7 0l.7-.9l.7-.2l.8 .4l.7-.1l.7-.1l.7-.1l.7 .3l.7 .1l.7-.1l.8-.2l.7 .3l.7 .1l.7-.1l.7-.5l.7-.3l.8 .5l.7-1.1l.7 .8l.7 0l.7 .7l.7-.9l.8-.1l.7 1l.7-.1l.7-.8l.7 .7l.7-.2l.7-.3l.8-.1l.7 .3l.7 .3l.7 .1l.7 .5l.7-.5l.8-.5l.7-.4l.7 .4l.7 .3l.7 0l.7-.7l.7 1.8l.8-.2l.7-.5l.7-.5l.7-.1l.7 1l.7-.6l.8 .6l.7-.3l.7-.6l.7 .5l.7 .1l.7-.2l.8 .2l.7-.6l.7 .5l.7 0l.7 .2l.7-.5l.7 1.1l.8-.2l.7-.8l.7 .6l.7-.2l.7 .1l.7 .6l.8-.7l.7-.7l.7 1.4l.7-.9l.7 .3l.7-.8l.8 1.2l.7-.9l.7-.3l.7-.3l.7 .7l.7 1l.7-1.3l.8 .6l.7-.2l.7 .8l.7-.3l.7-1l.7-.1l.8-.1l.7 .1l.7 .7l.7-.3l.7-.9l.7 .4l.7 .1l.8-.9l.7 1.1l.7 .5l.7-1.2l.7 1.1l.7-.6l.8-.1l.7 .3l.7-.1l.7 1l.7-1.1l.7 .6l.8-.2l.7-.1l.7-.7l.7 1.2l.7-.2l.7 .6l.7-.3l.8 .1l.7-.1l.7-1.3l.7 1.8l.7 0l.7-.3l.8 .2l.7 .7l.7-1.4l.7 .9l.7-.5l.7 .2l.8-.1l.7-1.2l.7 1.1l.7 .4l.7-.3l.7 .3l.7-.7l.8 .1l.7 0l.7-.2l.7 1.3l.7-.6l.7-.3l.8 .6l.7-1.1l.7-.4l.7 1.3l.7-.9l.7 .7l.8-.2l.7-.4l.7 .3l.7 .2l.7 .1l.7-.2l.7-.1l.8-.4l.7 0l.7 .2l.7 .1l.7 .6l.7-.3l.8-.4l.7 1.2l.7-1.6l.7 2l.7-1.3l.7-.2l.8 .1l.7-.7l.7 1.4l.7-.6l.7 .3l.7 .5l.7-.5l.8 .2l.7-.3l.7-1l.7 1.8l.7-1.2l.7-.9l.8 .9l.7-.6l.7 1.2l.7-1l.7 1.3l.7-1.1l.7 .7l.8-.3l.7-.1l.7-.2l.7 .5l.7-.4l.7-.2l.8 1.2l.7-.2l.7 .2l.7-.9l.7-.2l.7-.6l.8 .1l.7 .2l.7-.3l.7 .6l.7-.2l.7-.1l.7 0l.8-1l.7 .5l.7-.3l.7-.4l.7-1.2l.7-.4l.8-.6l.7-1l.7-2.3l.7 .1l.7-1.7l.7-2.2l.8-.9l.7-2.7l.7-.1l.7 .4l.7-.2l.7 .7l.7-.3l.8 1.9l.7 .7l.7 .1l.7-.7l.7 2.6l.7 .3l.8 1.5l.7 .1l.7-.2l.7 1l.7-.9l.7 1.1l.8 .4l.7-.8l.7 1.4l.7 0l.7 .9l.7 .2l.7-.9l.8 .1l.7-.4l.7 2.1l.7 .5l.7-.2l.7-.2l.8 .3l.7-.2l.7-.1l.7 .8l.7 .7l.7 .1l.7-.5l.8 .3l.7-.4l.7 .7l.7 0l.7 .2l.7-.6l.8-.7l.7-.2l.7 .6l.7-1.4l.7-.9l.7-1.2l.8-3l.7-6.3l.7-7.5l.7-18.3l.7-22.2l.7-20.8l.7-8.3l.8 6.5l.7 25.2l.7 22.7l.7 15l.7 9.4l.7 5.5l.8 1.9l.7 2.3l.7-.7l.7 .8l.7 .8l.7 .4l.8 .6l.7-.1l.7-.1l.7-.3l.7 1l.7-.8l.7 1.7l.8-.3l.7 .6l.7-1.2l.7-.2l.7 .9l.7-.7l.8 0l.7 1.2l.7-1.4l.7 0l.7-.1l.7-.2l.8-1.5l.7 .7l.7 1l.7-1.3l.7-.1l.7-.3l.7 .5l.8 .1l.7 .7l.7 .7l.7-1.5l.7 .7l.7 1l.8-1l.7 1.3l.7-1.2l.7-.3l.7 .8l.7-.6l.7 1l.8-.5l.7 .2l.7-.3l.7-.2l.7-1.8l.7-1.2l.8-.2l.7 .3l.7 .2l.7 1.5l.7 .8l.7 .4l.8 .6l.7 0l.7 1.2l.7 0l.7 1.1l.7-.9l.7-.3l.8 0l.7 0l.7-.7l.7 1.7l.7-.2l.7-.9l.8 .5l.7-.5l.7 .1l.7-.1l.7 .8l.7 .2l.8-1.3l.7 .9l.7 .8l.7-1.1l.7-.8l.7 .5l.7 .5l.8-.2l.7 .3l.7 .7l.7-1.1l.7 .6l.7-.8l.8-.2l.7 .1l.7 .6l.7 .1l.7-1.1l.7 .8l.7-.6l.8 1.3l.7-.5l.7 0l.7-.6l.7 1.1l.7 .1l.8-1.3l.7 0l.7 1.1l.7-.5l.7-1l.7 .3l.8 .8l.7-.9l.7 .8l.7 .5l.7-1l.7 .2l.7-.4l.8 .7l.7 .3l.7-.8l.7 1.4l.7-1.6l.7 .4l.8-.2l.7 .3l.7-.4l.7-.5l.7-.6l.7-.1l.8-1.5l.7 .9l.7 1.2l.7 .6l.7 .3l.7-.2l.7 .2l.8 .1l.7 .2l.7 .1l.7-.4l.7-.7l.7 .7l.8 .1l.7 .4l.7-.2l.7-.4l.7-.2l.7 .9l.8-1.4l.7 .1l.7 1.2l.7-1.5l.7 1.5l.7-1.3l.7 .2l.8-.3l.7-1.2l.7-.5l.7-.6l.7-1.2l.7-1l.8-.5l.7-.1l.7-.2l.7 1.4l.7 1.2l.7-.6l.8 1.9l.7 .5l.7 .9l.7 .5l.7 .1l.7-.9l.7 1.1l.8-.1l.7-.2l.7 .2l.7 .4l.7-.1l.7 .3l.8-.4l.7 .2l.7 .8l.7-.9l.7-.4l.7 .4l.7-.4l.8 .1l.7 0l.7 .1l.7 .3l.7-.7l.7 .7l.8 .6l.7-.5l.7 0l.7-.6l.7-.5l.7 .8l.8 .1l.7-.7l.7 .3l.7 1.4l.7-1.1l.7-1l.7 1.4l.8-.1l.7-.5l.7 .2l.7 .3l.7-.3l.7 1l.8 .1l.7 0l.7-1l.7-.4l.7 .8l.7-1.2l.8 1.2l.7-.4l.7 .2l.7 0l.7-.1l.7-1l.7 0l.8 1l.7-.3l.7-.7l.7 .4l.7 .5l.7 .3l.8-.7l.7-.5l.7 .7l.7 .4l.7-.8l.7 .6l.7-.3l.8 .5l.7-.7l.7-1l.7 1.3l.7 .5l.7-.7l.8 1.1l.7-1l.7-.2l.7 0l.7 0l.7 .3l.8-.5l.7-1.1l.7 1.5l.7-.8l.7-.3l.7 .8l.7-.6l.8-.1l.7-.7l.7 1.1l.7-.4l.7 .6l.7-.7l.8 .4l.7-1.4l.7 .3l.7-1.9l.7 1.4l.7-1.6l.8 .3l.7-.5l.7 0l.7-2.4l.7-.6l.7-.8l.7-3l.8-2.9l.7-5.3l.7-6.3l.7-7.8l.7-15.7l.7-27.8l.8-51l.7-78.3l.7-53.3l.7 54.8l.7 78l.7 50.3l.8 27.3l.7 15.2l.7 9.4l.7 6.5l.7 3.8l.7 2.8l.7 1.7l.8 2.9l.7 .5l.7 2.3l.7-.2l.7 .5l.7 .4l.8 .2l.7 .4l.7 .3l.7 .6l.7 .6l.7-1l.8 1.6l.7-.1l.7 .4l.7-1l.7 .8l.7 .7l.7-.6l.8-.5l.7 .2l.7 .2l.7-.9l.7 1l.7-.2l.8-.2l.7-.6l.7-2.9l.7-1.1l.7-1.8l.7-3l.7-.4l.8 2.4l.7 1.4l.7 2.3l.7 1l.7 2.6l.7 0l.8 .7l.7-.5l.7-.5l.7 1.1l.7 .2l.7-.1l.8 1l.7-1.7l.7 .1l.7 .5l.7-.7l.7-.9l.7-2.6l.8-4.8l.7-8.6l.7-12.3l.7-.6l.7 .7l.7 6.5l.8 7.6l.7 4l.7 2.8l.7 3.2l.7 1.2l.7 1.9l.8 1.6l.7 .4l.7-.6l.7 1.4l.7-.1l.7 .2l.7-1l.8 .8l.7 0l.7 1l.7-.2l.7-.7l.7 .5l.8 .2l.7 .1l.7 .3l.7 0l.7 .7l.7-1.2l.7 .7l.8 .2l.7 .6l.7-1.6l.7 .5l.7-.1l.7 .6l.8 0l.7-.2l.7-.3l.7 1.4l.7-1.7l.7 1.2l.8-1.1l.7-.1l.7 1.2l.7 .5l.7-.9l.7 .5l.7-.3l.8-.4l.7-.4l.7 .9l.7-.3l.7-.1l.7 .1l.8 .1l.7 .1l.7-.1l.7 .1l.7 .6l.7-.9l.8 .5l.7-.7l.7 .8l.7-.5l.7 .2l.7-.4l.7 1l.8-.5l.7 .3l.7-.9l.7-1.3l.7 .1l.7-.8l.8-.6l.7-.1l.7-.6l.7 1.1l.7 .7l.7 .8l.8 .1l.7 1l.7-.6l.7 1.1l.7-.6l.7 .8l.7-.1l.8-1.1l.7 1l.7-.2l.7-.2l.7 .2l.7 .3l.8-.4l.7 .1l.7 .2l.7-.4l.7 .9l.7-1.7l.8 1.1l.7 .5l.7-.9l.7 .5l.7-.6l.7 .6l.7 .3l.8-.9l.7 .3l.7-.4l.7 .2l.7 .6l.7 .1l.8-.8l.7-.1l.7-.5l.7 1.4l.7-.4l.7 .4l.7-.4l.8 .6l.7-.2l.7-.8l.7 .4l.7-.6l.7-.4l.8-.5l.7-.4l.7 1l.7-.1l.7-.5l.7-.6l.8 1.4l.7 .1l.7 .2l.7 .2l.7-.1l.7 0l.7 .5l.8 .1l.7 .6l.7-.2l.7 .1l.7-1l.7 .7l.8-.1l.7 .5l.7-1l.7 .2l.7 .4l.7 .1l.8-.5l.7-.3l.7 .1l.7-.1l.7 .3l.7-.1l.7 .3l.8 .5l.7-.6l.7 .6l.7-.9l.7 .4l.7 .5l.8-1.6l.7 2.1l.7-1.7l.7 1l.7-.8l.7 .3l.7 .3l.8 0l.7-.5l.7 1.2l.7-.8l.7-.3l.7 .4l.8 .5l.7-.9l.7 .1l.7 .8l.7 0l.7-.5l.8 .3l.7-.3l.7-.2l.7-.3l.7 .8l.7-.1l.7-.3l.8-.2l.7 .4l.7 .7l.7-.9l.7 .2l.7 .1l.8 0l.7-.3l.7 0l.7 .2l.7 .5l.7-1l.8-.1l.7 .7l.7-.8l.7 .7l.7 .6l.7-1l.7 .8l.8-.7l.7-.1l.7 .1l.7 .1l.7-.1l.7 .4l.8 .1l.7-1.3l.7 1.4l.7-.3l.7 .1l.7-.7l.8 1.2l.7-1l.7 .1l.7 .1l.7 .6l.7-1l.7 .2l.8 .6l.7 0l.7-.5l.7-.4l.7 .3l.7 .7l.8-1.1l.7 .3l.7 .5l.7 .2l.7-.6l.7-.3l.8 .6l.7-.6l.7 .1l.7 .3l.7 0l.7 .2l.7-.3l.8-.5l.7 .5l.7 .2l.7-1l.7 .8l.7-1.2l.8 1.2l.7-.9l.7 .1l.7-1l.7-.3l.7-2.3l.7-1.9l.8-3.2l.7-4.3l.7-3.7l.7-.6l.7-.4l.7-.2l.8 .9l.7 3.2l.7 3l.7 2.4l.7 2l.7 .8l.8 2.5l.7 .4l.7 1l.7 1.9l.7-1l.7 1.1l.7-.1l.8-1.2l.7 .7l.7-.2l.7 1l.7 0l.7-.3l.8 .1l.7-.6l.7 .4l.7 .6l.7-.2l.7-.4l.8 .6l.7-.1l.7 .9l.7-.3l.7-.1l.7-.3l.7 0l.8 .6l.7 .4l.7-1.3l.7 .9l.7-.2l.7 .4l.8-.3l.7 .2l.7-.9l.7 .2l.7 .7l.7-.2l.7-.9l.8 .7l.7-.7l.7 1l.7-.7l.7 .2l.7 .4l.8 .1l.7-.5l.7-.9l.7 .6l.7 0l.7 1l.8-.2l.7 .1l.7-1.2l.7 .7l.7 0l.7-.3l.7 .8l.8-.6l.7 .9l.7-.6l.7 .1l.7 .1l.7-.9l.8 .2l.7-.4l.7 .9l.7-.5l.7-.9l.7 .7l.8-.2l.7 0l.7-1.3l.7 1.4l.7-.1l.7-.4l.7-.2l.8-.1l.7-1.4l.7 .1l.7-.4l.7 .9l.7-.8l.8-.4l.7 .9l.7 .2l.7-1.2l.7 .4l.7-.4l.8 1.1l.7 .2l.7-.3l.7 0l.7 1.1l.7-.5l.7 .5l.8 .3l.7-.8l.7 1.2l.7-.3l.7 .2l.7-.5l.8 .1l.7 1.1l.7-1.1l.7 .5l.7-1l.7-.6l.8 .8l.7-2.2l.7-2.3l.7-2.5l.7-4.6l.7-2.4l.7-1.3l.8 .5l.7-1.2l.7 .6l.7 2.2l.7 .7l.7 2l.8 3.1l.7 1.4l.7 .3l.7 2.1l.7 1.8l.7 .6l.7 .6l.8 .2l.7-.1l.7 1.1l.7-.1l.7 .1l.7 .6l.8-.2l.7 .4l.7-.4l.7 .1l.7-.6l.7 .5l.8 .9l.7-.7l.7 .5l.7 .2l.7-1.1l.7-.1l.7 1.3l.8-.8l.7-.9l.7 .9l.7-.2l.7 .3l.7-.2l.8-1.3l.7 1.1l.7-.3l.7-.9l.7-1.3l.7-6.7l.8-7.7l.7-5.1l.7 .6l.7 3l.7 2.9l.7 .8l.7 .7l.8 3.1l.7 3.1l.7 1.5l.7 4l.7-.6l.7 .9l.8 1.3l.7 .1l.7-.4l.7 .7l.7 .4l.7 .9l.7-1.8l.8 1.6l.7 0l.7-.6l.7 0l.7 .2l.7 .2l.8-.2l.7 .7l.7-1.4l.7 .4l.7 .1l.7 .7l.8-.9l.7 .8l.7-1l.7 1.9l.7-.7l.7 .1l.7-.5l.8 .2l.7 .5l.7-.5l.7-.2l.7 .7l.7-.9l.8-.1l.7 .7l.7-.3l.7 .4l.7 .2l.7-.6l.8-.2l.7-.2l.7 .5l.7 1.1l.7-1.5l.7 .9l.7-.2l.8 .2l.7-.6l.7 .3l.7-.3l.7 .5l.7-.2l.8-.9l.7 .9l.7-.2l.7 .6l.7-1.1l.7 .2l.8 .5l.7 .6l.7-.3l.7-.4l.7-.4l.7 .8l.7 0l.8-.4l.7 .2l.7-.3l.7-.3l.7 .5l.7 .2l.8-.8l.7 1.5l.7-.8l.7 .6l.7-.7l.7-.8l.7 1.2l.8-.5l.7 .9l.7-1.2l.7 0l.7 .2l.7-.1l.8 .6l.7 .6l.7-2l.7 .9l.7 .1l.7 .3l.8 .3l.7-.2l.7 .1l.7-.9l.7-.5l.7 .7l.7-.2l.8 .8l.7-.2l.7 0l.7-.5l.7 0l.7-.2l.8 1.2l.7-.7l.7 .3l.7-.8l.7 .7l.7 .8l.8-1.5l.7 0l.7-.5l.7 1.1l.7 .1l.7-1l.7 1l.8 .5l.7-1.1l.7 0l.7 .2l.7 1.1l.7-1.5l.8 1.5l.7-.4l.7-1l.7 .2l.7-.1l.7 .1l.8 .6l.7-1l.7-.8l.7-.6l.7-1.3l.7-6.9l.7-7.7l.8-.8l.7 2l.7 4.6l.7 .2l.7 .2l.7-.4l.8 2.9l.7 3.3l.7 2.1l.7-.2l.7 1.3l.7 1.2l.7-.5l.8 .5l.7 .4l.7 .6l.7-.2l.7 .4l.7-.1l.8-.3l.7 1.3l.7-1.1l.7 .7l.7 .2l.7-1.3l.8 .8l.7-.1l.7-.8l.7-.2l.7 1.2l.7-.1l.7-.1l.8-.8l.7-.1l.7-.5l.7-.1l.7 .6l.7-1.1l.8-.6l.7-3.9l.7-3.8l.7-2.2l.7 .4l.7 .3l.8 1.5l.7 1.9l.7-1.2l.7 1.5l.7 1.8l.7 .7l.7 1l.8 1.4l.7 2.1l.7-.9l.7 .1l.7 1.3l.7-.7l.8 .1l.7 1.3l.7-.3l.7 .2l.7 .1l.7-.5l.8-.5l.7 .5l.7-.7l.7 .1l.7-1l.7 0l.7-1.2l.8 .1l.7-.4l.7-.2l.7 1l.7-.5l.7 1.8l.8-1.7l.7 .4l.7 1l.7 .3l.7 1.3l.7 .3l.8-.9l.7 .9l.7-.2l.7-.3l.7 1.3l.7-1.3l.7 0l.8 .2l.7 .5l.7-.2l.7 .4l.7-1.1l.7 1.3l.8-.7l.7-.2l.7-.1l.7 .2l.7 .2l.7-.3l.7 .7l.8-.5l.7 .1l.7 .8l.7-1.2l.7 .7l.7 .6l.8-.2l.7-1.1l.7 .6l.7-.1l.7 .5l.7-1.3l.8 .2l.7 .8l.7-.7l.7 .4l.7 .2l.7-1.1l.7 1.4l.8-.8l.7 .6l.7-.1l.7 .9l.7-1.1l.7-.2l.8 .5l.7-.1l.7 .1l.7 .3l.7-.6l.7 .6l.8-.3l.7-.8l.7 .3l.7-.3l.7 .5l.7-.4l.7 1l.8-.1l.7-1.4l.7 .9l.7 .4l.7-.6l.7-1.1l.8-.5l.7-2.5l.7-2.9l.7-6.7l.7-.7l.7 1.4l.7 3.1l.8-.5l.7 .8l.7 .8l.7 1l.7 2.1l.7 1.4l.8 1.5l.7 0l.7 1.8l.7-.7l.7 .5l.7 .7l.8-.6l.7 1.2l.7 .3l.7-.1l.7-1.1l.7-.1l.7 1.6l.8-1.6l.7 1l.7-.1l.7 .2l.7-.5l.7 .7l.8-.6l.7 .5l.7-.3l.7 .9l.7-.8l.7-.3l.8 .9l.7-.8l.7 .7l.7-1l.7 .5l.7-.1l.7-.7l.8 2l.7-.7l.7-.4l.7 0l.7-.2l.7 .5l.8-.3l.7 .2l.7 0l.7-.1l.7 0l.7 0l.8 1l.7-.3l.7-1l.7 .2l.7 .5l.7 .5l.7-1.1l.8 .1l.7 .8l.7-.9l.7 .6l.7 0l.7-.4l.8 .3l.7-.9l.7 .1l.7 .4l.7-.4l.7 .5l.8 .6l.7-.7l.7 .7l.7-.3l.7 .4l.7-1.3l.7 .3l.8 .5l.7-.4l.7 .5l.7-.2l.7 0l.7-.2l.8 .4l.7 .1l.7 0l.7-.3l.7 .8l.7-1.2l.7 .1l.8 .6l.7-.5l.7 .6l.7-.9l.7 1.1l.7-1l.8 1.1l.7-.4l.7-.4l.7 .4l.7 .3l.7-.6l.8 .1l.7 .5l.7-.7l.7-.3l.7 .8l.7-.6l.7 .3l.8-.2l.7-.3l.7 .7l.7-.1l.7-.3l.7 .7l.8 .1l.7-1l.7 .1l.7 .2l.7 0l.7-.3l.8 .5l.7-.5l.7 0l.7-.2l.7 .1l.7 .7l.7-.2l.8-.3l.7 .1l.7 .7l.7-.8l.7 .1l.7-.7l.8 .6l.7 .7l.7-.4l.7-1l.7 .5l.7 .9l.7 .4l.8-1.3l.7-.3l.7 .1l.7 .5l.7 .4l.7-.2l.8 .1l.7 0l.7-.3l.7-.3l.7 .7l.7 0l.8-.5l.7-.6l.7 .5l.7 .1l.7-.3l.7-1.1l.7 1.1l.8 .1l.7-2.4l.7-2.1l.7-5l.7-2l.7 .8l.8 1.4l.7 1.9l.7-.1l.7 .9l.7-1.2l.7 3.3l.8-.7l.7 2l.7 1.4l.7 0l.7 .9l.7 .7l.7-.3l.8-.2l.7 .9l.7-.8l.7 .5l.7 .5l.7-.6l.8 .2l.7 .4l.7 0l.7-.6l.7-.3l.7 .9l.8-.2l.7 .1l.7-.2l.7 .5l.7-.2l.7-.2l.7-.6l.8 .9l.7-.5l.7-.1l.7 .1l.7 .1l.7-.1l.8 .1l.7 .1l.7-.4l.7 .4l.7 .6l.7-.2l.8-.1l.7-.1l.7-.5l.7 .2l.7 .4l.7-.1l.7-.4l.8 .2l.7-.4l.7 .4l.7 0l.7 .4l.7 .3l.8 .5l.7-1.6l.7 .5l.7-.8l.7 .7l.7-.1l.7 .6l.8-.1l.7-.7l.7 1.5l.7-.1l.7-.9l.7-.8l.8 .8l.7-.2l.7 1.1l.7-.8l.7 0l.7 0l.8-.8l.7 .8l.7-.3l.7 .1l.7-.7l.7 .6l.7-.2l.8 .3l.7 .5l.7-.8l.7 .1l.7 .5l.7 0l.8-.4l.7 .2l.7-.8l.7 1.3l.7-.7l.7-.2l.8 1.2l.7-.6l.7 .1l.7-.9l.7 .2l.7 .4l.7-.4l.8 .7l.7-.1l.7 .5l.7-.6l.7-.4l.7 .6l.8-.4l.7 .1l.7-.5l.7 .3l.7-.3l.7 .4l.7 0l.8 .4l.7-1l.7 1.3l.7-.7l.7-.3l.7 .7l.8-1l.7 .6l.7-.5l.7 .8l.7-.4l.7-.1l.8-.1l.7 .2l.7 .3l.7-.6l.7 .6l.7-.4l.7-.4l.8 .8l.7 .3l.7-.7l.7 .6l.7-.6l.7 1.3l.8-.7l.7 .4l.7 .2l.7-1.3l.7 .2l.7-.8l.8 1.8l.7-.1l.7-1.3l.7 .7l.7-.3l.7-.2l.7 1.1l.8-1.4l.7 .6l.7 .5l.7-.5l.7-.1l.7-.1l.8 .1l.7-.4l.7 1.5l.7-.5l.7-.9l.7 .3l.8 0l.7 .2l.7-.1l.7-.3l.7 .5l.7 .2l.7-.8l.8-.4l.7 .2l.7-.6l.7 .5l.7 .5l.7-.5l.8-.8l.7-.1l.7-.8l.7 .1l.7-1.2l.7 0l.8-.4l.7 1.3l.7-.1l.7 .2l.7 .9l.7 .3l.7 .1l.8 .3l.7 .1l.7 .6l.7-.4l.7-.2l.7 1.3l.8-.3l.7-1l.7 .2l.7 0l.7 .8l.7-.7l.7 .3l.8-.3l.7 .6l.7-1l.7 .4l.7 .1l.7 .6l.8-.5l.7-1.2l.7-2.5l.7-2.3l.7-10.1l.7-14.4l.8-.8l.7 3.5l.7 8.8l.7 8l.7 2.7l.7 2.9l.7-.1l.8-4.8l.7-3.3l.7-2.2l.7 3.2l.7 2.5l.7 4.4l.8 1.7l.7 .9l.7 1.4l.7 1.1l.7-.1l.7-.3l.8 1.3l.7-.6l.7-.3l.7 .1l.7-.5l.7-.1l.7-.8l.8 .8l.7-.3l.7 1l.7-.3l.7 .3l.7 .2l.8 1l.7-.8l.7 0l.7 .1l.7 .7l.7 0l.7-.6l.8 1l.7-1.2l.7 .4l.7-.3l.7 .1l.7 .5l.8-1.4l.7 .4l.7 .7l.7-.2l.7-.3l.7 .4l.8-.5l.7 .1l.7 0l.7 .8l.7-1l.7 .1l.7 .8l.8 .5l.7-.9l.7-.5l.7 .3l.7 .4l.7-.3l.8-.1l.7 .2l.7 0l.7-.7l.7 1.1l.7-1l.8 .6l.7 .8l.7-.2l.7 0l.7-1.3l.7 .8l.7-.2l.8-.4l.7 .7l.7-.1l.7-.1l.7-.3l.7 .5l.8-.2l.7-.4l.7 .9l.7-.5l.7 .9l.7-.5l.8 .1l.7-.1l.7 .4l.7 .2l.7-1.8l.7-.1l.7 1.5l.8 .3l.7-.8l.7-.1l.7-.5l.7 .4l.7 .6l.8-.2l.7 .1l.7-.4l.7 .2l.7-.5l.7 0l.8 .3l.7 0l.7 .3l.7 .2l.7-.8l.7 .2l.7-.5l.8-.3l.7 0l.7 1.6l.7-.2l.7 .6l.7-2l.8 2.1l.7-.9l.7 .3l.7 0l.7-.3l.7-.3l.7-.2l.8-.1l.7 .1l.7 .4l.7 .6l.7-.9l.7 .3l.8-.2l.7 .3l.7-1.1l.7 1.9l.7 .1l.7-1.8l.8 .2l.7 .9l.7 0l.7-.7l.7 .4l.7 .2l.7-.8l.8-.1l.7 .5l.7 .9l.7-.7l.7 .4l.7 0l.8-1.2l.7 .7l.7-.3l.7 .9l.7-.6l.7 .1l.8 0l.7-.3l.7 .2l.7-.2l.7 .2l.7-.4l.7-.2l.8 .9l.7 0l.7 .3l.7-.9l.7-.2l.7 .1l.8 .6l.7-.4l.7 .3l.7-.4l.7 .5l.7 .2l.7-.1l.8 .4l.7-.7l.7 .3l.7 .1l.7-.7l.7-.3l.8 1.4l.7-.6l.7-.4l.7-.2l.7-.3l.7-.4l.8 0l.7-1.9l.7 .4l.7-1l.7-1.6l.7 .6l.7-.3l.8-.6l.7 .8l.7 .6l.7 .3l.7-.9l.7 2l.8-.4l.7 1.5l.7 0l.7-.5l.7 .7l.7 .4l.8 .5l.7 .1l.7-.6l.7 .7l.7-.1l.7 .6l.7 0l.8 .4l.7-1l.7-.6l.7 .1l.7-.2l.7 .8l.8 .4l.7-.4l.7-.4l.7-.3l.7 .4l.7 .5l.8 .4l.7-1.6l.7 .3l.7-.4l.7-.2l.7-1.5l.7-2.7l.8-3.8l.7-1.2l.7 1.5l.7 1.6l.7 2.9l.7 1.1l.8-.1l.7-.9l.7-.1l.7 0l.7 1.4l.7 .9l.8 .6l.7 .6l.7-.7l.7 .7l.7 .1l.7 .6l.7-.2l.8-1.2l.7-1.1l.7-.7l.7 0l.7 1l.7 .3l.8 1.1l.7 0l.7-.2l.7 .6l.7 .9l.7-.6l.7 .3l.8 .3l.7 .2l.7-.7l.7 .5l.7-.6l.7 .5l.8-.1l.7 0l.7 .2l.7 0l.7-.3l.7 .4l.8 .8l.7-1.1l.7-.2l.7 .3l.7 .7l.7-.3l.7-.6l.8 .9l.7-.7l.7-.8l.7 1.9l.7-1.6l.7 1.6l.8-.6l.7-1l.7 .7l.7-.6l.7 .1l.7 .3l.8 .1l.7 0l.7 1l.7-.1l.7-1.1l.7 0l.7 .4l.8-.7l.7 .7l.7-.4l.7 .7l.7-.1l.7 .1l.8 .3l.7-1l.7 1.1l.7-.9l.7 .8l.7-.8l.7-.2l.8 0l.7-.3l.7 1l.7-.2l.7-.3l.7 .1l.8-.2l.7-.1l.7-.8l.7 .8l.7 .4l.7-.4l.8 .2l.7 0l.7 1.1l.7-.5l.7-.8l.7 .2l.7 .1l.8 1l.7-1.5l.7 .5l.7-.6l.7 .5l.7 .7l.8-1.1l.7 0l.7 .4l.7-.7l.7 .1l.7 .1l.8 .9l.7-.5l.7 .9l.7-.3l.7-.8l.7 .2l.7 0l.8 .2l.7-.1l.7 .3l.7 .1l.7-.3l.7-.8l.8 .4l.7 .7l.7 0l.7-.3l.7-.5l.7-.1l.8 .2l.7-.1l.7 .5l.7 0l.7-.3l.7-.6l.7 .8l.8-.4l.7 1l.7-.7l.7 .6l.7-.5l.7 .2l.8 0l.7 .2l.7-.2l.7-.1l.7 .3l.7-.2l.8 .4l.7 .4l.7-1.2l.7-.2l.7 1l.7-1.1l.7 .4l.8 .1l.7-.1l.7-.1l.7-.3l.7 .9l.7-.4l.8-.3l.7 .7l.7 .2l.7-.3l.7-.4l.7-.6l.7 .7l.8-.1l.7 .1l.7 .1l.7 .9l.7-.4l.7-.5l.8 .7l.7-1.6l.7 1l.7-.2l.7-.8l.7 1.2l.8-1.3l.7 .8l.7-.2l.7-.2l.7 1l.7-.1l.7-.6l.8 .2l.7 .2l.7-.5l.7 .1l.7 .7l.7-.5l.8-.7l.7 .5l.7 .3l.7 .3l.7-.3l.7-.9l.8 .7l.7 .7l.7-1.1l.7 1.3l.7-.3l.7-.1l.7 .6l.8-2l.7 1.1l.7 .3l.7-.9l.7-.2l.7-.1l.8 .8l.7 .1l.7-.1l.7 .2l.7-.3l.7 .3l.7-.4l.8-.1l.7-.3l.7 .6l.7-.4l.7 1.1l.7-1.2l.8 1.5l.7-1.5l.7 .1l.7 .3l.7 .1l.7 0l.8-.1l.7-.1l.7 .3l.7-.6l.7-.3l.7 .7l.7-.1l.8 .6l.7-.3l.7-.2l.7-.2l.7 .3l.7-.4l.8-.2l.7-1.6l.7 1.1l.7-2.2l.7-2.7l.7-6.4l.8-5l.7-2.7l.7 .3l.7-1.3"/>
<path id="cv_c3" stroke="#ff6400" d="M154.5 1477.4l.7 .6l.7-.9l.7-1l.8 2.6l.7-.1l.7-.3l.7 .6l.7 .2l.7 .9l.8 .2l.7-.8l.7 1.3l.7-.5l.7-.3l.7 1.4l.8 1.2l.7-.3l.7 .2l.7 1.3l.7-.7l.7-.3l.7 0l.8 1.7l.7-1.7l.7 .2l.7 1.3l.7 .3l.7-1.8l.8 1.7l.7-.6l.7 .3l.7-.4l.7 .3l.7 1.4l.8-.6l.7-1.1l.7 .3l.7-.7l.7-.7l.7 1.2l.7 1.4l.8-.1l.7-1.5l.7 3l.7-1.1l.7-1.5l.7 .6l.8 .1l.7-.4l.7 1.7l.7 .2l.7-1.6l.7 .4l.7-.1l.8-.7l.7-.8l.7-.1l.7 1.4l.7-.1l.7-.2l.8 .1l.7 0l.7-.6l.7-1.3l.7-.3l.7 2.9l.8-1l.7-1.4l.7 .5l.7 1.2l.7 .9l.7-.3l.7-.7l.8 0l.7-1.4l.7 1.3l.7-.8l.7 .7l.7-1.6l.8 2l.7-.9l.7 1.4l.7-2.2l.7 2.1l.7-.4l.8-.6l.7 1l.7-1l.7 2l.7-2.5l.7 3.9l.7-3.1l.8-.4l.7-.2l.7 2.3l.7-.6l.7-.5l.7 .1l.8-.3l.7 2l.7 0l.7 .1l.7-1.5l.7 1.8l.7-.7l.8 .6l.7-.6l.7 1.3l.7 .8l.7-1l.7 .5l.8-.2l.7-.7l.7 1.3l.7-1l.7 1l.7 .7l.8 .7l.7-1.8l.7 1.7l.7 .7l.7-1.2l.7 .2l.7 .4l.8 .1l.7-.6l.7 .8l.7-2.4l.7 .9l.7 1.1l.8 1.1l.7-1.9l.7 .1l.7 .4l.7 1.4l.7-1.4l.8 1.5l.7 1.1l.7-1.2l.7 1l.7-.3l.7 .7l.7-1.7l.8-.2l.7 1.6l.7 .7l.7-1.8l.7 1.1l.7-1.3l.8 .6l.7-1.1l.7 1.1l.7-.4l.7 2l.7-1.1l.8 1.1l.7 .6l.7-2.8l.7 2.9l.7-1.2l.7 .2l.7-.6l.8-1.1l.7 .7l.7 .6l.7-.8l.7 1.3l.7 .6l.8-1.3l.7 .4l.7 1.2l.7-1.9l.7 1.8l.7-1.8l.8 2.3l.7-.9l.7-.4l.7 .4l.7 1.7l.7-2.5l.7 .1l.8 1.8l.7 0l.7-.9l.7 .9l.7-.6l.7 .6l.8-.5l.7 .3l.7 0l.7-.5l.7 .4l.7 .5l.7-.3l.8-1.1l.7 1.3l.7 1.6l.7-1l.7-.3l.7-.6l.8-.9l.7 1l.7-.6l.7 1.1l.7-1.6l.7 1.5l.8-.5l.7 .7l.7-.5l.7 .9l.7-2.1l.7 1.4l.7 .5l.8 .9l.7-1.2l.7-.2l.7 .2l.7 .7l.7-.4l.8-.8l.7 .4l.7-.2l.7 .6l.7 .2l.7 .9l.8-.6l.7-.9l.7 .7l.7-.5l.7 .4l.7 .2l.7 .2l.8-.2l.7 .5l.7 .7l.7 .2l.7 .5l.7-1.7l.8-.2l.7 .1l.7 .8l.7-.6l.7 .3l.7-.9l.7 .8l.8 1.3l.7-2l.7 .5l.7 .4l.7 .7l.7-.9l.8 1.3l.7 .3l.7 .1l.7-.7l.7-.3l.7-.7l.8 .8l.7 .2l.7-1.7l.7 1.7l.7 .1l.7 .3l.7 1.3l.8-1.5l.7 .2l.7 .4l.7-.7l.7 .2l.7-1.4l.8 .6l.7 .4l.7-1l.7 2.1l.7-.2l.7 .1l.8-.5l.7-1.5l.7 2.2l.7-.6l.7 1.5l.7-.7l.7-1.7l.8-.3l.7 1.2l.7 .1l.7 .3l.7 1.2l.7 .1l.8-.7l.7-.2l.7-.4l.7 .6l.7-1.8l.7 2l.8-.6l.7 1.3l.7-2.7l.7 2.1l.7-.2l.7-.5l.7 1.3l.8-1.9l.7-.2l.7 .5l.7 1.2l.7 0l.7-1.6l.8 1.3l.7 1.4l.7-2.2l.7-.1l.7 .5l.7 .6l.8-1l.7 1.1l.7-.1l.7 0l.7-1.7l.7 1.4l.7-.3l.8 .8l.7-1.8l.7 2.2l.7 0l.7-1.8l.7 1.3l.8-1.3l.7-.1l.7 1.8l.7 .3l.7-.9l.7 1.1l.7-1.4l.8 1.4l.7-.7l.7 .8l.7-.2l.7-.8l.7-.4l.8 .7l.7 .2l.7 .7l.7-1.4l.7 .4l.7-.4l.8 1.6l.7-2.3l.7 .9l.7 .8l.7-.3l.7-.6l.7 .6l.8 .6l.7-.6l.7 .3l.7-.4l.7 1.7l.7-1.7l.8 .2l.7-.6l.7-.2l.7 .5l.7 1l.7-.6l.8 .4l.7-.9l.7-.5l.7 1.4l.7-.6l.7 .2l.7 .4l.8 .3l.7-.1l.7-.3l.7-.8l.7 .9l.7-.8l.8 .6l.7-.4l.7-.6l.7 1.3l.7 .9l.7-.9l.7-.8l.8-.2l.7 1.2l.7-1l.7-.4l.7 1l.7 .1l.8 0l.7 .3l.7-1l.7 .7l.7 .5l.7-.2l.8 .7l.7-1.3l.7 0l.7-.2l.7 1.3l.7-.6l.7 .4l.8-.9l.7 .5l.7 .2l.7 .2l.7-.7l.7 .5l.8-.4l.7 1.2l.7-1.6l.7 .8l.7-1.2l.7-.4l.8 .7l.7 1.8l.7 .4l.7-1.2l.7-.3l.7-.9l.7 1.6l.8-.3l.7-.2l.7 .2l.7-.3l.7 1.7l.7-2.3l.8 1.1l.7-.2l.7 .2l.7-.1l.7-.3l.7-.5l.8 1l.7-.5l.7 0l.7 .1l.7-.7l.7 .7l.7-.1l.8 1.2l.7-.4l.7-1.3l.7 1.2l.7-1.6l.7 .5l.8 1.1l.7-.8l.7 .5l.7 .2l.7-1l.7 1.3l.8-.6l.7-.6l.7 1.2l.7-.3l.7 1l.7-.5l.7-.2l.8-.9l.7 .9l.7-.5l.7 .2l.7 .4l.7-.9l.8 1.4l.7-.5l.7-.8l.7 .5l.7 .2l.7 .1l.7-.6l.8-.8l.7 .7l.7 .4l.7-.1l.7-.4l.7 .7l.8-.1l.7 .4l.7-.2l.7 .3l.7-1.7l.7 1.3l.8-1.6l.7 1.2l.7 .1l.7-1.1l.7 .9l.7-.9l.7-1.1l.8 1.1l.7 1l.7-1.7l.7 1.8l.7 .2l.7 1.5l.8-2.1l.7 .9l.7 1.2l.7-1.1l.7 0l.7 1.3l.8-1.4l.7 .4l.7-.1l.7-1.7l.7 .8l.7-.2l.7 .5l.8 .1l.7 .9l.7 .2l.7 .1l.7-.5l.7-.4l.8-.5l.7-1l.7 2.2l.7-.2l.7-.6l.7 .1l.7 .2l.8-.1l.7-.1l.7 .3l.7-.7l.7-.3l.7 .5l.8 0l.7 .6l.7-.2l.7-.4l.7 1.8l.7-1.6l.8-.2l.7 .2l.7 .8l.7-.2l.7-.7l.7-.3l.7 2l.8-2.1l.7 0l.7 .7l.7 .1l.7 .1l.7-.7l.8 1.2l.7-.6l.7 .8l.7-.8l.7 .5l.7-.4l.8 .8l.7-.1l.7-1.2l.7 .7l.7 .6l.7-.8l.7 .7l.8-1l.7 .1l.7 1l.7-1l.7-.4l.7 .6l.8 .1l.7 .3l.7-.2l.7 .1l.7 .6l.7-.2l.8-1.1l.7-.2l.7 1.6l.7-.8l.7 .2l.7-.5l.7 .5l.8-.2l.7-.8l.7 1.6l.7-1.5l.7 .9l.7-.4l.8 .4l.7 .1l.7-.8l.7 1.3l.7-.3l.7-1l.8 .2l.7 .4l.7 .9l.7-1l.7-.3l.7 1.2l.7-.8l.8-.2l.7 .7l.7-1.1l.7 1.9l.7-.6l.7-.1l.8 .8l.7-1.5l.7 .3l.7 1.2l.7-2.5l.7 1.3l.7 .1l.8 .1l.7 .4l.7-1.2l.7-.5l.7 .7l.7-1l.8 1.5l.7 0l.7-1.3l.7 1l.7-.6l.7 1.3l.8-.7l.7 .5l.7-1l.7 .9l.7 .2l.7-.9l.7 .5l.8 .4l.7-.3l.7-1.1l.7 .9l.7 .4l.7-.6l.8 .8l.7-1.4l.7 1.6l.7-.7l.7 .8l.7-.9l.8 0l.7 .3l.7 1.2l.7-1.2l.7-.5l.7 .9l.7-.6l.8 .8l.7-.3l.7-.6l.7 .7l.7 .2l.7-.9l.8-1l.7 1.3l.7 .2l.7-.5l.7 1.4l.7-.8l.7-.2l.8-1.5l.7 1.4l.7-1.2l.7 .9l.7 .6l.7-.6l.8 .7l.7-.6l.7 .3l.7-.9l.7 .7l.7-.8l.8 1.1l.7 .9l.7-.8l.7-1.5l.7 .6l.7 0l.7 .7l.8 .2l.7-.5l.7 1.1l.7-.6l.7 .7l.7-.9l.8 .2l.7-.4l.7 .3l.7-.3l.7 1l.7-.7l.8 .6l.7-.2l.7-.3l.7 .6l.7-.8l.7 .1l.7-1.4l.8 1.1l.7 .2l.7 .4l.7 .2l.7-.6l.7-1.4l.8 2l.7-.5l.7-.6l.7 .3l.7 .9l.7-.6l.8 .5l.7-.6l.7 .3l.7 .3l.7-.8l.7-.1l.7 .1l.8 .2l.7-1l.7 1.6l.7 .2l.7-.6l.7 .1l.8-.6l.7-.4l.7 1.1l.7 .2l.7-.1l.7-1.2l.8 1.5l.7-.5l.7-.5l.7 .5l.7-.3l.7-.7l.7 .6l.8 1l.7-1.4l.7 .3l.7-.6l.7 .5l.7 0l.8 1.4l.7-.7l.7-.6l.7 .9l.7-.3l.7-1.2l.7 1l.8 0l.7-.8l.7 .6l.7 0l.7-1.2l.7 1.3l.8 .1l.7 0l.7-1.1l.7-.7l.7 2l.7-1.3l.8 1.1l.7-1.3l.7 1l.7-1l.7 1l.7 .9l.7-1.3l.8-.6l.7-1.1l.7 .5l.7 .6l.7 .2l.7-.8l.8-1.2l.7-1.3l.7-1.4l.7 1.5l.7-1l.7-3.7l.8-.1l.7-2.6l.7 .6l.7-.8l.7 2l.7 1.9l.7-2.7l.8 2.4l.7 .6l.7 .4l.7-.6l.7 2.2l.7-.2l.8 1.2l.7-1.4l.7 .2l.7 1l.7-.7l.7 1l.8 .7l.7-.4l.7-.9l.7 1.2l.7-.6l.7 1.7l.7-.8l.8-.5l.7 .6l.7-.2l.7-.1l.7 1.5l.7-1.5l.8 .3l.7 1.4l.7 .6l.7-.3l.7 .5l.7-.5l.7 .4l.8 .1l.7-.1l.7 .3l.7-.6l.7 1.4l.7-2.4l.8 1.4l.7-.9l.7 .4l.7-1.1l.7-1l.7-1.2l.8-1.3l.7-3l.7-7l.7-9.7l.7-14.4l.7-16.9l.7-5.6l.8 4.4l.7 19.4l.7 12l.7 11.1l.7 6.8l.7 2.1l.8 2.6l.7 2.1l.7 .6l.7-1.1l.7 .3l.7 1.2l.8-.7l.7 0l.7 1.9l.7-1.4l.7 .9l.7 .4l.7-.5l.8 .5l.7 .9l.7-1l.7 .5l.7-1l.7 1.4l.8-1.1l.7 .4l.7-1.1l.7 .9l.7 .2l.7-.2l.8 1l.7-1.7l.7 .9l.7-.5l.7 1.2l.7-.4l.7-1.3l.8-.1l.7 .5l.7 1.3l.7-.4l.7 0l.7 .2l.8-1l.7 .4l.7 .5l.7-.3l.7 .1l.7 .4l.7-1.1l.8 .8l.7-.5l.7-.6l.7-.9l.7-.1l.7-.5l.8-.8l.7 .8l.7 1l.7-.1l.7 .9l.7-.7l.8 1.3l.7-.2l.7 0l.7-.6l.7 1.4l.7-.7l.7-.1l.8-.5l.7-.1l.7-.1l.7 .6l.7 .1l.7 .4l.8 .1l.7-.8l.7 1l.7 .1l.7-.1l.7-.5l.8-1.3l.7 1.4l.7-.8l.7 1.5l.7-.1l.7 .2l.7-.8l.8-.8l.7 1.1l.7-1l.7 .1l.7 .1l.7-.2l.8 .1l.7 .8l.7 .4l.7-.7l.7 .4l.7-.4l.7-.2l.8 .6l.7-1l.7 .5l.7-1.3l.7 .5l.7-.8l.8 .8l.7-1.1l.7 .3l.7 .4l.7 1.3l.7-.2l.8-.6l.7 .3l.7 .9l.7-.2l.7-.3l.7-.2l.7-.4l.8 1.6l.7-.4l.7-.2l.7-.3l.7-1.3l.7 .7l.8-.2l.7 .4l.7-1.3l.7-.2l.7-1.2l.7-.2l.8-.1l.7 .3l.7-.6l.7 3.2l.7 .5l.7 .7l.7-2l.8 1.6l.7-.3l.7-.7l.7 .7l.7-1.2l.7 1l.8 .5l.7 .5l.7-.1l.7-.7l.7-.7l.7 .2l.8-.6l.7-.1l.7 .3l.7-.5l.7 1.1l.7 0l.7-.9l.8-1.7l.7-.4l.7 .1l.7-2.7l.7-.1l.7-1.3l.8-2.3l.7 .7l.7 .1l.7 2.1l.7 .2l.7 1.8l.8 .9l.7 0l.7 2.5l.7-.6l.7-.6l.7 1.6l.7 0l.8-.3l.7 .4l.7-.2l.7 .9l.7-.1l.7 1.2l.8-1l.7-.1l.7-.6l.7 0l.7 .7l.7-.9l.7 .8l.8-.8l.7 .7l.7-.5l.7 .6l.7 .5l.7-2.1l.8 1.4l.7 .6l.7 .2l.7 0l.7-.6l.7-.9l.8 .1l.7 .9l.7 0l.7-.2l.7 .2l.7 .3l.7-.5l.8-1.3l.7 .9l.7-.4l.7 .4l.7 .6l.7-.4l.8-.5l.7 1.4l.7-.7l.7 0l.7-1.2l.7 2.1l.8-1.5l.7 .8l.7-.1l.7-.5l.7-1l.7 1.8l.7-.9l.8 .2l.7 .3l.7 .2l.7-1.1l.7 .7l.7-.4l.8 .1l.7 .6l.7 0l.7-.9l.7 .9l.7 .5l.7-.1l.8-1.5l.7 .5l.7 .8l.7-.7l.7 0l.7-.8l.8 .7l.7-.8l.7 .9l.7 .4l.7-.1l.7 .4l.8-.7l.7 .3l.7 0l.7-.3l.7-1l.7-.2l.7 .1l.8-.3l.7 .7l.7 .7l.7-1.1l.7-.2l.7 0l.8 .4l.7-1.1l.7 .6l.7-.7l.7-1.4l.7 1l.8 .2l.7-2.1l.7-.3l.7-.2l.7-1.8l.7-.4l.7-3l.8-2.4l.7-4.2l.7-5l.7-14l.7-15.6l.7-24.7l.8-50.4l.7-78.4l.7-53.5l.7 54.1l.7 79l.7 48.5l.8 28.4l.7 16.4l.7 8.5l.7 7l.7 3.7l.7 2.4l.7 1.9l.8 .4l.7 1.8l.7 2.5l.7 .6l.7 .7l.7-.3l.8 2.2l.7-.2l.7 .2l.7-.7l.7 .3l.7-.3l.8-.3l.7 2l.7-.7l.7 .2l.7-.1l.7 .7l.7 .8l.8-.8l.7 .4l.7 .7l.7-1l.7 .3l.7 .4l.8-.4l.7 .7l.7 .3l.7 .1l.7-1.3l.7 .2l.7 .6l.8 .1l.7-1l.7 1.9l.7-.3l.7-1.8l.7 .6l.8 .2l.7-.3l.7-1.4l.7 .3l.7-1.4l.7-.7l.8 0l.7 2.3l.7-.6l.7-1.2l.7 .7l.7 .5l.7-1.1l.8-2.2l.7-6.7l.7-7.2l.7-1.5l.7 4.8l.7 2.6l.8 3l.7 1.6l.7 2.8l.7 2l.7 .5l.7-.4l.8-1.2l.7 .4l.7 .3l.7 .5l.7-.2l.7-.9l.7 .3l.8 2l.7-1l.7 1l.7 .5l.7-.1l.7 0l.8 .6l.7 1.3l.7 .3l.7-.9l.7 2.3l.7-.9l.7-1l.8 .5l.7 1.2l.7-1l.7 0l.7 1.1l.7-.2l.8 .6l.7-.5l.7 .1l.7 .1l.7-.4l.7 1l.8-1l.7 .4l.7-.6l.7 1.4l.7-.5l.7-.7l.7 .3l.8 .6l.7-1.5l.7-.3l.7 1.7l.7-.2l.7-.5l.8 .7l.7-1.2l.7 .9l.7 1.1l.7-.9l.7-.4l.8 .5l.7 .3l.7-.6l.7 .6l.7-.8l.7-.1l.7 .1l.8-.5l.7 1.7l.7-.7l.7 .8l.7-1l.7 .5l.8-1.5l.7 .8l.7 .3l.7 0l.7-.2l.7-.8l.8 1.6l.7-.4l.7 .2l.7-.2l.7 0l.7-.4l.7 1l.8-1.3l.7 .5l.7-.5l.7 .1l.7 0l.7 .3l.8 .4l.7-.4l.7 .1l.7 .6l.7-.2l.7-.1l.8-.1l.7-.4l.7 1l.7-1.3l.7 1.5l.7-1.2l.7 0l.8 .9l.7 .4l.7-1.3l.7 .4l.7-.6l.7 0l.8 1.2l.7 .5l.7-.4l.7 .3l.7-1.5l.7 1.2l.7-.8l.8 .5l.7 .5l.7-1.6l.7 1.1l.7-.3l.7-1l.8 .7l.7 .5l.7-.5l.7 1l.7-.4l.7-.4l.8-.1l.7 .5l.7-.1l.7-1.3l.7 1l.7 .6l.7-1.7l.8 1.6l.7-1.3l.7 0l.7 .6l.7 .5l.7 .5l.8-.9l.7-.8l.7 .5l.7 .2l.7 .6l.7 .1l.8 .1l.7-.8l.7 1l.7-.8l.7-.1l.7-.3l.7 .2l.8 .8l.7-.9l.7 1.5l.7 0l.7-.7l.7-1.4l.8 .4l.7 .7l.7 0l.7 0l.7 .2l.7-.9l.7 1l.8 0l.7-.6l.7-.5l.7 .3l.7 1.4l.7-.9l.8-.1l.7-.3l.7-.7l.7 1.5l.7-.2l.7 0l.8-1.4l.7 1.5l.7 .2l.7-.2l.7-.8l.7 .4l.7 1.3l.8-1l.7-.1l.7-.2l.7 1.2l.7-.7l.7 .1l.8-1l.7 .3l.7 .1l.7-.4l.7 .8l.7-.6l.8 .7l.7-.3l.7-.1l.7-.1l.7-.6l.7 1.6l.7-1.1l.8 .7l.7-.4l.7 .3l.7-.7l.7-.3l.7 1.4l.8 0l.7-.6l.7-1.4l.7 1.4l.7 .5l.7-.2l.8-.8l.7 .9l.7-.5l.7-.1l.7 .1l.7-.4l.7-.2l.8 .3l.7-.1l.7-.2l.7 1l.7-.5l.7 .2l.8-.2l.7 0l.7-.9l.7 .7l.7-.5l.7-.2l.8 1.4l.7 .1l.7-.8l.7 .2l.7 0l.7-.5l.7 .7l.8-.8l.7-.9l.7 .9l.7 .2l.7-.2l.7-.7l.8 0l.7-.9l.7-.3l.7 .9l.7-1.7l.7-2.2l.7-5.9l.8-5.4l.7-7l.7-2.5l.7-3.9l.7 .7l.7 .7l.8 4l.7 1l.7 6.1l.7 2.7l.7 3l.7 3.5l.8 .9l.7 2l.7 1.4l.7 0l.7 1l.7 .8l.7 .4l.8 1.1l.7-1l.7 .6l.7-.1l.7 .4l.7 .9l.8-.5l.7 .6l.7-.2l.7 .1l.7 .3l.7-1l.8 .4l.7-.1l.7 .8l.7-1.4l.7 1.2l.7-1.2l.7 1.8l.8-.6l.7-.2l.7-1.1l.7 1.8l.7 .5l.7-1.7l.8 .3l.7 0l.7 .2l.7-.2l.7 .3l.7-1.2l.7 .7l.8-.5l.7 .8l.7 .2l.7-.3l.7 .7l.7-.4l.8 0l.7-.3l.7 .3l.7-.1l.7-.4l.7 1l.8-.7l.7 .3l.7-.1l.7 .2l.7 .2l.7-.4l.7 0l.8 .3l.7-.4l.7-.6l.7-.2l.7 .4l.7 1.2l.8-1.6l.7 1.8l.7-1l.7-.9l.7 .3l.7-.3l.8 1.2l.7-1.2l.7 .5l.7-1.3l.7 0l.7 0l.7 0l.8-.4l.7-.1l.7-1.3l.7 .8l.7-.1l.7-1l.8 .9l.7-.1l.7-1.2l.7-.5l.7 1.2l.7-.7l.8 .5l.7 .2l.7 1.8l.7-.8l.7 .9l.7-.3l.7 .6l.8-1.2l.7 1.1l.7 .7l.7-1.3l.7 .6l.7 .4l.8-1l.7-.5l.7 1.1l.7 .1l.7-.3l.7-.2l.8-1.7l.7-2.4l.7-1.6l.7-6.3l.7-5l.7-5.7l.7 .1l.8-3l.7 2.2l.7-.1l.7 1l.7 3.7l.7 3.7l.8 2.2l.7 3.5l.7 1.4l.7 3.6l.7 .8l.7 1.2l.7 1.1l.8 .9l.7-.8l.7 .5l.7 1.6l.7-.7l.7 .1l.8 .9l.7-.2l.7 .1l.7 .5l.7 .4l.7-1.6l.8 .2l.7 1.1l.7-.8l.7 1.3l.7-.1l.7-.5l.7 0l.8-.7l.7-.3l.7 1.2l.7 .7l.7-1.7l.7 .5l.8-.1l.7-.1l.7-.6l.7 .2l.7-3.4l.7-3.9l.8-8.8l.7-5.9l.7 1l.7 2.6l.7 2.1l.7-.5l.7 4.3l.8 1.3l.7 2.7l.7 4.7l.7 .2l.7 2.1l.7 .1l.8 1.2l.7 .3l.7 1l.7 .2l.7 .1l.7-.5l.7-.3l.8 .8l.7-.4l.7 .6l.7 .7l.7-1.2l.7 .7l.8 .2l.7-1.6l.7 .1l.7 .3l.7-.6l.7 .5l.8-.6l.7 2.2l.7-1.3l.7 .5l.7 1l.7-1.5l.7 .3l.8-.2l.7 .2l.7-.1l.7 .9l.7-.6l.7-.1l.8-.1l.7 .2l.7-.2l.7-.2l.7 .8l.7-.5l.8-.3l.7 .2l.7 .3l.7 .3l.7-1.6l.7 .8l.7 .1l.8 .3l.7 0l.7-.3l.7 .1l.7 0l.7 .3l.8 0l.7 .5l.7-.5l.7 .6l.7-1.1l.7 .1l.8-.8l.7 .9l.7 0l.7 .7l.7-.1l.7-.9l.7 1.3l.8-.7l.7-.2l.7 1.3l.7-.7l.7 .3l.7-.1l.8-1l.7 .1l.7-.1l.7 .2l.7 0l.7-.4l.7 1.2l.8-1.4l.7 .5l.7 .6l.7 .3l.7-.7l.7 0l.8-.3l.7 .6l.7 .4l.7-.4l.7-.5l.7 .3l.8-.5l.7 .3l.7-.8l.7 .1l.7 .5l.7 .8l.7-1.2l.8 1.6l.7-.1l.7-.6l.7 .1l.7-.4l.7-1l.8 1.1l.7 .3l.7 .1l.7-.2l.7 .7l.7-.8l.8-.1l.7 .4l.7-.7l.7 .3l.7-.3l.7 .1l.7 .8l.8 0l.7-.7l.7 .1l.7-.2l.7 1.3l.7-1.5l.8-.4l.7 .2l.7 1l.7-.4l.7-.6l.7 .9l.8-.6l.7-.3l.7-.6l.7-.9l.7-1l.7-5.6l.7-5.9l.8-1.5l.7 1.9l.7 1.4l.7 2.2l.7-1.9l.7 4.2l.8 0l.7 2.8l.7 2l.7-.2l.7 1.8l.7 .6l.7 .6l.8-1.3l.7 1.9l.7 .1l.7 0l.7 .2l.7-.1l.8-.7l.7 .2l.7-.1l.7 .5l.7-1.4l.7 .7l.8 .2l.7 .7l.7 .2l.7-.8l.7-.3l.7 .7l.7-.3l.8 .6l.7 .1l.7-1.3l.7 .5l.7-.8l.7-.5l.8-1.8l.7-.4l.7-3l.7-1.4l.7-.6l.7 1.4l.8 1.9l.7-.7l.7-.3l.7 .5l.7 1.3l.7 1.3l.7 0l.8 1.5l.7 1.3l.7-.1l.7-.9l.7 1.3l.7 .8l.8-.8l.7-.2l.7 .3l.7-.3l.7-.3l.7 1.5l.8-.4l.7-.8l.7-.6l.7-2.3l.7-.8l.7 .3l.7-3.7l.8-.4l.7 .1l.7 2.2l.7-2.5l.7 1.6l.7 2.2l.8-.3l.7 .2l.7 .9l.7 0l.7 2.7l.7-1.5l.8 1.6l.7-.2l.7-.2l.7-.4l.7 1l.7 .5l.7-.1l.8 1.2l.7-1.6l.7 1l.7-.3l.7-.5l.7 .6l.8-.3l.7 .4l.7 .4l.7 .6l.7-.6l.7-.5l.7 1.1l.8-1.3l.7 1l.7-.7l.7 .5l.7-.3l.7-.7l.8-.2l.7-.3l.7 .8l.7 .2l.7 .3l.7-1.2l.8 .7l.7 .2l.7-.6l.7 1l.7-1l.7 .5l.7-.8l.8 1.3l.7-.7l.7-.2l.7 .1l.7 .6l.7-.8l.8 0l.7-.3l.7 1.3l.7-.8l.7 0l.7 .7l.8 0l.7 .5l.7-1.3l.7 .4l.7-.4l.7 .2l.7 .2l.8-.5l.7 0l.7-.1l.7 .5l.7 0l.7-1.6l.8-1l.7-1.3l.7-3.7l.7-5.3l.7 1.2l.7 0l.7 2.7l.8 1.4l.7-2.2l.7 1l.7 1.1l.7 2.7l.7 .1l.8 2.6l.7-.2l.7 .6l.7 .7l.7 .5l.7 .7l.8-.2l.7 .1l.7-.9l.7 .3l.7 .1l.7 1.2l.7-1.3l.8 .7l.7-.2l.7 .7l.7-.8l.7-.2l.7 1.4l.8-.5l.7-.9l.7 1.4l.7-1.5l.7 1.6l.7-.3l.8-.1l.7-.1l.7-.5l.7 .1l.7 .1l.7 .2l.7-.2l.8-.9l.7 1.2l.7-.7l.7 .4l.7 .6l.7-.4l.8 .5l.7-.3l.7-.4l.7 .7l.7-1.7l.7 1.3l.8-1.3l.7 .3l.7 .1l.7 .6l.7 1.2l.7-.6l.7-.7l.8 .2l.7-.4l.7-.8l.7 1.3l.7 .3l.7-.7l.8 .7l.7-1.1l.7 1.5l.7-.3l.7-1.1l.7 1.2l.8-.2l.7-.7l.7 .8l.7-1.1l.7 .5l.7 .1l.7 .2l.8-.5l.7 .1l.7-.3l.7-.4l.7 .3l.7 .8l.8-.3l.7-.8l.7 .8l.7 .9l.7-1.4l.7 .5l.7-.6l.8 .7l.7-.7l.7 1.2l.7-.2l.7-.9l.7 .7l.8 .2l.7-.5l.7-.4l.7 .8l.7 .6l.7-1.6l.8 1.1l.7-.2l.7 1l.7-1.3l.7 .2l.7 .9l.7-1.7l.8 .7l.7 .2l.7-.6l.7 1.6l.7-.5l.7-1.7l.8 1.3l.7-.5l.7 .7l.7-.5l.7 .2l.7 .5l.8 .5l.7-1.2l.7-.6l.7 .8l.7-.5l.7-.2l.7 1.1l.8-.3l.7-.8l.7 1.1l.7-.4l.7 0l.7-.1l.8 .8l.7-.5l.7-.7l.7 1.5l.7-1.7l.7 .7l.7 .3l.8 .4l.7-1l.7 .2l.7 .5l.7-.3l.7-1l.8 .7l.7-.6l.7 .2l.7 .8l.7-.6l.7 .7l.8-.7l.7 .1l.7-.5l.7 .6l.7-.3l.7 .4l.7-.9l.8-.4l.7-.5l.7-2.2l.7-4.1l.7 .4l.7-.4l.8 1.1l.7 2l.7-.1l.7 0l.7-.2l.7 1.4l.8 1.2l.7-.2l.7-.1l.7 2.1l.7-.7l.7 1l.7-.3l.8-.7l.7 1.3l.7-1.1l.7 1.6l.7-.5l.7-.6l.8 .7l.7 .8l.7 .1l.7-.8l.7 1.1l.7-1.4l.8-.2l.7 .5l.7 .4l.7-.2l.7-.1l.7 .5l.7-.8l.8 1.4l.7 0l.7-1.3l.7-.4l.7 .7l.7-.2l.8-.6l.7 .5l.7 .1l.7-.2l.7-.3l.7 .2l.8 .2l.7 0l.7 .4l.7-.4l.7 .2l.7 .1l.7 .2l.8 .6l.7-.8l.7-.4l.7 0l.7-.6l.7 1.3l.8-.2l.7-.7l.7 .9l.7 .1l.7-.5l.7-.8l.7 .9l.8 .1l.7-.1l.7-.1l.7 .5l.7-.3l.7-.8l.8-.6l.7 1.3l.7-.8l.7 0l.7-.1l.7 .8l.8-.8l.7 1.4l.7-.4l.7-.4l.7 .7l.7-1.3l.7 .9l.8-.2l.7 .3l.7 .1l.7 0l.7 .2l.7-.5l.8-1l.7 0l.7 .6l.7-.7l.7 1.6l.7 0l.8-.2l.7 .3l.7-.9l.7-.6l.7 .1l.7 .5l.7 .1l.8 .3l.7-.3l.7-.3l.7-.5l.7 1.8l.7-.2l.8-1.1l.7 .5l.7-.3l.7-.8l.7 .9l.7 0l.7 .9l.8 .4l.7-1.2l.7 0l.7 .6l.7-1.5l.7-.1l.8 .2l.7 1.5l.7 .2l.7-.5l.7-.4l.7-.3l.8 .1l.7 .2l.7 .4l.7-.4l.7-.9l.7 1l.7 .6l.8-.4l.7-.8l.7 .3l.7 .6l.7-.4l.7-.9l.8 1.2l.7-.9l.7 .9l.7 .2l.7-1.1l.7 1l.8-.4l.7 0l.7 .8l.7-1.2l.7 1.1l.7-.6l.7 0l.8 .1l.7-.2l.7 .5l.7-.1l.7 0l.7-.3l.8 .8l.7-1l.7 .3l.7 .5l.7-.2l.7-.8l.8 .7l.7 .2l.7-.5l.7-.3l.7 .7l.7-.2l.7-.3l.8-.3l.7 .7l.7-1.6l.7 1.1l.7-.8l.7-1.2l.8-1l.7-1.6l.7-.4l.7-1.7l.7-1.6l.7 .8l.8-1.2l.7 1.9l.7 .9l.7 .3l.7-.2l.7 2l.7 .9l.8 0l.7 .4l.7 .4l.7 .8l.7 .3l.7 .4l.8-.3l.7-.1l.7 .9l.7-.3l.7-.7l.7 .2l.7 .9l.8-.7l.7 .5l.7-.8l.7 .7l.7-.5l.7 .3l.8-.1l.7 0l.7-1.4l.7-3.9l.7-7.1l.7-14l.8-1.1l.7 5.3l.7 7l.7 5.8l.7 2.7l.7 2.8l.7 0l.8-3.4l.7-3.4l.7-1.3l.7 1.1l.7 3.4l.7 2.2l.8 1.6l.7 2.2l.7 1.6l.7-.3l.7 .4l.7 .1l.8 .2l.7-.2l.7-.1l.7-1.1l.7-.1l.7 .6l.7 .1l.8-.5l.7 1.4l.7-.8l.7-.6l.7 .7l.7-.1l.8 1l.7 .5l.7-.9l.7 .7l.7 .3l.7-1.1l.7 .7l.8 .4l.7-.3l.7-.8l.7 .3l.7 .2l.7 .4l.8-1.5l.7 .7l.7 0l.7 1l.7-1l.7-.2l.8 .6l.7 .3l.7-.5l.7 .4l.7 .1l.7 .4l.7-.6l.8 .3l.7-.8l.7-.3l.7 1.6l.7-1.5l.7 .7l.8-.3l.7 .4l.7-1.2l.7 1.1l.7 0l.7 .3l.8-.4l.7-.5l.7 1l.7-.7l.7 .5l.7 .6l.7-.5l.8 .2l.7 .1l.7-.7l.7-.4l.7 .1l.7 .2l.8 .4l.7-1.2l.7 1.6l.7-.5l.7 1.1l.7-1.2l.8-.3l.7-.3l.7 1.6l.7-.8l.7 .2l.7-.2l.7-.3l.8 .2l.7-1l.7 1.6l.7-.9l.7-.4l.7 1.2l.8 .6l.7-1.9l.7 0l.7 .5l.7-.1l.7 .3l.8 .2l.7-.3l.7 .1l.7 .1l.7 .3l.7-.2l.7-.3l.8-.1l.7-.4l.7 .8l.7 .3l.7 .4l.7-1.3l.8 .3l.7 .5l.7-.5l.7 .4l.7-.3l.7 0l.7 .7l.8-.5l.7-1.1l.7 1.2l.7-.1l.7-.9l.7 .7l.8-.8l.7 .9l.7 .4l.7-.3l.7-.1l.7 .1l.8-.6l.7 .7l.7-.9l.7 .8l.7-.6l.7 .7l.7 .2l.8-.2l.7-.4l.7 .8l.7-1.5l.7 .9l.7-.1l.8-.4l.7-.5l.7 .9l.7 .1l.7 .8l.7-1.3l.8-.1l.7 1l.7 0l.7 .3l.7-1.2l.7 .7l.7 .4l.8 .4l.7-1.7l.7 1.1l.7 .1l.7-.5l.7 .6l.8 .2l.7-1.3l.7 .4l.7 .2l.7-.3l.7 .3l.7-.2l.8-.1l.7 0l.7 1.2l.7-.7l.7-.8l.7 .3l.8 0l.7-.4l.7 .9l.7-.2l.7-1.6l.7-1l.8 .1l.7 0l.7-2.3l.7-2.5l.7-2.4l.7-.1l.7-1.8l.8 1.9l.7-1.4l.7 1.2l.7 2.3l.7-.9l.7 2.5l.8 0l.7 1.7l.7 .1l.7 .9l.7-.6l.7 1.6l.8 .3l.7 1l.7 .2l.7-.2l.7 .4l.7-.6l.7 0l.8 1.3l.7-.2l.7-1.1l.7 .6l.7-.4l.7 .7l.8 .5l.7 0l.7-.2l.7-.7l.7-.4l.7 1.6l.8-1.2l.7 0l.7-.4l.7 .5l.7-1.5l.7-.5l.7-1.7l.8-3l.7-.1l.7 .1l.7 1.8l.7 1.4l.7 .4l.8 .1l.7-.7l.7-.7l.7 .6l.7 1.1l.7-.3l.8 1.6l.7 .6l.7 .2l.7 1l.7-.7l.7 .5l.7-.3l.8 .3l.7-1.3l.7-.5l.7-.6l.7-.2l.7 1.2l.8 .3l.7-.2l.7 1.2l.7-.3l.7 .2l.7 .6l.7-.1l.8 .6l.7-.5l.7 .8l.7 .2l.7-1.3l.7 1.5l.8-1.7l.7 1.2l.7-1.2l.7 .8l.7-.3l.7-.9l.8 1.1l.7 0l.7 .4l.7-1.1l.7 .2l.7-.3l.7 1l.8-.3l.7 0l.7-.2l.7 0l.7 .8l.7 0l.8-.3l.7-.1l.7-.1l.7 .1l.7-.2l.7 1l.8-1.2l.7 0l.7 .5l.7 .8l.7-1.4l.7 .2l.7-.9l.8 1l.7 .3l.7 .2l.7-.8l.7 .5l.7-.6l.8 .8l.7-.1l.7-.5l.7 .5l.7 .3l.7 0l.7-.3l.8-1.1l.7 .7l.7 .8l.7-.4l.7-.6l.7 .4l.8-.4l.7 1.3l.7-.2l.7-.6l.7 .1l.7 .6l.8-1.3l.7 .7l.7-.5l.7 .1l.7 .6l.7-.3l.7 .9l.8-1.5l.7 .4l.7 .5l.7-.5l.7 .7l.7 .2l.8-.5l.7-.8l.7-.5l.7 1.9l.7-.9l.7 0l.8-.3l.7 1.4l.7-.9l.7-.4l.7 .5l.7-.4l.7-.1l.8-.4l.7 .3l.7 .8l.7-.9l.7 .3l.7-.4l.8 .1l.7 .6l.7 .2l.7 .6l.7-.1l.7-.5l.8 .3l.7-.8l.7-.1l.7 .1l.7 1.1l.7-1l.7 .1l.8 .6l.7-.1l.7-.3l.7-.2l.7 .3l.7-.1l.8 .5l.7-1.1l.7 .5l.7 0l.7 .1l.7-.2l.8-.1l.7 .6l.7-.3l.7 .5l.7-1.6l.7 1.1l.7-.5l.8 .4l.7-.4l.7 .9l.7 .7l.7-.3l.7-.3l.8-.1l.7-.7l.7 0l.7 .6l.7-.6l.7 .6l.7 .2l.8-.1l.7-.7l.7 0l.7 .9l.7-.1l.7-1.2l.8 .2l.7-.4l.7-.2l.7-.3l.7-1l.7-.3l.8-.5l.7 .4l.7 0l.7-.2l.7 1l.7-.1l.7 1.6l.8-.1l.7 .1l.7 .1l.7-.8l.7 .1l.7 .7l.8 .4l.7-.5l.7 0l.7 .9l.7-.2l.7-.4l.8-.8l.7 .6l.7-.6l.7 1.3l.7-.6l.7-.1l.7-.3l.8 1l.7-.3l.7 .6l.7-.7l.7-.2l.7-.2l.8 .5l.7-.7l.7 1.1l.7 .3l.7 0l.7-1.6l.7 .3l.8 .1l.7 .3l.7 .9l.7-1.7l.7 1.6l.7 0l.8-.7l.7-.6l.7 .8l.7-.6l.7 .7l.7 0l.8 0l.7 .2l.7 .3l.7-1.4l.7 1.2l.7-1.4l.7 1.9l.8-1.1l.7 .5l.7 .1l.7-.4l.7-.9l.7 .8l.8 .1l.7-1.1l.7 .5l.7-3.3l.7-.9l.7-6.4l.8-4.9l.7-.9l.7-1.3l.7 1.5"/>
<path id="cv_c5" stroke="#4196d2" d="M154.5 1403.7l.7 .2l.7 1.2l.7-.6l.8-.5l.7 1.3l.7 .7l.7 .9l.7 .9l.7-2l.8 .9l.7 .6l.7 1.1l.7-.5l.7-.1l.7 .5l.8-.5l.7 .6l.7 .9l.7-.1l.7-.7l.7-.2l.7 2.3l.8 .1l.7-.8l.7 0l.7 .9l.7 .1l.7 .4l.8 .4l.7-.8l.7-1.5l.7 2l.7-.6l.7-.8l.8 1.7l.7 .7l.7-1.3l.7 .8l.7 .4l.7-.4l.7 .3l.8-.5l.7 .2l.7 .2l.7 .4l.7-.1l.7-.6l.8 .2l.7 .7l.7 0l.7-.2l.7 .6l.7-.5l.7 1.5l.8-1l.7 1.5l.7-1l.7-1l.7 1.4l.7-.7l.8 0l.7 .3l.7 1.3l.7-1l.7-.6l.7-.3l.8 .6l.7 .4l.7-.2l.7 .5l.7-.3l.7 .4l.7-1.3l.8 2.4l.7-1.8l.7 .9l.7 0l.7 .3l.7 .4l.8-.3l.7 .7l.7-1.5l.7 1.9l.7-1l.7 1l.8-.5l.7 .3l.7 0l.7 .7l.7-1.7l.7 .8l.7 .5l.8-.5l.7 1.4l.7-1.7l.7 1.7l.7-1.4l.7-.8l.8 1.8l.7-1.6l.7 1.1l.7 .9l.7-.1l.7-.2l.7-.6l.8 .3l.7-.8l.7 .5l.7-.1l.7 .1l.7 1.1l.8-.8l.7-.1l.7-.1l.7 1.2l.7-.7l.7 .2l.8 0l.7-.2l.7 .6l.7-.1l.7-.6l.7 .1l.7-.1l.8 .5l.7 1.2l.7-1.3l.7 .8l.7-1.2l.7 .8l.8 .5l.7-.5l.7 .2l.7 .8l.7-1.7l.7 1.1l.8 .5l.7 .1l.7-1l.7-.3l.7 .7l.7-.3l.7 0l.8-.1l.7-.6l.7 1.8l.7 .2l.7 .1l.7-.6l.8-.5l.7 0l.7 .7l.7-.3l.7 1l.7-1l.8 .4l.7 .8l.7-1.2l.7-.4l.7 .3l.7 1.3l.7-.3l.8-1.1l.7 1.1l.7-.4l.7 1l.7-.8l.7 0l.8 0l.7 .4l.7 .9l.7-1.5l.7 1.2l.7-1.2l.8 .6l.7-.7l.7 .9l.7-1.1l.7 1.8l.7-.5l.7-.9l.8 .3l.7-.4l.7 1.2l.7-.6l.7 .8l.7-1.4l.8 1.3l.7-.4l.7 1.1l.7-.8l.7 .3l.7 .4l.7-.1l.8-1.1l.7 .9l.7 .1l.7-.2l.7-1.1l.7 .9l.8-.2l.7 .7l.7-.6l.7 .1l.7 .2l.7 .1l.8-.2l.7-.8l.7 .2l.7 1.1l.7-.1l.7-.4l.7 1.1l.8-1.4l.7 1.2l.7-1.4l.7 .2l.7 .7l.7-.1l.8 .7l.7-1l.7-.3l.7 1.1l.7 .1l.7-1.5l.8-.5l.7 .1l.7 1.6l.7-1.6l.7 1.2l.7-.3l.7-.2l.8 .9l.7-1l.7 1.3l.7-.6l.7-.4l.7-1.2l.8 .3l.7 .4l.7-.6l.7-.3l.7 .3l.7 .2l.7 .2l.8-.5l.7 .4l.7-.6l.7 1.2l.7-.7l.7-.2l.8-.6l.7-.2l.7 .1l.7 .3l.7-1.2l.7 .4l.8 .5l.7 0l.7-.3l.7 .7l.7 .9l.7-1.3l.7 1.1l.8-1.1l.7 .5l.7 1.1l.7 0l.7-.5l.7 0l.8 1.4l.7-2.3l.7 2l.7-1l.7-.5l.7 2l.8-1.1l.7 .9l.7-.5l.7 1.1l.7-.3l.7 .9l.7-1l.8 .1l.7-.5l.7 1.7l.7-.2l.7-.1l.7-.1l.8 .7l.7-.2l.7 .2l.7-.1l.7 1.4l.7-1.1l.8 0l.7-.5l.7 1.5l.7-.1l.7 0l.7 .3l.7 .2l.8-.9l.7-.2l.7-.1l.7 1.7l.7-.8l.7 .9l.8-.5l.7-.7l.7 1.6l.7-.9l.7 .1l.7-.4l.8 .5l.7-.7l.7-.4l.7 .6l.7 .5l.7 0l.7-.5l.8 .2l.7 .7l.7-1l.7 .1l.7 1l.7-.5l.8 .3l.7 .1l.7-.5l.7 .4l.7 .3l.7-.2l.7 .2l.8-.3l.7-.6l.7 .5l.7 .3l.7-.2l.7 .3l.8 .5l.7-.5l.7-.2l.7 .5l.7 .4l.7-.8l.8 .3l.7-1.1l.7 1.4l.7-.5l.7-.5l.7 1.2l.7-1.2l.8 1.6l.7-1.4l.7 .3l.7-.1l.7-.4l.7 0l.8 1.3l.7-.1l.7-.6l.7 0l.7-.5l.7 1.6l.8-1.4l.7 1l.7-.6l.7 .6l.7-.1l.7 .2l.7-.5l.8 .7l.7-1.4l.7 .4l.7-.2l.7 .2l.7 .2l.8 .1l.7-.6l.7 .6l.7 0l.7-.9l.7 1.2l.7 .2l.8-.8l.7-.7l.7 1.5l.7-.9l.7 .9l.7-.6l.8 .4l.7 .3l.7-.2l.7-.8l.7 1.3l.7-.7l.8-.3l.7 .3l.7-.6l.7 1.4l.7-1.3l.7 .2l.7-.2l.8 .9l.7-.6l.7 .3l.7-.2l.7-.4l.7 1l.8 .1l.7-.3l.7 .1l.7-.9l.7 .8l.7-.1l.8-.7l.7-.3l.7 1l.7 .4l.7-.3l.7 .2l.7-.1l.8-.7l.7 .5l.7 .4l.7-1l.7 .6l.7-.4l.8 .9l.7-.3l.7 .1l.7 .4l.7-.7l.7 .3l.8-.3l.7-.9l.7 .9l.7 .4l.7-.6l.7 .3l.7 .3l.8-.7l.7 1l.7-.4l.7-.5l.7 1.5l.7-1.1l.8-.1l.7 .2l.7 0l.7 .7l.7-.8l.7 0l.8-.2l.7 .4l.7 .1l.7-.9l.7 .5l.7-.2l.7 .4l.8 .8l.7-.6l.7 .8l.7-.7l.7-.5l.7 .9l.8-.2l.7 .7l.7-1.3l.7 .1l.7 .1l.7 .3l.7-.3l.8 .1l.7 .3l.7 .4l.7-1l.7 .8l.7-.8l.8 .2l.7 .2l.7-.4l.7 .1l.7 1.2l.7-.1l.8-.9l.7-.3l.7 .9l.7-1.3l.7-.8l.7-1.8l.7-.6l.8 .8l.7 2.1l.7-.1l.7 .3l.7 .9l.7 .6l.8 .5l.7-1.5l.7 .2l.7 .1l.7-.3l.7 .3l.8 1.3l.7-.5l.7-.3l.7-.1l.7-.1l.7 0l.7-.5l.8 .8l.7-.1l.7 .2l.7-.3l.7-.3l.7 .7l.8-.3l.7 .2l.7-.1l.7 .7l.7-1.2l.7 1.4l.7-1l.8-.5l.7 0l.7 .7l.7-.6l.7 .5l.7 .2l.8 .1l.7-.1l.7-.2l.7-.1l.7 .6l.7-1.2l.8 .6l.7-.1l.7-.4l.7 .1l.7 .4l.7 .6l.7 0l.8 0l.7-.7l.7 .5l.7-.5l.7 .3l.7-.7l.8 .9l.7-.7l.7 .5l.7-.1l.7-.6l.7-.2l.8 .1l.7 1.3l.7-.6l.7-.3l.7 .8l.7 .3l.7-.5l.8 .1l.7 0l.7-.7l.7 1l.7 0l.7-.7l.8 .5l.7-.8l.7 .1l.7 0l.7 .8l.7 .3l.8-1.5l.7 1.1l.7 .6l.7-1.4l.7 .9l.7-.1l.7-.5l.8 .5l.7 0l.7-.1l.7 .5l.7-.1l.7-.5l.8 .3l.7 .8l.7-.3l.7-.8l.7-.2l.7-.2l.8 .3l.7-.2l.7 1l.7 0l.7-.9l.7 .7l.7-.5l.8-.4l.7 1.2l.7-.3l.7-.7l.7 1.1l.7-.9l.8 0l.7 .1l.7-.7l.7 1.3l.7-.5l.7-.4l.7 .5l.8-.7l.7 .9l.7 .1l.7 .3l.7-.3l.7-.8l.8 .4l.7 .8l.7-.8l.7 .1l.7-.5l.7 .4l.8 .7l.7-1.4l.7 .5l.7 .8l.7 .1l.7-.5l.7 .1l.8-.8l.7 1.7l.7-1.5l.7 .3l.7 .1l.7 0l.8 .3l.7-1.1l.7 1.4l.7 0l.7-.1l.7-.3l.8 .1l.7-.2l.7 .5l.7-.4l.7 0l.7-.2l.7-.2l.8 .1l.7 .5l.7-.2l.7 .1l.7-.2l.7-.6l.8-.2l.7 1.4l.7-.2l.7 .1l.7-1.2l.7 .6l.7 1l.8-1l.7 .2l.7-.3l.7 .8l.7-.6l.7 .4l.8 0l.7-.5l.7 .6l.7-.8l.7-.2l.7 1l.8-.5l.7 1.2l.7-1.1l.7-.2l.7 .1l.7 0l.7-.2l.8 .5l.7 .3l.7-.7l.7 .1l.7-.1l.7-.1l.8 .7l.7-.2l.7-.3l.7-.2l.7 .4l.7 .2l.8-.9l.7 .5l.7 .1l.7-.6l.7 .6l.7 0l.7-.5l.8 .9l.7-.9l.7 .6l.7-.5l.7 .3l.7-.1l.8-.5l.7 .6l.7 0l.7 .2l.7-.3l.7 .7l.8 .3l.7 0l.7-.6l.7 .2l.7-.2l.7 .1l.7-.2l.8 .5l.7-1.1l.7 .9l.7-.3l.7-.7l.7 .1l.8 1.4l.7-.8l.7 0l.7-.1l.7 .1l.7 .3l.8-.6l.7 1.3l.7-.6l.7-.2l.7-.3l.7-.4l.7 .7l.8-.3l.7 .3l.7-.2l.7 .6l.7 .4l.7-.9l.8-.1l.7 .2l.7-.3l.7-.2l.7 .5l.7-.2l.7-.7l.8 .2l.7 .3l.7-.2l.7-.5l.7 1.3l.7-.6l.8 .9l.7-.9l.7 1.1l.7-1l.7 .2l.7-.2l.8-.2l.7 0l.7 .4l.7-.3l.7 .3l.7 0l.7-.6l.8 .5l.7-1.5l.7 .3l.7 .2l.7 .3l.7-.4l.8-1.5l.7-.8l.7-.3l.7-.9l.7-1.8l.7-.4l.8-.2l.7-.3l.7-1.1l.7 .3l.7 .4l.7-.8l.7 1.4l.8 1l.7-1.2l.7 1.7l.7 .3l.7-.6l.7 0l.8 1.2l.7-1l.7 1.1l.7 .4l.7 .1l.7-.7l.8 .7l.7 .3l.7 .6l.7 0l.7 .4l.7-.5l.7 .8l.8-.4l.7 .7l.7-.6l.7 .7l.7-.4l.7-.5l.8 1.5l.7 .2l.7-.6l.7-.4l.7 .5l.7-.5l.7 1l.8-.8l.7 .9l.7-.5l.7 0l.7-.6l.7-.1l.8 .5l.7-.2l.7-.4l.7-.7l.7-.8l.7-1.6l.8-2.7l.7-3.1l.7-8.6l.7-14.4l.7-18.6l.7-19.4l.7-9.4l.8 9.2l.7 18.8l.7 20.7l.7 11.9l.7 9.2l.7 4.5l.8 2.2l.7 1.6l.7 .7l.7 .5l.7-.4l.7 1.1l.8-.2l.7 .8l.7 .4l.7-.6l.7 .3l.7 .4l.7-.5l.8 .1l.7 .5l.7-.5l.7 .5l.7 0l.7-1l.8 .7l.7-.7l.7-.3l.7 .7l.7 .2l.7-.3l.8-.3l.7-.3l.7-.2l.7 .4l.7 .1l.7-.9l.7 1.1l.8-.9l.7 .5l.7-.5l.7 .7l.7 .1l.7 .2l.8-.1l.7 .5l.7-.3l.7 0l.7 0l.7 .9l.7-.9l.8 0l.7-.8l.7 .9l.7-2.2l.7-1.7l.7-.5l.8-.4l.7 .8l.7 1.5l.7 1.1l.7 .5l.7 .6l.8 .5l.7 .7l.7-.1l.7 .6l.7-.8l.7 .5l.7-.5l.8 .6l.7 .1l.7-1l.7 .8l.7 .1l.7 .1l.8-.6l.7 0l.7 .2l.7 .1l.7 .7l.7-.2l.8-.2l.7-.2l.7 .2l.7 .2l.7-.1l.7 .4l.7-.6l.8-.3l.7 .6l.7-.8l.7 .4l.7 .3l.7-1l.8 .8l.7-.7l.7 0l.7 .7l.7-.4l.7 .5l.7-.2l.8 .3l.7-.5l.7-.2l.7 .2l.7-.3l.7 .5l.8 .4l.7-.5l.7 .8l.7-.7l.7 .3l.7 .4l.8-.5l.7-.3l.7 .1l.7 0l.7 0l.7 .5l.7-.7l.8 .6l.7 .2l.7-.2l.7-.5l.7-.6l.7 .5l.8-.4l.7-.1l.7-.4l.7-.1l.7-1.8l.7 0l.8 .5l.7 1.3l.7-.2l.7-.6l.7 .8l.7 0l.7 .6l.8 .1l.7 1l.7-1l.7-.1l.7 .3l.7 .1l.8 0l.7-.6l.7-.3l.7 .5l.7-.1l.7 .7l.8-.2l.7 0l.7-.5l.7 .3l.7-.4l.7-.1l.7-.8l.8-1.7l.7 .1l.7-1.5l.7-1.9l.7-2.2l.7-2l.8-1.6l.7-.3l.7-.1l.7 2.2l.7 .3l.7 2.6l.8 2.7l.7 .9l.7 1.4l.7 .7l.7 .5l.7 .7l.7 .1l.8 0l.7 .1l.7 .8l.7 .2l.7-.8l.7 .1l.8-.7l.7 1.9l.7-.9l.7-.5l.7 .9l.7-.6l.7 .2l.8 .2l.7 .1l.7-.1l.7 .5l.7-.7l.7 .2l.8 0l.7-.6l.7 .7l.7-.7l.7 0l.7 .1l.8 1.2l.7-.8l.7 .1l.7-.3l.7 .5l.7-.5l.7 1l.8-.6l.7-.4l.7 0l.7 .2l.7-.2l.7 .3l.8 .1l.7-.3l.7-.2l.7 .1l.7 1.2l.7-.2l.8-1.1l.7 0l.7 .7l.7-.7l.7 .1l.7 .1l.7 .3l.8-.2l.7-.5l.7 .2l.7 0l.7 .4l.7 .1l.8 .1l.7 .1l.7-1.1l.7 .5l.7 .6l.7 0l.7-.4l.8 0l.7-.2l.7 .2l.7-.5l.7 .8l.7 .5l.8-1.6l.7 .1l.7 1.1l.7-.6l.7-.8l.7 .6l.8-.8l.7 1.4l.7-.1l.7-.5l.7 .1l.7-.1l.7 .6l.8-1.5l.7 .6l.7-.9l.7 .6l.7-1l.7 1l.8-.1l.7-1.1l.7 .4l.7-.6l.7-1.1l.7 .9l.8-.8l.7-.5l.7-1.7l.7 .3l.7-2.1l.7-1l.7-3.3l.8-3.1l.7-3.5l.7-5.5l.7-9.8l.7-15.6l.7-27l.8-50.1l.7-78.2l.7-54.2l.7 53l.7 79.3l.7 50.3l.8 26l.7 15.7l.7 9.8l.7 8l.7 2.6l.7 3.1l.7 2.6l.8 1.7l.7 .5l.7 1.3l.7 .5l.7 1.7l.7-.1l.8 .6l.7 .6l.7-.5l.7 .8l.7 .5l.7-.9l.8 1.1l.7 0l.7 .3l.7-.3l.7-.2l.7 .2l.7 .5l.8 0l.7 .7l.7-1.3l.7 .6l.7-.4l.7 .3l.8-.1l.7 .6l.7-.5l.7 .3l.7-.3l.7-.2l.7-.2l.8-.1l.7-.7l.7 .5l.7-.4l.7-.6l.7-.5l.8-1.9l.7-1.9l.7-4.1l.7-8.8l.7-11.1l.7-18.3l.8-7.9l.7 8.6l.7 15.9l.7 12.8l.7 8.5l.7 2.4l.7 1.7l.8-.6l.7-2.2l.7-3.6l.7-6.1l.7-8.1l.7-9l.8-4.1l.7 3.9l.7 9.1l.7 6.7l.7 7.6l.7 4.1l.8 .6l.7-.3l.7 .3l.7 1.6l.7-.4l.7 .3l.7 0l.8 .9l.7 .4l.7 .8l.7 .1l.7 1l.7 1.8l.8 .2l.7 .2l.7 1.3l.7-.7l.7 1.5l.7 .4l.7-.6l.8 .3l.7 .3l.7-.3l.7 .1l.7 1.2l.7-1.2l.8 .8l.7-.2l.7 .5l.7 .2l.7-.7l.7 0l.8 .1l.7-.7l.7 1.1l.7 .4l.7-.2l.7-1l.7 .5l.8 .1l.7 .2l.7-.1l.7-.1l.7-.6l.7 1l.8-.2l.7 .9l.7-1.1l.7 .3l.7-.1l.7 .3l.8-.2l.7-.2l.7 .1l.7 .7l.7-.7l.7-.2l.7 .5l.8-.4l.7 .1l.7 0l.7-1l.7 .1l.7 0l.8-1.1l.7 .6l.7-.8l.7 .2l.7 .3l.7 .5l.8 1.8l.7-.5l.7-.8l.7 1.2l.7-.1l.7-.3l.7 .2l.8 .5l.7-.6l.7 .3l.7-.9l.7 .7l.7 .5l.8 .1l.7-.5l.7-.1l.7 .1l.7 0l.7 .8l.8-.7l.7 .2l.7-.7l.7-.4l.7 .6l.7-.6l.7-.1l.8 .1l.7-.3l.7-.3l.7-.1l.7 .8l.7-.3l.8 .3l.7 .7l.7 0l.7-.8l.7 .6l.7 .5l.7-.7l.8 .1l.7-.2l.7 .3l.7-.4l.7 0l.7 .4l.8-.8l.7-.3l.7 .4l.7-.2l.7-.1l.7-.5l.8 1.3l.7 0l.7 .2l.7-.5l.7 .4l.7 .5l.7-.9l.8 .1l.7 .6l.7 .2l.7-.1l.7-.3l.7-.1l.8 .4l.7 .6l.7-.8l.7 .8l.7-.1l.7 .2l.8-1l.7-.1l.7 .9l.7-.1l.7-.9l.7 1.2l.7-.6l.8 .1l.7-.7l.7 .3l.7-.7l.7 .4l.7-.5l.8 .1l.7-.9l.7 1.1l.7 .6l.7-1.5l.7 .5l.7 1.1l.8-.3l.7 .1l.7 .7l.7 .2l.7-.7l.7 .3l.8-.2l.7 .1l.7 .4l.7 .1l.7-.4l.7 .2l.8-.3l.7-.1l.7-.2l.7 .2l.7 .7l.7-.3l.7-.5l.8 .1l.7 .4l.7-.6l.7 .3l.7-.1l.7 .3l.8-.2l.7 .6l.7-.1l.7-.5l.7-.5l.7 .3l.8 .6l.7-.2l.7 .3l.7-.5l.7 .1l.7 .4l.7-.2l.8-.5l.7 .5l.7 .5l.7-.7l.7-.3l.7-.2l.8 .5l.7 .1l.7 .3l.7 0l.7-.6l.7 .1l.8 0l.7 .2l.7 .7l.7-.6l.7-.7l.7 .9l.7-.7l.8 .8l.7-.1l.7-.4l.7 .5l.7-.4l.7-.4l.8 .6l.7-.3l.7 .4l.7-.4l.7-.2l.7 .5l.8-.6l.7 .3l.7-.4l.7 .2l.7-.1l.7 .4l.7-.8l.8 .6l.7-.4l.7 .1l.7 .1l.7-.5l.7-.3l.8-.1l.7-.3l.7-.1l.7-1l.7-1.4l.7-2.6l.7-5.3l.8-6.5l.7-9.6l.7-3.7l.7-1.3l.7-1.3l.7 3.2l.8-.1l.7 4.7l.7 5.6l.7 3.3l.7 4.1l.7 3.6l.8 1.9l.7 2l.7 1.4l.7 .2l.7 2.5l.7-.8l.7 1.4l.8-.8l.7 .9l.7 .3l.7 0l.7 .1l.7 .2l.8 0l.7-.1l.7 .2l.7 .5l.7-1.1l.7 .3l.8 .2l.7 1l.7-1.4l.7 .5l.7 .3l.7-.1l.7 .3l.8-.4l.7 .3l.7-.1l.7 .1l.7-.5l.7 .8l.8 .2l.7-.9l.7 .9l.7-.3l.7 .8l.7-1.1l.7 .1l.8 .2l.7 .2l.7 .1l.7 .1l.7-.9l.7 .5l.8 .4l.7-.5l.7 .5l.7-.4l.7-.1l.7 .1l.8-.3l.7 .8l.7-.5l.7 .2l.7-.3l.7-.5l.7 .3l.8-.3l.7 .8l.7-.5l.7 .1l.7-.7l.7 1.2l.8-.8l.7-.1l.7 .1l.7 .2l.7-.5l.7 0l.8 0l.7-.7l.7 .6l.7-.8l.7-.3l.7-.1l.7 .7l.8-1.1l.7-.5l.7-.2l.7 .1l.7 0l.7-.7l.8 0l.7 .2l.7-.3l.7-.3l.7 1.2l.7-1.3l.8 .9l.7 0l.7 .7l.7-.2l.7-.3l.7 .4l.7 .2l.8 .9l.7 .2l.7 .2l.7-.2l.7-.3l.7 .7l.8-.4l.7-.1l.7 .2l.7 .3l.7-.3l.7-.7l.8-1.3l.7-2l.7-2.3l.7-5.9l.7-6.1l.7-4.2l.7-2.2l.8 .5l.7 1.6l.7-.5l.7 1.7l.7 2.4l.7 3l.8 2.8l.7 3.8l.7 2.5l.7 2l.7 1.5l.7-.1l.7 1.6l.8 .6l.7 .4l.7 .1l.7 1.2l.7-.6l.7 .8l.8-.3l.7 0l.7 .8l.7-.1l.7-.5l.7 1l.8 .1l.7-1.4l.7 .7l.7-.3l.7 .8l.7-.1l.7-.9l.8 .5l.7 .1l.7 .2l.7-.5l.7 0l.7-.4l.8 1.4l.7-1.4l.7 0l.7 0l.7-2.4l.7-4.7l.8-8.1l.7-4.5l.7 1.5l.7 3.7l.7 1.1l.7 .2l.7 .9l.8 2.7l.7 3.5l.7 2.4l.7 1.1l.7 .6l.7 2.4l.8-.4l.7 .6l.7-.2l.7 .7l.7-.3l.7-.3l.7 .5l.8-.4l.7 1l.7-.9l.7 .8l.7 .1l.7-.4l.8-.3l.7 .1l.7 .2l.7 .3l.7 0l.7-.2l.8 0l.7-.3l.7 .4l.7-.1l.7 .1l.7-.4l.7 .8l.8 .2l.7-.6l.7 .1l.7-.3l.7 .1l.7-.6l.8 1.3l.7-.6l.7-.1l.7 .3l.7-.7l.7 .4l.8-.5l.7 1.4l.7-.5l.7-.6l.7-.1l.7 1.3l.7-.6l.8-.1l.7 .4l.7-.1l.7-.4l.7-.4l.7 0l.8 .2l.7 .6l.7-1l.7 1.4l.7-.2l.7-1.1l.8 1.1l.7-.2l.7-.3l.7-.2l.7-.6l.7 1l.7 .3l.8-1l.7 .4l.7 .3l.7 .1l.7-.9l.7 .5l.8 .3l.7-.3l.7 .2l.7-.5l.7 1.2l.7-1l.7 .4l.8 0l.7-.1l.7 .6l.7-.9l.7 .3l.7-.2l.8 .2l.7 0l.7-.2l.7 .7l.7-.5l.7 .2l.8-.1l.7-.1l.7 .3l.7-.3l.7-.9l.7 .8l.7-.2l.8 .4l.7 .4l.7 0l.7-.5l.7-.2l.7 .6l.8-.3l.7-.8l.7 .7l.7-.1l.7-.1l.7 .5l.8-1l.7 .2l.7 .3l.7 .1l.7 .4l.7 .2l.7-.1l.8-.3l.7-.5l.7-.2l.7 .4l.7 .5l.7-.5l.8-.8l.7 1.2l.7-.8l.7 .3l.7-.4l.7 .3l.8 .2l.7-1.3l.7 .2l.7-.8l.7-2.7l.7-4.5l.7-8.4l.8-.3l.7 1.7l.7 3.7l.7 1.7l.7-.9l.7 .9l.8 2.5l.7 2.2l.7 1.6l.7 1l.7 .7l.7 1.2l.7 .4l.8 0l.7 .7l.7-.1l.7 .4l.7 0l.7 .6l.8-.6l.7-.8l.7 .5l.7-.3l.7 1.2l.7-.3l.8-.2l.7 .1l.7-.1l.7 .2l.7-.4l.7 .1l.7 0l.8-.3l.7-.4l.7 .6l.7 .3l.7-.4l.7-.3l.8-1.7l.7-.9l.7-2.1l.7-.5l.7-.4l.7 0l.8 1.2l.7-.1l.7-.2l.7 1.8l.7 .2l.7 .6l.7 1.3l.8 0l.7-.3l.7 .6l.7 1l.7-.3l.7 0l.8 .3l.7-.3l.7 0l.7-.5l.7 .3l.7 .2l.8-1.1l.7-.1l.7-.3l.7-.4l.7-1.5l.7-1.7l.7-1l.8 .2l.7 0l.7-.2l.7-.3l.7 .6l.7 .8l.8 .9l.7 .8l.7 .2l.7 1.4l.7 .6l.7-1.2l.8 .5l.7 .8l.7 .8l.7-.4l.7 .3l.7 .2l.7-.1l.8-.1l.7 .8l.7-.6l.7 .2l.7 .2l.7 .1l.8-.4l.7 .1l.7 .1l.7 .1l.7 .1l.7-.6l.7 1.2l.8-.3l.7-.5l.7 .3l.7-.5l.7 .7l.7-.5l.8-.6l.7 1.6l.7-.7l.7-.4l.7 .3l.7 .4l.8-.4l.7 .2l.7-.2l.7 .2l.7-.2l.7 .1l.7-.1l.8-.1l.7-.1l.7-.4l.7 .4l.7-.3l.7 .1l.8-.1l.7 .6l.7-.6l.7 .8l.7-.3l.7 0l.8 .6l.7-.4l.7-.8l.7 .5l.7 0l.7 0l.7 0l.8 .3l.7 .3l.7-1l.7 0l.7-.5l.7-.3l.8-.5l.7-3.2l.7-5.3l.7-5l.7-1.1l.7 1.1l.7 2.1l.8 2l.7 .2l.7 .2l.7 1.9l.7 2.1l.7 1.7l.8 1.2l.7 1.3l.7 .7l.7 .9l.7 .7l.7-1.1l.8 .8l.7-.2l.7 .4l.7-.2l.7 0l.7 .9l.7-.6l.8-.5l.7 .6l.7 .4l.7 .4l.7-.9l.7 0l.8 .7l.7-.3l.7-.2l.7 .3l.7 .3l.7-.5l.8-.4l.7-.3l.7 .8l.7 0l.7 .1l.7-.3l.7 .1l.8 .2l.7 .3l.7-.6l.7 .5l.7-.9l.7 .3l.8 .5l.7-.8l.7 .6l.7 0l.7-.3l.7 .8l.8-.2l.7-.6l.7 0l.7 .6l.7 0l.7 .3l.7-.2l.8-.5l.7-.2l.7 .7l.7-.2l.7 .4l.7-.6l.8 0l.7 .4l.7-.4l.7 0l.7-.2l.7-.5l.8 .1l.7 1.4l.7-1.1l.7 .7l.7-1l.7 .5l.7 .4l.8-.7l.7 .6l.7-.7l.7 .8l.7-.2l.7-.8l.8 .6l.7 .4l.7 .2l.7-.2l.7-.2l.7 .1l.7-.6l.8 .5l.7 .1l.7-.1l.7-.3l.7 .3l.7 .1l.8 .3l.7 .2l.7-1l.7 .5l.7-.3l.7 .3l.8-.4l.7 .4l.7-.5l.7-.1l.7 .1l.7 .2l.7-.1l.8 .7l.7-.8l.7 .3l.7-.5l.7 .4l.7 .2l.8-.1l.7 .4l.7 0l.7-.9l.7 .7l.7-.1l.8 .2l.7-.1l.7 .3l.7-.6l.7 .3l.7-.4l.7 .6l.8-.2l.7 .2l.7-.2l.7 0l.7-.2l.7-.2l.8 .5l.7-.1l.7-.3l.7-.1l.7 .5l.7 .1l.7-.7l.8 .9l.7-.5l.7 .7l.7-1.2l.7 .1l.7 .4l.8 .6l.7-1.2l.7 .4l.7-.1l.7-.5l.7 1l.8-.4l.7 0l.7 .5l.7 0l.7 .2l.7-1.1l.7-.1l.8 0l.7-.9l.7-.9l.7-2.3l.7-1.6l.7-.4l.8 2l.7 .5l.7 .4l.7 .7l.7-.4l.7 .1l.8 .7l.7 .8l.7 .5l.7 .5l.7-.3l.7 1l.7 .3l.8-.1l.7-.2l.7 .4l.7-.3l.7-.1l.7-.1l.8-.3l.7 1.3l.7-.8l.7 0l.7 .3l.7-.7l.8-.3l.7 1l.7-.2l.7-.3l.7-.2l.7 .8l.7-.5l.8-.4l.7 .7l.7-.2l.7 .1l.7-.3l.7 .5l.8-.5l.7-.3l.7 .4l.7 .4l.7 .5l.7-1.3l.8 .7l.7 .5l.7-.3l.7-.3l.7 .6l.7-1l.7 .6l.8 0l.7-.6l.7 .7l.7 0l.7-.1l.7-.3l.8 .1l.7-.3l.7-.1l.7 .1l.7 .6l.7-.4l.7 0l.8 .3l.7 .2l.7-.4l.7-.4l.7 .8l.7-.8l.8 .4l.7 .1l.7-.8l.7 1.2l.7 .2l.7-.7l.8 .1l.7-.2l.7-.1l.7 .5l.7-.3l.7 0l.7-.4l.8 1l.7-.1l.7-1.2l.7 1l.7 0l.7-.3l.8 .4l.7-.3l.7-.2l.7-.2l.7-.2l.7 .2l.8 1.1l.7-.6l.7-.4l.7-.1l.7 .3l.7 .3l.7-.5l.8-.4l.7 1l.7-1.1l.7 .6l.7-.4l.7-.2l.8 .7l.7-.1l.7 0l.7-.1l.7 .4l.7-.4l.7 .8l.8-.2l.7-.9l.7 .8l.7-.5l.7-.2l.7 .8l.8-.7l.7 .5l.7 .2l.7-.2l.7-.4l.7 .5l.8-.1l.7 .1l.7-.1l.7-.2l.7 0l.7 .2l.7-.1l.8-.3l.7 .5l.7-.5l.7-.3l.7 .7l.7-.5l.8 .4l.7-.4l.7 .2l.7 .3l.7 0l.7-.2l.8 .2l.7-.2l.7 .1l.7-.2l.7-.5l.7 .6l.7 .3l.8-.8l.7 .1l.7 .3l.7 0l.7 .1l.7 .1l.8 .1l.7-.4l.7 .6l.7-.8l.7 .5l.7-.6l.8 .8l.7-.6l.7 .4l.7-.1l.7 0l.7-.3l.7 0l.8 .4l.7-.6l.7-.5l.7 .2l.7-.2l.7-.7l.8-1.1l.7-.5l.7-1.8l.7-2.7l.7-.5l.7-.3l.8 .9l.7 .6l.7-.2l.7 1.3l.7 1.3l.7 1.3l.7-.4l.8 1.1l.7 .9l.7-.2l.7-.1l.7 .8l.7 .5l.8-.2l.7 .3l.7-.4l.7 .8l.7 0l.7-.3l.7 .5l.8-.3l.7-.9l.7 .4l.7 .2l.7-.1l.7 .5l.8-.4l.7-1.4l.7-.5l.7-2.1l.7-8.5l.7-11.2l.8-2.3l.7 5.5l.7 6.6l.7 4.8l.7 3.3l.7 1.5l.7 1l.8-3.5l.7-2.6l.7-1.1l.7 1.7l.7 2.6l.7 1.9l.8 2.3l.7 .1l.7 1.3l.7 .6l.7 .3l.7-.4l.8 .4l.7-.3l.7 .6l.7-.1l.7-.2l.7 .4l.7-.1l.8 0l.7 0l.7-.8l.7 1.3l.7-.1l.7-.4l.8 .4l.7-.3l.7 .2l.7-.4l.7-.3l.7 .5l.7-.2l.8 .3l.7-.9l.7 .9l.7-.2l.7 0l.7-.5l.8 .2l.7 .1l.7-.3l.7 .3l.7-.2l.7 .3l.8-1.5l.7 1.5l.7-1.2l.7 1l.7 0l.7-.3l.7-.4l.8 1l.7-.7l.7 .8l.7 0l.7-.1l.7 .4l.8-.7l.7 .9l.7-.4l.7-.6l.7 .9l.7-.1l.8-.3l.7-.4l.7 .7l.7-.5l.7 .1l.7 .3l.7 .4l.8-.5l.7-.7l.7 .2l.7 .1l.7 .3l.7-.3l.8 .9l.7-.7l.7-.2l.7 .4l.7 .1l.7-.2l.8 .1l.7 .1l.7-.2l.7-.4l.7 .3l.7-.2l.7 .2l.8 .1l.7-.2l.7 .2l.7-.6l.7 .9l.7 .2l.8-.4l.7 .4l.7-1l.7 .7l.7-.2l.7-.3l.8 .4l.7 .3l.7-.7l.7 .7l.7-.4l.7-.1l.7 .3l.8-.5l.7 .2l.7-.4l.7 1l.7-.9l.7 .9l.8-.5l.7 .9l.7 0l.7-1l.7 .7l.7-.9l.7 .2l.8 .1l.7-.5l.7 1l.7-.8l.7 0l.7 .3l.8 .3l.7-.3l.7 .3l.7-.1l.7 0l.7 .1l.8-.7l.7 .3l.7-.1l.7-.1l.7 1.2l.7-.7l.7-.6l.8 .6l.7-.1l.7 .2l.7-.3l.7 .8l.7-1.2l.8 .6l.7-.4l.7 .1l.7 .8l.7-.2l.7 0l.8 0l.7-.4l.7-.4l.7 1.2l.7-.3l.7 .2l.7-.4l.8-.5l.7 .4l.7-.4l.7 .6l.7-.4l.7 .2l.8 .2l.7-1l.7 .9l.7-.5l.7-.5l.7 .5l.7-.3l.8 .4l.7-.1l.7-.1l.7 0l.7-.3l.7 .5l.8-.9l.7-.3l.7 .2l.7 0l.7-.2l.7-.8l.8-.1l.7-1.4l.7-.7l.7-2.2l.7-2.3l.7-.8l.7 .6l.8 .1l.7-.2l.7 .7l.7 0l.7 .9l.7 1.7l.8 .3l.7 .9l.7 .7l.7 .9l.7 .5l.7 .3l.8 .2l.7 0l.7 1.1l.7-.3l.7-.2l.7 .3l.7 .6l.8 .1l.7-.4l.7 .3l.7-.1l.7 .2l.7-.2l.8 0l.7 .4l.7-.3l.7 .3l.7-.1l.7 .1l.8-.5l.7 1l.7-.7l.7-.6l.7-.6l.7-1.4l.7-2.9l.8-2.4l.7 .1l.7 .2l.7 2.3l.7 .6l.7 1.5l.8 .1l.7-1.1l.7-.4l.7 1.1l.7 .9l.7 1l.8 .5l.7 0l.7 .3l.7 .2l.7 .8l.7-.3l.7-.6l.8-.2l.7-.5l.7-.3l.7-1.1l.7-.1l.7 1.3l.8-.1l.7 .5l.7-.1l.7 .7l.7-.1l.7 1.1l.7-.7l.8-.4l.7 1.5l.7-.5l.7-.4l.7-.1l.7 .2l.8 .3l.7-.2l.7-.3l.7 .4l.7-.3l.7 .6l.8 .3l.7-.6l.7 .4l.7-.3l.7-.4l.7 .3l.7-.3l.8 .7l.7 0l.7-.6l.7 .3l.7-.3l.7 .4l.8 .2l.7 0l.7 .7l.7-1.4l.7 .5l.7-.4l.8 1.2l.7-.4l.7-.7l.7 1l.7-.6l.7-.2l.7-.1l.8 .9l.7 0l.7-1l.7 .8l.7-.5l.7 .6l.8-.7l.7 .2l.7-.1l.7 .4l.7-.4l.7-.1l.7-.4l.8 .8l.7-.2l.7 .5l.7-.4l.7-.8l.7 .7l.8-.7l.7 .9l.7 0l.7-.6l.7 .4l.7-.2l.8 .1l.7 .5l.7-.2l.7-.3l.7-.1l.7 .1l.7 .4l.8-1l.7 .9l.7-.4l.7 .7l.7-.5l.7 .2l.8-.5l.7 0l.7 .2l.7 .5l.7-.5l.7-.3l.8 .1l.7 .3l.7-.1l.7 .5l.7-.2l.7-.3l.7 0l.8-.6l.7 .9l.7-.2l.7 0l.7-.4l.7 .7l.8 .2l.7-.2l.7 .1l.7-.6l.7 .3l.7-.2l.8 .8l.7-.3l.7-.3l.7 .7l.7-.4l.7-.1l.7-.1l.8 .4l.7-.6l.7 .4l.7-.3l.7 .4l.7-.1l.8-.4l.7-.5l.7 .5l.7-.2l.7 .5l.7 .1l.8-.5l.7 .3l.7-.3l.7 .1l.7 .2l.7 0l.7 .4l.8-.9l.7 1l.7-.3l.7-.6l.7 .4l.7-.3l.8 .7l.7-.3l.7-.1l.7-.2l.7 .2l.7-.3l.7-.2l.8 .6l.7 0l.7-.1l.7 .4l.7 0l.7-.4l.8-.1l.7 .3l.7-.6l.7 .1l.7-.2l.7 .9l.8-.1l.7-.2l.7-.2l.7 .2l.7-.2l.7-.7l.7 .7l.8-.3l.7 .3l.7-.7l.7 .6l.7 0l.7 .3l.8 0l.7-.1l.7-.1l.7 .1l.7-.4l.7-.2l.8 .8l.7 .1l.7-.7l.7 0l.7 .7l.7-.7l.7 0l.8 .9l.7-.3l.7 .5l.7-.9l.7 0l.7-.3l.8 .7l.7 .1l.7-1l.7 1l.7-.5l.7 .5l.7-.5l.8 .4l.7-.4l.7 .4l.7-.1l.7 .5l.7-1l.8 .3l.7-.1l.7-.1l.7 .5l.7-.2l.7-.1l.8 .1l.7-.2l.7 .4l.7-.1l.7-.6l.7 .2l.7 .2l.8-.2l.7 0l.7-.4l.7 0l.7 .2l.7-.7l.8 .2l.7 .9l.7-1.3l.7-1.1l.7-2.2l.7-3.2l.8-4.2l.7-3.3l.7-.8l.7 1"/>
<path id="cv_c7" stroke="#32b400" d="M154.5 1315.6l.7-.4l.7 1.7l.7-.7l.8 1.5l.7 3l.7-1.9l.7 .8l.7-1.7l.7 .3l.8 2.5l.7-1.9l.7 .3l.7 2l.7-.9l.7 1.6l.8-1.7l.7 2.3l.7-3.6l.7 1.8l.7-.5l.7 2.1l.7-2l.8 3.2l.7-2.3l.7 2.5l.7-1.1l.7 1.4l.7 .2l.8-2l.7 1l.7 .8l.7-.6l.7 1.4l.7 .1l.8-1.8l.7-1.7l.7 2.2l.7 1.7l.7-1.9l.7-.1l.7 .2l.8 1.2l.7 1.1l.7-3.9l.7 3.2l.7-1.4l.7-1l.8 2.9l.7-1.3l.7-.3l.7 .6l.7-.9l.7 1.9l.7-1.4l.8 3.1l.7-1.6l.7-1l.7 .3l.7-.9l.7 1.9l.8 .1l.7-2.8l.7 2.4l.7 .7l.7 .3l.7-1.4l.8-.2l.7 .7l.7 1l.7-.3l.7-.2l.7-.5l.7-.6l.8-.7l.7 2.2l.7-.9l.7 .9l.7 2.2l.7-4l.8 3.1l.7-2.4l.7 .7l.7-.3l.7 .9l.7 .6l.8-.2l.7 1.7l.7-2.4l.7 1.7l.7-1.5l.7-.4l.7 .9l.8-1.5l.7 3l.7 .3l.7-1.9l.7-1.1l.7 2.3l.8-.5l.7 .7l.7-1.6l.7 1.2l.7 .5l.7 1.5l.7-3l.8 1.9l.7-1.4l.7 .7l.7 1.7l.7-3.3l.7 0l.8 1.5l.7-.2l.7 2.6l.7-3.1l.7 3.1l.7-2.2l.8 1.2l.7-1.6l.7-1l.7 1.4l.7 1.3l.7-1.5l.7-.4l.8 2.1l.7-3.4l.7 2.2l.7 .7l.7-1.5l.7 .6l.8 1.4l.7-.8l.7-1.5l.7 1.6l.7-1.5l.7 2.5l.8 .2l.7-.3l.7 .3l.7-.8l.7-1.8l.7 1l.7 .9l.8 1.2l.7-1.1l.7 1.5l.7-2.5l.7 2.1l.7-3.4l.8 3l.7-1.5l.7 1.6l.7-.8l.7-.4l.7 1.1l.8 .8l.7-.5l.7 1.6l.7-2.5l.7 .5l.7-.8l.7 1l.8 .8l.7 .6l.7-1.5l.7-1.6l.7 1.1l.7 .8l.8 .1l.7 .8l.7 .4l.7-1.9l.7-.5l.7-.6l.8 1.8l.7 1.8l.7-1.7l.7 1.3l.7-2.4l.7 .6l.7 .3l.8-.6l.7 .5l.7 .8l.7-.3l.7 .7l.7-.3l.8 .1l.7-1.4l.7 .6l.7 .2l.7 1.5l.7-1.4l.7-.1l.8-.2l.7 1.6l.7-1.2l.7-.6l.7-.2l.7 .1l.8 2.1l.7-2.1l.7 2.1l.7 .9l.7-2l.7 1.2l.8 .9l.7-2.9l.7 1.1l.7 2.2l.7-1.7l.7 .3l.7 .7l.8-1.8l.7 .6l.7 0l.7 2.1l.7-1.4l.7-1.9l.8 2.5l.7-1.2l.7 .3l.7-.1l.7-.6l.7 1.5l.8-2.2l.7 1.8l.7 .3l.7 0l.7-.5l.7 1l.7-.1l.8-.7l.7 .8l.7-1.7l.7 1.8l.7 0l.7-2.1l.8 1l.7 .9l.7-2.4l.7 1.1l.7 .8l.7 .6l.7 1l.8-.9l.7-2.1l.7-.1l.7 .2l.7 1.1l.7 .2l.8-.7l.7 .1l.7 1.1l.7 .5l.7 .4l.7-1.9l.8 1.4l.7-2.3l.7 1.1l.7 .9l.7-.5l.7-.5l.7 .3l.8 .3l.7 .5l.7 .6l.7-1.6l.7 .3l.7 1l.8-.6l.7-.3l.7 .3l.7 .5l.7-1.5l.7 1.6l.8-1.7l.7 .1l.7 1.1l.7 .5l.7-.7l.7 .7l.7 .1l.8 .6l.7 1.3l.7-2.2l.7-.1l.7-.3l.7 1.6l.8-1.8l.7 .3l.7-1.4l.7 2.1l.7-.8l.7 .5l.8 1.7l.7-1.1l.7-.5l.7-.9l.7 2.1l.7-1.7l.7 0l.8 .2l.7-.4l.7-.7l.7 1.6l.7 .1l.7 .2l.8 .3l.7 .6l.7-.6l.7-.5l.7 .2l.7-.1l.8 .9l.7 .1l.7-.2l.7-1.6l.7 2.2l.7-1l.7-.5l.8 1.3l.7 .3l.7-.5l.7-.8l.7 0l.7 .9l.8-.6l.7-.5l.7 1l.7 .3l.7-.2l.7-.6l.7 .6l.8-.4l.7 .4l.7 1.3l.7-1.6l.7 0l.7 .9l.8-.2l.7-2.4l.7-.2l.7 1.7l.7 .9l.7-1l.8 1.3l.7-1.3l.7 .9l.7-.7l.7-.1l.7-1.6l.7 1.7l.8 .6l.7 .9l.7-.2l.7-1.1l.7 .8l.7-.2l.8-2.2l.7 1.8l.7 1l.7 .4l.7-2.1l.7 .2l.8 .9l.7 .3l.7-.2l.7 .1l.7-.4l.7-.8l.7-.4l.8 0l.7 1.1l.7-.9l.7 .4l.7-.5l.7 1l.8-.5l.7 1.7l.7-2.1l.7 .8l.7 .8l.7 1.4l.7-2.4l.8-.2l.7 1.1l.7-.2l.7-.2l.7 0l.7 .8l.8-2.2l.7 .2l.7 .5l.7 .9l.7 1.1l.7-1.3l.8-.3l.7 1.8l.7-2.5l.7 .6l.7 1.8l.7-1.5l.7-1l.8 1.5l.7-.2l.7 1.3l.7-2l.7 .9l.7 .5l.8-1.9l.7 1.9l.7-.7l.7 1.6l.7-2.2l.7 1.2l.8 .3l.7 .3l.7-.1l.7-1.7l.7 1.2l.7-.6l.7-.1l.8-.2l.7 .1l.7 1.5l.7-.8l.7 1.1l.7-1.2l.8 1l.7-1.7l.7 1.3l.7-.7l.7 .8l.7 .4l.8-1.1l.7-.2l.7-.6l.7 1.6l.7-.5l.7-1.1l.7 2l.8-.9l.7-1.1l.7 1.3l.7 .5l.7-.3l.7-.6l.8 .6l.7 0l.7 .7l.7-.1l.7-1.5l.7 1.1l.8 1.3l.7 0l.7-1.1l.7-1.8l.7 .9l.7-.4l.7 .1l.8 .4l.7 .6l.7-.6l.7 .3l.7-1.1l.7 0l.8 2l.7-2.5l.7 1.2l.7 1l.7-1.1l.7-.7l.7 1.5l.8 0l.7 .9l.7-2.1l.7 1.2l.7 .1l.7-2l.8 2.4l.7-.1l.7-.8l.7-.3l.7-1.5l.7 1.4l.8-.1l.7 .3l.7-.4l.7-.9l.7 .6l.7-.1l.7-2.4l.8-.1l.7 1l.7 3.1l.7-1.1l.7 .4l.7 .7l.8-2.2l.7 3l.7-.5l.7-.7l.7-1.1l.7 2.1l.8-.1l.7-.1l.7-1.1l.7 1l.7 .9l.7-1.9l.7 1.5l.8-2.4l.7 1.3l.7 1.7l.7-.2l.7-2.1l.7 1.4l.8 1.1l.7-1.5l.7 1.1l.7-.3l.7 .7l.7-2.6l.7 2.2l.8-.7l.7-1.4l.7 .2l.7 .5l.7-.5l.7 .7l.8-.8l.7-.9l.7 2.3l.7-1.2l.7 1.5l.7-.8l.8 .6l.7-.6l.7 0l.7-.3l.7 .1l.7 .8l.7 .1l.8-1.3l.7 1l.7 .3l.7-1l.7 .1l.7 1.4l.8-2l.7 1.5l.7-.6l.7-.9l.7 .7l.7 .2l.8 .2l.7 .1l.7-.7l.7 1.6l.7-.6l.7-1.2l.7 1.1l.8-1.7l.7 .3l.7 2.2l.7 .1l.7-1.6l.7 .7l.8 .2l.7-.1l.7 0l.7-.8l.7 1.2l.7-1.3l.8 1.7l.7-1.6l.7-.5l.7 1.3l.7 .2l.7 .5l.7-.6l.8 1.3l.7-1.5l.7-.6l.7-.4l.7 .4l.7 1.4l.8-.9l.7-.9l.7 .6l.7 .6l.7-.9l.7-.3l.8 2.3l.7-.3l.7-1.1l.7-.8l.7 .6l.7 1.1l.7-2l.8 .9l.7 .2l.7-1.1l.7 .8l.7 1l.7-.3l.8 .6l.7-2.4l.7 2.5l.7-.5l.7 1.3l.7-.4l.7-1.5l.8 .6l.7 .2l.7-.6l.7 .5l.7 .2l.7 0l.8-.1l.7-.8l.7 1.2l.7 0l.7-1.4l.7 1.5l.8-1.8l.7 .2l.7 1.2l.7 .4l.7-.7l.7-.7l.7 .8l.8-.1l.7 0l.7-.7l.7 1.5l.7 .1l.7 0l.8 .3l.7-2.1l.7 0l.7 2.4l.7-.7l.7 .4l.8-2.3l.7 1.6l.7-2.4l.7 1.3l.7-.3l.7 1.2l.7-1.2l.8 .6l.7 .8l.7-.9l.7 .1l.7 .6l.7-1.4l.8 1.7l.7-.9l.7-.4l.7 .9l.7 .8l.7-.5l.7-.4l.8-.3l.7 .5l.7 .7l.7-1l.7 .4l.7 .1l.8 .2l.7-.9l.7 .4l.7 .9l.7 0l.7-1.7l.8 1.6l.7-1.4l.7 .7l.7 .5l.7-1.1l.7 1.9l.7-2.7l.8 .8l.7 1.3l.7 .7l.7-1.6l.7 .3l.7-1.2l.8 2.3l.7-1.3l.7-.9l.7 .1l.7 1.1l.7-.5l.8 .4l.7-.9l.7-.2l.7 1l.7 .8l.7-.8l.7 .1l.8-.7l.7-.2l.7 .6l.7 .5l.7-1.3l.7 .2l.8 .8l.7-.6l.7 .1l.7 1.8l.7-.9l.7-.5l.8-1.3l.7 .1l.7 .8l.7-.5l.7 1.2l.7-2.2l.7 2.2l.8 1.2l.7-1.3l.7-1.5l.7-.6l.7 .6l.7 1.3l.8 .1l.7-.6l.7 .8l.7-1l.7 .6l.7 0l.8 .9l.7 0l.7-1.1l.7 1.1l.7-.5l.7 0l.7 .2l.8-.7l.7-.6l.7 .3l.7-.6l.7 1.5l.7-.5l.8-.7l.7 1.1l.7-2l.7 2.1l.7-.8l.7 .2l.7 .1l.8 .4l.7-.1l.7-.1l.7-.6l.7 1.5l.7-.8l.8-.1l.7-.1l.7 .8l.7-2.4l.7 1.3l.7-1.4l.8 1.4l.7-1.2l.7 1.6l.7-.7l.7-.7l.7 1.6l.7-.8l.8-1.6l.7 .8l.7 1.5l.7-1.5l.7-1.2l.7 2.5l.8 .7l.7-.9l.7-.5l.7-.9l.7-.7l.7-1.7l.8 2.1l.7-.7l.7-1.1l.7-.7l.7 1.4l.7-.6l.7 .3l.8 1l.7 0l.7-.9l.7 1.6l.7-1.5l.7 1.3l.8 .5l.7-.8l.7 0l.7 .7l.7-.3l.7 .3l.8 .1l.7-.4l.7 .8l.7-1.2l.7 1.6l.7-.7l.7 0l.8-.1l.7-1.4l.7 .7l.7 .1l.7-.1l.7 1.3l.8-.3l.7-.2l.7 .5l.7-1.1l.7 .2l.7 .8l.7-.5l.8-.6l.7 2.4l.7-.7l.7-2.4l.7 2.2l.7-.2l.8-1.7l.7 .1l.7 1.3l.7-1.8l.7-1.6l.7-1l.8-1.6l.7-5.4l.7-5.7l.7-11l.7-15.4l.7-17.1l.7-6l.8 5.7l.7 17.9l.7 15.5l.7 11.9l.7 7.3l.7 3.1l.8 .7l.7 2.4l.7 1l.7-1.5l.7 .2l.7 .8l.8 2.3l.7-3.5l.7 1.8l.7-1.1l.7 1.1l.7-1.3l.7 1.4l.8 .7l.7-1.6l.7 .6l.7-.8l.7-.8l.7 .5l.8-.7l.7-1l.7 .7l.7-.1l.7-2.5l.7 1.6l.8-4.3l.7 1.1l.7 .5l.7-1.5l.7 0l.7 1.4l.7-1.6l.8 .3l.7 .1l.7-1.8l.7 1.2l.7 .7l.7 1l.8 0l.7 .3l.7 1l.7 1.7l.7 2.2l.7-1.8l.7 .4l.8 1.9l.7 .6l.7 .5l.7-.9l.7 .1l.7-.2l.8-.7l.7 .8l.7 1.2l.7-.6l.7 .6l.7-1.5l.8 1.2l.7-1l.7 .4l.7 .7l.7 0l.7 .5l.7-.7l.8 .1l.7 .2l.7-.8l.7 2.4l.7 .8l.7-1.5l.8-.3l.7-.5l.7 .3l.7 .8l.7-.1l.7 .4l.8-2.5l.7 1.9l.7-1.4l.7-.5l.7 1.6l.7-.1l.7-.4l.8 .7l.7-.6l.7-.4l.7 .8l.7 1.7l.7-1.5l.8-.7l.7 .5l.7 1.1l.7-2.5l.7 2.1l.7-.5l.7-.6l.8 .7l.7 .5l.7-.7l.7-.3l.7-.5l.7 .7l.8 1.2l.7-.2l.7-1.2l.7 1.6l.7-2l.7 .9l.8 .1l.7 .7l.7-1.4l.7-.7l.7 .8l.7 .7l.7-1.2l.8 1.8l.7-1.6l.7 .4l.7-1.1l.7 2.1l.7-1.1l.8-1.9l.7-.1l.7 1.9l.7-2.3l.7-.5l.7-.5l.8 .5l.7-.7l.7 .8l.7 3.1l.7-1.7l.7 .8l.7 .6l.8 1.1l.7-.5l.7-1.4l.7 .9l.7 .9l.7-2.5l.8-.1l.7 1.5l.7-.5l.7 .3l.7 1.5l.7-2.6l.8 2.3l.7-2l.7 .8l.7 1.4l.7-2.2l.7 .1l.7-1.3l.8 .1l.7-2.2l.7-1.2l.7-2.5l.7-3.2l.7-.3l.8-1.1l.7-.4l.7 0l.7 .6l.7 .4l.7 4.1l.8 1.4l.7 2.3l.7 1.9l.7 .2l.7-.5l.7 1.9l.7 .1l.8-.8l.7 .8l.7-.8l.7 .8l.7 .4l.7 .6l.8 .2l.7 1.4l.7-.6l.7-.2l.7 .1l.7-.5l.7 .2l.8-.1l.7-.2l.7-.9l.7 .6l.7-.1l.7-.5l.8 1.1l.7-1.9l.7 1.4l.7-.5l.7 1.5l.7-.2l.8-.5l.7-1.3l.7 1.5l.7-1l.7 .7l.7-1.1l.7-.7l.8 1.5l.7-.4l.7 1.5l.7-1.6l.7 2.2l.7-2l.8-.2l.7-.4l.7 0l.7 .9l.7 .5l.7-.5l.8-.7l.7 .7l.7-.1l.7 .5l.7 .1l.7-2l.7 1.2l.8 .8l.7-.7l.7-.3l.7-.5l.7 .7l.7-.8l.8 1.1l.7 1.5l.7-2.3l.7 .2l.7 .9l.7-1.4l.7 .5l.8 .1l.7-.3l.7-.7l.7 .9l.7 .1l.7-1.6l.8 1.2l.7-.7l.7-3.1l.7 .4l.7-1.7l.7 .6l.8-2.6l.7 1.4l.7-1.2l.7 3.4l.7-1.5l.7 .7l.7 2.2l.8 1l.7-.5l.7-.2l.7 1.9l.7-.3l.7-2.3l.8-.8l.7 .4l.7 0l.7 1.1l.7 1.3l.7-1.8l.8-1l.7-.2l.7-2.7l.7-.3l.7-.2l.7-1.1l.7-2.1l.8-4.5l.7-5.2l.7-6.8l.7-6.9l.7-16.9l.7-31.8l.8-54l.7-85.6l.7-59.2l.7 59.3l.7 85.5l.7 52.6l.8 32.4l.7 16.4l.7 6.4l.7 9.6l.7 5.2l.7 1.6l.7 4l.8 .9l.7 1.6l.7 1l.7 .6l.7 .2l.7 1.3l.8 1.7l.7-1.8l.7-.1l.7 .7l.7 1.7l.7 .1l.8-1.5l.7 1.1l.7-.2l.7-.3l.7 1.9l.7 .2l.7 .3l.8-.1l.7-1.5l.7 .6l.7 1.5l.7-.1l.7-1l.8 .7l.7-.8l.7 .6l.7-.5l.7 .3l.7 .7l.7-.1l.8-.8l.7 1.2l.7-.8l.7 .4l.7 .8l.7-.6l.8-.5l.7 .4l.7-.3l.7-.4l.7-.4l.7-.1l.8 1l.7 0l.7 .2l.7-2.1l.7-.2l.7 .2l.7-1l.8-8l.7-9l.7-11.8l.7-1.3l.7 3.6l.7 6.3l.8 6.7l.7 2.9l.7 3.8l.7 4l.7 .3l.7 3.2l.8-.6l.7 1l.7 .6l.7 1.3l.7-1.5l.7 .3l.7 1.2l.8 .4l.7-.6l.7 1.4l.7-.9l.7-1.7l.7 2l.8-.1l.7-1.5l.7 2.2l.7-.3l.7-1.1l.7 1.2l.7 .2l.8-1.6l.7 1.5l.7-2.1l.7 1.2l.7-.2l.7-.2l.8 1l.7 .2l.7 .7l.7-1.9l.7 .9l.7-1.2l.8 1.1l.7-.3l.7 .7l.7-.7l.7 .5l.7 .6l.7 .3l.8-.7l.7 .3l.7-.1l.7-.1l.7 .4l.7-.6l.8-.5l.7 0l.7 1.1l.7 0l.7-.9l.7 2.1l.8-2.2l.7 .3l.7 .1l.7 .1l.7 1l.7-1.1l.7 .9l.8-.3l.7-.6l.7 1.4l.7-1.1l.7 1.5l.7-1.2l.8 .9l.7-.4l.7-1.5l.7 1.1l.7-.6l.7 .4l.8 .5l.7-1.8l.7 1.5l.7-1.5l.7 2.2l.7 .4l.7-.3l.8-.2l.7-.7l.7-.5l.7 .1l.7 1.4l.7-1.5l.8 .4l.7-.4l.7-.8l.7 .4l.7 1l.7-.2l.8 .3l.7-1l.7 .4l.7-.4l.7-.3l.7 1.8l.7-.4l.8 .1l.7 0l.7 .3l.7-.3l.7-.1l.7 .2l.8-.6l.7-.3l.7 .7l.7-1.8l.7 .6l.7 1.5l.7 .9l.8-2.9l.7 2.4l.7-1.8l.7 .6l.7-.1l.7-.5l.8-.5l.7 .4l.7-.3l.7 .4l.7-1.3l.7-.6l.8 1.4l.7 .4l.7 0l.7 .6l.7 .1l.7-.3l.7 1.3l.8-.9l.7-.1l.7 0l.7 .5l.7-.5l.7 0l.8-.5l.7 1.7l.7 .7l.7-1.7l.7-.4l.7 .6l.8-.4l.7 .5l.7 .1l.7 .1l.7-1l.7-.5l.7 1.2l.8 1l.7-.7l.7-.3l.7 0l.7-.5l.7 1.3l.8-.4l.7 1.1l.7-1.2l.7-.6l.7 1.4l.7-1.3l.7 .1l.8 1.2l.7-2.5l.7 0l.7 1.4l.7-.7l.7 1.6l.8-.3l.7-.3l.7-1.3l.7 0l.7 .8l.7-.8l.8 1.6l.7 .4l.7-1.1l.7-.8l.7 1.9l.7-1.3l.7 .8l.8 .1l.7-.4l.7-.9l.7-.1l.7 .5l.7 .8l.8 0l.7-1.1l.7 .2l.7 .5l.7 .6l.7-.3l.8-.6l.7 .9l.7 1l.7-1l.7 .1l.7-.6l.7 0l.8 1.5l.7-1.7l.7-.1l.7 .2l.7 .2l.7-1.2l.8 .3l.7 .6l.7-.5l.7 1l.7 .6l.7-1.8l.8 .5l.7 1.1l.7-1.6l.7 1.9l.7-1.1l.7 1.4l.7-1.8l.8 1.2l.7-.6l.7-.6l.7 .1l.7-.1l.7-.5l.8 1l.7-.1l.7 .3l.7-.4l.7 .3l.7-1.5l.8 .7l.7 .3l.7-1.1l.7 .7l.7-.2l.7 .5l.7 1.7l.8-.9l.7 .4l.7-1.3l.7-.2l.7-.4l.7-.6l.8 .7l.7 1.3l.7-3.5l.7 .2l.7-1.2l.7-.8l.7-4.8l.8-10.2l.7-6.8l.7-4.1l.7-.1l.7-1.7l.7 .7l.8 2.7l.7 2.3l.7 6.1l.7 3.6l.7 4.6l.7 1.6l.8 3.8l.7-.5l.7 2.9l.7 2.1l.7 0l.7 0l.7 .6l.8 .4l.7 .2l.7 .3l.7-1.3l.7 2.5l.7-1.9l.8 1.6l.7 .3l.7-1.8l.7 2.3l.7 .4l.7-1.2l.8-.1l.7 .5l.7 0l.7-1.1l.7 1.2l.7-.9l.7 0l.8-.8l.7 1.4l.7-.1l.7 .3l.7-.1l.7 .3l.8-1.1l.7 1.1l.7 .2l.7 .3l.7 .9l.7-2.4l.7 .5l.8-.1l.7 1.5l.7-1.2l.7 .3l.7-.4l.7-.2l.8-.3l.7 1.3l.7-.8l.7 .8l.7-.8l.7 .2l.8 .8l.7-.5l.7-.9l.7 1.2l.7-1.1l.7 .9l.7 .1l.8 .2l.7-.8l.7 .6l.7 .2l.7 .6l.7-1.2l.8 .1l.7-1l.7 1.3l.7-.1l.7 .7l.7-.5l.8 .8l.7-.1l.7-1.7l.7 1.4l.7-1.9l.7 .3l.7 .3l.8-.6l.7-.9l.7 .6l.7 .2l.7-.2l.7-1.2l.8 .6l.7-.7l.7 .3l.7 .8l.7 .8l.7-.9l.8 1.1l.7-.5l.7-1.1l.7 0l.7 1l.7 0l.7 1.2l.8-1.5l.7 .4l.7-.1l.7 1.5l.7-1.3l.7-.1l.8 .6l.7-1.1l.7 1.2l.7-.4l.7-1.8l.7-.9l.8 1.2l.7-.7l.7-4.9l.7-4.3l.7-5.2l.7-5.9l.7-1.1l.8 1.9l.7-1.3l.7-.7l.7 3.2l.7 .3l.7 3.5l.8 3.4l.7 3.2l.7 1.8l.7 2.6l.7 1.3l.7 1.8l.7-1.2l.8 3.6l.7-.3l.7 0l.7 .1l.7-.4l.7-.5l.8 1.7l.7 .6l.7-2.4l.7 1.4l.7 .3l.7 1.5l.8-1.2l.7-.9l.7 0l.7 .4l.7 .8l.7-1.4l.7 .2l.8 .9l.7-.7l.7 1l.7 .3l.7-.1l.7-.9l.8-.6l.7 1.4l.7-.9l.7 .2l.7-2.4l.7-2.1l.8-7.5l.7-2.6l.7-1l.7 4.5l.7 2.4l.7-.5l.7 1l.8 1.1l.7 3.1l.7 1.8l.7 1.5l.7-1.5l.7 2.2l.8 1l.7-1.8l.7 .1l.7 .4l.7 .6l.7-.3l.7-.4l.8 .9l.7-.8l.7 1.3l.7-.9l.7-.3l.7 0l.8 .7l.7 0l.7 .6l.7-1.1l.7 1.5l.7-1.9l.8 2.5l.7-.9l.7-.6l.7 0l.7 .5l.7 0l.7-.7l.8 1.6l.7-1.7l.7-.4l.7 2.4l.7-1.7l.7 .5l.8 .6l.7-.3l.7-.3l.7 .8l.7-.8l.7 .3l.8-.5l.7 .1l.7-.2l.7 0l.7 .1l.7-.5l.7 1.1l.8-.9l.7-.2l.7-.1l.7-.7l.7 .6l.7 .1l.8 0l.7 .5l.7 .1l.7 0l.7 .1l.7 .6l.8-.9l.7 .5l.7-.6l.7 1.4l.7-1.4l.7 1.4l.7-2.2l.8 1.1l.7-1.1l.7 1.3l.7 .7l.7-.6l.7-.5l.8 .2l.7-.8l.7 .7l.7 .2l.7 0l.7 .8l.7-1.2l.8 .1l.7 .4l.7 .3l.7-.6l.7 0l.7-1.2l.8 0l.7 1.5l.7 1.1l.7-2.2l.7 1.5l.7 .1l.8-1.6l.7 .9l.7-.8l.7 .4l.7 1.2l.7-.1l.7-1.2l.8-.7l.7 1.7l.7-.7l.7 1.4l.7-1.2l.7 0l.8-.3l.7 1.3l.7-.9l.7 .1l.7-.4l.7 1.6l.8-1l.7-.5l.7 1.2l.7-1.5l.7-.2l.7 0l.7 .3l.8 .9l.7-.7l.7 .5l.7-.7l.7 .9l.7-1.8l.8 1.5l.7-.9l.7-.5l.7 .3l.7 1.4l.7-1l.8 1.4l.7-1.6l.7 .2l.7 .3l.7-2.6l.7-2.7l.7-6.2l.8 .2l.7 .4l.7 4l.7-.7l.7-.5l.7 .6l.8 1.7l.7 1.9l.7 1.1l.7-.2l.7 1.8l.7 .3l.7 .4l.8 .2l.7-1l.7 1.5l.7-1.2l.7 .7l.7 0l.8 .2l.7 .4l.7 .4l.7-.2l.7-1.8l.7 1.4l.8-.3l.7 1.3l.7-.6l.7 .1l.7-1.2l.7 .2l.7-.3l.8 1.4l.7-.3l.7-.2l.7-.2l.7 .2l.7-.3l.8-1.7l.7-2.1l.7-1.5l.7-1.4l.7 1.2l.7-1.4l.8 1.2l.7 2.1l.7-.9l.7-.7l.7 .8l.7 2.1l.7 .1l.8 1.9l.7-1.6l.7 1.1l.7 .1l.7 .2l.7 .3l.8-.4l.7 .3l.7 1.2l.7-1.1l.7 .6l.7 .1l.8-.7l.7-.3l.7-.2l.7-.3l.7-2.5l.7-.9l.7 .1l.8-1.8l.7 1.9l.7 .3l.7-.9l.7-.7l.7 1.1l.8 .3l.7 1.8l.7 .3l.7-.4l.7 .3l.7 1.4l.8-.4l.7 .1l.7 2.1l.7-2.2l.7 1.7l.7-.2l.7 0l.8 .3l.7-1.6l.7 1.1l.7-.5l.7 .4l.7 1l.8-.8l.7-.4l.7 .1l.7-.2l.7 1.3l.7-.4l.7-.3l.8 .1l.7-1.2l.7 1.1l.7-.1l.7-1.5l.7 1.4l.8-.5l.7 0l.7 1.6l.7-.9l.7-.3l.7-.3l.8-.2l.7 1.2l.7 .2l.7-.1l.7-1.1l.7 .2l.7 .1l.8-.4l.7 .9l.7 .1l.7-.5l.7 .5l.7-.2l.8-.3l.7 0l.7 0l.7 1l.7-1.3l.7-.2l.8-.9l.7 2.3l.7 0l.7-1.2l.7-.8l.7 1.3l.7-.2l.8-.7l.7 .9l.7-.9l.7 1.3l.7-.6l.7-.2l.8-1l.7-1.8l.7-2.7l.7-4.4l.7-.7l.7 .1l.7 5.2l.8 .9l.7-1.6l.7-.2l.7 2.4l.7-.5l.7 3l.8-1l.7-.5l.7 2.8l.7-1.7l.7 1.7l.7 .6l.8-.6l.7-.5l.7 .4l.7-.2l.7 .9l.7-.4l.7-1l.8 1.4l.7-.4l.7-.3l.7 1.7l.7-1.7l.7-.2l.8 .2l.7 .4l.7-1l.7 1.5l.7-.7l.7 .2l.8-1l.7 0l.7 .7l.7 1.6l.7-1.6l.7 .9l.7-.2l.8 .9l.7-1.4l.7 .1l.7-1.1l.7 .5l.7-.1l.8-.7l.7 .7l.7 1.4l.7-.6l.7 .2l.7 .2l.8-.1l.7-1.6l.7 1.2l.7 .7l.7 .8l.7-1.5l.7 .7l.8-.5l.7-.5l.7-.6l.7-.1l.7 .6l.7 1.3l.8-1.8l.7 .4l.7 .2l.7 .2l.7 .6l.7-.5l.8-.1l.7 0l.7-.1l.7 .1l.7 .7l.7 0l.7-1.5l.8 1.1l.7-.5l.7-.9l.7 1.9l.7-.4l.7-.6l.8-.1l.7 .6l.7-.9l.7 1.4l.7-1l.7 .5l.7 0l.8 .3l.7 .6l.7-1.2l.7 .4l.7-.9l.7 1.9l.8-1.3l.7-.8l.7 .9l.7 .3l.7-.4l.7-.6l.8 .5l.7 .1l.7 .5l.7 .4l.7-1.2l.7-.2l.7 .4l.8 .2l.7-.4l.7-.3l.7 .7l.7 .6l.7 0l.8-.7l.7 .3l.7-1.5l.7 .9l.7 0l.7 .7l.8-.8l.7 1l.7-.8l.7 .6l.7-1.1l.7 .5l.7 .5l.8-.5l.7 1.3l.7-.7l.7 .6l.7-1.6l.7 .6l.8 .3l.7 .8l.7-1.2l.7-.3l.7 1.2l.7 0l.7-.8l.8 .6l.7-1.2l.7 .3l.7 1.3l.7-.6l.7 .5l.8 .6l.7-1.2l.7-.1l.7 .1l.7-.5l.7 .3l.8-.2l.7-1.4l.7 2.3l.7-1.5l.7 1.1l.7-1.2l.7-.3l.8 .4l.7-.2l.7-.9l.7-4.2l.7 .8l.7-.4l.8-.1l.7 1.3l.7-1l.7 1.3l.7 1l.7-1l.8 1.6l.7 .8l.7 .4l.7 .9l.7-.5l.7-.1l.7 1.2l.8-1l.7 2.1l.7-.8l.7-.4l.7-.3l.7 1.5l.8-1.9l.7 1.4l.7-1l.7 .4l.7 .3l.7-1l.8 1.6l.7-1l.7-1.1l.7 1.3l.7 .2l.7-1.7l.7 1.5l.8-.5l.7-.6l.7 .6l.7-1.2l.7 2.6l.7-.9l.8 .3l.7-.2l.7-.7l.7 1.6l.7-1.1l.7-.8l.8 .9l.7-.7l.7 .5l.7-.4l.7 1l.7-.2l.7 .2l.8-.7l.7-.6l.7 .9l.7-.7l.7 1.4l.7-1.7l.8-.7l.7 .5l.7 .8l.7 0l.7-.5l.7 2.1l.7-1.9l.8 .2l.7 0l.7 .3l.7-.1l.7-.8l.7 .9l.8 1.1l.7-2.6l.7 1.6l.7 .4l.7-1.1l.7 1.3l.8-.5l.7-.4l.7 .3l.7-1.2l.7 1.5l.7 .4l.7-.2l.8-.3l.7-.4l.7 .1l.7 .4l.7-1.3l.7 .5l.8 .4l.7-.2l.7 1.5l.7-1.1l.7-.9l.7 .7l.8 .6l.7-.1l.7-.3l.7-.7l.7 .1l.7-.1l.7-.3l.8 1.1l.7 .2l.7-.5l.7-1.1l.7 .3l.7 1.3l.8 .8l.7-.7l.7-1l.7 .1l.7 1.5l.7-1.4l.7 .3l.8-.8l.7 .2l.7-.1l.7 .3l.7-1.1l.7 1.7l.8-.2l.7 1.3l.7-1.2l.7 .6l.7-2.3l.7 2l.8-.3l.7-.6l.7-.1l.7 .1l.7 .3l.7-.7l.7 1.4l.8-.1l.7-.8l.7 .1l.7 .5l.7 1.1l.7-2.6l.8 1.3l.7-.5l.7 .9l.7 .6l.7-1.1l.7-1.1l.8 1l.7-.1l.7-.3l.7 0l.7 1.1l.7-.4l.7-.1l.8-.8l.7 .3l.7-.5l.7 1.2l.7 .4l.7-1.3l.8 .2l.7-.5l.7 1.1l.7-1.2l.7 .7l.7 .7l.8-1.6l.7 .7l.7 .3l.7-.5l.7 .4l.7 1.3l.7-1.8l.8 .7l.7-.5l.7-.6l.7 1.2l.7-1l.7-.6l.8-1l.7-3.5l.7-.1l.7-.8l.7 .2l.7-2.7l.8 2.3l.7-1.3l.7 .1l.7 1.6l.7 .5l.7 1l.7 2.1l.8-1.9l.7 1.7l.7 2l.7-.3l.7-.3l.7 .9l.8 .8l.7-1l.7 .5l.7-.7l.7 1.5l.7-1.1l.7 .2l.8 0l.7 .5l.7-.2l.7-.2l.7 .5l.7-1.5l.8 2.2l.7-3l.7 .5l.7-3.3l.7-7.6l.7-8.9l.8-3.5l.7 7.3l.7 4.2l.7 4.1l.7 3.6l.7 1.3l.7 1.8l.8-2.4l.7-4.3l.7-1l.7 2.4l.7 3.1l.7 1.4l.8 .3l.7 1.5l.7 .9l.7 .1l.7 .3l.7 .7l.8 .9l.7-1.9l.7 .8l.7-.4l.7 .8l.7-.5l.7-1.3l.8 1.9l.7-1.4l.7 .8l.7 .6l.7-.1l.7-.8l.8 .8l.7 .1l.7-.9l.7 .3l.7 .1l.7 .9l.7-.4l.8-.6l.7 1.1l.7-1.5l.7 .8l.7 .3l.7-.3l.8 .3l.7-1.5l.7 1l.7 .6l.7 .3l.7-.2l.8 .5l.7-1.8l.7 .9l.7-.1l.7-.5l.7-.4l.7 .4l.8 .9l.7-.3l.7 .2l.7 .3l.7-.6l.7 0l.8-.2l.7-.3l.7 .2l.7 1l.7-.6l.7-.6l.8 .4l.7-.2l.7-.5l.7 1.3l.7-.6l.7-.5l.7 .4l.8 .4l.7-1.1l.7 .5l.7 .5l.7-.2l.7 .2l.8-.2l.7 .7l.7 .3l.7-1.1l.7 .2l.7 .6l.8-.3l.7-.6l.7 .6l.7-.7l.7 1.3l.7-.6l.7 .5l.8-1.1l.7 .4l.7 .7l.7-.5l.7-.3l.7 .5l.8-.6l.7-.6l.7-.1l.7 1.1l.7-1l.7 1.6l.8-.7l.7-.2l.7 .2l.7 .5l.7-.7l.7-.2l.7-.2l.8 1.6l.7-1.9l.7 .5l.7-.4l.7-.1l.7-.1l.8 1.1l.7-.5l.7 0l.7 .3l.7 .3l.7-1.4l.7 1.8l.8 0l.7-.7l.7-.1l.7 0l.7-.9l.7 1.3l.8-.7l.7 .8l.7 .3l.7-.5l.7-1.8l.7 1.9l.8-1l.7 .8l.7-.3l.7 .1l.7-.4l.7 1l.7-1.1l.8 1.3l.7-.7l.7-.3l.7 .1l.7 .4l.7-1.3l.8 1l.7 .3l.7-.5l.7-.2l.7 1.8l.7-2.2l.8 .5l.7-.6l.7 1.7l.7-1.1l.7 .4l.7-.1l.7 .2l.8-.2l.7 .1l.7 .8l.7-.4l.7 .1l.7-.9l.8 .2l.7 .6l.7-1.8l.7 1.1l.7-1.4l.7 1.7l.7-1.8l.8 1.6l.7-.5l.7 .4l.7-.4l.7 1.3l.7-1.4l.8 .4l.7-.7l.7 .8l.7-.7l.7-.2l.7-.1l.8 0l.7-3l.7-2.5l.7-.7l.7-2.2l.7-.5l.7-.6l.8 .2l.7 2.2l.7 .2l.7-1.4l.7 2l.7 .8l.8 .1l.7 3.5l.7-.6l.7 .9l.7-.2l.7 0l.8 1.2l.7 .2l.7-.1l.7 .4l.7 .3l.7-.4l.7 1.1l.8-.6l.7-.2l.7 1.3l.7-.6l.7-1l.7 .5l.8-.6l.7 1.6l.7 .8l.7-1.1l.7-.8l.7 1l.8-.1l.7-.7l.7-.6l.7 .9l.7 .8l.7-2.3l.7-2.1l.8-.2l.7-2.1l.7 1.8l.7 1l.7 .3l.7 0l.8 2.4l.7-2.3l.7-1.3l.7 2.6l.7 1l.7-1.7l.8 1.6l.7-.7l.7 .6l.7 0l.7-.5l.7 1l.7-.4l.8 1.6l.7-1.7l.7-.3l.7-.8l.7 1.2l.7-.3l.8-.5l.7 .4l.7-.7l.7 .6l.7 .9l.7 1.3l.7-.5l.8-.9l.7 .6l.7-.2l.7-.1l.7 .3l.7 .8l.8-1l.7-.8l.7 2l.7-2.4l.7 2.5l.7-.3l.8-.8l.7 .4l.7-1.5l.7 .9l.7 .7l.7 .1l.7 .5l.8-.8l.7 .1l.7 .2l.7 0l.7-.2l.7 .2l.8 .4l.7-1.4l.7 .4l.7-.5l.7 1.2l.7-1.6l.8 1.2l.7 .3l.7-.4l.7 .2l.7-1.1l.7 1.2l.7 .4l.8-.4l.7 .4l.7-1.1l.7 .5l.7 .5l.7-.6l.8-.5l.7 .3l.7-.4l.7 .9l.7 .1l.7-.6l.7-1.2l.8 1.4l.7-1l.7 .7l.7-.6l.7 1.1l.7 .5l.8-.2l.7-1.4l.7 1.9l.7-1.4l.7 .2l.7 .1l.8-.1l.7 .7l.7-.4l.7-.1l.7 .5l.7-1.9l.7 1.6l.8 0l.7 .3l.7-1l.7 .5l.7-1l.7 2.1l.8-2l.7 1.5l.7 .2l.7-.9l.7-.3l.7 .4l.8 .2l.7 0l.7-.8l.7 .9l.7-1.2l.7 1.1l.7-.8l.8-.2l.7 1.1l.7-.2l.7 .4l.7-.4l.7 .1l.8 .6l.7-2l.7 2.2l.7-.6l.7-.8l.7 .2l.8 .7l.7 .2l.7 0l.7-1l.7 .2l.7-.5l.7-.1l.8 0l.7 .2l.7 .9l.7-.2l.7 .5l.7-.4l.8-.4l.7-.3l.7-.3l.7 .8l.7-.8l.7 .1l.8 .6l.7 .4l.7-.4l.7 .1l.7-.4l.7 .3l.7 0l.8-.7l.7 .5l.7 0l.7-.7l.7 1.1l.7-.7l.8-.2l.7 .1l.7 .8l.7 .8l.7-.2l.7-.4l.7-.8l.8-.1l.7 .5l.7 1l.7 .2l.7-1.3l.7-.2l.8 .6l.7-.4l.7-.1l.7 .4l.7-.1l.7 1l.8-.6l.7-.2l.7-1.5l.7 1.1l.7-1.1l.7 1.4l.7 .2l.8 .4l.7 .7l.7-1.5l.7-.6l.7 .9l.7-1.6l.8 2.4l.7-1.2l.7 1.5l.7-1.5l.7-.4l.7 .4l.8-.7l.7 .3l.7 1.5l.7-1.3l.7 1.2l.7-1.1l.7 .4l.8 0l.7 .8l.7 .5l.7-1.5l.7-.1l.7 .1l.8-.9l.7 .9l.7-.2l.7 .2l.7-.6l.7 .7l.7 .1l.8 .6l.7-.8l.7 .2l.7-.3l.7 0l.7 .4l.8 1.2l.7-1.3l.7-.5l.7 .5l.7-.4l.7 .6l.8-.7l.7-.7l.7 .4l.7 1.4l.7-.9l.7-1l.7 1.5l.8-.6l.7 .5l.7-.9l.7 .7l.7 .3l.7-.9l.8 .5l.7 .2l.7-2.2l.7-1.1l.7-1l.7-4.4l.8-4.9l.7 1.3l.7-.2l.7-.7"/>
</g>
<g id="lglines" fill="#000" shape-rendering="crispEdges">
<rect x="1086.9" y="115" width="149.2" height="6.8"/>
<rect x="1090" y="216.6" width="149" height="6.8"/>
<rect x="1562" y="118.1" width="149.4" height="6.8"/>
<rect x="1562" y="217.6" width="149.4" height="6.8"/>
</g>
<g id="markers">
<text id="lg_spade" class="sym" transform="translate(1022.86 142.55) scale(0.5138 0.5249)" font-size="100">♠</text>
<text id="lg_club" class="sym" transform="translate(1023.68 233.60) scale(0.5474 0.5660)" font-size="100">♣</text>
<text id="lg_square" transform="translate(1506.70 141.02) scale(0.8330 0.7856)" font-size="100">■</text>
<text id="lg_circle" transform="translate(1501.67 239.32) scale(0.7214 0.6960)" font-size="100">●</text>
<text id="s_top" class="sym" transform="translate(945.85 97.99) scale(0.3701 0.3858)" font-size="100">♠</text>
<text id="s_2086" class="sym" transform="translate(739.95 383.79) scale(0.3701 0.3858)" font-size="100">♠</text>
<text id="s_3564" class="sym" transform="translate(1271.15 436.99) scale(0.3701 0.3858)" font-size="100">♠</text>
<text id="s_3654" class="sym" transform="translate(1302.55 445.09) scale(0.3701 0.3858)" font-size="100">♠</text>
<text id="s_3945" class="sym" transform="translate(1405.85 442.89) scale(0.3701 0.3858)" font-size="100">♠</text>
<text id="s_4245" class="sym" transform="translate(1513.95 446.39) scale(0.3701 0.3858)" font-size="100">♠</text>
<text id="s_5013" class="sym" transform="translate(1789.95 428.19) scale(0.3701 0.3858)" font-size="100">♠</text>
<text id="c_1386" class="sym" transform="translate(483.00 446.30) scale(0.4480 0.4496)" font-size="100">♣</text>
<text id="c_2200" class="sym" transform="translate(771.10 445.30) scale(0.4480 0.4496)" font-size="100">♣</text>
<text id="c_2353" class="sym" transform="translate(828.70 440.30) scale(0.4480 0.4496)" font-size="100">♣</text>
<text id="c_2418" class="sym" transform="translate(854.50 438.20) scale(0.4480 0.4496)" font-size="100">♣</text>
<text id="c_2793" class="sym" transform="translate(989.20 387.20) scale(0.4480 0.4496)" font-size="100">♣</text>
<text id="c_3020" class="sym" transform="translate(1069.00 457.20) scale(0.4480 0.4496)" font-size="100">♣</text>
<text id="o_3315" transform="translate(1184.64 432.24) scale(0.5595 0.5595)" font-size="100">●</text>
<text id="o_3504" transform="translate(1246.94 462.44) scale(0.5595 0.5595)" font-size="100">●</text>
<text id="o_4028" transform="translate(1438.74 459.04) scale(0.5595 0.5595)" font-size="100">●</text>
<text id="o_4576" transform="translate(1631.44 460.54) scale(0.5595 0.5595)" font-size="100">●</text>
<text id="o_4947" transform="translate(1763.24 458.14) scale(0.5595 0.5595)" font-size="100">●</text>
<text id="q_1" transform="translate(203.87 592.74) scale(0.5052 0.4985)" font-size="100">■</text>
<text id="q_2" transform="translate(614.67 618.24) scale(0.5052 0.4985)" font-size="100">■</text>
</g>
<g id="labels">
<text id="tick10" transform="translate(326.48 1755.30)" font-size="83.30">10</text>
<text id="tick20" transform="translate(685.64 1755.30)" font-size="83.30">20</text>
<text id="tick30" transform="translate(1042.11 1755.30)" font-size="83.30">30</text>
<text id="tick40" transform="translate(1401.07 1755.30)" font-size="83.30">40</text>
<text id="tick50" transform="translate(1758.54 1755.30)" font-size="83.30">50</text>
<text id="tick60" transform="translate(2117.50 1755.30)" font-size="83.30">60</text>
<text id="xtitle" transform="translate(899.55 1898.00) scale(1.0170 1.0000)" font-size="83.30">2 Theta (Deg.)</text>
<text id="ytitle" transform="translate(85.20 1122.50) rotate(-90) scale(1.0200 1.0000)" font-size="83.30">Indensity (a.u.)</text>
<text id="lg_quartz" transform="translate(1249.05 135.30) scale(1.0080 1.0000)" font-size="60.50">Quartz</text>
<text id="lg_albite" transform="translate(1250.00 240.30)" font-size="60.50">Albite</text>
<text id="lg_mont" transform="translate(1724.90 138.10) scale(0.9980 1.0000)" font-size="60.50">Montmorillonite</text>
<text id="lg_hem" transform="translate(1725.45 236.50) scale(0.9940 1.0000)" font-size="60.50">Hematite</text>
<text id="ta_700" transform="translate(1968.90 428.30) scale(1.0180 1.0000)" font-size="60.50">700 °C</text>
<text id="ta_500" transform="translate(1975.40 529.60) scale(1.0120 1.0000)" font-size="60.50">500 °C</text>
<text id="ta_300" transform="translate(1970.90 613.40) scale(1.0240 1.0000)" font-size="60.50">300 °C</text>
<text id="ta_unt" transform="translate(1888.25 695.50) scale(0.9980 1.0000)" font-size="60.50">Untreated</text>
<text id="tb_700" transform="translate(1964.10 877.40) scale(1.0180 1.0000)" font-size="60.50">700 °C</text>
<text id="tb_500" transform="translate(1970.90 979.20) scale(1.0180 1.0000)" font-size="60.50">500 °C</text>
<text id="tb_300" transform="translate(1966.60 1063.60) scale(1.0180 1.0000)" font-size="60.50">300 °C</text>
<text id="tb_unt" transform="translate(1884.30 1146.10) scale(0.9960 1.0000)" font-size="60.50">Untreated</text>
<text id="tc_700" transform="translate(1964.10 1303.20) scale(1.0180 1.0000)" font-size="60.50">700 °C</text>
<text id="tc_500" transform="translate(1970.90 1405.60) scale(1.0180 1.0000)" font-size="60.50">500 °C</text>
<text id="tc_300" transform="translate(1966.60 1489.80) scale(1.0180 1.0000)" font-size="60.50">300 °C</text>
<text id="tc_unt" transform="translate(1884.30 1571.80) scale(0.9960 1.0000)" font-size="60.50">Untreated</text>
<text id="Ma" transform="translate(213.35 384.90) scale(1.0240 1.0000)" font-size="69.00">M</text>
<text id="Mas" transform="translate(279.20 405.20)" font-size="48.00">a</text>
<text id="Mb" transform="translate(215.70 829.80) scale(1.0160 1.0000)" font-size="69.00">M</text>
<text id="Mbs" transform="translate(280.70 850.40)" font-size="48.00">b</text>
<text id="Mc" transform="translate(215.70 1274.90) scale(1.0160 1.0000)" font-size="69.00">M</text>
<text id="Mcs" transform="translate(280.15 1294.00)" font-size="48.00">c</text>
</g>
</svg></body></html>
